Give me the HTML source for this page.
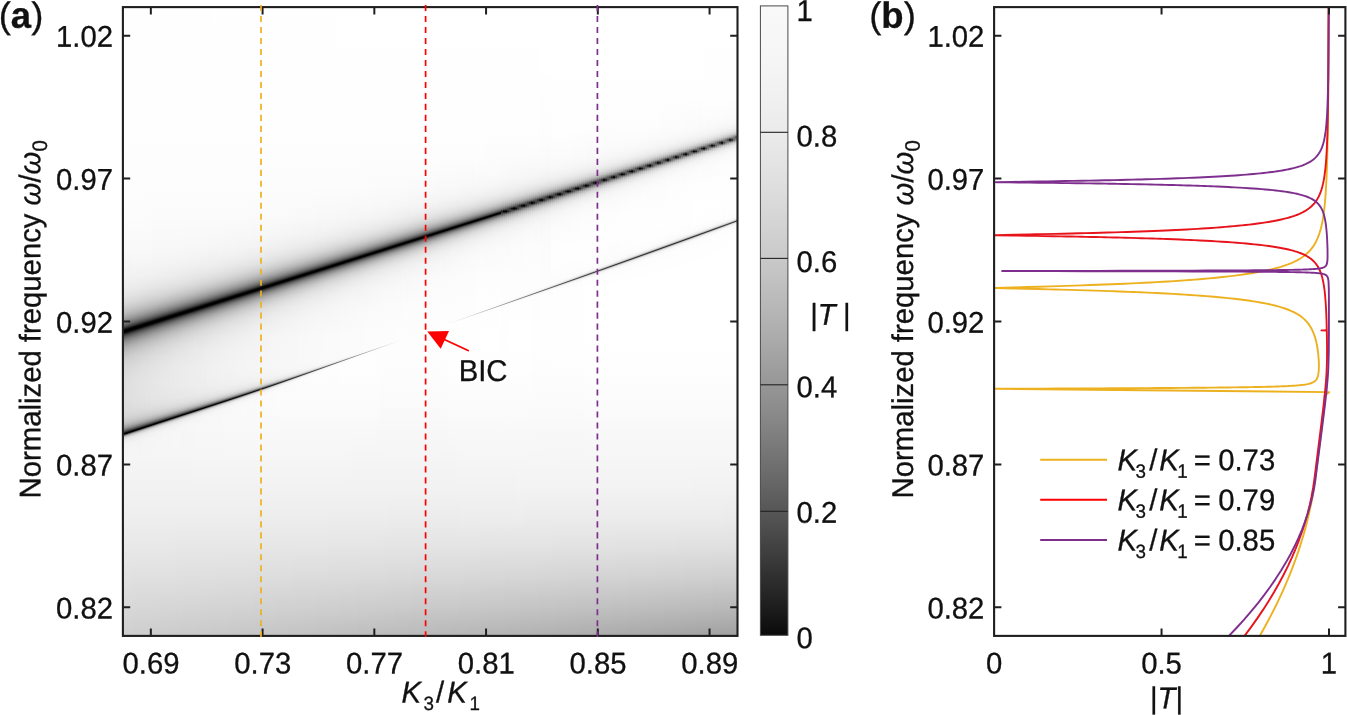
<!DOCTYPE html>
<html lang="en"><head><meta charset="utf-8"><title>Figure</title>
<style>
html,body{margin:0;padding:0;background:#fff}
body{width:1347px;height:715px;position:relative;overflow:hidden}
#hm{position:absolute;left:123px;top:7px;width:615px;height:629px;overflow:hidden}
#hm i{position:absolute;top:0;width:2px;height:629px;display:block;transform:skewY(-18.3deg)}
#hm i.n{transform:none}
svg{position:absolute;left:0;top:0}
</style></head><body>
<div id="hm"><i style="left:0px;background:linear-gradient(#fefefe 0px,#fefefe 30px,#fefefe 60px,#fefefe 90px,#fefefe 120px,#fdfdfd 150px,#fdfdfd 180px,#fcfcfc 210px,#f9f9f9 240px,#f2f2f2 270px,#ececec 279.75px,#e5e5e5 287.75px,#dcdcdc 294.5px,#d0d0d0 300px,#c2c2c2 304.5px,#b2b2b2 308.25px,#9e9e9e 311.75px,#878787 314.75px,#6e6e6e 317.25px,#505050 319.5px,#3f3f3f 320.5px,#303030 321.25px,#060606 323px,#010101 323.5px,#000000 325.25px,#040404 325.75px,#090909 326px,#292929 327.25px,#3a3a3a 328px,#4c4c4c 329px,#5b5b5b 330px,#767676 332.25px,#8c8c8c 334.75px,#9f9f9f 337.75px,#b0b0b0 341.25px,#bdbdbd 345px,#c8c8c8 349.25px,#d0d0d0 354.25px,#d6d6d6 360px,#dddddd 373.25px,#dfdfdf 390px,#dbdbdb 402.75px,#d7d7d7 407.25px,#d1d1d1 411px,#cacaca 414px,#c1c1c1 416.25px,#b4b4b4 418.25px,#a4a4a4 420px,#8c8c8c 421.75px,#6f6f6f 423.25px,#555555 424.25px,#3e3e3e 425px,#2c2c2c 425.5px,#0c0c0c 426.25px,#040404 426.5px,#010101 426.75px,#010101 427.25px,#080808 427.5px,#242424 427.75px,#444444 428px,#5e5e5e 428.25px,#747474 428.5px,#878787 428.75px,#979797 429px,#a5a5a5 429.25px,#bababa 429.75px,#c8c8c8 430.25px,#d2d2d2 430.75px,#dddddd 431.5px,#e3e3e3 432.25px,#e9e9e9 433.25px,#f0f0f0 436.25px,#f4f4f4 441px,#f5f5f5 450px,#f2f2f2 480px,#eeeeee 510px,#e8e8e8 540px,#e1e1e1 570px,#d8d8d8 600px,#cecece 629px)"></i><i style="left:2px;background:linear-gradient(#fefefe 0px,#fefefe 30px,#fefefe 60px,#fefefe 90px,#fefefe 120px,#fdfdfd 150px,#fdfdfd 180px,#fcfcfc 210px,#f9f9f9 240px,#f2f2f2 270px,#ececec 279.75px,#e5e5e5 287.75px,#dbdbdb 294.5px,#cecece 300px,#c1c1c1 304.25px,#b1b1b1 308px,#9e9e9e 311.25px,#878787 314.25px,#6d6d6d 316.75px,#525252 318.75px,#424242 319.75px,#333333 320.5px,#090909 322.25px,#050505 322.5px,#010101 323px,#000000 324.5px,#030303 325px,#0c0c0c 325.5px,#272727 326.5px,#3d3d3d 327.5px,#525252 328.75px,#646464 330px,#7c7c7c 332.25px,#919191 334.75px,#a3a3a3 337.75px,#b3b3b3 341.25px,#c0c0c0 345px,#c9c9c9 349.25px,#d1d1d1 354.25px,#d7d7d7 360px,#dedede 373.5px,#dfdfdf 390px,#dbdbdb 403px,#d7d7d7 407.5px,#d1d1d1 411px,#c8c8c8 414px,#bebebe 416.25px,#b0b0b0 418.25px,#9d9d9d 420px,#868686 421.5px,#6c6c6c 422.75px,#595959 423.5px,#424242 424.25px,#313131 424.75px,#070707 425.75px,#020202 426px,#000000 426.5px,#030303 426.75px,#181818 427px,#3a3a3a 427.25px,#565656 427.5px,#6d6d6d 427.75px,#818181 428px,#929292 428.25px,#a1a1a1 428.5px,#b7b7b7 429px,#c6c6c6 429.5px,#d5d5d5 430.25px,#dfdfdf 431px,#e6e6e6 432px,#ebebeb 433px,#f1f1f1 436px,#f4f4f4 441px,#f5f5f5 450px,#f2f2f2 480px,#eeeeee 510px,#e8e8e8 540px,#e1e1e1 570px,#d8d8d8 600px,#cecece 629px)"></i><i style="left:4px;background:linear-gradient(#fefefe 0px,#fefefe 30px,#fefefe 60px,#fefefe 90px,#fefefe 120px,#fdfdfd 150px,#fdfdfd 180px,#fcfcfc 210px,#f9f9f9 240px,#f1f1f1 270px,#ececec 279.75px,#e4e4e4 287.75px,#dadada 294.5px,#cdcdcd 300px,#c0c0c0 304px,#afafaf 307.75px,#9c9c9c 311px,#868686 313.75px,#6f6f6f 316px,#555555 318px,#363636 319.75px,#070707 321.75px,#030303 322px,#000000 322.5px,#000000 324px,#050505 324.5px,#101010 325px,#2a2a2a 326px,#404040 327px,#595959 328.5px,#6c6c6c 330px,#838383 332.25px,#989898 335px,#a9a9a9 338px,#b6b6b6 341.25px,#c2c2c2 345px,#cbcbcb 349.25px,#d3d3d3 354.25px,#d8d8d8 360px,#dfdfdf 373.5px,#e0e0e0 390px,#dbdbdb 403.25px,#d6d6d6 407.75px,#d0d0d0 411.25px,#c6c6c6 414.25px,#bababa 416.5px,#ababab 418.25px,#969696 420px,#808080 421.25px,#636363 422.5px,#4e4e4e 423.25px,#3e3e3e 423.75px,#2b2b2b 424.25px,#0a0a0a 425px,#030303 425.25px,#000000 425.75px,#010101 426px,#0e0e0e 426.25px,#2e2e2e 426.5px,#4c4c4c 426.75px,#656565 427px,#7b7b7b 427.25px,#8d8d8d 427.5px,#9c9c9c 427.75px,#a9a9a9 428px,#bdbdbd 428.5px,#cacaca 429px,#d4d4d4 429.5px,#dedede 430.25px,#e6e6e6 431.25px,#ebebeb 432.25px,#f1f1f1 435.25px,#f4f4f4 440.5px,#f5f5f5 450px,#f2f2f2 480px,#eeeeee 510px,#e8e8e8 540px,#e1e1e1 570px,#d8d8d8 600px,#cecece 629px)"></i><i style="left:6px;background:linear-gradient(#fefefe 0px,#fefefe 30px,#fefefe 60px,#fefefe 90px,#fefefe 120px,#fdfdfd 150px,#fdfdfd 180px,#fcfcfc 210px,#f9f9f9 240px,#f1f1f1 270px,#ebebeb 279.75px,#e4e4e4 287.75px,#d9d9d9 294.5px,#cbcbcb 300px,#bebebe 304px,#adadad 307.5px,#999999 310.75px,#838383 313.5px,#6b6b6b 315.75px,#4f4f4f 317.75px,#343434 319.25px,#090909 321px,#050505 321.25px,#010101 321.75px,#000000 323.25px,#030303 323.75px,#0d0d0d 324.25px,#333333 325.75px,#474747 326.75px,#5e5e5e 328.25px,#747474 330px,#898989 332.25px,#9c9c9c 335px,#acacac 338px,#b9b9b9 341.25px,#c4c4c4 345px,#cdcdcd 349.25px,#d4d4d4 354.25px,#d9d9d9 360px,#e0e0e0 373.5px,#e0e0e0 390px,#dbdbdb 403.5px,#d6d6d6 408px,#cecece 411.5px,#c4c4c4 414.25px,#b6b6b6 416.5px,#a5a5a5 418.25px,#989898 419.25px,#8c8c8c 420px,#737373 421.25px,#525252 422.5px,#424242 423px,#303030 423.5px,#0e0e0e 424.25px,#050505 424.5px,#010101 424.75px,#010101 425.25px,#060606 425.5px,#222222 425.75px,#434343 426px,#5d5d5d 426.25px,#747474 426.5px,#878787 426.75px,#979797 427px,#a5a5a5 427.25px,#bababa 427.75px,#c8c8c8 428.25px,#d7d7d7 429px,#e0e0e0 429.75px,#e7e7e7 430.75px,#ebebeb 431.75px,#f2f2f2 435px,#f4f4f4 440.25px,#f5f5f5 450px,#f2f2f2 480px,#eeeeee 510px,#e8e8e8 540px,#e1e1e1 570px,#d8d8d8 600px,#cecece 629px)"></i><i style="left:8px;background:linear-gradient(#fefefe 0px,#fefefe 30px,#fefefe 60px,#fefefe 90px,#fefefe 120px,#fdfdfd 150px,#fdfdfd 180px,#fcfcfc 210px,#f9f9f9 240px,#f1f1f1 270px,#ebebeb 279.75px,#e3e3e3 287.75px,#d8d8d8 294.5px,#cacaca 300px,#bcbcbc 303.75px,#acacac 307.25px,#999999 310.25px,#828282 313px,#6a6a6a 315.25px,#515151 317px,#404040 318px,#313131 318.75px,#070707 320.5px,#030303 320.75px,#000000 321.25px,#000000 322.75px,#050505 323.25px,#0a0a0a 323.5px,#313131 325px,#4a4a4a 326.25px,#646464 328px,#7b7b7b 330px,#8e8e8e 332.25px,#a0a0a0 335px,#b0b0b0 338px,#bdbdbd 341.5px,#c7c7c7 345.25px,#cfcfcf 349.5px,#dadada 360px,#e0e0e0 373.75px,#e1e1e1 390px,#dfdfdf 397.75px,#dbdbdb 403.5px,#d5d5d5 408px,#cdcdcd 411.5px,#c2c2c2 414.25px,#b2b2b2 416.5px,#9e9e9e 418.25px,#8f8f8f 419.25px,#818181 420px,#6b6b6b 421px,#4f4f4f 422px,#353535 422.75px,#090909 423.75px,#020202 424px,#000000 424.5px,#030303 424.75px,#161616 425px,#383838 425.25px,#545454 425.5px,#6c6c6c 425.75px,#818181 426px,#929292 426.25px,#a1a1a1 426.5px,#b7b7b7 427px,#c7c7c7 427.5px,#d6d6d6 428.25px,#dfdfdf 429px,#e7e7e7 430px,#ebebeb 431px,#f2f2f2 434.25px,#f4f4f4 439.75px,#f5f5f5 450px,#f2f2f2 480px,#eeeeee 510px,#e8e8e8 540px,#e1e1e1 570px,#d8d8d8 600px,#cecece 629px)"></i><i style="left:10px;background:linear-gradient(#fefefe 0px,#fefefe 30px,#fefefe 60px,#fefefe 90px,#fefefe 120px,#fdfdfd 150px,#fdfdfd 180px,#fcfcfc 210px,#f9f9f9 240px,#f6f6f6 257px,#f1f1f1 270px,#ebebeb 279.75px,#e2e2e2 287.75px,#d7d7d7 294.5px,#c8c8c8 300px,#bababa 303.75px,#aaaaaa 307px,#969696 310px,#818181 312.5px,#686868 314.75px,#505050 316.5px,#343434 318px,#090909 319.75px,#050505 320px,#010101 320.5px,#000000 322px,#030303 322.5px,#0d0d0d 323px,#222222 323.75px,#343434 324.5px,#4c4c4c 325.75px,#696969 327.75px,#818181 330px,#939393 332.25px,#a5a5a5 335px,#b3b3b3 338px,#bfbfbf 341.5px,#c9c9c9 345.25px,#d0d0d0 349.5px,#dbdbdb 360px,#e1e1e1 373.75px,#e1e1e1 390px,#dfdfdf 398px,#dbdbdb 404px,#d4d4d4 408.5px,#cbcbcb 411.75px,#bfbfbf 414.25px,#adadad 416.5px,#969696 418.25px,#858585 419.25px,#747474 420px,#5a5a5a 421px,#424242 421.75px,#2f2f2f 422.25px,#0d0d0d 423px,#040404 423.25px,#010101 423.5px,#010101 424px,#0c0c0c 424.25px,#4b4b4b 424.75px,#646464 425px,#7a7a7a 425.25px,#8c8c8c 425.5px,#9c9c9c 425.75px,#a9a9a9 426px,#bdbdbd 426.5px,#cbcbcb 427px,#d8d8d8 427.75px,#e1e1e1 428.5px,#e8e8e8 429.5px,#ececec 430.5px,#f2f2f2 434px,#f5f5f5 439.5px,#f5f5f5 450px,#f2f2f2 480px,#eeeeee 510px,#e8e8e8 540px,#e0e0e0 570px,#d8d8d8 600px,#cdcdcd 629px)"></i><i style="left:12px;background:linear-gradient(#fefefe 0px,#fefefe 30px,#fefefe 60px,#fefefe 90px,#fefefe 120px,#fdfdfd 150px,#fdfdfd 180px,#fcfcfc 210px,#f9f9f9 240px,#f5f5f5 257px,#f1f1f1 270px,#eaeaea 280px,#e1e1e1 288px,#d6d6d6 294.5px,#c6c6c6 300px,#b9b9b9 303.5px,#a8a8a8 306.75px,#949494 309.75px,#7e7e7e 312.25px,#676767 314.25px,#4e4e4e 316px,#323232 317.5px,#070707 319.25px,#030303 319.5px,#000000 320px,#010101 321.5px,#050505 322px,#0a0a0a 322.25px,#323232 323.75px,#4f4f4f 325.25px,#5e5e5e 326.25px,#6e6e6e 327.5px,#878787 330px,#989898 332.25px,#a8a8a8 335px,#b6b6b6 338px,#c1c1c1 341.5px,#cbcbcb 345.25px,#d2d2d2 349.5px,#dcdcdc 360px,#e2e2e2 374px,#e2e2e2 390px,#dfdfdf 398px,#dbdbdb 404px,#d3d3d3 408.5px,#c9c9c9 411.75px,#bcbcbc 414.25px,#b1b1b1 415.5px,#a7a7a7 416.5px,#999999 417.5px,#8d8d8d 418.25px,#787878 419.25px,#656565 420px,#4f4f4f 420.75px,#3e3e3e 421.25px,#2a2a2a 421.75px,#070707 422.5px,#020202 422.75px,#000000 423.25px,#050505 423.5px,#1f1f1f 423.75px,#404040 424px,#5c5c5c 424.25px,#737373 424.5px,#868686 424.75px,#979797 425px,#a5a5a5 425.25px,#bababa 425.75px,#c9c9c9 426.25px,#d7d7d7 427px,#e0e0e0 427.75px,#e7e7e7 428.75px,#ececec 429.75px,#f2f2f2 433.25px,#f5f5f5 439px,#f5f5f5 450px,#f2f2f2 480px,#eeeeee 510px,#e8e8e8 540px,#e0e0e0 570px,#d7d7d7 600px,#cdcdcd 629px)"></i><i style="left:14px;background:linear-gradient(#fefefe 0px,#fefefe 30px,#fefefe 60px,#fefefe 90px,#fefefe 120px,#fdfdfd 150px,#fdfdfd 180px,#fcfcfc 210px,#f9f9f9 240px,#f5f5f5 257px,#f0f0f0 270px,#eaeaea 280px,#e1e1e1 288px,#d4d4d4 294.5px,#c4c4c4 300px,#b6b6b6 303.5px,#a6a6a6 306.5px,#939393 309.25px,#7d7d7d 311.75px,#696969 313.5px,#505050 315.25px,#353535 316.75px,#0a0a0a 318.5px,#020202 319px,#000000 319.5px,#000000 320.75px,#040404 321.25px,#0e0e0e 321.75px,#232323 322.5px,#353535 323.25px,#454545 324px,#565656 325px,#646464 326px,#737373 327.25px,#8d8d8d 330px,#9f9f9f 332.5px,#adadad 335.25px,#bababa 338.25px,#c4c4c4 341.5px,#cccccc 345.25px,#d3d3d3 349.5px,#dddddd 360px,#e2e2e2 374px,#e2e2e2 390px,#dfdfdf 398px,#dadada 404px,#d3d3d3 408.5px,#c7c7c7 411.75px,#b8b8b8 414.25px,#acacac 415.5px,#a0a0a0 416.5px,#909090 417.5px,#818181 418.25px,#696969 419.25px,#535353 420px,#393939 420.75px,#232323 421.25px,#0b0b0b 421.75px,#030303 422px,#000000 422.25px,#020202 422.75px,#131313 423px,#353535 423.25px,#535353 423.5px,#6b6b6b 423.75px,#808080 424px,#929292 424.25px,#a1a1a1 424.5px,#adadad 424.75px,#c0c0c0 425.25px,#d2d2d2 426px,#e0e0e0 427px,#e7e7e7 428px,#efefef 430.25px,#f3f3f3 433.75px,#f5f5f5 450px,#f2f2f2 480px,#eeeeee 510px,#e8e8e8 540px,#e0e0e0 570px,#d7d7d7 600px,#cdcdcd 629px)"></i><i style="left:16px;background:linear-gradient(#fefefe 0px,#fefefe 30px,#fefefe 60px,#fefefe 90px,#fefefe 120px,#fdfdfd 150px,#fdfdfd 180px,#fcfcfc 210px,#f9f9f9 240px,#f5f5f5 257px,#f0f0f0 270px,#e9e9e9 280px,#e0e0e0 288px,#d3d3d3 294.5px,#c2c2c2 300px,#b5b5b5 303.25px,#a4a4a4 306.25px,#909090 309px,#7c7c7c 311.25px,#686868 313px,#4e4e4e 314.75px,#323232 316.25px,#070707 318px,#030303 318.25px,#000000 318.75px,#000000 320px,#020202 320.5px,#0b0b0b 321px,#272727 322px,#393939 322.75px,#474747 323.5px,#585858 324.5px,#696969 325.75px,#787878 327px,#929292 330px,#a3a3a3 332.5px,#b1b1b1 335.25px,#bcbcbc 338.25px,#c6c6c6 341.5px,#cecece 345.25px,#d5d5d5 349.5px,#dedede 360px,#e3e3e3 374px,#e2e2e2 390px,#dfdfdf 398.5px,#dadada 404.5px,#d1d1d1 408.75px,#c4c4c4 412px,#bcbcbc 413.25px,#b1b1b1 414.5px,#a6a6a6 415.5px,#979797 416.5px,#848484 417.5px,#737373 418.25px,#575757 419.25px,#3e3e3e 420px,#292929 420.5px,#101010 421px,#060606 421.25px,#010101 421.5px,#010101 422px,#0a0a0a 422.25px,#494949 422.75px,#636363 423px,#797979 423.25px,#8c8c8c 423.5px,#9c9c9c 423.75px,#b4b4b4 424.25px,#c5c5c5 424.75px,#d5d5d5 425.5px,#dfdfdf 426.25px,#e7e7e7 427.25px,#efefef 429.5px,#f3f3f3 433px,#f5f5f5 450px,#f2f2f2 480px,#eeeeee 510px,#e8e8e8 540px,#e0e0e0 570px,#d7d7d7 600px,#cdcdcd 629px)"></i><i style="left:18px;background:linear-gradient(#fefefe 0px,#fefefe 30px,#fefefe 60px,#fefefe 90px,#fefefe 120px,#fdfdfd 150px,#fdfdfd 180px,#fcfcfc 210px,#f9f9f9 240px,#f5f5f5 257px,#f0f0f0 270px,#e9e9e9 280px,#dfdfdf 288px,#d2d2d2 294.5px,#c0c0c0 300px,#b2b2b2 303.25px,#a2a2a2 306px,#909090 308.5px,#7b7b7b 310.75px,#666666 312.5px,#515151 314px,#353535 315.5px,#0a0a0a 317.25px,#020202 317.75px,#000000 318.25px,#000000 319.5px,#040404 320px,#0e0e0e 320.5px,#242424 321.25px,#363636 322px,#4a4a4a 323px,#5a5a5a 324px,#6b6b6b 325.25px,#7c7c7c 326.75px,#8a8a8a 328.25px,#989898 330px,#a7a7a7 332.5px,#b4b4b4 335.25px,#bfbfbf 338.25px,#c8c8c8 341.5px,#d6d6d6 349.5px,#dfdfdf 360px,#e3e3e3 374.25px,#e3e3e3 390px,#dfdfdf 398.5px,#d9d9d9 404.5px,#d0d0d0 408.75px,#c9c9c9 410.5px,#c1c1c1 412px,#b8b8b8 413.25px,#ababab 414.5px,#9a9a9a 415.75px,#888888 416.75px,#717171 417.75px,#5c5c5c 418.5px,#424242 419.25px,#222222 420px,#0a0a0a 420.5px,#020202 420.75px,#000000 421.25px,#040404 421.5px,#1c1c1c 421.75px,#3e3e3e 422px,#5a5a5a 422.25px,#727272 422.5px,#868686 422.75px,#979797 423px,#a5a5a5 423.25px,#bbbbbb 423.75px,#c3c3c3 424px,#cfcfcf 424.5px,#dbdbdb 425.25px,#e5e5e5 426.25px,#eaeaea 427.25px,#eeeeee 428.5px,#f3f3f3 432px,#f5f5f5 438.25px,#f5f5f5 450px,#f2f2f2 480px,#eeeeee 510px,#e8e8e8 540px,#e0e0e0 570px,#d7d7d7 600px,#cdcdcd 629px)"></i><i style="left:20px;background:linear-gradient(#fefefe 0px,#fefefe 30px,#fefefe 60px,#fefefe 90px,#fefefe 120px,#fdfdfd 150px,#fdfdfd 180px,#fcfcfc 210px,#f9f9f9 240px,#f5f5f5 257px,#f0f0f0 270px,#e8e8e8 280px,#dedede 288px,#d0d0d0 294.5px,#bebebe 300px,#b0b0b0 303px,#a0a0a0 305.75px,#8d8d8d 308.25px,#777777 310.5px,#626262 312.25px,#4b4b4b 313.75px,#333333 315px,#070707 316.75px,#030303 317px,#000000 317.5px,#000000 318.75px,#020202 319.25px,#0b0b0b 319.75px,#282828 320.75px,#393939 321.5px,#4d4d4d 322.5px,#606060 323.75px,#707070 325px,#808080 326.5px,#909090 328.25px,#9c9c9c 330px,#ababab 332.5px,#b7b7b7 335.25px,#c2c2c2 338.25px,#cacaca 341.5px,#d7d7d7 349.5px,#e0e0e0 360px,#e4e4e4 374.25px,#e3e3e3 390px,#dfdfdf 398.75px,#d9d9d9 404.75px,#cecece 409px,#c7c7c7 410.5px,#bebebe 412px,#b3b3b3 413.25px,#a4a4a4 414.5px,#959595 415.5px,#818181 416.5px,#676767 417.5px,#474747 418.5px,#333333 419px,#0f0f0f 419.75px,#050505 420px,#010101 420.25px,#020202 420.75px,#101010 421px,#323232 421.25px,#515151 421.5px,#6a6a6a 421.75px,#7f7f7f 422px,#929292 422.25px,#a1a1a1 422.5px,#adadad 422.75px,#c0c0c0 423.25px,#cecece 423.75px,#dadada 424.5px,#e2e2e2 425.25px,#e9e9e9 426.25px,#eeeeee 427.5px,#f3f3f3 431px,#f5f5f5 437.5px,#f5f5f5 450px,#f2f2f2 480px,#eeeeee 510px,#e8e8e8 540px,#e0e0e0 570px,#d7d7d7 600px,#cdcdcd 629px)"></i><i style="left:22px;background:linear-gradient(#fefefe 0px,#fefefe 30px,#fefefe 60px,#fefefe 90px,#fefefe 120px,#fdfdfd 150px,#fdfdfd 180px,#fbfbfb 210px,#f9f9f9 240px,#f5f5f5 257.25px,#f0f0f0 270px,#e8e8e8 280px,#dddddd 288px,#cfcfcf 294.5px,#bcbcbc 300px,#adadad 303px,#9e9e9e 305.5px,#8a8a8a 308px,#767676 310px,#646464 311.5px,#4d4d4d 313px,#303030 314.5px,#0a0a0a 316px,#020202 316.5px,#000000 317px,#000000 318.25px,#040404 318.75px,#0f0f0f 319.25px,#2b2b2b 320.25px,#424242 321.25px,#585858 322.5px,#6c6c6c 324px,#7b7b7b 325.25px,#898989 326.75px,#a1a1a1 330px,#afafaf 332.5px,#bababa 335.25px,#c4c4c4 338.25px,#cccccc 341.5px,#d8d8d8 349.5px,#e0e0e0 360px,#e4e4e4 374.5px,#e4e4e4 390px,#e0e0e0 398.5px,#d9d9d9 404.25px,#cecece 408.5px,#c7c7c7 410px,#bebebe 411.5px,#b2b2b2 412.75px,#a7a7a7 413.75px,#989898 414.75px,#848484 415.75px,#6b6b6b 416.75px,#4c4c4c 417.75px,#2d2d2d 418.5px,#080808 419.25px,#020202 419.5px,#010101 420px,#080808 420.25px,#252525 420.5px,#464646 420.75px,#616161 421px,#787878 421.25px,#8c8c8c 421.5px,#9c9c9c 421.75px,#a9a9a9 422px,#bebebe 422.5px,#c6c6c6 422.75px,#d1d1d1 423.25px,#dddddd 424px,#e4e4e4 424.75px,#eaeaea 425.75px,#eeeeee 427px,#f3f3f3 430.75px,#f5f5f5 437.25px,#f5f5f5 450px,#f2f2f2 480px,#eeeeee 510px,#e8e8e8 540px,#e0e0e0 570px,#d7d7d7 600px,#cdcdcd 629px)"></i><i style="left:24px;background:linear-gradient(#fefefe 0px,#fefefe 30px,#fefefe 60px,#fefefe 90px,#fefefe 120px,#fdfdfd 150px,#fdfdfd 180px,#fbfbfb 210px,#f9f9f9 240px,#f5f5f5 257.25px,#efefef 270px,#e7e7e7 280px,#dcdcdc 288px,#cdcdcd 294.5px,#b9b9b9 300px,#ababab 302.75px,#9b9b9b 305.25px,#898989 307.5px,#757575 309.5px,#5f5f5f 311.25px,#474747 312.75px,#2e2e2e 314px,#070707 315.5px,#010101 316px,#000000 316.5px,#010101 317.75px,#060606 318.25px,#2f2f2f 319.75px,#404040 320.5px,#5a5a5a 322px,#6f6f6f 323.5px,#7f7f7f 325px,#8d8d8d 326.5px,#a5a5a5 330px,#b2b2b2 332.5px,#bdbdbd 335.25px,#cecece 341.5px,#d9d9d9 349.5px,#e1e1e1 360px,#e5e5e5 374.5px,#e4e4e4 390px,#e1e1e1 397.5px,#dbdbdb 402.75px,#d3d3d3 406.75px,#c6c6c6 409.75px,#bcbcbc 411.25px,#adadad 412.75px,#9b9b9b 414px,#888888 415px,#6f6f6f 416px,#505050 417px,#333333 417.75px,#0d0d0d 418.5px,#040404 418.75px,#000000 419px,#000000 419.25px,#030303 419.5px,#181818 419.75px,#3b3b3b 420px,#585858 420.25px,#717171 420.5px,#858585 420.75px,#979797 421px,#a5a5a5 421.25px,#bbbbbb 421.75px,#cacaca 422.25px,#d9d9d9 423px,#e1e1e1 423.75px,#e7e7e7 424.5px,#efefef 426.75px,#f4f4f4 430.75px,#f5f5f5 450px,#f2f2f2 480px,#eeeeee 510px,#e8e8e8 540px,#e0e0e0 570px,#d7d7d7 600px,#cdcdcd 629px)"></i><i style="left:26px;background:linear-gradient(#fefefe 0px,#fefefe 30px,#fefefe 60px,#fefefe 90px,#fefefe 120px,#fdfdfd 150px,#fdfdfd 180px,#fbfbfb 210px,#f9f9f9 240px,#f5f5f5 257.25px,#efefef 270px,#e7e7e7 280px,#dbdbdb 288px,#cccccc 294.5px,#b7b7b7 300px,#a9a9a9 302.5px,#999999 305px,#888888 307px,#747474 309px,#616161 310.5px,#4e4e4e 311.75px,#313131 313.25px,#101010 314.5px,#050505 315px,#020202 315.25px,#000000 315.75px,#000000 317px,#040404 317.5px,#101010 318px,#2c2c2c 319px,#434343 320px,#5c5c5c 321.5px,#717171 323px,#818181 324.5px,#909090 326.25px,#9d9d9d 328px,#a9a9a9 330px,#b5b5b5 332.5px,#c0c0c0 335.25px,#cfcfcf 341.5px,#dbdbdb 349.5px,#e2e2e2 360px,#e5e5e5 374.75px,#e4e4e4 390px,#e0e0e0 398px,#dadada 403.5px,#cfcfcf 407.5px,#c7c7c7 409px,#bdbdbd 410.5px,#b2b2b2 411.75px,#a5a5a5 412.75px,#959595 413.75px,#808080 414.75px,#656565 415.75px,#4c4c4c 416.5px,#2d2d2d 417.25px,#070707 418px,#010101 418.25px,#010101 418.75px,#0e0e0e 419px,#4e4e4e 419.5px,#686868 419.75px,#7f7f7f 420px,#919191 420.25px,#a1a1a1 420.5px,#aeaeae 420.75px,#c1c1c1 421.25px,#cecece 421.75px,#d8d8d8 422.25px,#e1e1e1 423px,#e7e7e7 423.75px,#ececec 424.75px,#f2f2f2 427.25px,#f5f5f5 431.25px,#f5f5f5 450px,#f2f2f2 480px,#eeeeee 510px,#e8e8e8 540px,#e0e0e0 570px,#d7d7d7 600px,#cccccc 629px)"></i><i style="left:28px;background:linear-gradient(#fefefe 0px,#fefefe 30px,#fefefe 60px,#fefefe 90px,#fefefe 120px,#fdfdfd 150px,#fdfdfd 180px,#fbfbfb 210px,#f8f8f8 240px,#f5f5f5 257.25px,#efefef 270px,#e6e6e6 280px,#dbdbdb 288px,#cacaca 294.5px,#c0c0c0 297.25px,#b4b4b4 300px,#a6a6a6 302.5px,#969696 304.75px,#858585 306.75px,#737373 308.5px,#5c5c5c 310.25px,#434343 311.75px,#2e2e2e 312.75px,#080808 314.25px,#010101 314.75px,#000000 315.25px,#000000 316.25px,#030303 316.75px,#0d0d0d 317.25px,#303030 318.5px,#464646 319.5px,#5f5f5f 321px,#737373 322.5px,#858585 324.25px,#949494 326px,#a2a2a2 328px,#adadad 330px,#b8b8b8 332.5px,#c2c2c2 335.25px,#d1d1d1 341.5px,#dcdcdc 349.5px,#e3e3e3 360px,#e6e6e6 375px,#e5e5e5 390px,#e1e1e1 397.75px,#dadada 403.25px,#cfcfcf 407px,#c8c8c8 408.5px,#bdbdbd 410px,#b1b1b1 411.25px,#a5a5a5 412.25px,#949494 413.25px,#7e7e7e 414.25px,#696969 415px,#515151 415.75px,#323232 416.5px,#0b0b0b 417.25px,#030303 417.5px,#000000 417.75px,#010101 418px,#060606 418.25px,#212121 418.5px,#444444 418.75px,#606060 419px,#777777 419.25px,#8b8b8b 419.5px,#9c9c9c 419.75px,#aaaaaa 420px,#b5b5b5 420.25px,#c6c6c6 420.75px,#d2d2d2 421.25px,#dadada 421.75px,#e6e6e6 423px,#efefef 425px,#f3f3f3 427.75px,#f5f5f5 431.75px,#f5f5f5 450px,#f2f2f2 480px,#eeeeee 510px,#e8e8e8 540px,#e0e0e0 570px,#d7d7d7 600px,#cccccc 629px)"></i><i style="left:30px;background:linear-gradient(#fefefe 0px,#fefefe 30px,#fefefe 60px,#fefefe 90px,#fefefe 120px,#fdfdfd 150px,#fdfdfd 180px,#fbfbfb 210px,#f8f8f8 240px,#f4f4f4 257.25px,#efefef 270px,#e6e6e6 280px,#d9d9d9 288px,#c8c8c8 294.5px,#bebebe 297.25px,#b1b1b1 300px,#a4a4a4 302.25px,#949494 304.5px,#848484 306.25px,#727272 308px,#5a5a5a 309.75px,#414141 311.25px,#2b2b2b 312.25px,#111111 313.25px,#050505 313.75px,#010101 314.25px,#000000 315px,#000000 315.75px,#050505 316.25px,#0a0a0a 316.5px,#2d2d2d 317.75px,#444444 318.75px,#5d5d5d 320.25px,#757575 322px,#878787 323.75px,#969696 325.5px,#a5a5a5 327.75px,#b1b1b1 330px,#bbbbbb 332.5px,#c5c5c5 335.25px,#d3d3d3 341.75px,#dddddd 349.75px,#e3e3e3 360px,#e6e6e6 375px,#e5e5e5 390px,#e1e1e1 397.75px,#d9d9d9 403px,#cecece 406.75px,#c6c6c6 408.25px,#bdbdbd 409.5px,#b1b1b1 410.75px,#a4a4a4 411.75px,#929292 412.75px,#828282 413.5px,#666666 414.5px,#4c4c4c 415.25px,#383838 415.75px,#111111 416.5px,#060606 416.75px,#010101 417px,#000000 417.25px,#030303 417.5px,#151515 417.75px,#383838 418px,#565656 418.25px,#6f6f6f 418.5px,#858585 418.75px,#969696 419px,#a5a5a5 419.25px,#b2b2b2 419.5px,#c4c4c4 420px,#d5d5d5 420.75px,#dddddd 421.25px,#e4e4e4 422px,#ececec 423.5px,#f1f1f1 425.5px,#f5f5f5 432.5px,#f5f5f5 450px,#f2f2f2 480px,#eeeeee 510px,#e8e8e8 540px,#e0e0e0 570px,#d7d7d7 600px,#cccccc 629px)"></i><i style="left:32px;background:linear-gradient(#fefefe 0px,#fefefe 30px,#fefefe 60px,#fefefe 90px,#fefefe 120px,#fdfdfd 150px,#fdfdfd 180px,#fbfbfb 210px,#f8f8f8 240px,#f4f4f4 257.25px,#eeeeee 270px,#e5e5e5 280.25px,#d8d8d8 288.25px,#c6c6c6 294.75px,#bbbbbb 297.5px,#aeaeae 300px,#a2a2a2 302px,#939393 304px,#838383 305.75px,#737373 307.25px,#5c5c5c 309px,#434343 310.5px,#2e2e2e 311.5px,#0d0d0d 312.75px,#040404 313.25px,#000000 313.75px,#000000 314.75px,#010101 315.25px,#070707 315.75px,#313131 317.25px,#474747 318.25px,#606060 319.75px,#747474 321.25px,#898989 323.25px,#999999 325.25px,#a7a7a7 327.5px,#b4b4b4 330px,#c7c7c7 335.25px,#d5d5d5 341.75px,#dedede 349.75px,#e4e4e4 360px,#e7e7e7 375.25px,#e5e5e5 390px,#e1e1e1 397.5px,#dadada 402.5px,#cecece 406.25px,#c6c6c6 407.75px,#bdbdbd 409px,#b0b0b0 410.25px,#a3a3a3 411.25px,#919191 412.25px,#7f7f7f 413px,#626262 414px,#474747 414.75px,#323232 415.25px,#0a0a0a 416px,#020202 416.25px,#000000 416.5px,#010101 416.75px,#0b0b0b 417px,#4c4c4c 417.5px,#676767 417.75px,#7e7e7e 418px,#919191 418.25px,#a1a1a1 418.5px,#aeaeae 418.75px,#c1c1c1 419.25px,#d4d4d4 420px,#e1e1e1 421px,#e9e9e9 422px,#efefef 423.5px,#f3f3f3 425.75px,#f6f6f6 433px,#f5f5f5 450px,#f2f2f2 480px,#eeeeee 510px,#e8e8e8 540px,#e0e0e0 570px,#d7d7d7 600px,#cccccc 629px)"></i><i style="left:34px;background:linear-gradient(#fefefe 0px,#fefefe 30px,#fefefe 60px,#fefefe 90px,#fefefe 120px,#fdfdfd 150px,#fdfdfd 180px,#fbfbfb 210px,#f8f8f8 240px,#f4f4f4 257.25px,#eeeeee 270px,#e4e4e4 280.25px,#d7d7d7 288.25px,#cecece 291.75px,#c4c4c4 294.75px,#b8b8b8 297.5px,#ababab 300px,#909090 303.75px,#838383 305.25px,#727272 306.75px,#5b5b5b 308.5px,#414141 310px,#2c2c2c 311px,#111111 312px,#050505 312.5px,#010101 313px,#000000 314.25px,#020202 314.75px,#050505 315px,#0a0a0a 315.25px,#343434 316.75px,#4e4e4e 318px,#626262 319.25px,#767676 320.75px,#8a8a8a 322.75px,#9a9a9a 324.75px,#aaaaaa 327.25px,#b8b8b8 330px,#c9c9c9 335.25px,#d6d6d6 341.75px,#dfdfdf 349.75px,#e4e4e4 360px,#e7e7e7 375.5px,#e5e5e5 390px,#e1e1e1 397.25px,#dadada 402.25px,#cfcfcf 405.75px,#c7c7c7 407.25px,#bdbdbd 408.5px,#b0b0b0 409.75px,#a2a2a2 410.75px,#8f8f8f 411.75px,#7d7d7d 412.5px,#676767 413.25px,#4c4c4c 414px,#373737 414.5px,#0f0f0f 415.25px,#040404 415.5px,#010101 415.75px,#010101 416px,#050505 416.25px,#1d1d1d 416.5px,#414141 416.75px,#5e5e5e 417px,#767676 417.25px,#8a8a8a 417.5px,#9c9c9c 417.75px,#aaaaaa 418px,#b5b5b5 418.25px,#c7c7c7 418.75px,#d3d3d3 419.25px,#dedede 420px,#e7e7e7 421px,#ededed 422.25px,#f1f1f1 424px,#f4f4f4 426.25px,#f6f6f6 433.75px,#f5f5f5 450px,#f2f2f2 480px,#eeeeee 510px,#e8e8e8 540px,#e0e0e0 570px,#d7d7d7 600px,#cccccc 629px)"></i><i style="left:36px;background:linear-gradient(#fefefe 0px,#fefefe 30px,#fefefe 60px,#fefefe 90px,#fefefe 120px,#fdfdfd 150px,#fdfdfd 180px,#fbfbfb 210px,#f8f8f8 240px,#f4f4f4 257.25px,#eeeeee 270px,#e4e4e4 280.25px,#d6d6d6 288.25px,#cccccc 291.75px,#c2c2c2 294.75px,#b5b5b5 297.5px,#a7a7a7 300px,#8d8d8d 303.5px,#717171 306.25px,#5d5d5d 307.75px,#444444 309.25px,#2f2f2f 310.25px,#0e0e0e 311.5px,#040404 312px,#000000 312.5px,#000000 313.75px,#030303 314.25px,#070707 314.5px,#323232 316px,#4c4c4c 317.25px,#656565 318.75px,#787878 320.25px,#8c8c8c 322.25px,#9e9e9e 324.5px,#adadad 327px,#bbbbbb 330px,#cbcbcb 335.25px,#d7d7d7 341.75px,#e0e0e0 349.75px,#e5e5e5 360px,#e8e8e8 375.5px,#e6e6e6 390px,#e1e1e1 397px,#dadada 402px,#cecece 405.5px,#c7c7c7 406.75px,#bdbdbd 408px,#b2b2b2 409px,#a5a5a5 410px,#929292 411px,#818181 411.75px,#636363 412.75px,#484848 413.5px,#313131 414px,#080808 414.75px,#010101 415px,#000000 415.25px,#020202 415.5px,#111111 415.75px,#343434 416px,#545454 416.25px,#6e6e6e 416.5px,#848484 416.75px,#969696 417px,#a5a5a5 417.25px,#b2b2b2 417.5px,#c4c4c4 418px,#d1d1d1 418.5px,#dddddd 419.25px,#e5e5e5 420px,#ebebeb 421px,#f0f0f0 422.5px,#f4f4f4 426.5px,#f6f6f6 434px,#f5f5f5 450px,#f2f2f2 480px,#eeeeee 510px,#e8e8e8 540px,#e0e0e0 570px,#d6d6d6 600px,#cccccc 629px)"></i><i style="left:38px;background:linear-gradient(#fefefe 0px,#fefefe 30px,#fefefe 60px,#fefefe 90px,#fefefe 120px,#fdfdfd 150px,#fdfdfd 180px,#fbfbfb 210px,#f8f8f8 240px,#f4f4f4 257.25px,#ededed 270px,#e3e3e3 280.25px,#d4d4d4 288.25px,#cacaca 291.75px,#bfbfbf 294.75px,#b2b2b2 297.5px,#a4a4a4 300px,#8a8a8a 303.25px,#7b7b7b 304.75px,#6d6d6d 306px,#585858 307.5px,#424242 308.75px,#2c2c2c 309.75px,#0b0b0b 311px,#060606 311.25px,#010101 311.75px,#000000 313px,#020202 313.5px,#050505 313.75px,#0b0b0b 314px,#282828 315px,#353535 315.5px,#4f4f4f 316.75px,#676767 318.25px,#7a7a7a 319.75px,#8e8e8e 321.75px,#a1a1a1 324.25px,#b1b1b1 327px,#bebebe 330px,#cdcdcd 335.25px,#d9d9d9 341.75px,#e1e1e1 349.75px,#e6e6e6 360px,#e8e8e8 375.75px,#e6e6e6 390px,#e1e1e1 396.75px,#dadada 401.5px,#cecece 405px,#c7c7c7 406.25px,#bdbdbd 407.5px,#b2b2b2 408.5px,#a4a4a4 409.5px,#919191 410.5px,#7e7e7e 411.25px,#686868 412px,#4d4d4d 412.75px,#373737 413.25px,#0e0e0e 414px,#030303 414.25px,#010101 414.5px,#010101 414.75px,#090909 415px,#262626 415.25px,#494949 415.5px,#656565 415.75px,#7c7c7c 416px,#909090 416.25px,#a0a0a0 416.5px,#aeaeae 416.75px,#b9b9b9 417px,#c9c9c9 417.5px,#d9d9d9 418.25px,#e2e2e2 419px,#e9e9e9 420px,#f1f1f1 422.5px,#f5f5f5 426.75px,#f5f5f5 450px,#f2f2f2 480px,#eeeeee 510px,#e8e8e8 540px,#e0e0e0 570px,#d6d6d6 600px,#cccccc 629px)"></i><i style="left:40px;background:linear-gradient(#fefefe 0px,#fefefe 30px,#fefefe 60px,#fefefe 90px,#fefefe 120px,#fdfdfd 150px,#fdfdfd 180px,#fbfbfb 210px,#f8f8f8 240px,#f4f4f4 257.25px,#ededed 270px,#e2e2e2 280.25px,#d3d3d3 288.25px,#c9c9c9 291.75px,#bdbdbd 294.75px,#afafaf 297.5px,#a0a0a0 300px,#929292 301.75px,#828282 303.5px,#727272 305px,#616161 306.25px,#4e4e4e 307.5px,#3a3a3a 308.5px,#292929 309.25px,#0e0e0e 310.25px,#040404 310.75px,#000000 311.25px,#000000 312.5px,#030303 313px,#080808 313.25px,#333333 314.75px,#4d4d4d 316px,#666666 317.5px,#7c7c7c 319.25px,#919191 321.5px,#a4a4a4 324px,#b3b3b3 326.75px,#c0c0c0 330px,#cfcfcf 335.25px,#dadada 341.75px,#e1e1e1 349.75px,#e6e6e6 360px,#e9e9e9 376px,#e6e6e6 390px,#e1e1e1 396.75px,#dadada 401.25px,#cecece 404.5px,#c7c7c7 405.75px,#bdbdbd 407px,#b1b1b1 408px,#a3a3a3 409px,#949494 409.75px,#838383 410.5px,#646464 411.5px,#484848 412.25px,#313131 412.75px,#070707 413.5px,#010101 413.75px,#010101 414px,#040404 414.25px,#191919 414.5px,#3d3d3d 414.75px,#5b5b5b 415px,#747474 415.25px,#8a8a8a 415.5px,#9b9b9b 415.75px,#aaaaaa 416px,#b6b6b6 416.25px,#bfbfbf 416.5px,#cecece 417px,#dcdcdc 417.75px,#e6e6e6 418.75px,#ededed 420px,#f3f3f3 422.75px,#f6f6f6 427.25px,#f5f5f5 450px,#f2f2f2 480px,#eeeeee 510px,#e8e8e8 540px,#e0e0e0 570px,#d6d6d6 600px,#cccccc 629px)"></i><i style="left:42px;background:linear-gradient(#fefefe 0px,#fefefe 30px,#fefefe 60px,#fefefe 90px,#fefefe 120px,#fdfdfd 150px,#fdfdfd 180px,#fbfbfb 210px,#f8f8f8 240px,#f4f4f4 257.25px,#ededed 270px,#e2e2e2 280.25px,#dadada 284.5px,#d2d2d2 288.25px,#c7c7c7 291.75px,#bababa 294.75px,#acacac 297.5px,#9b9b9b 300px,#8d8d8d 301.75px,#7f7f7f 303.25px,#6d6d6d 304.75px,#5c5c5c 306px,#4c4c4c 307px,#383838 308px,#262626 308.75px,#0b0b0b 309.75px,#020202 310.25px,#000000 310.75px,#000000 311.75px,#020202 312.25px,#050505 312.5px,#363636 314.25px,#464646 315px,#545454 315.75px,#6b6b6b 317.25px,#808080 319px,#959595 321.25px,#a7a7a7 323.75px,#b6b6b6 326.75px,#c3c3c3 330px,#d1d1d1 335.25px,#dbdbdb 341.75px,#e2e2e2 349.75px,#e7e7e7 360px,#e9e9e9 376px,#e6e6e6 390px,#e2e2e2 396.25px,#dadada 400.75px,#cecece 404px,#c7c7c7 405.25px,#bcbcbc 406.5px,#b1b1b1 407.5px,#a1a1a1 408.5px,#939393 409.25px,#808080 410px,#696969 410.75px,#575757 411.25px,#373737 412px,#0c0c0c 412.75px,#020202 413px,#010101 413.25px,#020202 413.5px,#0e0e0e 413.75px,#515151 414.25px,#6c6c6c 414.5px,#838383 414.75px,#969696 415px,#a5a5a5 415.25px,#bcbcbc 415.75px,#c5c5c5 416px,#d2d2d2 416.5px,#dedede 417.25px,#e9e9e9 418.5px,#efefef 420px,#f4f4f4 422.75px,#f6f6f6 427.5px,#f5f5f5 450px,#f2f2f2 480px,#eeeeee 510px,#e8e8e8 540px,#e0e0e0 570px,#d6d6d6 600px,#cbcbcb 629px)"></i><i style="left:44px;background:linear-gradient(#fefefe 0px,#fefefe 30px,#fefefe 60px,#fefefe 90px,#fefefe 120px,#fdfdfd 150px,#fdfdfd 180px,#fbfbfb 210px,#f8f8f8 240px,#f3f3f3 257.25px,#ececec 270px,#e1e1e1 280.25px,#d9d9d9 284.5px,#d0d0d0 288.25px,#c5c5c5 291.75px,#b8b8b8 294.75px,#a9a9a9 297.5px,#979797 300px,#7b7b7b 303px,#6c6c6c 304.25px,#5a5a5a 305.5px,#3b3b3b 307.25px,#2a2a2a 308px,#0e0e0e 309px,#040404 309.5px,#000000 310px,#000000 311.25px,#040404 311.75px,#080808 312px,#333333 313.5px,#444444 314.25px,#535353 315px,#6d6d6d 316.75px,#828282 318.5px,#969696 320.75px,#a9a9a9 323.5px,#b9b9b9 326.5px,#c6c6c6 330px,#d3d3d3 335.25px,#dcdcdc 341.75px,#e3e3e3 349.75px,#e7e7e7 360px,#e9e9e9 376.25px,#e6e6e6 390px,#e2e2e2 396.25px,#dadada 400.5px,#cdcdcd 403.75px,#c5c5c5 405px,#bcbcbc 406px,#b0b0b0 407px,#a0a0a0 408px,#919191 408.75px,#7d7d7d 409.5px,#656565 410.25px,#484848 411px,#303030 411.5px,#121212 412px,#060606 412.25px,#010101 412.5px,#010101 412.75px,#070707 413px,#222222 413.25px,#454545 413.5px,#626262 413.75px,#7b7b7b 414px,#8f8f8f 414.25px,#a0a0a0 414.5px,#aeaeae 414.75px,#c3c3c3 415.25px,#cacaca 415.5px,#d5d5d5 416px,#e3e3e3 417px,#ebebeb 418.25px,#f1f1f1 420px,#f4f4f4 423px,#f6f6f6 427.75px,#f5f5f5 450px,#f2f2f2 480px,#eeeeee 510px,#e8e8e8 540px,#e0e0e0 570px,#d6d6d6 600px,#cbcbcb 629px)"></i><i style="left:46px;background:linear-gradient(#fefefe 0px,#fefefe 30px,#fefefe 60px,#fefefe 90px,#fefefe 120px,#fdfdfd 150px,#fdfdfd 180px,#fbfbfb 210px,#f8f8f8 240px,#f3f3f3 257.25px,#ececec 270px,#e0e0e0 280.25px,#d8d8d8 284.5px,#cecece 288.25px,#c2c2c2 291.75px,#b5b5b5 294.75px,#a5a5a5 297.5px,#929292 300px,#777777 302.75px,#595959 305px,#484848 306px,#393939 306.75px,#272727 307.5px,#0b0b0b 308.5px,#020202 309px,#000000 309.5px,#000000 310.75px,#060606 311.25px,#313131 312.75px,#424242 313.5px,#515151 314.25px,#6c6c6c 316px,#848484 318px,#9a9a9a 320.5px,#acacac 323.25px,#bcbcbc 326.5px,#c8c8c8 330px,#d4d4d4 335.25px,#dddddd 341.75px,#e4e4e4 349.75px,#e8e8e8 360px,#eaeaea 376.5px,#e7e7e7 390px,#e2e2e2 396px,#dadada 400.25px,#cdcdcd 403.25px,#c5c5c5 404.5px,#bcbcbc 405.5px,#b0b0b0 406.5px,#a4a4a4 407.25px,#949494 408px,#828282 408.75px,#6a6a6a 409.5px,#4e4e4e 410.25px,#363636 410.75px,#0a0a0a 411.5px,#020202 411.75px,#010101 412px,#030303 412.25px,#151515 412.5px,#383838 412.75px,#585858 413px,#737373 413.25px,#898989 413.5px,#9b9b9b 413.75px,#aaaaaa 414px,#b6b6b6 414.25px,#c8c8c8 414.75px,#d9d9d9 415.5px,#e5e5e5 416.5px,#ededed 418px,#f2f2f2 420px,#f5f5f5 423px,#f6f6f6 428px,#f5f5f5 450px,#f2f2f2 480px,#eeeeee 510px,#e8e8e8 540px,#e0e0e0 570px,#d6d6d6 600px,#cbcbcb 629px)"></i><i style="left:48px;background:linear-gradient(#fefefe 0px,#fefefe 30px,#fefefe 60px,#fefefe 90px,#fefefe 120px,#fdfdfd 150px,#fdfdfd 180px,#fbfbfb 210px,#f8f8f8 240px,#f3f3f3 257.5px,#ececec 270px,#dfdfdf 280.5px,#d6d6d6 284.75px,#cccccc 288.5px,#c0c0c0 291.75px,#b2b2b2 294.75px,#a1a1a1 297.5px,#8d8d8d 300px,#737373 302.5px,#626262 303.75px,#535353 304.75px,#363636 306.25px,#242424 307px,#0e0e0e 307.75px,#040404 308.25px,#000000 308.75px,#000000 310px,#040404 310.5px,#090909 310.75px,#343434 312.25px,#454545 313px,#545454 313.75px,#6e6e6e 315.5px,#868686 317.5px,#9b9b9b 320px,#afafaf 323px,#bebebe 326.25px,#cacaca 330px,#d6d6d6 335.25px,#dedede 341.75px,#e5e5e5 350px,#e9e9e9 360px,#eaeaea 376.75px,#e7e7e7 390px,#e2e2e2 395.75px,#dadada 399.75px,#cecece 402.75px,#c5c5c5 404px,#bbbbbb 405px,#afafaf 406px,#a2a2a2 406.75px,#939393 407.5px,#7f7f7f 408.25px,#676767 409px,#535353 409.5px,#303030 410.25px,#111111 410.75px,#040404 411px,#010101 411.25px,#010101 411.5px,#0b0b0b 411.75px,#2a2a2a 412px,#4d4d4d 412.25px,#696969 412.5px,#818181 412.75px,#959595 413px,#a5a5a5 413.25px,#b2b2b2 413.5px,#bdbdbd 413.75px,#cdcdcd 414.25px,#dbdbdb 415px,#e2e2e2 415.5px,#e8e8e8 416.25px,#efefef 417.75px,#f3f3f3 420px,#f7f7f7 428.25px,#f5f5f5 450px,#f2f2f2 480px,#eeeeee 510px,#e8e8e8 540px,#e0e0e0 570px,#d6d6d6 600px,#cbcbcb 629px)"></i><i style="left:50px;background:linear-gradient(#fefefe 0px,#fefefe 30px,#fefefe 60px,#fefefe 90px,#fefefe 120px,#fdfdfd 150px,#fdfdfd 180px,#fbfbfb 210px,#f8f8f8 240px,#f3f3f3 257.5px,#ebebeb 270px,#dedede 280.5px,#d5d5d5 284.75px,#cacaca 288.5px,#bdbdbd 292px,#adadad 295px,#9b9b9b 297.75px,#888888 300px,#6f6f6f 302.25px,#515151 304.25px,#333333 305.75px,#060606 307.5px,#010101 308px,#010101 309.5px,#060606 310px,#323232 311.5px,#434343 312.25px,#525252 313px,#6d6d6d 314.75px,#878787 317px,#9f9f9f 319.75px,#b1b1b1 322.75px,#c1c1c1 326.25px,#cccccc 330px,#d7d7d7 335.25px,#dfdfdf 341.75px,#e5e5e5 350px,#e9e9e9 360px,#eaeaea 377px,#e7e7e7 390px,#e2e2e2 395.5px,#dadada 399.5px,#cecece 402.25px,#c5c5c5 403.5px,#bbbbbb 404.5px,#aeaeae 405.5px,#a1a1a1 406.25px,#919191 407px,#7c7c7c 407.75px,#626262 408.5px,#434343 409.25px,#282828 409.75px,#090909 410.25px,#010101 410.5px,#010101 410.75px,#050505 411px,#1d1d1d 411.25px,#414141 411.5px,#606060 411.75px,#797979 412px,#8e8e8e 412.25px,#a0a0a0 412.5px,#aeaeae 412.75px,#bababa 413px,#cbcbcb 413.5px,#d6d6d6 414px,#dedede 414.5px,#e9e9e9 415.75px,#f0f0f0 417.5px,#f4f4f4 420px,#f7f7f7 428.25px,#f5f5f5 450px,#f2f2f2 480px,#eeeeee 510px,#e8e8e8 540px,#e0e0e0 570px,#d6d6d6 600px,#cbcbcb 629px)"></i><i style="left:52px;background:linear-gradient(#fefefe 0px,#fefefe 30px,#fefefe 60px,#fefefe 90px,#fefefe 120px,#fdfdfd 150px,#fdfdfd 180px,#fbfbfb 210px,#f8f8f8 240px,#f3f3f3 257.5px,#ebebeb 270px,#e4e4e4 275.75px,#dddddd 280.5px,#d4d4d4 284.75px,#c8c8c8 288.5px,#bababa 292px,#aaaaaa 295px,#969696 297.75px,#828282 300px,#666666 302.25px,#4b4b4b 304px,#313131 305.25px,#0f0f0f 306.5px,#040404 307px,#000000 307.5px,#000000 308.75px,#040404 309.25px,#090909 309.5px,#282828 310.5px,#353535 311px,#464646 311.75px,#555555 312.5px,#707070 314.25px,#898989 316.5px,#a0a0a0 319.25px,#b2b2b2 322.25px,#c2c2c2 325.75px,#cecece 330px,#d9d9d9 335.5px,#e1e1e1 342px,#e6e6e6 350px,#eaeaea 360px,#ebebeb 377px,#e7e7e7 390px,#e2e2e2 395.25px,#dadada 399px,#cecece 401.75px,#c5c5c5 403px,#bbbbbb 404px,#adadad 405px,#a0a0a0 405.75px,#8e8e8e 406.5px,#797979 407.25px,#5e5e5e 408px,#494949 408.5px,#2f2f2f 409px,#0f0f0f 409.5px,#030303 409.75px,#010101 410px,#020202 410.25px,#111111 410.5px,#555555 411px,#707070 411.25px,#878787 411.5px,#9a9a9a 411.75px,#aaaaaa 412px,#b6b6b6 412.25px,#c0c0c0 412.5px,#cfcfcf 413px,#d9d9d9 413.5px,#e0e0e0 414px,#eaeaea 415.25px,#f1f1f1 417.25px,#f5f5f5 420px,#f7f7f7 428.5px,#f5f5f5 450px,#f2f2f2 480px,#eeeeee 510px,#e7e7e7 540px,#e0e0e0 570px,#d6d6d6 600px,#cbcbcb 629px)"></i><i style="left:54px;background:linear-gradient(#fefefe 0px,#fefefe 30px,#fefefe 60px,#fefefe 90px,#fefefe 120px,#fdfdfd 150px,#fdfdfd 180px,#fbfbfb 210px,#f8f8f8 240px,#f2f2f2 257.5px,#eaeaea 270px,#e4e4e4 275.75px,#dcdcdc 280.5px,#d2d2d2 284.75px,#c6c6c6 288.5px,#b7b7b7 292px,#a6a6a6 295px,#919191 297.75px,#7b7b7b 300px,#656565 301.75px,#494949 303.5px,#2e2e2e 304.75px,#060606 306.25px,#010101 306.75px,#010101 308.25px,#070707 308.75px,#333333 310.25px,#444444 311px,#535353 311.75px,#646464 312.75px,#727272 313.75px,#8b8b8b 316px,#a2a2a2 318.75px,#b5b5b5 322px,#c4c4c4 325.75px,#d0d0d0 330px,#dadada 335.5px,#e2e2e2 342px,#e7e7e7 350px,#eaeaea 360px,#ebebeb 377.25px,#e7e7e7 390px,#e2e2e2 395px,#d9d9d9 398.75px,#cccccc 401.5px,#c5c5c5 402.5px,#bababa 403.5px,#b0b0b0 404.25px,#a3a3a3 405px,#939393 405.75px,#7e7e7e 406.5px,#646464 407.25px,#434343 408px,#272727 408.5px,#070707 409px,#010101 409.25px,#010101 409.5px,#080808 409.75px,#252525 410px,#494949 410.25px,#676767 410.5px,#808080 410.75px,#949494 411px,#a5a5a5 411.25px,#b2b2b2 411.5px,#bdbdbd 411.75px,#c6c6c6 412px,#d3d3d3 412.5px,#dcdcdc 413px,#e2e2e2 413.5px,#ededed 415px,#f2f2f2 417px,#f5f5f5 420px,#f7f7f7 428.75px,#f5f5f5 450px,#f2f2f2 480px,#eeeeee 510px,#e7e7e7 540px,#dfdfdf 570px,#d6d6d6 600px,#cbcbcb 629px)"></i><i style="left:56px;background:linear-gradient(#fefefe 0px,#fefefe 30px,#fefefe 60px,#fefefe 90px,#fefefe 120px,#fdfdfd 150px,#fdfdfd 180px,#fbfbfb 210px,#f8f8f8 240px,#f2f2f2 257.5px,#eaeaea 270px,#e3e3e3 275.75px,#dbdbdb 280.75px,#d0d0d0 285px,#c3c3c3 288.75px,#b4b4b4 292px,#a2a2a2 295px,#8c8c8c 297.75px,#747474 300px,#606060 301.5px,#464646 303px,#313131 304px,#0f0f0f 305.25px,#040404 305.75px,#000000 306.25px,#000000 307.5px,#040404 308px,#0a0a0a 308.25px,#292929 309.25px,#363636 309.75px,#474747 310.5px,#5a5a5a 311.5px,#777777 313.5px,#8f8f8f 315.75px,#a6a6a6 318.75px,#b8b8b8 322px,#c7c7c7 325.75px,#d2d2d2 330px,#dcdcdc 335.5px,#e2e2e2 342px,#e7e7e7 350px,#eaeaea 360px,#ebebeb 377.5px,#e7e7e7 390px,#e2e2e2 395px,#d9d9d9 398.5px,#cccccc 401px,#c5c5c5 402px,#bababa 403px,#afafaf 403.75px,#a2a2a2 404.5px,#909090 405.25px,#7b7b7b 406px,#5f5f5f 406.75px,#494949 407.25px,#2e2e2e 407.75px,#0e0e0e 408.25px,#020202 408.5px,#010101 408.75px,#040404 409px,#181818 409.25px,#3c3c3c 409.5px,#5c5c5c 409.75px,#777777 410px,#8d8d8d 410.25px,#9f9f9f 410.5px,#aeaeae 410.75px,#bababa 411px,#c4c4c4 411.25px,#d2d2d2 411.75px,#dbdbdb 412.25px,#e2e2e2 412.75px,#ececec 414.25px,#f3f3f3 416.5px,#f6f6f6 420px,#f7f7f7 429px,#f5f5f5 450px,#f2f2f2 480px,#eeeeee 510px,#e7e7e7 540px,#dfdfdf 570px,#d6d6d6 600px,#cbcbcb 629px)"></i><i style="left:58px;background:linear-gradient(#fefefe 0px,#fefefe 30px,#fefefe 60px,#fefefe 90px,#fefefe 120px,#fdfdfd 150px,#fdfdfd 180px,#fbfbfb 210px,#f8f8f8 240px,#f2f2f2 257.5px,#e9e9e9 270px,#e2e2e2 275.75px,#d9d9d9 280.75px,#cfcfcf 285px,#c1c1c1 288.75px,#b1b1b1 292px,#9e9e9e 295px,#868686 297.75px,#6c6c6c 300px,#565656 301.5px,#3f3f3f 302.75px,#2e2e2e 303.5px,#060606 305px,#010101 305.5px,#010101 307px,#070707 307.5px,#333333 309px,#454545 309.75px,#585858 310.75px,#767676 312.75px,#919191 315.25px,#a8a8a8 318.25px,#b9b9b9 321.5px,#c9c9c9 325.5px,#d4d4d4 330px,#dddddd 335.5px,#e3e3e3 342px,#e8e8e8 350px,#ebebeb 360px,#ececec 377.75px,#e7e7e7 390px,#e2e2e2 394.75px,#d9d9d9 398px,#cdcdcd 400.5px,#c4c4c4 401.5px,#b9b9b9 402.5px,#aeaeae 403.25px,#a0a0a0 404px,#8e8e8e 404.75px,#777777 405.5px,#656565 406px,#4f4f4f 406.5px,#353535 407px,#060606 407.75px,#010101 408px,#020202 408.25px,#0d0d0d 408.5px,#2e2e2e 408.75px,#515151 409px,#6e6e6e 409.25px,#868686 409.5px,#9a9a9a 409.75px,#aaaaaa 410px,#b6b6b6 410.25px,#c1c1c1 410.5px,#c9c9c9 410.75px,#d6d6d6 411.25px,#dedede 411.75px,#e6e6e6 412.5px,#eeeeee 414px,#f3f3f3 416.25px,#f6f6f6 420px,#f5f5f5 450px,#f2f2f2 480px,#eeeeee 510px,#e7e7e7 540px,#dfdfdf 570px,#d6d6d6 600px,#cacaca 629px)"></i><i style="left:60px;background:linear-gradient(#fefefe 0px,#fefefe 30px,#fefefe 60px,#fefefe 90px,#fefefe 120px,#fdfdfd 150px,#fdfdfd 180px,#fbfbfb 210px,#f7f7f7 240px,#f2f2f2 257.5px,#e9e9e9 270px,#e2e2e2 275.75px,#d8d8d8 280.75px,#cdcdcd 285px,#bfbfbf 288.75px,#adadad 292.25px,#989898 295.25px,#808080 297.75px,#646464 300px,#505050 301.25px,#3d3d3d 302.25px,#2b2b2b 303px,#090909 304.25px,#040404 304.5px,#000000 305px,#000000 306.25px,#050505 306.75px,#0a0a0a 307px,#2a2a2a 308px,#373737 308.5px,#484848 309.25px,#5b5b5b 310.25px,#787878 312.25px,#929292 314.75px,#a9a9a9 317.75px,#bcbcbc 321.25px,#cacaca 325.25px,#d6d6d6 330px,#dedede 335.5px,#e4e4e4 342px,#ebebeb 360px,#ececec 378px,#e7e7e7 390px,#e1e1e1 394.5px,#d9d9d9 397.75px,#cbcbcb 400.25px,#c2c2c2 401.25px,#b9b9b9 402px,#adadad 402.75px,#9f9f9f 403.5px,#8c8c8c 404.25px,#7c7c7c 404.75px,#606060 405.5px,#494949 406px,#2e2e2e 406.5px,#0c0c0c 407px,#020202 407.25px,#010101 407.5px,#060606 407.75px,#202020 408px,#444444 408.25px,#646464 408.5px,#7e7e7e 408.75px,#939393 409px,#a4a4a4 409.25px,#b2b2b2 409.5px,#bebebe 409.75px,#c7c7c7 410px,#d4d4d4 410.5px,#dddddd 411px,#e6e6e6 411.75px,#eeeeee 413.25px,#f4f4f4 415.75px,#f6f6f6 420px,#f5f5f5 450px,#f2f2f2 480px,#eeeeee 510px,#e7e7e7 540px,#dfdfdf 570px,#d5d5d5 600px,#cacaca 629px)"></i><i style="left:62px;background:linear-gradient(#fefefe 0px,#fefefe 30px,#fefefe 60px,#fefefe 90px,#fefefe 120px,#fdfdfd 150px,#fdfdfd 180px,#fbfbfb 210px,#f7f7f7 240px,#f2f2f2 257.5px,#e8e8e8 270px,#e0e0e0 276px,#d6d6d6 281px,#cacaca 285.25px,#bbbbbb 289px,#a9a9a9 292.25px,#939393 295.25px,#797979 297.75px,#5b5b5b 300px,#4a4a4a 301px,#3a3a3a 301.75px,#282828 302.5px,#060606 303.75px,#010101 304.25px,#010101 305.75px,#030303 306px,#070707 306.25px,#343434 307.75px,#464646 308.5px,#595959 309.5px,#696969 310.5px,#7a7a7a 311.75px,#949494 314.25px,#acacac 317.5px,#bebebe 321px,#cccccc 325.25px,#d7d7d7 330px,#dfdfdf 335.5px,#e5e5e5 342px,#ececec 360px,#ececec 378.25px,#e7e7e7 390px,#e1e1e1 394.25px,#d9d9d9 397.25px,#d3d3d3 398.5px,#cbcbcb 399.75px,#c1c1c1 400.75px,#b8b8b8 401.5px,#acacac 402.25px,#9d9d9d 403px,#898989 403.75px,#797979 404.25px,#5b5b5b 405px,#434343 405.5px,#353535 405.75px,#131313 406.25px,#050505 406.5px,#010101 406.75px,#030303 407px,#131313 407.25px,#595959 407.75px,#757575 408px,#8c8c8c 408.25px,#9f9f9f 408.5px,#aeaeae 408.75px,#bababa 409px,#c4c4c4 409.25px,#cccccc 409.5px,#d8d8d8 410px,#e0e0e0 410.5px,#e7e7e7 411.25px,#f0f0f0 413px,#f5f5f5 415.75px,#f7f7f7 420px,#f5f5f5 450px,#f2f2f2 480px,#eeeeee 510px,#e7e7e7 540px,#dfdfdf 570px,#d5d5d5 600px,#cacaca 629px)"></i><i style="left:64px;background:linear-gradient(#fefefe 0px,#fefefe 30px,#fefefe 60px,#fefefe 90px,#fefefe 120px,#fdfdfd 150px,#fdfdfd 180px,#fbfbfb 210px,#f7f7f7 240px,#f1f1f1 257.5px,#e8e8e8 270px,#e0e0e0 276px,#d5d5d5 281px,#c8c8c8 285.25px,#b8b8b8 289px,#a5a5a5 292.25px,#8d8d8d 295.25px,#727272 297.75px,#616161 299px,#515151 300px,#323232 301.5px,#0f0f0f 302.75px,#040404 303.25px,#000000 303.75px,#000000 305px,#050505 305.5px,#0b0b0b 305.75px,#2a2a2a 306.75px,#383838 307.25px,#494949 308px,#5c5c5c 309px,#6c6c6c 310px,#7c7c7c 311.25px,#969696 313.75px,#adadad 317px,#bfbfbf 320.5px,#cdcdcd 324.75px,#d9d9d9 330px,#e0e0e0 335.5px,#e6e6e6 342px,#ececec 360px,#ececec 378.5px,#e7e7e7 390px,#e1e1e1 394px,#d8d8d8 397px,#cbcbcb 399.25px,#c1c1c1 400.25px,#b7b7b7 401px,#a1a1a1 402.25px,#8e8e8e 403px,#7e7e7e 403.5px,#616161 404.25px,#4a4a4a 404.75px,#2d2d2d 405.25px,#0a0a0a 405.75px,#020202 406px,#010101 406.25px,#0a0a0a 406.5px,#282828 406.75px,#4d4d4d 407px,#6b6b6b 407.25px,#848484 407.5px,#999999 407.75px,#a9a9a9 408px,#b7b7b7 408.25px,#c1c1c1 408.5px,#d1d1d1 409px,#dbdbdb 409.5px,#e2e2e2 410px,#e9e9e9 410.75px,#f1f1f1 412.5px,#f5f5f5 415.25px,#f7f7f7 420px,#f5f5f5 450px,#f2f2f2 480px,#eeeeee 510px,#e7e7e7 540px,#dfdfdf 570px,#d5d5d5 600px,#cacaca 629px)"></i><i style="left:66px;background:linear-gradient(#fefefe 0px,#fefefe 30px,#fefefe 60px,#fefefe 90px,#fefefe 120px,#fdfdfd 150px,#fdfdfd 180px,#fbfbfb 210px,#f7f7f7 240px,#f1f1f1 257.5px,#e7e7e7 270px,#dfdfdf 276px,#d4d4d4 281px,#c5c5c5 285.5px,#b4b4b4 289.25px,#9f9f9f 292.5px,#858585 295.5px,#777777 296.75px,#676767 298px,#575757 299px,#454545 300px,#2f2f2f 301px,#060606 302.5px,#010101 303px,#010101 304.5px,#030303 304.75px,#080808 305px,#272727 306px,#3b3b3b 306.75px,#4c4c4c 307.5px,#5a5a5a 308.25px,#6a6a6a 309.25px,#7b7b7b 310.5px,#898989 311.75px,#979797 313.25px,#aeaeae 316.5px,#c1c1c1 320.25px,#cfcfcf 324.75px,#dadada 330px,#e1e1e1 335.5px,#e7e7e7 342.25px,#ededed 360px,#ededed 378.5px,#e7e7e7 390px,#e0e0e0 394px,#d7d7d7 396.75px,#cbcbcb 398.75px,#c1c1c1 399.75px,#b7b7b7 400.5px,#aaaaaa 401.25px,#9f9f9f 401.75px,#8b8b8b 402.5px,#7a7a7a 403px,#5c5c5c 403.75px,#434343 404.25px,#353535 404.5px,#121212 405px,#040404 405.25px,#010101 405.5px,#040404 405.75px,#1a1a1a 406px,#3f3f3f 406.25px,#606060 406.5px,#7c7c7c 406.75px,#929292 407px,#a4a4a4 407.25px,#b3b3b3 407.5px,#c7c7c7 408px,#cfcfcf 408.25px,#dadada 408.75px,#e1e1e1 409.25px,#e8e8e8 410px,#f1f1f1 412px,#f5f5f5 415px,#f7f7f7 420px,#f5f5f5 450px,#f2f2f2 480px,#eeeeee 510px,#e7e7e7 540px,#dfdfdf 570px,#d5d5d5 600px,#cacaca 629px)"></i><i style="left:68px;background:linear-gradient(#fefefe 0px,#fefefe 30px,#fefefe 60px,#fefefe 90px,#fefefe 120px,#fdfdfd 150px,#fdfdfd 180px,#fbfbfb 210px,#f7f7f7 240px,#f1f1f1 257.75px,#e7e7e7 270px,#dedede 276px,#d2d2d2 281px,#c3c3c3 285.5px,#b1b1b1 289.25px,#9b9b9b 292.5px,#7f7f7f 295.5px,#707070 296.75px,#5e5e5e 298px,#4d4d4d 299px,#383838 300px,#252525 300.75px,#090909 301.75px,#040404 302px,#000000 302.5px,#000000 303.75px,#050505 304.25px,#0b0b0b 304.5px,#2b2b2b 305.5px,#393939 306px,#4a4a4a 306.75px,#5d5d5d 307.75px,#6d6d6d 308.75px,#7d7d7d 310px,#8b8b8b 311.25px,#999999 312.75px,#b0b0b0 316px,#c3c3c3 320px,#d1d1d1 324.5px,#dbdbdb 330px,#e2e2e2 335.5px,#e7e7e7 342.25px,#ededed 360px,#ededed 378.75px,#eaeaea 385.25px,#e7e7e7 390px,#e1e1e1 393.5px,#d7d7d7 396.25px,#cacaca 398.25px,#c0c0c0 399.25px,#b6b6b6 400px,#a8a8a8 400.75px,#9d9d9d 401.25px,#888888 402px,#777777 402.5px,#626262 403px,#4a4a4a 403.5px,#2c2c2c 404px,#090909 404.5px,#020202 404.75px,#020202 405px,#0f0f0f 405.25px,#555555 405.75px,#727272 406px,#8a8a8a 406.25px,#9e9e9e 406.5px,#aeaeae 406.75px,#bbbbbb 407px,#cdcdcd 407.5px,#dddddd 408.25px,#e3e3e3 408.75px,#eaeaea 409.5px,#f2f2f2 411.5px,#f6f6f6 414.75px,#f7f7f7 420px,#f5f5f5 450px,#f2f2f2 480px,#eeeeee 510px,#e7e7e7 540px,#dfdfdf 570px,#d5d5d5 600px,#cacaca 629px)"></i><i style="left:70px;background:linear-gradient(#fefefe 0px,#fefefe 30px,#fefefe 60px,#fefefe 90px,#fefefe 120px,#fdfdfd 150px,#fdfdfd 180px,#fbfbfb 210px,#f7f7f7 240px,#f1f1f1 257.75px,#e6e6e6 270px,#dddddd 276px,#d0d0d0 281.25px,#c0c0c0 285.75px,#acacac 289.5px,#929292 293px,#838383 294.5px,#757575 295.75px,#646464 297px,#4f4f4f 298.25px,#3b3b3b 299.25px,#292929 300px,#0c0c0c 301px,#020202 301.5px,#000000 302px,#010101 303.25px,#030303 303.5px,#080808 303.75px,#282828 304.75px,#3c3c3c 305.5px,#4d4d4d 306.25px,#5f5f5f 307.25px,#6f6f6f 308.25px,#7f7f7f 309.5px,#9a9a9a 312.25px,#b2b2b2 315.75px,#c5c5c5 319.75px,#d3d3d3 324.5px,#dddddd 330px,#e3e3e3 335.5px,#e8e8e8 342.25px,#ededed 360px,#ededed 379px,#eaeaea 385.5px,#e6e6e6 390px,#e0e0e0 393.5px,#d6d6d6 396px,#c8c8c8 398px,#c0c0c0 398.75px,#b5b5b5 399.5px,#a7a7a7 400.25px,#9b9b9b 400.75px,#8d8d8d 401.25px,#7c7c7c 401.75px,#5d5d5d 402.5px,#434343 403px,#343434 403.25px,#101010 403.75px,#030303 404px,#010101 404.25px,#070707 404.5px,#222222 404.75px,#484848 405px,#686868 405.25px,#828282 405.5px,#989898 405.75px,#a9a9a9 406px,#b7b7b7 406.25px,#cbcbcb 406.75px,#d2d2d2 407px,#dcdcdc 407.5px,#e5e5e5 408.25px,#ebebeb 409px,#f2f2f2 411px,#f6f6f6 414.25px,#f7f7f7 420px,#f6f6f6 450px,#f2f2f2 480px,#eeeeee 510px,#e7e7e7 540px,#dfdfdf 570px,#d5d5d5 600px,#cacaca 629px)"></i><i style="left:72px;background:linear-gradient(#fefefe 0px,#fefefe 30px,#fefefe 60px,#fefefe 90px,#fefefe 120px,#fdfdfd 150px,#fdfdfd 180px,#fbfbfb 210px,#f7f7f7 240px,#f0f0f0 257.75px,#e5e5e5 270px,#dbdbdb 276.25px,#cecece 281.5px,#bcbcbc 286px,#a6a6a6 289.75px,#999999 291.5px,#8a8a8a 293.25px,#7a7a7a 294.75px,#696969 296px,#565656 297.25px,#444444 298.25px,#2d2d2d 299.25px,#171717 300px,#090909 300.5px,#010101 301px,#000000 302.25px,#020202 302.75px,#060606 303px,#0c0c0c 303.25px,#2c2c2c 304.25px,#404040 305px,#555555 306px,#666666 307px,#7b7b7b 308.5px,#8c8c8c 310px,#9c9c9c 311.75px,#a9a9a9 313.5px,#bbbbbb 316.75px,#cacaca 320.5px,#d5d5d5 324.75px,#dedede 330px,#e4e4e4 335.5px,#e9e9e9 342.25px,#eeeeee 360px,#ededed 379.25px,#eaeaea 385.5px,#e6e6e6 390px,#dfdfdf 393.25px,#d5d5d5 395.75px,#c8c8c8 397.5px,#bfbfbf 398.25px,#b4b4b4 399px,#a5a5a5 399.75px,#999999 400.25px,#8a8a8a 400.75px,#787878 401.25px,#636363 401.75px,#4a4a4a 402.25px,#2c2c2c 402.75px,#070707 403.25px,#020202 403.5px,#030303 403.75px,#151515 404px,#5c5c5c 404.5px,#797979 404.75px,#919191 405px,#a4a4a4 405.25px,#b3b3b3 405.5px,#bfbfbf 405.75px,#c8c8c8 406px,#d6d6d6 406.5px,#dfdfdf 407px,#e7e7e7 407.75px,#ececec 408.5px,#f3f3f3 410.5px,#f6f6f6 414px,#f8f8f8 420px,#f6f6f6 450px,#f2f2f2 480px,#eeeeee 510px,#e7e7e7 540px,#dfdfdf 570px,#d5d5d5 600px,#cacaca 629px)"></i><i style="left:74px;background:linear-gradient(#fefefe 0px,#fefefe 30px,#fefefe 60px,#fefefe 90px,#fefefe 120px,#fdfdfd 150px,#fdfdfd 180px,#fbfbfb 210px,#f7f7f7 240px,#f0f0f0 257.75px,#e5e5e5 270px,#dadada 276.5px,#cbcbcb 281.75px,#b8b8b8 286.25px,#a1a1a1 290px,#929292 291.75px,#848484 293.25px,#727272 294.75px,#616161 296px,#505050 297px,#3c3c3c 298px,#292929 298.75px,#060606 300px,#030303 300.25px,#000000 300.75px,#000000 301.75px,#030303 302.25px,#090909 302.5px,#292929 303.5px,#3d3d3d 304.25px,#535353 305.25px,#656565 306.25px,#777777 307.5px,#898989 309px,#979797 310.5px,#a5a5a5 312.25px,#bababa 315.75px,#cacaca 319.75px,#d6d6d6 324.5px,#dfdfdf 330px,#e9e9e9 342.25px,#eeeeee 360px,#ededed 379.5px,#eaeaea 385.75px,#e6e6e6 390px,#dfdfdf 393px,#d5d5d5 395.25px,#c8c8c8 397px,#bfbfbf 397.75px,#b3b3b3 398.5px,#a4a4a4 399.25px,#979797 399.75px,#878787 400.25px,#747474 400.75px,#5e5e5e 401.25px,#434343 401.75px,#343434 402px,#0e0e0e 402.5px,#030303 402.75px,#020202 403px,#0b0b0b 403.25px,#2a2a2a 403.5px,#505050 403.75px,#6f6f6f 404px,#898989 404.25px,#9e9e9e 404.5px,#aeaeae 404.75px,#bbbbbb 405px,#c5c5c5 405.25px,#d4d4d4 405.75px,#dedede 406.25px,#e7e7e7 407px,#ececec 407.75px,#f3f3f3 409.75px,#f6f6f6 413.25px,#f8f8f8 420px,#f6f6f6 450px,#f2f2f2 480px,#eeeeee 510px,#e7e7e7 540px,#dfdfdf 570px,#d5d5d5 600px,#c9c9c9 629px)"></i><i style="left:76px;background:linear-gradient(#fefefe 0px,#fefefe 30px,#fefefe 60px,#fefefe 90px,#fefefe 120px,#fdfdfd 150px,#fdfdfd 180px,#fbfbfb 210px,#f7f7f7 240px,#f0f0f0 257.75px,#e4e4e4 270px,#d9d9d9 276.25px,#cbcbcb 281.25px,#b7b7b7 285.75px,#a0a0a0 289.5px,#929292 291.25px,#838383 292.75px,#747474 294px,#636363 295.25px,#4e4e4e 296.5px,#393939 297.5px,#262626 298.25px,#090909 299.25px,#040404 299.5px,#000000 300px,#000000 301.25px,#020202 301.5px,#060606 301.75px,#0d0d0d 302px,#2d2d2d 303px,#414141 303.75px,#5a5a5a 305px,#6f6f6f 306.25px,#8a8a8a 308.5px,#a3a3a3 311.25px,#b8b8b8 314.75px,#cacaca 319px,#d7d7d7 324px,#e0e0e0 330px,#eaeaea 342.25px,#eeeeee 360px,#ededed 379.75px,#eaeaea 385.75px,#e5e5e5 390px,#dfdfdf 392.75px,#d4d4d4 395px,#c4c4c4 396.75px,#b2b2b2 398px,#a2a2a2 398.75px,#949494 399.25px,#838383 399.75px,#707070 400.25px,#585858 400.75px,#3c3c3c 401.25px,#060606 402px,#020202 402.25px,#050505 402.5px,#1d1d1d 402.75px,#424242 403px,#646464 403.25px,#808080 403.5px,#979797 403.75px,#a9a9a9 404px,#b7b7b7 404.25px,#cbcbcb 404.75px,#d8d8d8 405.25px,#e1e1e1 405.75px,#e8e8e8 406.5px,#ededed 407.25px,#f4f4f4 409.5px,#f7f7f7 413.25px,#f8f8f8 420px,#f6f6f6 450px,#f2f2f2 480px,#eeeeee 510px,#e7e7e7 540px,#dfdfdf 570px,#d5d5d5 600px,#c9c9c9 629px)"></i><i style="left:78px;background:linear-gradient(#fefefe 0px,#fefefe 30px,#fefefe 60px,#fefefe 90px,#fefefe 120px,#fdfdfd 150px,#fdfdfd 180px,#fbfbfb 210px,#f7f7f7 240px,#efefef 257.75px,#eaeaea 264.5px,#e3e3e3 270px,#d8d8d8 276px,#cacaca 281px,#b7b7b7 285.25px,#9f9f9f 289px,#878787 291.75px,#797979 293px,#696969 294.25px,#555555 295.5px,#3c3c3c 296.75px,#2a2a2a 297.5px,#060606 298.75px,#010101 299.25px,#000000 300px,#010101 300.75px,#040404 301px,#090909 301.25px,#2a2a2a 302.25px,#3e3e3e 303px,#545454 304px,#696969 305.25px,#7b7b7b 306.5px,#8a8a8a 307.75px,#a2a2a2 310.5px,#b9b9b9 314.25px,#cbcbcb 318.5px,#d8d8d8 323.75px,#e1e1e1 330px,#eaeaea 342.5px,#efefef 360px,#ededed 380px,#eaeaea 386px,#e5e5e5 390px,#dedede 392.5px,#d4d4d4 394.5px,#c4c4c4 396.25px,#b1b1b1 397.5px,#999999 398.5px,#898989 399px,#767676 399.5px,#5f5f5f 400px,#434343 400.5px,#333333 400.75px,#0c0c0c 401.25px,#020202 401.5px,#030303 401.75px,#111111 402px,#333333 402.25px,#585858 402.5px,#777777 402.75px,#909090 403px,#a3a3a3 403.25px,#b3b3b3 403.5px,#bfbfbf 403.75px,#c9c9c9 404px,#d7d7d7 404.5px,#e0e0e0 405px,#e8e8e8 405.75px,#ededed 406.5px,#f4f4f4 408.75px,#f7f7f7 412.75px,#f8f8f8 420px,#f6f6f6 450px,#f2f2f2 480px,#eeeeee 510px,#e7e7e7 540px,#dfdfdf 570px,#d5d5d5 600px,#c9c9c9 629px)"></i><i style="left:80px;background:linear-gradient(#fefefe 0px,#fefefe 30px,#fefefe 60px,#fefefe 90px,#fefefe 120px,#fdfdfd 150px,#fdfdfd 180px,#fbfbfb 210px,#f7f7f7 240px,#efefef 257.75px,#eaeaea 264.5px,#e3e3e3 270px,#d8d8d8 275.75px,#c9c9c9 280.5px,#b7b7b7 284.75px,#a1a1a1 288.25px,#929292 290px,#838383 291.5px,#717171 293px,#5f5f5f 294.25px,#4e4e4e 295.25px,#3a3a3a 296.25px,#272727 297px,#090909 298px,#040404 298.25px,#000000 298.75px,#000000 300px,#020202 300.25px,#060606 300.5px,#2e2e2e 301.75px,#424242 302.5px,#525252 303.25px,#646464 304.25px,#777777 305.5px,#868686 306.75px,#959595 308.25px,#a4a4a4 310px,#bbbbbb 313.75px,#cccccc 318.25px,#d9d9d9 323.5px,#e2e2e2 330px,#ebebeb 342.5px,#efefef 360px,#ededed 380.25px,#eaeaea 386px,#e4e4e4 390px,#dcdcdc 392.5px,#d2d2d2 394.25px,#c4c4c4 395.75px,#afafaf 397px,#a4a4a4 397.5px,#969696 398px,#858585 398.5px,#717171 399px,#595959 399.5px,#3b3b3b 400px,#2a2a2a 400.25px,#151515 400.5px,#050505 400.75px,#020202 401px,#090909 401.25px,#252525 401.5px,#4b4b4b 401.75px,#6c6c6c 402px,#878787 402.25px,#9d9d9d 402.5px,#aeaeae 402.75px,#bcbcbc 403px,#cfcfcf 403.5px,#dbdbdb 404px,#e2e2e2 404.5px,#eaeaea 405.25px,#eeeeee 406px,#f5f5f5 408.5px,#f7f7f7 412.5px,#f8f8f8 420px,#f6f6f6 450px,#f2f2f2 480px,#eeeeee 510px,#e7e7e7 540px,#dfdfdf 570px,#d5d5d5 600px,#c9c9c9 629px)"></i><i style="left:82px;background:linear-gradient(#fefefe 0px,#fefefe 30px,#fefefe 60px,#fefefe 90px,#fefefe 120px,#fdfdfd 150px,#fdfdfd 180px,#fbfbfb 210px,#f7f7f7 240px,#efefef 257.75px,#e9e9e9 264.5px,#e2e2e2 270px,#d7d7d7 275.25px,#cacaca 279.75px,#b9b9b9 283.75px,#a4a4a4 287.25px,#969696 289px,#858585 290.75px,#737373 292.25px,#626262 293.5px,#515151 294.5px,#3d3d3d 295.5px,#2a2a2a 296.25px,#0d0d0d 297.25px,#030303 297.75px,#000000 298.25px,#000000 299.25px,#040404 299.75px,#0a0a0a 300px,#2b2b2b 301px,#3f3f3f 301.75px,#555555 302.75px,#666666 303.75px,#797979 305px,#888888 306.25px,#979797 307.75px,#a5a5a5 309.5px,#bcbcbc 313.25px,#cdcdcd 317.75px,#dadada 323.25px,#e3e3e3 330px,#ececec 342.5px,#efefef 360px,#ededed 380.5px,#e9e9e9 386.25px,#e3e3e3 390px,#dbdbdb 392.25px,#d0d0d0 394px,#c3c3c3 395.25px,#b8b8b8 396px,#aeaeae 396.5px,#a2a2a2 397px,#939393 397.5px,#818181 398px,#6c6c6c 398.5px,#525252 399px,#434343 399.25px,#333333 399.5px,#0a0a0a 400px,#020202 400.25px,#040404 400.5px,#181818 400.75px,#616161 401.25px,#7e7e7e 401.5px,#969696 401.75px,#a9a9a9 402px,#b8b8b8 402.25px,#c3c3c3 402.5px,#cccccc 402.75px,#d9d9d9 403.25px,#e2e2e2 403.75px,#e9e9e9 404.5px,#eeeeee 405.25px,#f5f5f5 407.75px,#f8f8f8 412px,#f8f8f8 420px,#f6f6f6 450px,#f2f2f2 480px,#eeeeee 510px,#e7e7e7 540px,#dfdfdf 570px,#d5d5d5 600px,#c9c9c9 629px)"></i><i style="left:84px;background:linear-gradient(#fefefe 0px,#fefefe 30px,#fefefe 60px,#fefefe 90px,#fefefe 120px,#fdfdfd 150px,#fdfdfd 180px,#fbfbfb 210px,#f6f6f6 240px,#efefef 257.75px,#e9e9e9 264.5px,#e1e1e1 270px,#d6d6d6 275.5px,#c6c6c6 280.25px,#b3b3b3 284.25px,#9b9b9b 287.75px,#8e8e8e 289.25px,#7e7e7e 290.75px,#6f6f6f 292px,#5c5c5c 293.25px,#4a4a4a 294.25px,#3a3a3a 295px,#272727 295.75px,#090909 296.75px,#010101 297.25px,#000000 298.5px,#020202 299px,#070707 299.25px,#0e0e0e 299.5px,#1f1f1f 300px,#363636 300.75px,#484848 301.5px,#5c5c5c 302.5px,#717171 303.75px,#818181 305px,#919191 306.5px,#9f9f9f 308px,#acacac 309.75px,#c0c0c0 313.5px,#d0d0d0 318px,#dcdcdc 323.25px,#e4e4e4 330px,#ececec 342.5px,#f0f0f0 360px,#f0f0f0 372px,#ededed 380.75px,#e9e9e9 386.25px,#e2e2e2 390px,#dadada 392px,#d0d0d0 393.5px,#c2c2c2 394.75px,#b6b6b6 395.5px,#acacac 396px,#a0a0a0 396.5px,#909090 397px,#727272 397.75px,#595959 398.25px,#4b4b4b 398.5px,#3b3b3b 398.75px,#292929 399px,#131313 399.25px,#040404 399.5px,#030303 399.75px,#0d0d0d 400px,#2e2e2e 400.25px,#545454 400.5px,#747474 400.75px,#8e8e8e 401px,#a3a3a3 401.25px,#b3b3b3 401.5px,#c0c0c0 401.75px,#d2d2d2 402.25px,#dddddd 402.75px,#e4e4e4 403.25px,#ebebeb 404px,#efefef 404.75px,#f5f5f5 407.25px,#f8f8f8 411.5px,#f8f8f8 420px,#f6f6f6 450px,#f2f2f2 480px,#eeeeee 510px,#e7e7e7 540px,#dfdfdf 570px,#d4d4d4 600px,#c9c9c9 629px)"></i><i style="left:86px;background:linear-gradient(#fefefe 0px,#fefefe 30px,#fefefe 60px,#fefefe 90px,#fefefe 120px,#fdfdfd 150px,#fdfdfd 180px,#fbfbfb 210px,#f6f6f6 240px,#eeeeee 258px,#e8e8e8 264.5px,#e0e0e0 270px,#d4d4d4 275.5px,#c5c5c5 280px,#b1b1b1 284px,#999999 287.5px,#7d7d7d 290.25px,#6d6d6d 291.5px,#5e5e5e 292.5px,#4d4d4d 293.5px,#3d3d3d 294.25px,#2b2b2b 295px,#070707 296.25px,#010101 296.75px,#000000 298px,#040404 298.5px,#0a0a0a 298.75px,#333333 300px,#464646 300.75px,#5a5a5a 301.75px,#6b6b6b 302.75px,#7d7d7d 304px,#8c8c8c 305.25px,#9a9a9a 306.75px,#b2b2b2 310px,#c4c4c4 313.75px,#d3d3d3 318.25px,#dddddd 323.5px,#e5e5e5 330px,#ededed 342.5px,#f0f0f0 360px,#f0f0f0 372.25px,#ededed 381px,#e9e9e9 386.5px,#e1e1e1 390px,#d9d9d9 391.75px,#cecece 393.25px,#bebebe 394.5px,#aaaaaa 395.5px,#9d9d9d 396px,#8d8d8d 396.5px,#6d6d6d 397.25px,#535353 397.75px,#434343 398px,#323232 398.25px,#080808 398.75px,#030303 399px,#070707 399.25px,#202020 399.5px,#464646 399.75px,#696969 400px,#868686 400.25px,#9d9d9d 400.5px,#afafaf 400.75px,#bcbcbc 401px,#d0d0d0 401.5px,#dcdcdc 402px,#e3e3e3 402.5px,#ebebeb 403.25px,#efefef 404px,#f5f5f5 406.75px,#f8f8f8 411.25px,#f8f8f8 420px,#f6f6f6 450px,#f2f2f2 480px,#eeeeee 510px,#e7e7e7 540px,#dfdfdf 570px,#d4d4d4 600px,#c9c9c9 629px)"></i><i style="left:88px;background:linear-gradient(#ffffff 0px,#fefefe 30px,#fefefe 60px,#fefefe 90px,#fefefe 120px,#fdfdfd 150px,#fdfdfd 180px,#fbfbfb 210px,#f6f6f6 240px,#eeeeee 258px,#e7e7e7 264.5px,#dfdfdf 270px,#d3d3d3 275.25px,#c4c4c4 279.75px,#afafaf 283.75px,#989898 287px,#7c7c7c 289.75px,#6c6c6c 291px,#5c5c5c 292px,#4a4a4a 293px,#3b3b3b 293.75px,#272727 294.5px,#0a0a0a 295.5px,#010101 296px,#000000 297.25px,#020202 297.75px,#070707 298px,#303030 299.25px,#434343 300px,#595959 301px,#6a6a6a 302px,#797979 303px,#888888 304.25px,#a2a2a2 307px,#b7b7b7 310.25px,#c8c8c8 314px,#d5d5d5 318.25px,#dfdfdf 323.5px,#e6e6e6 330px,#ededed 342.75px,#f0f0f0 360px,#f0f0f0 372.5px,#ededed 381.25px,#e8e8e8 386.5px,#dfdfdf 390px,#d6d6d6 391.75px,#cbcbcb 393px,#bdbdbd 394px,#a9a9a9 395px,#9a9a9a 395.5px,#898989 396px,#676767 396.75px,#4b4b4b 397.25px,#3a3a3a 397.5px,#272727 397.75px,#111111 398px,#030303 398.25px,#040404 398.5px,#141414 398.75px,#373737 399px,#5d5d5d 399.25px,#7d7d7d 399.5px,#969696 399.75px,#a9a9a9 400px,#b8b8b8 400.25px,#c4c4c4 400.5px,#d5d5d5 401px,#dfdfdf 401.5px,#e6e6e6 402px,#ececec 402.75px,#f0f0f0 403.5px,#f6f6f6 406.25px,#f8f8f8 411px,#f8f8f8 420px,#f6f6f6 450px,#f2f2f2 480px,#eeeeee 510px,#e7e7e7 540px,#dfdfdf 570px,#d4d4d4 600px,#c9c9c9 629px)"></i><i style="left:90px;background:linear-gradient(#ffffff 0px,#fefefe 30px,#fefefe 60px,#fefefe 90px,#fefefe 120px,#fdfdfd 150px,#fdfdfd 180px,#fbfbfb 210px,#f6f6f6 240px,#ededed 258px,#e7e7e7 264.5px,#dedede 270px,#d2d2d2 275.25px,#c2c2c2 279.5px,#afafaf 283.25px,#979797 286.5px,#7b7b7b 289.25px,#6a6a6a 290.5px,#5b5b5b 291.5px,#484848 292.5px,#383838 293.25px,#2b2b2b 293.75px,#070707 295px,#010101 295.5px,#000000 296.75px,#050505 297.25px,#0b0b0b 297.5px,#343434 298.75px,#525252 300px,#646464 301px,#747474 302px,#8f8f8f 304.25px,#a9a9a9 307.25px,#bcbcbc 310.5px,#cccccc 314.25px,#d7d7d7 318.5px,#e0e0e0 323.75px,#e7e7e7 330px,#eeeeee 342.75px,#f1f1f1 360px,#f0f0f0 373px,#ededed 381.5px,#e7e7e7 386.75px,#dddddd 390px,#d4d4d4 391.5px,#c7c7c7 392.75px,#b8b8b8 393.75px,#a6a6a6 394.5px,#8f8f8f 395.25px,#6e6e6e 396px,#535353 396.5px,#434343 396.75px,#303030 397px,#070707 397.5px,#030303 397.75px,#0b0b0b 398px,#292929 398.25px,#505050 398.5px,#727272 398.75px,#8e8e8e 399px,#a3a3a3 399.25px,#b4b4b4 399.5px,#c1c1c1 399.75px,#d3d3d3 400.25px,#dedede 400.75px,#e5e5e5 401.25px,#ececec 402px,#f0f0f0 402.75px,#f6f6f6 405.5px,#f8f8f8 410.25px,#f8f8f8 420px,#f6f6f6 450px,#f2f2f2 480px,#eeeeee 510px,#e7e7e7 540px,#dfdfdf 570px,#d4d4d4 600px,#c8c8c8 629px)"></i><i style="left:92px;background:linear-gradient(#ffffff 0px,#fefefe 30px,#fefefe 60px,#fefefe 90px,#fefefe 120px,#fdfdfd 150px,#fdfdfd 180px,#fbfbfb 210px,#f6f6f6 240px,#ededed 258px,#e6e6e6 264.5px,#dddddd 270px,#d1d1d1 275px,#c1c1c1 279.25px,#aeaeae 282.75px,#969696 286px,#7d7d7d 288.5px,#6c6c6c 289.75px,#5d5d5d 290.75px,#4b4b4b 291.75px,#3b3b3b 292.5px,#282828 293.25px,#0a0a0a 294.25px,#040404 294.5px,#000000 295px,#000000 296px,#030303 296.5px,#080808 296.75px,#0f0f0f 297px,#292929 297.75px,#383838 298.25px,#4a4a4a 299px,#5e5e5e 300px,#6f6f6f 301px,#7d7d7d 302px,#989898 304.5px,#aeaeae 307.25px,#c0c0c0 310.5px,#cecece 314.25px,#d9d9d9 318.5px,#e1e1e1 323.75px,#e8e8e8 330px,#eeeeee 342.75px,#f1f1f1 360px,#f0f0f0 373.25px,#ededed 381.75px,#e6e6e6 386.75px,#e2e2e2 388.5px,#dbdbdb 390px,#d2d2d2 391.25px,#c3c3c3 392.5px,#b1b1b1 393.5px,#9d9d9d 394.25px,#808080 395px,#686868 395.5px,#4b4b4b 396px,#393939 396.25px,#252525 396.5px,#0e0e0e 396.75px,#030303 397px,#060606 397.25px,#1c1c1c 397.5px,#676767 398px,#858585 398.25px,#9d9d9d 398.5px,#afafaf 398.75px,#bdbdbd 399px,#c8c8c8 399.25px,#d1d1d1 399.5px,#dddddd 400px,#e7e7e7 400.75px,#ededed 401.5px,#f2f2f2 402.5px,#f6f6f6 405.25px,#f8f8f8 410.25px,#f8f8f8 420px,#f6f6f6 450px,#f2f2f2 480px,#eeeeee 510px,#e7e7e7 540px,#dfdfdf 570px,#d4d4d4 600px,#c8c8c8 629px)"></i><i style="left:94px;background:linear-gradient(#ffffff 0px,#fefefe 30px,#fefefe 60px,#fefefe 90px,#fefefe 120px,#fdfdfd 150px,#fdfdfd 180px,#fbfbfb 210px,#f6f6f6 240px,#f2f2f2 250px,#ededed 258px,#e5e5e5 264.5px,#dcdcdc 270px,#d0d0d0 274.75px,#c1c1c1 278.75px,#aeaeae 282.25px,#959595 285.5px,#7b7b7b 288px,#6b6b6b 289.25px,#5b5b5b 290.25px,#494949 291.25px,#383838 292px,#2b2b2b 292.5px,#070707 293.75px,#010101 294.25px,#000000 295.5px,#050505 296px,#0b0b0b 296.25px,#2d2d2d 297.25px,#424242 298px,#585858 299px,#696969 300px,#858585 302px,#9e9e9e 304.5px,#b4b4b4 307.5px,#c4c4c4 310.75px,#d1d1d1 314.5px,#dbdbdb 318.75px,#e2e2e2 323.75px,#e8e8e8 330px,#eeeeee 342.75px,#f1f1f1 360px,#f0f0f0 373.5px,#ededed 382px,#e5e5e5 387px,#dfdfdf 388.75px,#d8d8d8 390px,#cccccc 391.25px,#bebebe 392.25px,#afafaf 393px,#999999 393.75px,#7c7c7c 394.5px,#626262 395px,#424242 395.5px,#2f2f2f 395.75px,#181818 396px,#060606 396.25px,#040404 396.5px,#111111 396.75px,#333333 397px,#5a5a5a 397.25px,#7b7b7b 397.5px,#959595 397.75px,#aaaaaa 398px,#b9b9b9 398.25px,#c6c6c6 398.5px,#cfcfcf 398.75px,#dcdcdc 399.25px,#e7e7e7 400px,#ededed 400.75px,#f2f2f2 401.75px,#f7f7f7 404.5px,#f8f8f8 409.5px,#f8f8f8 420px,#f6f6f6 450px,#f2f2f2 480px,#eeeeee 510px,#e7e7e7 540px,#dedede 570px,#d4d4d4 600px,#c8c8c8 629px)"></i><i style="left:96px;background:linear-gradient(#ffffff 0px,#fefefe 30px,#fefefe 60px,#fefefe 90px,#fefefe 120px,#fdfdfd 150px,#fdfdfd 180px,#fbfbfb 210px,#f6f6f6 240px,#f2f2f2 250px,#ececec 258px,#e5e5e5 264.5px,#dbdbdb 270px,#cecece 274.75px,#bebebe 278.75px,#aaaaaa 282.25px,#929292 285.25px,#777777 287.75px,#595959 289.75px,#464646 290.75px,#353535 291.5px,#282828 292px,#0a0a0a 293px,#040404 293.25px,#000000 293.75px,#000000 294.75px,#030303 295.25px,#080808 295.5px,#323232 296.75px,#454545 297.5px,#5f5f5f 298.75px,#747474 300px,#8d8d8d 302px,#a4a4a4 304.5px,#b8b8b8 307.5px,#c7c7c7 310.75px,#d3d3d3 314.5px,#dcdcdc 318.75px,#e3e3e3 323.75px,#e9e9e9 330px,#efefef 343px,#f2f2f2 360px,#f1f1f1 374px,#ececec 382.25px,#e9e9e9 385px,#e4e4e4 387px,#dcdcdc 388.75px,#d4d4d4 390px,#c9c9c9 391px,#bdbdbd 391.75px,#adadad 392.5px,#969696 393.25px,#767676 394px,#5b5b5b 394.5px,#383838 395px,#0b0b0b 395.5px,#040404 395.75px,#0a0a0a 396px,#252525 396.25px,#4c4c4c 396.5px,#707070 396.75px,#8d8d8d 397px,#a4a4a4 397.25px,#b5b5b5 397.5px,#c2c2c2 397.75px,#d4d4d4 398.25px,#dfdfdf 398.75px,#e9e9e9 399.5px,#eeeeee 400.25px,#f2f2f2 401.25px,#f7f7f7 404.25px,#f8f8f8 420px,#f6f6f6 450px,#f2f2f2 480px,#eeeeee 510px,#e7e7e7 540px,#dedede 570px,#d4d4d4 600px,#c8c8c8 629px)"></i><i style="left:98px;background:linear-gradient(#ffffff 0px,#fefefe 30px,#fefefe 60px,#fefefe 90px,#fefefe 120px,#fdfdfd 150px,#fdfdfd 180px,#fbfbfb 210px,#f6f6f6 240px,#f1f1f1 250px,#ececec 258px,#e4e4e4 264.5px,#dadada 270px,#cdcdcd 274.5px,#bdbdbd 278.5px,#aaaaaa 281.75px,#919191 284.75px,#767676 287.25px,#575757 289.25px,#393939 290.75px,#2c2c2c 291.25px,#070707 292.5px,#010101 293px,#000000 294.25px,#020202 294.5px,#050505 294.75px,#0c0c0c 295px,#2e2e2e 296px,#494949 297px,#666666 298.5px,#7d7d7d 300px,#969696 302.25px,#ababab 304.75px,#bcbcbc 307.5px,#cacaca 310.75px,#d5d5d5 314.5px,#dedede 318.75px,#e4e4e4 323.75px,#eaeaea 330px,#efefef 343px,#f2f2f2 360px,#f1f1f1 374.25px,#ececec 382.5px,#e7e7e7 385.25px,#e1e1e1 387.25px,#d9d9d9 388.75px,#cecece 390px,#c5c5c5 390.75px,#b7b7b7 391.5px,#a4a4a4 392.25px,#929292 392.75px,#7d7d7d 393.25px,#707070 393.5px,#535353 394px,#414141 394.25px,#2d2d2d 394.5px,#151515 394.75px,#050505 395px,#060606 395.25px,#191919 395.5px,#656565 396px,#848484 396.25px,#9d9d9d 396.5px,#b0b0b0 396.75px,#bfbfbf 397px,#cacaca 397.25px,#d2d2d2 397.5px,#dedede 398px,#e8e8e8 398.75px,#eeeeee 399.5px,#f2f2f2 400.5px,#f7f7f7 403.5px,#f9f9f9 409px,#f8f8f8 420px,#f6f6f6 450px,#f2f2f2 480px,#eeeeee 510px,#e7e7e7 540px,#dedede 570px,#d4d4d4 600px,#c8c8c8 629px)"></i><i style="left:100px;background:linear-gradient(#ffffff 0px,#fefefe 30px,#fefefe 60px,#fefefe 90px,#fefefe 120px,#fdfdfd 150px,#fdfdfd 180px,#fbfbfb 210px,#f5f5f5 240px,#f1f1f1 250px,#ebebeb 258px,#e3e3e3 264.5px,#d9d9d9 270px,#cccccc 274.25px,#bcbcbc 278px,#a9a9a9 281.25px,#919191 284.25px,#787878 286.5px,#5a5a5a 288.5px,#474747 289.5px,#363636 290.25px,#282828 290.75px,#0a0a0a 291.75px,#040404 292px,#000000 292.5px,#000000 293.5px,#030303 294px,#090909 294.25px,#333333 295.5px,#404040 296px,#515151 296.75px,#6d6d6d 298.25px,#858585 300px,#9c9c9c 302.25px,#b0b0b0 304.75px,#bfbfbf 307.5px,#cccccc 310.75px,#d7d7d7 314.5px,#dfdfdf 318.75px,#e5e5e5 323.75px,#eaeaea 330px,#f0f0f0 343px,#f2f2f2 360px,#f1f1f1 375px,#ebebeb 383px,#e6e6e6 385.5px,#dfdfdf 387.25px,#d5d5d5 388.75px,#c7c7c7 390px,#bbbbbb 390.75px,#afafaf 391.25px,#a1a1a1 391.75px,#8e8e8e 392.25px,#777777 392.75px,#5b5b5b 393.25px,#373737 393.75px,#090909 394.25px,#050505 394.5px,#0f0f0f 394.75px,#2f2f2f 395px,#585858 395.25px,#7a7a7a 395.5px,#969696 395.75px,#ababab 396px,#bbbbbb 396.25px,#c7c7c7 396.5px,#d0d0d0 396.75px,#dddddd 397.25px,#e8e8e8 398px,#eeeeee 398.75px,#f2f2f2 399.75px,#f7f7f7 402.75px,#f9f9f9 408.25px,#f9f9f9 420px,#f6f6f6 450px,#f2f2f2 480px,#eeeeee 510px,#e7e7e7 540px,#dedede 570px,#d4d4d4 600px,#c8c8c8 629px)"></i><i style="left:102px;background:linear-gradient(#ffffff 0px,#fefefe 30px,#fefefe 60px,#fefefe 90px,#fefefe 120px,#fdfdfd 150px,#fdfdfd 180px,#fbfbfb 210px,#f5f5f5 240px,#f1f1f1 250.25px,#eaeaea 258.25px,#e2e2e2 264.75px,#d7d7d7 270px,#cacaca 274.25px,#bbbbbb 277.75px,#a7a7a7 281px,#909090 283.75px,#767676 286px,#585858 288px,#393939 289.5px,#2c2c2c 290px,#070707 291.25px,#010101 291.75px,#000000 293px,#020202 293.25px,#060606 293.5px,#373737 295px,#545454 296.25px,#636363 297px,#737373 298px,#8d8d8d 300px,#a2a2a2 302.25px,#b4b4b4 304.75px,#c2c2c2 307.5px,#cfcfcf 310.75px,#d9d9d9 314.5px,#e0e0e0 318.75px,#ebebeb 330px,#f0f0f0 343px,#f2f2f2 360px,#f1f1f1 375.25px,#eeeeee 380px,#eaeaea 383.25px,#e4e4e4 385.75px,#dbdbdb 387.5px,#cdcdcd 389px,#bebebe 390px,#b3b3b3 390.5px,#a6a6a6 391px,#949494 391.5px,#7e7e7e 392px,#626262 392.5px,#525252 392.75px,#404040 393px,#2a2a2a 393.25px,#111111 393.5px,#050505 393.75px,#090909 394px,#222222 394.25px,#6f6f6f 394.75px,#8d8d8d 395px,#a5a5a5 395.25px,#b7b7b7 395.5px,#c4c4c4 395.75px,#d6d6d6 396.25px,#e1e1e1 396.75px,#eaeaea 397.5px,#efefef 398.25px,#f3f3f3 399.25px,#f8f8f8 402.5px,#f9f9f9 420px,#f6f6f6 450px,#f2f2f2 480px,#eeeeee 510px,#e7e7e7 540px,#dedede 570px,#d4d4d4 600px,#c8c8c8 629px)"></i><i style="left:104px;background:linear-gradient(#ffffff 0px,#fefefe 30px,#fefefe 60px,#fefefe 90px,#fefefe 120px,#fdfdfd 150px,#fdfdfd 180px,#fbfbfb 210px,#f5f5f5 240px,#f0f0f0 250.25px,#eaeaea 258.25px,#e1e1e1 264.75px,#d6d6d6 270px,#c9c9c9 274px,#b9b9b9 277.5px,#a6a6a6 280.5px,#8f8f8f 283.25px,#757575 285.5px,#676767 286.5px,#565656 287.5px,#474747 288.25px,#363636 289px,#292929 289.5px,#0a0a0a 290.5px,#050505 290.75px,#000000 291.25px,#000000 292.25px,#030303 292.75px,#090909 293px,#2c2c2c 294px,#3a3a3a 294.5px,#575757 295.75px,#6a6a6a 296.75px,#797979 297.75px,#949494 300px,#a8a8a8 302.25px,#b8b8b8 304.75px,#c7c7c7 307.75px,#d2d2d2 311px,#dbdbdb 314.75px,#e2e2e2 319px,#ececec 330px,#f1f1f1 343.25px,#f3f3f3 360px,#f0f0f0 375.75px,#eeeeee 380.25px,#e9e9e9 383.5px,#e2e2e2 385.75px,#d7d7d7 387.5px,#d0d0d0 388.25px,#c6c6c6 389px,#bdbdbd 389.5px,#b1b1b1 390px,#9a9a9a 390.75px,#858585 391.25px,#787878 391.5px,#5a5a5a 392px,#494949 392.25px,#343434 392.5px,#1c1c1c 392.75px,#070707 393px,#060606 393.25px,#171717 393.5px,#3b3b3b 393.75px,#636363 394px,#848484 394.25px,#9e9e9e 394.5px,#b2b2b2 394.75px,#c1c1c1 395px,#cccccc 395.25px,#d4d4d4 395.5px,#e0e0e0 396px,#eaeaea 396.75px,#efefef 397.5px,#f3f3f3 398.5px,#f8f8f8 401.75px,#f9f9f9 420px,#f6f6f6 450px,#f2f2f2 480px,#eeeeee 510px,#e7e7e7 540px,#dedede 570px,#d4d4d4 600px,#c8c8c8 629px)"></i><i style="left:106px;background:linear-gradient(#ffffff 0px,#fefefe 30px,#fefefe 60px,#fefefe 90px,#fefefe 120px,#fdfdfd 150px,#fdfdfd 180px,#fbfbfb 210px,#f5f5f5 240px,#f0f0f0 250.25px,#e9e9e9 258.25px,#e0e0e0 264.75px,#d4d4d4 270px,#c8c8c8 273.75px,#b7b7b7 277.25px,#a4a4a4 280.25px,#8b8b8b 283px,#747474 285px,#585858 286.75px,#454545 287.75px,#333333 288.5px,#070707 290px,#030303 290.25px,#000000 290.75px,#020202 292px,#060606 292.25px,#0d0d0d 292.5px,#282828 293.25px,#3e3e3e 294px,#505050 294.75px,#5f5f5f 295.5px,#707070 296.5px,#7f7f7f 297.5px,#8e8e8e 298.75px,#9a9a9a 300px,#adadad 302.25px,#bcbcbc 304.75px,#cacaca 307.75px,#d4d4d4 311px,#dcdcdc 314.75px,#e3e3e3 319px,#ececec 330px,#f1f1f1 343.25px,#f3f3f3 360px,#f0f0f0 376.25px,#ededed 380.75px,#e7e7e7 383.75px,#dedede 386px,#d7d7d7 387px,#cfcfcf 387.75px,#c5c5c5 388.5px,#bbbbbb 389px,#afafaf 389.5px,#9f9f9f 390px,#8b8b8b 390.5px,#7f7f7f 390.75px,#626262 391.25px,#3e3e3e 391.75px,#272727 392px,#0d0d0d 392.25px,#050505 392.5px,#0e0e0e 392.75px,#2d2d2d 393px,#565656 393.25px,#7a7a7a 393.5px,#979797 393.75px,#acacac 394px,#bdbdbd 394.25px,#c9c9c9 394.5px,#d9d9d9 395px,#e3e3e3 395.5px,#ececec 396.25px,#f4f4f4 398px,#f8f8f8 401.25px,#f9f9f9 420px,#f6f6f6 450px,#f2f2f2 480px,#eeeeee 510px,#e7e7e7 540px,#dedede 570px,#d4d4d4 600px,#c7c7c7 629px)"></i><i style="left:108px;background:linear-gradient(#ffffff 0px,#fefefe 30px,#fefefe 60px,#fefefe 90px,#fefefe 120px,#fdfdfd 150px,#fdfdfd 180px,#fbfbfb 210px,#f5f5f5 240px,#f0f0f0 250.25px,#e9e9e9 258.25px,#dfdfdf 264.75px,#d3d3d3 270px,#c5c5c5 273.75px,#b5b5b5 277px,#a1a1a1 280px,#8a8a8a 282.5px,#727272 284.5px,#565656 286.25px,#484848 287px,#373737 287.75px,#292929 288.25px,#0a0a0a 289.25px,#050505 289.5px,#000000 290px,#000000 291px,#040404 291.5px,#0a0a0a 291.75px,#2d2d2d 292.75px,#3b3b3b 293.25px,#4e4e4e 294px,#626262 295px,#737373 296px,#848484 297.25px,#929292 298.5px,#a1a1a1 300px,#b1b1b1 302.25px,#c0c0c0 304.75px,#cccccc 307.75px,#d6d6d6 311px,#dedede 314.75px,#e4e4e4 319px,#ededed 330px,#f1f1f1 343.25px,#f3f3f3 360px,#f0f0f0 376.75px,#ececec 381px,#e5e5e5 384px,#e0e0e0 385.25px,#d9d9d9 386.25px,#d2d2d2 387px,#c8c8c8 387.75px,#b9b9b9 388.5px,#acacac 389px,#9b9b9b 389.5px,#868686 390px,#6a6a6a 390.5px,#595959 390.75px,#474747 391px,#323232 391.25px,#181818 391.5px,#070707 391.75px,#090909 392px,#212121 392.25px,#6f6f6f 392.75px,#8e8e8e 393px,#a7a7a7 393.25px,#b9b9b9 393.5px,#c6c6c6 393.75px,#d0d0d0 394px,#d8d8d8 394.25px,#e2e2e2 394.75px,#ebebeb 395.5px,#f0f0f0 396.25px,#f4f4f4 397.25px,#f8f8f8 400.5px,#f9f9f9 420px,#f6f6f6 450px,#f2f2f2 480px,#eeeeee 510px,#e7e7e7 540px,#dedede 570px,#d3d3d3 600px,#c7c7c7 629px)"></i><i style="left:110px;background:linear-gradient(#ffffff 0px,#fefefe 30px,#fefefe 60px,#fefefe 90px,#fefefe 120px,#fdfdfd 150px,#fdfdfd 180px,#fbfbfb 210px,#f5f5f5 240px,#f0f0f0 250.25px,#e8e8e8 258.25px,#dedede 264.75px,#d1d1d1 270px,#c4c4c4 273.5px,#b3b3b3 276.75px,#a0a0a0 279.5px,#898989 282px,#717171 284px,#545454 285.75px,#454545 286.5px,#343434 287.25px,#070707 288.75px,#030303 289px,#000000 289.5px,#000000 290.5px,#020202 290.75px,#060606 291px,#313131 292.25px,#454545 293px,#5b5b5b 294px,#717171 295.25px,#808080 296.25px,#8f8f8f 297.5px,#a6a6a6 300px,#b6b6b6 302.25px,#c3c3c3 304.75px,#cfcfcf 307.75px,#d8d8d8 311px,#dfdfdf 314.75px,#e5e5e5 319px,#ededed 330px,#f2f2f2 343.25px,#f3f3f3 360px,#f2f2f2 370.5px,#f0f0f0 377.25px,#ebebeb 381.5px,#e2e2e2 384.25px,#dddddd 385.25px,#d4d4d4 386.25px,#cbcbcb 387px,#bdbdbd 387.75px,#a9a9a9 388.5px,#979797 389px,#808080 389.5px,#626262 390px,#505050 390.25px,#3c3c3c 390.5px,#0b0b0b 391px,#070707 391.25px,#161616 391.5px,#3a3a3a 391.75px,#636363 392px,#858585 392.25px,#a0a0a0 392.5px,#b4b4b4 392.75px,#c3c3c3 393px,#cecece 393.25px,#d6d6d6 393.5px,#e2e2e2 394px,#ebebeb 394.75px,#f0f0f0 395.5px,#f6f6f6 397.5px,#f9f9f9 401px,#f9f9f9 420px,#f6f6f6 450px,#f2f2f2 480px,#eeeeee 510px,#e7e7e7 540px,#dedede 570px,#d3d3d3 600px,#c7c7c7 629px)"></i><i style="left:112px;background:linear-gradient(#ffffff 0px,#fefefe 30px,#fefefe 60px,#fefefe 90px,#fefefe 120px,#fdfdfd 150px,#fdfdfd 180px,#fbfbfb 210px,#f5f5f5 240px,#efefef 250.25px,#e8e8e8 258.25px,#dddddd 264.75px,#cfcfcf 270px,#c2c2c2 273.5px,#b1b1b1 276.5px,#9e9e9e 279.25px,#888888 281.5px,#6f6f6f 283.5px,#525252 285.25px,#434343 286px,#303030 286.75px,#0a0a0a 288px,#050505 288.25px,#000000 288.75px,#000000 289.75px,#040404 290.25px,#0a0a0a 290.5px,#2e2e2e 291.5px,#434343 292.25px,#5e5e5e 293.5px,#747474 294.75px,#858585 296px,#939393 297.25px,#ababab 300px,#bababa 302.25px,#c6c6c6 304.75px,#d1d1d1 307.75px,#dadada 311px,#e6e6e6 319px,#eeeeee 330px,#f2f2f2 343.5px,#f3f3f3 360px,#f2f2f2 371px,#efefef 377.75px,#e9e9e9 381.75px,#e4e4e4 383.25px,#dedede 384.5px,#d6d6d6 385.5px,#cdcdcd 386.25px,#c1c1c1 387px,#aeaeae 387.75px,#9d9d9d 388.25px,#929292 388.5px,#797979 389px,#585858 389.5px,#454545 389.75px,#2e2e2e 390px,#121212 390.25px,#070707 390.5px,#0f0f0f 390.75px,#2d2d2d 391px,#565656 391.25px,#7b7b7b 391.5px,#999999 391.75px,#afafaf 392px,#bfbfbf 392.25px,#cccccc 392.5px,#d5d5d5 392.75px,#e1e1e1 393.25px,#e8e8e8 393.75px,#efefef 394.5px,#f6f6f6 396.5px,#f9f9f9 400px,#f9f9f9 420px,#f6f6f6 450px,#f2f2f2 480px,#eeeeee 510px,#e7e7e7 540px,#dedede 570px,#d3d3d3 600px,#c7c7c7 629px)"></i><i style="left:114px;background:linear-gradient(#ffffff 0px,#fefefe 30px,#fefefe 60px,#fefefe 90px,#fefefe 120px,#fdfdfd 150px,#fdfdfd 180px,#fbfbfb 210px,#f4f4f4 240px,#efefef 250.25px,#e7e7e7 258.25px,#dcdcdc 264.75px,#cdcdcd 270px,#c0c0c0 273.25px,#afafaf 276.25px,#9d9d9d 278.75px,#878787 281px,#717171 282.75px,#555555 284.5px,#464646 285.25px,#343434 286px,#070707 287.5px,#030303 287.75px,#000000 288.25px,#000000 289.25px,#020202 289.5px,#070707 289.75px,#323232 291px,#464646 291.75px,#616161 293px,#767676 294.25px,#878787 295.5px,#959595 296.75px,#a3a3a3 298.25px,#b0b0b0 300px,#bebebe 302.25px,#c9c9c9 304.75px,#d3d3d3 307.75px,#dbdbdb 311px,#e7e7e7 319px,#eeeeee 330px,#f2f2f2 343.5px,#f4f4f4 360px,#f2f2f2 371.25px,#efefef 378px,#e7e7e7 382px,#e1e1e1 383.5px,#dadada 384.5px,#d0d0d0 385.5px,#c4c4c4 386.25px,#b3b3b3 387px,#a2a2a2 387.5px,#8d8d8d 388px,#808080 388.25px,#616161 388.75px,#4e4e4e 389px,#383838 389.25px,#1e1e1e 389.5px,#090909 389.75px,#0a0a0a 390px,#212121 390.25px,#474747 390.5px,#707070 390.75px,#919191 391px,#a9a9a9 391.25px,#bbbbbb 391.5px,#c9c9c9 391.75px,#d3d3d3 392px,#dadada 392.25px,#e4e4e4 392.75px,#ededed 393.5px,#f1f1f1 394.25px,#f5f5f5 395.5px,#f9f9f9 398.75px,#f9f9f9 420px,#f6f6f6 450px,#f2f2f2 480px,#eeeeee 510px,#e7e7e7 540px,#dedede 570px,#d3d3d3 600px,#c7c7c7 629px)"></i><i style="left:116px;background:linear-gradient(#ffffff 0px,#fefefe 30px,#fefefe 60px,#fefefe 90px,#fefefe 120px,#fdfdfd 150px,#fdfdfd 180px,#fbfbfb 210px,#f4f4f4 240px,#efefef 250.25px,#e6e6e6 258.25px,#dbdbdb 264.75px,#cbcbcb 270px,#bdbdbd 273.25px,#adadad 276px,#9a9a9a 278.5px,#838383 280.75px,#707070 282.25px,#575757 283.75px,#494949 284.5px,#373737 285.25px,#2a2a2a 285.75px,#0a0a0a 286.75px,#050505 287px,#010101 287.25px,#000000 287.75px,#000000 288.5px,#040404 289px,#0b0b0b 289.25px,#2f2f2f 290.25px,#4a4a4a 291.25px,#646464 292.5px,#787878 293.75px,#898989 295px,#999999 296.5px,#a9a9a9 298.25px,#b5b5b5 300px,#c1c1c1 302.25px,#cccccc 304.75px,#d5d5d5 307.75px,#dddddd 311px,#e8e8e8 319px,#efefef 330px,#f3f3f3 343.5px,#f4f4f4 360px,#f3f3f3 370.75px,#efefef 377.25px,#e8e8e8 381.25px,#e2e2e2 382.75px,#dcdcdc 383.75px,#d3d3d3 384.75px,#c3c3c3 385.75px,#b0b0b0 386.5px,#9e9e9e 387px,#878787 387.5px,#696969 388px,#575757 388.25px,#424242 388.5px,#292929 388.75px,#0e0e0e 389px,#080808 389.25px,#171717 389.5px,#3a3a3a 389.75px,#646464 390px,#888888 390.25px,#a3a3a3 390.5px,#b7b7b7 390.75px,#c6c6c6 391px,#d1d1d1 391.25px,#dfdfdf 391.75px,#e7e7e7 392.25px,#ececec 392.75px,#f1f1f1 393.5px,#f7f7f7 395.5px,#f9f9f9 399.25px,#f9f9f9 420px,#f6f6f6 450px,#f2f2f2 480px,#eeeeee 510px,#e7e7e7 540px,#dedede 570px,#d3d3d3 600px,#c7c7c7 629px)"></i><i style="left:118px;background:linear-gradient(#ffffff 0px,#fefefe 30px,#fefefe 60px,#fefefe 90px,#fefefe 120px,#fdfdfd 150px,#fdfdfd 180px,#fbfbfb 210px,#f4f4f4 240px,#eeeeee 250.5px,#e5e5e5 258.5px,#dadada 264.75px,#c9c9c9 270px,#bcbcbc 273px,#ababab 275.75px,#979797 278.25px,#828282 280.25px,#6b6b6b 282px,#515151 283.5px,#343434 284.75px,#070707 286.25px,#030303 286.5px,#000000 287px,#000000 288px,#020202 288.25px,#070707 288.5px,#2b2b2b 289.5px,#474747 290.5px,#626262 291.75px,#7b7b7b 293.25px,#8e8e8e 294.75px,#9d9d9d 296.25px,#acacac 298px,#b9b9b9 300px,#c5c5c5 302.25px,#cfcfcf 305px,#dedede 311px,#e9e9e9 319px,#efefef 330px,#f3f3f3 343.75px,#f4f4f4 360px,#f3f3f3 370.75px,#efefef 377px,#e8e8e8 380.75px,#e2e2e2 382.25px,#dcdcdc 383.25px,#d2d2d2 384.25px,#c6c6c6 385px,#b4b4b4 385.75px,#a4a4a4 386.25px,#8e8e8e 386.75px,#717171 387.25px,#4b4b4b 387.75px,#343434 388px,#181818 388.25px,#090909 388.5px,#101010 388.75px,#2e2e2e 389px,#7e7e7e 389.5px,#9c9c9c 389.75px,#b2b2b2 390px,#c3c3c3 390.25px,#cfcfcf 390.5px,#d7d7d7 390.75px,#e3e3e3 391.25px,#eaeaea 391.75px,#eeeeee 392.25px,#f5f5f5 394px,#f8f8f8 396.25px,#fafafa 400.25px,#f9f9f9 420px,#f6f6f6 450px,#f2f2f2 480px,#eeeeee 510px,#e7e7e7 540px,#dedede 570px,#d3d3d3 600px,#c7c7c7 629px)"></i><i style="left:120px;background:linear-gradient(#ffffff 0px,#fefefe 30px,#fefefe 60px,#fefefe 90px,#fefefe 120px,#fdfdfd 150px,#fdfdfd 180px,#fbfbfb 210px,#f4f4f4 240px,#eeeeee 250.5px,#e5e5e5 258.5px,#d8d8d8 264.75px,#c7c7c7 270px,#b9b9b9 273px,#a9a9a9 275.5px,#969696 277.75px,#818181 279.75px,#6d6d6d 281.25px,#535353 282.75px,#383838 284px,#2a2a2a 284.5px,#0a0a0a 285.5px,#050505 285.75px,#010101 286px,#000000 286.5px,#000000 287.25px,#010101 287.5px,#050505 287.75px,#0b0b0b 288px,#2f2f2f 289px,#4b4b4b 290px,#656565 291.25px,#7d7d7d 292.75px,#909090 294.25px,#a1a1a1 296px,#b1b1b1 298px,#bdbdbd 300px,#c8c8c8 302.25px,#d2d2d2 305px,#e0e0e0 311px,#e9e9e9 319px,#f0f0f0 330px,#f3f3f3 343.75px,#f4f4f4 360px,#f3f3f3 370.5px,#efefef 376.75px,#e8e8e8 380.5px,#e2e2e2 381.75px,#dcdcdc 382.75px,#d1d1d1 383.75px,#c5c5c5 384.5px,#b2b2b2 385.25px,#9f9f9f 385.75px,#878787 386.25px,#676767 386.75px,#545454 387px,#3e3e3e 387.25px,#232323 387.5px,#0c0c0c 387.75px,#0c0c0c 388px,#232323 388.25px,#494949 388.5px,#737373 388.75px,#949494 389px,#adadad 389.25px,#bfbfbf 389.5px,#cccccc 389.75px,#d6d6d6 390px,#dddddd 390.25px,#e6e6e6 390.75px,#eeeeee 391.5px,#f4f4f4 392.75px,#f7f7f7 394.5px,#fafafa 401.25px,#f9f9f9 420px,#f6f6f6 450px,#f2f2f2 480px,#eeeeee 510px,#e7e7e7 540px,#dedede 570px,#d3d3d3 600px,#c6c6c6 629px)"></i><i style="left:122px;background:linear-gradient(#ffffff 0px,#fefefe 30px,#fefefe 60px,#fefefe 90px,#fefefe 120px,#fdfdfd 150px,#fdfdfd 180px,#fbfbfb 210px,#f4f4f4 240px,#ededed 250.5px,#e4e4e4 258.5px,#d7d7d7 264.75px,#c5c5c5 270px,#b7b7b7 272.75px,#a6a6a6 275.25px,#959595 277.25px,#808080 279.25px,#676767 281px,#4c4c4c 282.5px,#2e2e2e 283.75px,#070707 285px,#030303 285.25px,#010101 285.5px,#000000 286px,#000000 286.75px,#030303 287px,#080808 287.25px,#343434 288.5px,#4e4e4e 289.5px,#686868 290.75px,#7f7f7f 292.25px,#949494 294px,#a5a5a5 295.75px,#b4b4b4 297.75px,#c1c1c1 300px,#cbcbcb 302.25px,#d4d4d4 305px,#e1e1e1 311px,#eaeaea 319px,#f0f0f0 330px,#f4f4f4 344px,#f4f4f4 360px,#f3f3f3 370.25px,#efefef 376.25px,#e8e8e8 380px,#e2e2e2 381.25px,#dbdbdb 382.25px,#d4d4d4 383px,#c8c8c8 383.75px,#b6b6b6 384.5px,#a5a5a5 385px,#8e8e8e 385.5px,#707070 386px,#5d5d5d 386.25px,#484848 386.5px,#2f2f2f 386.75px,#121212 387px,#0a0a0a 387.25px,#1a1a1a 387.5px,#3d3d3d 387.75px,#686868 388px,#8c8c8c 388.25px,#a7a7a7 388.5px,#bbbbbb 388.75px,#cacaca 389px,#d4d4d4 389.25px,#dcdcdc 389.5px,#e6e6e6 390px,#eeeeee 390.75px,#f3f3f3 391.75px,#f9f9f9 395px,#fafafa 402px,#f9f9f9 420px,#f6f6f6 450px,#f2f2f2 480px,#eeeeee 510px,#e7e7e7 540px,#dedede 570px,#d3d3d3 600px,#c6c6c6 629px)"></i><i style="left:124px;background:linear-gradient(#ffffff 0px,#fefefe 30px,#fefefe 60px,#fefefe 90px,#fefefe 120px,#fdfdfd 150px,#fdfdfd 180px,#fafafa 210px,#f8f8f8 227.25px,#f3f3f3 240px,#ededed 250.5px,#e3e3e3 258.5px,#d5d5d5 264.75px,#cccccc 267.5px,#c2c2c2 270px,#b5b5b5 272.5px,#a5a5a5 274.75px,#949494 276.75px,#7e7e7e 278.75px,#656565 280.5px,#4a4a4a 282px,#323232 283px,#0b0b0b 284.25px,#050505 284.5px,#000000 285px,#000000 285.75px,#010101 286.25px,#050505 286.5px,#0c0c0c 286.75px,#282828 287.5px,#383838 288px,#575757 289.25px,#6f6f6f 290.5px,#818181 291.75px,#969696 293.5px,#a8a8a8 295.5px,#b8b8b8 297.75px,#c4c4c4 300px,#cecece 302.25px,#d6d6d6 305px,#e2e2e2 311px,#ebebeb 319px,#f1f1f1 330px,#f4f4f4 344px,#f5f5f5 360px,#f3f3f3 370px,#efefef 376px,#e8e8e8 379.5px,#e2e2e2 380.75px,#dbdbdb 381.75px,#d3d3d3 382.5px,#c6c6c6 383.25px,#b3b3b3 384px,#a0a0a0 384.5px,#878787 385px,#666666 385.5px,#515151 385.75px,#393939 386px,#1c1c1c 386.25px,#0b0b0b 386.5px,#131313 386.75px,#313131 387px,#838383 387.5px,#a1a1a1 387.75px,#b7b7b7 388px,#c7c7c7 388.25px,#d2d2d2 388.5px,#dadada 388.75px,#e5e5e5 389.25px,#eeeeee 390px,#f2f2f2 390.75px,#f6f6f6 392px,#f9f9f9 395.5px,#f9f9f9 420px,#f6f6f6 450px,#f2f2f2 480px,#eeeeee 510px,#e7e7e7 540px,#dedede 570px,#d3d3d3 600px,#c6c6c6 629px)"></i><i style="left:126px;background:linear-gradient(#ffffff 0px,#fefefe 30px,#fefefe 60px,#fefefe 90px,#fefefe 120px,#fdfdfd 150px,#fdfdfd 180px,#fafafa 210px,#f8f8f8 227.25px,#f3f3f3 240px,#ececec 250.5px,#e2e2e2 258.5px,#d4d4d4 264.75px,#cacaca 267.5px,#bfbfbf 270px,#b3b3b3 272.25px,#a3a3a3 274.5px,#919191 276.5px,#7d7d7d 278.25px,#686868 279.75px,#4c4c4c 281.25px,#353535 282.25px,#272727 282.75px,#0e0e0e 283.5px,#030303 284px,#000000 284.5px,#000000 285.25px,#030303 285.75px,#080808 286px,#353535 287.25px,#434343 287.75px,#555555 288.5px,#6d6d6d 289.75px,#848484 291.25px,#989898 293px,#aaaaaa 295px,#b9b9b9 297.25px,#c7c7c7 300px,#d8d8d8 305px,#e4e4e4 311.25px,#ececec 319.25px,#f1f1f1 330px,#f4f4f4 344px,#f5f5f5 360px,#f3f3f3 369.5px,#f0f0f0 375.25px,#e9e9e9 378.75px,#e4e4e4 380px,#dddddd 381px,#d5d5d5 381.75px,#cacaca 382.5px,#b7b7b7 383.25px,#a6a6a6 383.75px,#8e8e8e 384.25px,#6e6e6e 384.75px,#5a5a5a 385px,#434343 385.25px,#0f0f0f 385.75px,#0f0f0f 386px,#262626 386.25px,#4d4d4d 386.5px,#787878 386.75px,#9a9a9a 387px,#b2b2b2 387.25px,#c4c4c4 387.5px,#d0d0d0 387.75px,#d9d9d9 388px,#e5e5e5 388.5px,#eeeeee 389.25px,#f2f2f2 390px,#f8f8f8 392.25px,#fafafa 396px,#f9f9f9 420px,#f6f6f6 450px,#f2f2f2 480px,#eeeeee 510px,#e7e7e7 540px,#dedede 570px,#d3d3d3 600px,#c6c6c6 629px)"></i><i style="left:128px;background:linear-gradient(#ffffff 0px,#fefefe 30px,#fefefe 60px,#fefefe 90px,#fefefe 120px,#fdfdfd 150px,#fdfdfd 180px,#fafafa 210px,#f7f7f7 227.25px,#f3f3f3 240px,#ececec 250.5px,#e1e1e1 258.5px,#d2d2d2 264.75px,#c8c8c8 267.5px,#bcbcbc 270px,#afafaf 272.25px,#a0a0a0 274.25px,#909090 276px,#7c7c7c 277.75px,#666666 279.25px,#4a4a4a 280.75px,#323232 281.75px,#0b0b0b 283px,#050505 283.25px,#000000 283.75px,#000000 284.5px,#010101 285px,#050505 285.25px,#0d0d0d 285.5px,#292929 286.25px,#393939 286.75px,#585858 288px,#707070 289.25px,#868686 290.75px,#9a9a9a 292.5px,#adadad 294.75px,#bdbdbd 297.25px,#cacaca 300px,#dadada 305px,#e5e5e5 311.25px,#ececec 319.25px,#f1f1f1 330px,#f4f4f4 344.25px,#f5f5f5 360px,#f4f4f4 369.5px,#f0f0f0 375px,#e9e9e9 378.25px,#e4e4e4 379.5px,#dddddd 380.5px,#d4d4d4 381.25px,#c8c8c8 382px,#b4b4b4 382.75px,#a1a1a1 383.25px,#868686 383.75px,#767676 384px,#636363 384.25px,#4d4d4d 384.5px,#333333 384.75px,#151515 385px,#0d0d0d 385.25px,#1e1e1e 385.5px,#414141 385.75px,#6d6d6d 386px,#929292 386.25px,#adadad 386.5px,#c0c0c0 386.75px,#cecece 387px,#d8d8d8 387.25px,#dfdfdf 387.5px,#e8e8e8 388px,#f0f0f0 388.75px,#f5f5f5 390px,#f9f9f9 392.25px,#fafafa 396.5px,#f9f9f9 420px,#f6f6f6 450px,#f2f2f2 480px,#eeeeee 510px,#e7e7e7 540px,#dedede 570px,#d3d3d3 600px,#c6c6c6 629px)"></i><i style="left:130px;background:linear-gradient(#ffffff 0px,#fefefe 30px,#fefefe 60px,#fefefe 90px,#fefefe 120px,#fdfdfd 150px,#fdfdfd 180px,#fafafa 210px,#f7f7f7 227.25px,#f3f3f3 240px,#ebebeb 250.5px,#e0e0e0 258.5px,#d0d0d0 264.75px,#c6c6c6 267.5px,#b9b9b9 270px,#adadad 272px,#9d9d9d 274px,#8c8c8c 275.75px,#7a7a7a 277.25px,#646464 278.75px,#484848 280.25px,#2f2f2f 281.25px,#0e0e0e 282.25px,#070707 282.5px,#030303 282.75px,#000000 283.25px,#000000 284px,#030303 284.5px,#090909 284.75px,#252525 285.5px,#363636 286px,#444444 286.5px,#565656 287.25px,#727272 288.75px,#888888 290.25px,#9e9e9e 292.25px,#b0b0b0 294.5px,#c0c0c0 297px,#cdcdcd 300px,#dcdcdc 305px,#e6e6e6 311.25px,#ededed 319.25px,#f2f2f2 330px,#f5f5f5 360px,#f4f4f4 369.25px,#f0f0f0 374.75px,#e8e8e8 378px,#e4e4e4 379px,#dcdcdc 380px,#d3d3d3 380.75px,#c6c6c6 381.5px,#b9b9b9 382px,#a7a7a7 382.5px,#8d8d8d 383px,#7e7e7e 383.25px,#6b6b6b 383.5px,#565656 383.75px,#3e3e3e 384px,#1f1f1f 384.25px,#0e0e0e 384.5px,#171717 384.75px,#363636 385px,#616161 385.25px,#898989 385.5px,#a7a7a7 385.75px,#bcbcbc 386px,#cbcbcb 386.25px,#d6d6d6 386.5px,#e3e3e3 387px,#ededed 387.75px,#f4f4f4 388.75px,#f7f7f7 390px,#fafafa 396.75px,#f9f9f9 420px,#f6f6f6 450px,#f2f2f2 480px,#eeeeee 510px,#e7e7e7 540px,#dedede 570px,#d2d2d2 600px,#c6c6c6 629px)"></i><i style="left:132px;background:linear-gradient(#ffffff 0px,#fefefe 30px,#fefefe 60px,#fefefe 90px,#fefefe 120px,#fdfdfd 150px,#fdfdfd 180px,#fafafa 210px,#f7f7f7 227.25px,#f3f3f3 240px,#ebebeb 250.75px,#dfdfdf 258.75px,#d7d7d7 262px,#cdcdcd 265px,#c3c3c3 267.5px,#b6b6b6 270px,#a9a9a9 272px,#9a9a9a 273.75px,#8b8b8b 275.25px,#797979 276.75px,#626262 278.25px,#454545 279.75px,#323232 280.5px,#0b0b0b 281.75px,#050505 282px,#000000 282.5px,#000000 283.5px,#010101 283.75px,#060606 284px,#0d0d0d 284.25px,#323232 285.25px,#414141 285.75px,#535353 286.5px,#717171 288px,#8a8a8a 289.75px,#9f9f9f 291.75px,#b4b4b4 294.25px,#c3c3c3 297px,#d0d0d0 300px,#dddddd 305px,#e7e7e7 311.25px,#eeeeee 319.25px,#f2f2f2 330px,#f5f5f5 360px,#f4f4f4 369px,#f0f0f0 374.25px,#e9e9e9 377.5px,#e4e4e4 378.5px,#dcdcdc 379.5px,#d2d2d2 380.25px,#c4c4c4 381px,#b5b5b5 381.5px,#a1a1a1 382px,#858585 382.5px,#737373 382.75px,#5f5f5f 383px,#474747 383.25px,#2b2b2b 383.5px,#111111 383.75px,#121212 384px,#2c2c2c 384.25px,#545454 384.5px,#808080 384.75px,#a1a1a1 385px,#b8b8b8 385.25px,#c9c9c9 385.5px,#d4d4d4 385.75px,#dddddd 386px,#e7e7e7 386.5px,#efefef 387.25px,#f5f5f5 388.25px,#f8f8f8 390px,#fafafa 397.25px,#f9f9f9 420px,#f6f6f6 450px,#f2f2f2 480px,#eeeeee 510px,#e7e7e7 540px,#dddddd 570px,#d2d2d2 600px,#c6c6c6 629px)"></i><i style="left:134px;background:linear-gradient(#ffffff 0px,#fefefe 30px,#fefefe 60px,#fefefe 90px,#fefefe 120px,#fdfdfd 150px,#fdfdfd 180px,#fafafa 210px,#f7f7f7 227.5px,#f2f2f2 240px,#eaeaea 250.75px,#dedede 258.75px,#d5d5d5 262px,#cbcbcb 265px,#c0c0c0 267.5px,#b2b2b2 270px,#a6a6a6 271.75px,#979797 273.5px,#878787 275px,#747474 276.5px,#606060 277.75px,#484848 279px,#2f2f2f 280px,#0f0f0f 281px,#070707 281.25px,#030303 281.5px,#000000 282px,#000000 282.75px,#030303 283.25px,#090909 283.5px,#262626 284.25px,#373737 284.75px,#454545 285.25px,#575757 286px,#737373 287.5px,#8c8c8c 289.25px,#a3a3a3 291.5px,#b6b6b6 294px,#c6c6c6 296.75px,#d2d2d2 300px,#dfdfdf 305px,#e8e8e8 311.25px,#eeeeee 319.25px,#f2f2f2 330px,#f6f6f6 360px,#f4f4f4 368.75px,#f0f0f0 373.75px,#eaeaea 376.75px,#e5e5e5 377.75px,#dedede 378.75px,#d5d5d5 379.5px,#c7c7c7 380.25px,#bababa 380.75px,#a7a7a7 381.25px,#8c8c8c 381.75px,#7b7b7b 382px,#686868 382.25px,#515151 382.5px,#363636 382.75px,#171717 383px,#101010 383.25px,#232323 383.5px,#484848 383.75px,#757575 384px,#9a9a9a 384.25px,#b4b4b4 384.5px,#c6c6c6 384.75px,#d2d2d2 385px,#dbdbdb 385.25px,#e2e2e2 385.5px,#eaeaea 386px,#f1f1f1 386.75px,#f6f6f6 388px,#f9f9f9 390px,#fbfbfb 397.5px,#f9f9f9 420px,#f6f6f6 450px,#f2f2f2 480px,#ededed 510px,#e7e7e7 540px,#dddddd 570px,#d2d2d2 600px,#c6c6c6 629px)"></i><i style="left:136px;background:linear-gradient(#ffffff 0px,#fefefe 30px,#fefefe 60px,#fefefe 90px,#fefefe 120px,#fdfdfd 150px,#fdfdfd 180px,#fafafa 210px,#f7f7f7 227.5px,#f2f2f2 240px,#e9e9e9 250.75px,#dcdcdc 258.75px,#d4d4d4 262px,#c9c9c9 265px,#bebebe 267.5px,#afafaf 270px,#a1a1a1 271.75px,#949494 273.25px,#868686 274.5px,#767676 275.75px,#5f5f5f 277.25px,#454545 278.5px,#333333 279.25px,#0b0b0b 280.5px,#050505 280.75px,#000000 281.25px,#000000 282.25px,#020202 282.5px,#060606 282.75px,#0e0e0e 283px,#2b2b2b 283.75px,#3b3b3b 284.25px,#5a5a5a 285.5px,#767676 287px,#8e8e8e 288.75px,#a5a5a5 291px,#b8b8b8 293.5px,#c8c8c8 296.5px,#d5d5d5 300px,#e0e0e0 305px,#e9e9e9 311.25px,#efefef 319.25px,#f3f3f3 330px,#f6f6f6 360px,#f4f4f4 368.25px,#f1f1f1 373.25px,#eaeaea 376.25px,#e5e5e5 377.25px,#dddddd 378.25px,#d4d4d4 379px,#c5c5c5 379.75px,#b6b6b6 380.25px,#a1a1a1 380.75px,#939393 381px,#838383 381.25px,#707070 381.5px,#5a5a5a 381.75px,#414141 382px,#212121 382.25px,#111111 382.5px,#1d1d1d 382.75px,#3e3e3e 383px,#6a6a6a 383.25px,#929292 383.5px,#afafaf 383.75px,#c3c3c3 384px,#d1d1d1 384.25px,#dadada 384.5px,#e1e1e1 384.75px,#eaeaea 385.25px,#f3f3f3 386.25px,#f7f7f7 387.75px,#fafafa 390px,#fbfbfb 397.75px,#f9f9f9 420px,#f6f6f6 450px,#f2f2f2 480px,#ededed 510px,#e6e6e6 540px,#dddddd 570px,#d2d2d2 600px,#c5c5c5 629px)"></i><i style="left:138px;background:linear-gradient(#ffffff 0px,#fefefe 30px,#fefefe 60px,#fefefe 90px,#fefefe 120px,#fdfdfd 150px,#fdfdfd 180px,#fafafa 210px,#f7f7f7 227.5px,#f2f2f2 240px,#e9e9e9 250.75px,#dbdbdb 258.75px,#d2d2d2 262px,#c7c7c7 265px,#b9b9b9 267.75px,#aaaaaa 270px,#909090 273px,#828282 274.25px,#717171 275.5px,#5d5d5d 276.75px,#434343 278px,#2f2f2f 278.75px,#070707 280px,#030303 280.25px,#000000 280.75px,#000000 281.5px,#030303 282px,#0a0a0a 282.25px,#272727 283px,#373737 283.5px,#4c4c4c 284.25px,#5d5d5d 285px,#787878 286.5px,#909090 288.25px,#a7a7a7 290.5px,#bababa 293.25px,#cacaca 296.25px,#d7d7d7 300px,#e2e2e2 305px,#eaeaea 311.25px,#efefef 319.25px,#f3f3f3 330px,#f6f6f6 360px,#f4f4f4 368.25px,#f0f0f0 373px,#e9e9e9 376px,#e3e3e3 377px,#dddddd 377.75px,#d2d2d2 378.5px,#c9c9c9 379px,#bbbbbb 379.5px,#a7a7a7 380px,#9a9a9a 380.25px,#8b8b8b 380.5px,#787878 380.75px,#636363 381px,#4a4a4a 381.25px,#2c2c2c 381.5px,#141414 381.75px,#171717 382px,#343434 382.25px,#898989 382.75px,#a9a9a9 383px,#bfbfbf 383.25px,#cecece 383.5px,#d9d9d9 383.75px,#e0e0e0 384px,#e6e6e6 384.25px,#ededed 384.75px,#f4f4f4 385.75px,#f8f8f8 387.25px,#fafafa 390px,#f9f9f9 420px,#f6f6f6 450px,#f2f2f2 480px,#ededed 510px,#e6e6e6 540px,#dddddd 570px,#d2d2d2 600px,#c5c5c5 629px)"></i><i style="left:140px;background:linear-gradient(#ffffff 0px,#fefefe 30px,#fefefe 60px,#fefefe 90px,#fefefe 120px,#fdfdfd 150px,#fcfcfc 180px,#fafafa 210px,#f7f7f7 227.5px,#f2f2f2 240px,#e8e8e8 250.75px,#e2e2e2 255px,#dadada 258.75px,#d0d0d0 262px,#c4c4c4 265px,#b6b6b6 267.75px,#a6a6a6 270px,#8c8c8c 272.75px,#6f6f6f 275px,#5a5a5a 276.25px,#404040 277.5px,#2c2c2c 278.25px,#0b0b0b 279.25px,#050505 279.5px,#000000 280px,#000000 281px,#020202 281.25px,#060606 281.5px,#343434 282.75px,#494949 283.5px,#5b5b5b 284.25px,#777777 285.75px,#929292 287.75px,#aaaaaa 290.25px,#bdbdbd 293px,#cdcdcd 296.25px,#d9d9d9 300px,#e3e3e3 305px,#eaeaea 311.25px,#f0f0f0 319.25px,#f3f3f3 330px,#f6f6f6 360px,#f4f4f4 368px,#f0f0f0 372.75px,#e9e9e9 375.5px,#e3e3e3 376.5px,#dcdcdc 377.25px,#d1d1d1 378px,#c6c6c6 378.5px,#b7b7b7 379px,#a1a1a1 379.5px,#929292 379.75px,#818181 380px,#6c6c6c 380.25px,#545454 380.5px,#191919 381px,#151515 381.25px,#2c2c2c 381.5px,#535353 381.75px,#808080 382px,#a4a4a4 382.25px,#bcbcbc 382.5px,#cdcdcd 382.75px,#d8d8d8 383px,#e0e0e0 383.25px,#e6e6e6 383.5px,#ededed 384px,#f5f5f5 385.25px,#f9f9f9 387px,#fafafa 390px,#f9f9f9 420px,#f6f6f6 450px,#f2f2f2 480px,#ededed 510px,#e6e6e6 540px,#dddddd 570px,#d2d2d2 600px,#c5c5c5 629px)"></i><i style="left:142px;background:linear-gradient(#ffffff 0px,#fefefe 30px,#fefefe 60px,#fefefe 90px,#fefefe 120px,#fdfdfd 150px,#fcfcfc 180px,#fafafa 210px,#f7f7f7 227.5px,#f1f1f1 240px,#e8e8e8 250.75px,#e1e1e1 255px,#d8d8d8 258.75px,#cecece 262px,#c2c2c2 265px,#b2b2b2 267.75px,#a1a1a1 270px,#898989 272.5px,#6e6e6e 274.5px,#585858 275.75px,#434343 276.75px,#303030 277.5px,#080808 278.75px,#030303 279px,#000000 279.5px,#000000 280.25px,#040404 280.75px,#0b0b0b 281px,#282828 281.75px,#383838 282.25px,#4d4d4d 283px,#5e5e5e 283.75px,#6c6c6c 284.5px,#7d7d7d 285.5px,#969696 287.5px,#aeaeae 290px,#c0c0c0 292.75px,#cfcfcf 296px,#dbdbdb 300px,#e4e4e4 305px,#ebebeb 311.5px,#f0f0f0 319.5px,#f4f4f4 330px,#f6f6f6 360px,#f5f5f5 367.5px,#f1f1f1 372px,#eaeaea 374.75px,#e5e5e5 375.75px,#dedede 376.5px,#d4d4d4 377.25px,#cacaca 377.75px,#bcbcbc 378.25px,#a7a7a7 378.75px,#999999 379px,#898989 379.25px,#757575 379.5px,#5e5e5e 379.75px,#434343 380px,#222222 380.25px,#151515 380.5px,#252525 380.75px,#494949 381px,#777777 381.25px,#9e9e9e 381.5px,#b8b8b8 381.75px,#cbcbcb 382px,#d7d7d7 382.25px,#dfdfdf 382.5px,#e5e5e5 382.75px,#ededed 383.25px,#f5f5f5 384.5px,#f9f9f9 386.5px,#fbfbfb 390px,#f9f9f9 420px,#f6f6f6 450px,#f2f2f2 480px,#ededed 510px,#e6e6e6 540px,#dddddd 570px,#d2d2d2 600px,#c5c5c5 629px)"></i><i style="left:144px;background:linear-gradient(#ffffff 0px,#fefefe 30px,#fefefe 60px,#fefefe 90px,#fefefe 120px,#fdfdfd 150px,#fcfcfc 180px,#fafafa 210px,#f7f7f7 227.5px,#f1f1f1 240px,#e7e7e7 250.75px,#e0e0e0 255px,#d7d7d7 258.75px,#cccccc 262px,#bfbfbf 265px,#aeaeae 267.75px,#9c9c9c 270px,#818181 272.5px,#707070 273.75px,#606060 274.75px,#4c4c4c 275.75px,#3a3a3a 276.5px,#2c2c2c 277px,#0b0b0b 278px,#050505 278.25px,#000000 278.75px,#000000 279.75px,#020202 280px,#070707 280.25px,#353535 281.5px,#4a4a4a 282.25px,#5c5c5c 283px,#6b6b6b 283.75px,#7b7b7b 284.75px,#8a8a8a 285.75px,#989898 287px,#afafaf 289.5px,#c2c2c2 292.5px,#d1d1d1 296px,#dcdcdc 300px,#e5e5e5 305px,#ececec 311.5px,#f1f1f1 319.5px,#f4f4f4 330px,#f6f6f6 360px,#f5f5f5 367.5px,#f1f1f1 371.75px,#eaeaea 374.25px,#e4e4e4 375.25px,#dedede 376px,#d3d3d3 376.75px,#c8c8c8 377.25px,#b8b8b8 377.75px,#a0a0a0 378.25px,#919191 378.5px,#7e7e7e 378.75px,#686868 379px,#4d4d4d 379.25px,#2d2d2d 379.5px,#171717 379.75px,#202020 380px,#404040 380.25px,#979797 380.75px,#b5b5b5 381px,#c8c8c8 381.25px,#d6d6d6 381.5px,#dfdfdf 381.75px,#e5e5e5 382px,#f0f0f0 382.75px,#f7f7f7 384.25px,#fafafa 386.25px,#fbfbfb 390px,#f9f9f9 420px,#f6f6f6 450px,#f2f2f2 480px,#ededed 510px,#e6e6e6 540px,#dddddd 570px,#d2d2d2 600px,#c5c5c5 629px)"></i><i style="left:146px;background:linear-gradient(#ffffff 0px,#fefefe 30px,#fefefe 60px,#fefefe 90px,#fefefe 120px,#fdfdfd 150px,#fcfcfc 180px,#fafafa 210px,#f6f6f6 227.5px,#f1f1f1 240px,#e6e6e6 251px,#dedede 255.25px,#d5d5d5 259px,#c9c9c9 262.25px,#bababa 265.25px,#aaaaaa 267.75px,#969696 270px,#898989 271.25px,#797979 272.5px,#6a6a6a 273.5px,#595959 274.5px,#494949 275.25px,#373737 276px,#282828 276.5px,#0f0f0f 277.25px,#080808 277.5px,#030303 277.75px,#000000 278.25px,#000000 279px,#010101 279.25px,#040404 279.5px,#0b0b0b 279.75px,#292929 280.5px,#393939 281px,#4e4e4e 281.75px,#5f5f5f 282.5px,#6d6d6d 283.25px,#7e7e7e 284.25px,#8c8c8c 285.25px,#9a9a9a 286.5px,#b2b2b2 289.25px,#c4c4c4 292.25px,#d3d3d3 295.75px,#dedede 300px,#e7e7e7 305.25px,#ededed 311.5px,#f4f4f4 330px,#f6f6f6 360px,#f5f5f5 367px,#f1f1f1 371.25px,#eaeaea 373.75px,#e4e4e4 374.75px,#dddddd 375.5px,#d1d1d1 376.25px,#c5c5c5 376.75px,#b3b3b3 377.25px,#a7a7a7 377.5px,#989898 377.75px,#868686 378px,#717171 378.25px,#575757 378.5px,#1c1c1c 379px,#1d1d1d 379.25px,#383838 379.5px,#616161 379.75px,#8f8f8f 380px,#b0b0b0 380.25px,#c6c6c6 380.5px,#d5d5d5 380.75px,#dedede 381px,#e5e5e5 381.25px,#f0f0f0 382px,#f7f7f7 383.5px,#fafafa 385.75px,#fbfbfb 390px,#f9f9f9 420px,#f6f6f6 450px,#f2f2f2 480px,#ededed 510px,#e6e6e6 540px,#dddddd 570px,#d2d2d2 600px,#c5c5c5 629px)"></i><i style="left:148px;background:linear-gradient(#ffffff 0px,#fefefe 30px,#fefefe 60px,#fefefe 90px,#fefefe 120px,#fdfdfd 150px,#fcfcfc 180px,#fafafa 210px,#f6f6f6 227.5px,#f0f0f0 240px,#e5e5e5 251px,#dddddd 255.25px,#d3d3d3 259px,#c6c6c6 262.25px,#b7b7b7 265.25px,#a5a5a5 267.75px,#909090 270px,#747474 272.25px,#575757 274px,#474747 274.75px,#343434 275.5px,#0b0b0b 276.75px,#050505 277px,#000000 277.5px,#000000 278.5px,#020202 278.75px,#070707 279px,#2e2e2e 280px,#3e3e3e 280.5px,#515151 281.25px,#626262 282px,#707070 282.75px,#808080 283.75px,#9c9c9c 286px,#b4b4b4 288.75px,#c7c7c7 292px,#d5d5d5 295.75px,#e0e0e0 300px,#e8e8e8 305.25px,#ededed 311.5px,#f5f5f5 330px,#f7f7f7 360px,#f5f5f5 366.75px,#f1f1f1 370.75px,#eaeaea 373.25px,#dfdfdf 374.75px,#d5d5d5 375.5px,#c9c9c9 376px,#b9b9b9 376.5px,#adadad 376.75px,#a0a0a0 377px,#8f8f8f 377.25px,#7a7a7a 377.5px,#616161 377.75px,#444444 378px,#232323 378.25px,#1b1b1b 378.5px,#313131 378.75px,#575757 379px,#878787 379.25px,#acacac 379.5px,#c4c4c4 379.75px,#d3d3d3 380px,#dedede 380.25px,#eaeaea 380.75px,#f0f0f0 381.25px,#f3f3f3 381.75px,#f8f8f8 383px,#fafafa 385.5px,#fbfbfb 390px,#f9f9f9 420px,#f6f6f6 450px,#f2f2f2 480px,#ededed 510px,#e6e6e6 540px,#dddddd 570px,#d2d2d2 600px,#c5c5c5 629px)"></i><i style="left:150px;background:linear-gradient(#ffffff 0px,#fefefe 30px,#fefefe 60px,#fefefe 90px,#fefefe 120px,#fdfdfd 150px,#fcfcfc 180px,#fafafa 210px,#f6f6f6 227.5px,#f0f0f0 240px,#ebebeb 246px,#e4e4e4 251px,#dcdcdc 255.25px,#d1d1d1 259px,#c4c4c4 262.25px,#b3b3b3 265.25px,#a0a0a0 267.75px,#8a8a8a 270px,#6f6f6f 272px,#5e5e5e 273px,#4f4f4f 273.75px,#373737 274.75px,#292929 275.25px,#0f0f0f 276px,#080808 276.25px,#030303 276.5px,#010101 276.75px,#000000 277.75px,#010101 278px,#040404 278.25px,#0c0c0c 278.5px,#2a2a2a 279.25px,#3a3a3a 279.75px,#4f4f4f 280.5px,#656565 281.5px,#828282 283.25px,#9e9e9e 285.5px,#b5b5b5 288.25px,#c8c8c8 291.5px,#d6d6d6 295.25px,#e1e1e1 300px,#e9e9e9 305.25px,#eeeeee 311.5px,#f5f5f5 330px,#f7f7f7 360px,#f5f5f5 366.5px,#f1f1f1 370.25px,#eaeaea 372.75px,#e6e6e6 373.5px,#dfdfdf 374.25px,#d3d3d3 375px,#c6c6c6 375.5px,#b3b3b3 376px,#a6a6a6 376.25px,#969696 376.5px,#838383 376.75px,#6b6b6b 377px,#4e4e4e 377.25px,#2c2c2c 377.5px,#1c1c1c 377.75px,#2b2b2b 378px,#4e4e4e 378.25px,#7e7e7e 378.5px,#a6a6a6 378.75px,#c1c1c1 379px,#d2d2d2 379.25px,#dddddd 379.5px,#eaeaea 380px,#f0f0f0 380.5px,#f4f4f4 381px,#f8f8f8 382.5px,#fbfbfb 385px,#fbfbfb 390px,#f9f9f9 420px,#f6f6f6 450px,#f2f2f2 480px,#ededed 510px,#e6e6e6 540px,#dddddd 570px,#d2d2d2 600px,#c4c4c4 629px)"></i><i style="left:152px;background:linear-gradient(#ffffff 0px,#fefefe 30px,#fefefe 60px,#fefefe 90px,#fefefe 120px,#fdfdfd 150px,#fcfcfc 180px,#fafafa 210px,#f6f6f6 227.5px,#f0f0f0 240px,#eaeaea 246px,#e3e3e3 251px,#dadada 255.25px,#cfcfcf 259px,#c1c1c1 262.25px,#afafaf 265.25px,#9b9b9b 267.75px,#828282 270px,#696969 271.75px,#4d4d4d 273.25px,#343434 274.25px,#0b0b0b 275.5px,#050505 275.75px,#000000 276.25px,#000000 277.25px,#020202 277.5px,#080808 277.75px,#2f2f2f 278.75px,#3e3e3e 279.25px,#525252 280px,#636363 280.75px,#757575 281.75px,#858585 282.75px,#9f9f9f 285px,#adadad 286.5px,#b8b8b8 288px,#cacaca 291.25px,#d8d8d8 295.25px,#e3e3e3 300px,#eaeaea 305.25px,#efefef 311.5px,#f5f5f5 330px,#f7f7f7 360px,#f5f5f5 366.25px,#f1f1f1 370px,#eaeaea 372.25px,#e5e5e5 373px,#dedede 373.75px,#d6d6d6 374.25px,#cacaca 374.75px,#b9b9b9 375.25px,#adadad 375.5px,#9e9e9e 375.75px,#8b8b8b 376px,#747474 376.25px,#595959 376.5px,#373737 376.75px,#1f1f1f 377px,#272727 377.25px,#464646 377.5px,#a0a0a0 378px,#bebebe 378.25px,#d0d0d0 378.5px,#dcdcdc 378.75px,#e4e4e4 379px,#eaeaea 379.25px,#f0f0f0 379.75px,#f4f4f4 380.25px,#f9f9f9 381.75px,#fbfbfb 384.5px,#fbfbfb 390px,#f9f9f9 420px,#f6f6f6 450px,#f2f2f2 480px,#ededed 510px,#e6e6e6 540px,#dddddd 570px,#d1d1d1 600px,#c4c4c4 629px)"></i><i style="left:154px;background:linear-gradient(#ffffff 0px,#fefefe 30px,#fefefe 60px,#fefefe 90px,#fefefe 120px,#fdfdfd 150px,#fcfcfc 180px,#fafafa 210px,#f6f6f6 227.75px,#efefef 240px,#eaeaea 246px,#e2e2e2 251px,#d9d9d9 255.25px,#cdcdcd 259px,#bebebe 262.25px,#ababab 265.25px,#959595 267.75px,#7b7b7b 270px,#636363 271.5px,#4a4a4a 272.75px,#313131 273.75px,#0f0f0f 274.75px,#080808 275px,#030303 275.25px,#010101 275.5px,#000000 276.5px,#010101 276.75px,#050505 277px,#0d0d0d 277.25px,#2b2b2b 278px,#3b3b3b 278.5px,#505050 279.25px,#666666 280.25px,#787878 281.25px,#878787 282.25px,#a1a1a1 284.5px,#b9b9b9 287.5px,#cccccc 291px,#d9d9d9 295px,#e4e4e4 300px,#eaeaea 305.25px,#efefef 311.75px,#f5f5f5 330px,#f7f7f7 360px,#f5f5f5 365.75px,#f2f2f2 369.25px,#ebebeb 371.5px,#e7e7e7 372.25px,#e0e0e0 373px,#d4d4d4 373.75px,#c7c7c7 374.25px,#b3b3b3 374.75px,#a5a5a5 375px,#939393 375.25px,#7d7d7d 375.5px,#636363 375.75px,#424242 376px,#242424 376.25px,#242424 376.5px,#3f3f3f 376.75px,#6a6a6a 377px,#9a9a9a 377.25px,#bababa 377.5px,#cfcfcf 377.75px,#dbdbdb 378px,#e4e4e4 378.25px,#ededed 378.75px,#f5f5f5 379.75px,#fafafa 381.5px,#fcfcfc 390px,#f9f9f9 420px,#f6f6f6 450px,#f2f2f2 480px,#ededed 510px,#e6e6e6 540px,#dddddd 570px,#d1d1d1 600px,#c4c4c4 629px)"></i><i style="left:156px;background:linear-gradient(#ffffff 0px,#fefefe 30px,#fefefe 60px,#fefefe 90px,#fefefe 120px,#fdfdfd 150px,#fcfcfc 180px,#fafafa 210px,#f6f6f6 227.75px,#efefef 240px,#e9e9e9 246.25px,#e1e1e1 251.25px,#d7d7d7 255.5px,#cacaca 259.25px,#b9b9b9 262.5px,#a4a4a4 265.5px,#8c8c8c 268px,#727272 270px,#5c5c5c 271.25px,#424242 272.5px,#2d2d2d 273.25px,#0b0b0b 274.25px,#050505 274.5px,#000000 275px,#000000 276px,#030303 276.25px,#090909 276.5px,#2f2f2f 277.5px,#3f3f3f 278px,#535353 278.75px,#646464 279.5px,#767676 280.5px,#868686 281.5px,#969696 282.75px,#a3a3a3 284px,#bababa 287px,#cdcdcd 290.5px,#dbdbdb 294.75px,#e5e5e5 300px,#ebebeb 305.25px,#f0f0f0 311.75px,#f6f6f6 330px,#f7f7f7 360px,#f5f5f5 365.75px,#f2f2f2 369px,#ebebeb 371px,#e7e7e7 371.75px,#dfdfdf 372.5px,#d7d7d7 373px,#cbcbcb 373.5px,#b9b9b9 374px,#acacac 374.25px,#9b9b9b 374.5px,#868686 374.75px,#6d6d6d 375px,#4d4d4d 375.25px,#2b2b2b 375.5px,#232323 375.75px,#393939 376px,#616161 376.25px,#929292 376.5px,#b6b6b6 376.75px,#cdcdcd 377px,#dbdbdb 377.25px,#e4e4e4 377.5px,#eeeeee 378px,#f6f6f6 379px,#fafafa 380.75px,#fcfcfc 390px,#f9f9f9 420px,#f6f6f6 450px,#f2f2f2 480px,#ededed 510px,#e6e6e6 540px,#dddddd 570px,#d1d1d1 600px,#c4c4c4 629px)"></i><i style="left:158px;background:linear-gradient(#ffffff 0px,#fefefe 30px,#fefefe 60px,#fefefe 90px,#fefefe 120px,#fdfdfd 150px,#fcfcfc 180px,#fafafa 210px,#f5f5f5 227.75px,#efefef 240px,#e8e8e8 246.25px,#e0e0e0 251.25px,#d5d5d5 255.5px,#c7c7c7 259.25px,#b6b6b6 262.5px,#9f9f9f 265.5px,#858585 268px,#686868 270px,#555555 271px,#3f3f3f 272px,#292929 272.75px,#080808 273.75px,#030303 274px,#010101 274.25px,#000000 275.25px,#010101 275.5px,#050505 275.75px,#0d0d0d 276px,#2b2b2b 276.75px,#3c3c3c 277.25px,#515151 278px,#676767 279px,#797979 280px,#888888 281px,#979797 282.25px,#a4a4a4 283.5px,#bcbcbc 286.5px,#cfcfcf 290.25px,#dcdcdc 294.5px,#e6e6e6 300px,#ececec 305.25px,#f0f0f0 311.75px,#f6f6f6 330px,#f7f7f7 360px,#f5f5f5 365.5px,#f1f1f1 368.75px,#eaeaea 370.75px,#e4e4e4 371.5px,#dedede 372px,#cfcfcf 372.75px,#bebebe 373.25px,#b2b2b2 373.5px,#a3a3a3 373.75px,#8f8f8f 374px,#767676 374.25px,#585858 374.5px,#343434 374.75px,#242424 375px,#343434 375.25px,#585858 375.5px,#8a8a8a 375.75px,#b2b2b2 376px,#cbcbcb 376.25px,#dadada 376.5px,#e3e3e3 376.75px,#eeeeee 377.25px,#f6f6f6 378.25px,#fafafa 380px,#fcfcfc 390px,#f9f9f9 420px,#f6f6f6 450px,#f2f2f2 480px,#ededed 510px,#e6e6e6 540px,#dddddd 570px,#d1d1d1 600px,#c4c4c4 629px)"></i><i style="left:160px;background:linear-gradient(#ffffff 0px,#fefefe 30px,#fefefe 60px,#fefefe 90px,#fefefe 120px,#fdfdfd 150px,#fcfcfc 180px,#fafafa 210px,#f5f5f5 227.75px,#eeeeee 240px,#e7e7e7 246.25px,#dedede 251.5px,#d3d3d3 255.75px,#c3c3c3 259.5px,#b0b0b0 262.75px,#9a9a9a 265.5px,#8d8d8d 266.75px,#7d7d7d 268px,#6e6e6e 269px,#5d5d5d 270px,#4e4e4e 270.75px,#3c3c3c 271.5px,#2d2d2d 272px,#0b0b0b 273px,#050505 273.25px,#000000 273.75px,#000000 274.75px,#030303 275px,#090909 275.25px,#272727 276px,#404040 276.75px,#545454 277.5px,#656565 278.25px,#777777 279.25px,#8a8a8a 280.5px,#999999 281.75px,#a6a6a6 283px,#b3b3b3 284.5px,#bebebe 286.25px,#d0d0d0 290px,#dedede 294.5px,#e7e7e7 300px,#f1f1f1 311.75px,#f6f6f6 330px,#f7f7f7 360px,#f5f5f5 365.25px,#f1f1f1 368.25px,#eaeaea 370.25px,#e4e4e4 371px,#dddddd 371.5px,#d3d3d3 372px,#cccccc 372.25px,#c3c3c3 372.5px,#b8b8b8 372.75px,#aaaaaa 373px,#979797 373.25px,#7f7f7f 373.5px,#626262 373.75px,#3e3e3e 374px,#272727 374.25px,#313131 374.5px,#515151 374.75px,#818181 375px,#adadad 375.25px,#c8c8c8 375.5px,#d9d9d9 375.75px,#e3e3e3 376px,#eeeeee 376.5px,#f6f6f6 377.5px,#fafafa 379.25px,#fcfcfc 390px,#f9f9f9 420px,#f6f6f6 450px,#f2f2f2 480px,#ededed 510px,#e6e6e6 540px,#dddddd 570px,#d1d1d1 600px,#c4c4c4 629px)"></i><i style="left:162px;background:linear-gradient(#ffffff 0px,#fefefe 30px,#fefefe 60px,#fefefe 90px,#fefefe 120px,#fdfdfd 150px,#fcfcfc 180px,#fafafa 210px,#f5f5f5 227.75px,#eeeeee 240px,#e7e7e7 246.25px,#dddddd 251.5px,#d1d1d1 255.75px,#c0c0c0 259.5px,#acacac 262.75px,#a0a0a0 264.25px,#919191 265.75px,#747474 268px,#646464 269px,#515151 270px,#383838 271px,#2a2a2a 271.5px,#080808 272.5px,#030303 272.75px,#000000 273.25px,#010101 274.25px,#060606 274.5px,#0e0e0e 274.75px,#2c2c2c 275.5px,#444444 276.25px,#585858 277px,#686868 277.75px,#7a7a7a 278.75px,#8c8c8c 280px,#9b9b9b 281.25px,#a8a8a8 282.5px,#b4b4b4 284px,#bfbfbf 285.75px,#d1d1d1 289.5px,#dfdfdf 294.25px,#e8e8e8 300px,#f1f1f1 311.75px,#f6f6f6 330px,#f7f7f7 360px,#f5f5f5 364.75px,#f2f2f2 367.75px,#ebebeb 369.5px,#e5e5e5 370.25px,#dfdfdf 370.75px,#d0d0d0 371.5px,#bebebe 372px,#b0b0b0 372.25px,#9f9f9f 372.5px,#898989 372.75px,#6c6c6c 373px,#494949 373.25px,#2c2c2c 373.5px,#2e2e2e 373.75px,#4b4b4b 374px,#787878 374.25px,#a8a8a8 374.5px,#c6c6c6 374.75px,#d8d8d8 375px,#e3e3e3 375.25px,#eeeeee 375.75px,#f3f3f3 376.25px,#f6f6f6 376.75px,#fafafa 378.75px,#fcfcfc 390px,#f9f9f9 420px,#f6f6f6 450px,#f2f2f2 480px,#ededed 510px,#e6e6e6 540px,#dddddd 570px,#d1d1d1 600px,#c4c4c4 629px)"></i><i style="left:164px;background:linear-gradient(#ffffff 0px,#fefefe 30px,#fefefe 60px,#fefefe 90px,#fefefe 120px,#fdfdfd 150px,#fcfcfc 180px,#fafafa 210px,#f5f5f5 227.75px,#ededed 240px,#e5e5e5 246.5px,#dbdbdb 251.75px,#cecece 256px,#bcbcbc 259.75px,#a6a6a6 263px,#8a8a8a 265.75px,#7a7a7a 267px,#6b6b6b 268px,#595959 269px,#424242 270px,#2e2e2e 270.75px,#0b0b0b 271.75px,#050505 272px,#000000 272.5px,#000000 273.5px,#030303 273.75px,#0a0a0a 274px,#282828 274.75px,#414141 275.5px,#555555 276.25px,#6b6b6b 277.25px,#7c7c7c 278.25px,#8e8e8e 279.5px,#9d9d9d 280.75px,#a9a9a9 282px,#b5b5b5 283.5px,#c1c1c1 285.25px,#d3d3d3 289.25px,#e0e0e0 294px,#e9e9e9 300px,#f2f2f2 311.75px,#f7f7f7 330px,#f7f7f7 360px,#f5f5f5 364.5px,#f2f2f2 367.25px,#ebebeb 369px,#e5e5e5 369.75px,#dedede 370.25px,#d4d4d4 370.75px,#cccccc 371px,#c3c3c3 371.25px,#b7b7b7 371.5px,#a6a6a6 371.75px,#919191 372px,#767676 372.25px,#323232 372.75px,#2d2d2d 373px,#454545 373.25px,#6f6f6f 373.5px,#a2a2a2 373.75px,#c3c3c3 374px,#d7d7d7 374.25px,#e2e2e2 374.5px,#e9e9e9 374.75px,#f1f1f1 375.25px,#f7f7f7 376.25px,#fbfbfb 378.25px,#fcfcfc 390px,#f9f9f9 420px,#f6f6f6 450px,#f2f2f2 480px,#ededed 510px,#e6e6e6 540px,#dddddd 570px,#d1d1d1 600px,#c4c4c4 629px)"></i><i style="left:166px;background:linear-gradient(#ffffff 0px,#fefefe 30px,#fefefe 60px,#fefefe 90px,#fefefe 120px,#fdfdfd 150px,#fcfcfc 180px,#f9f9f9 210px,#f5f5f5 227.75px,#ededed 240px,#e5e5e5 246.5px,#dadada 251.75px,#cacaca 256.25px,#b7b7b7 260px,#9e9e9e 263.25px,#8f8f8f 264.75px,#808080 266px,#6d6d6d 267.25px,#5b5b5b 268.25px,#464646 269.25px,#323232 270px,#0f0f0f 271px,#080808 271.25px,#030303 271.5px,#000000 272px,#010101 273px,#060606 273.25px,#0f0f0f 273.5px,#2d2d2d 274.25px,#3e3e3e 274.75px,#535353 275.5px,#696969 276.5px,#7b7b7b 277.5px,#8d8d8d 278.75px,#9c9c9c 280px,#ababab 281.5px,#b7b7b7 283px,#c2c2c2 284.75px,#d4d4d4 288.75px,#e1e1e1 293.75px,#eaeaea 300px,#f2f2f2 311.75px,#f7f7f7 330px,#f7f7f7 360px,#f5f5f5 364.25px,#f2f2f2 366.75px,#ebebeb 368.5px,#e1e1e1 369.5px,#d7d7d7 370px,#d0d0d0 370.25px,#c8c8c8 370.5px,#bcbcbc 370.75px,#adadad 371px,#9a9a9a 371.25px,#808080 371.5px,#5f5f5f 371.75px,#3a3a3a 372px,#2e2e2e 372.25px,#414141 372.5px,#676767 372.75px,#9b9b9b 373px,#c0c0c0 373.25px,#d5d5d5 373.5px,#e2e2e2 373.75px,#e9e9e9 374px,#f1f1f1 374.5px,#f8f8f8 375.5px,#fbfbfb 377.5px,#fcfcfc 390px,#f9f9f9 420px,#f6f6f6 450px,#f2f2f2 480px,#ededed 510px,#e6e6e6 540px,#dddddd 570px,#d1d1d1 600px,#c3c3c3 629px)"></i><i style="left:168px;background:linear-gradient(#ffffff 0px,#fefefe 30px,#fefefe 60px,#fefefe 90px,#fefefe 120px,#fdfdfd 150px,#fcfcfc 180px,#f9f9f9 210px,#f5f5f5 227.75px,#ececec 240px,#e3e3e3 246.75px,#d7d7d7 252px,#c7c7c7 256.5px,#b1b1b1 260.25px,#a4a4a4 262px,#969696 263.5px,#858585 265px,#737373 266.25px,#5e5e5e 267.5px,#494949 268.5px,#353535 269.25px,#1d1d1d 270px,#0b0b0b 270.5px,#050505 270.75px,#010101 271px,#000000 272px,#030303 272.5px,#0a0a0a 272.75px,#323232 273.75px,#424242 274.25px,#5c5c5c 275.25px,#757575 276.5px,#898989 277.75px,#9b9b9b 279.25px,#acacac 281px,#bababa 282.75px,#cccccc 286px,#d9d9d9 289.75px,#e3e3e3 294.25px,#ebebeb 300px,#f3f3f3 312px,#f7f7f7 330px,#f7f7f7 360px,#f5f5f5 364px,#f1f1f1 366.5px,#eaeaea 368px,#dfdfdf 369px,#d4d4d4 369.5px,#cccccc 369.75px,#c2c2c2 370px,#b4b4b4 370.25px,#a2a2a2 370.5px,#898989 370.75px,#6a6a6a 371px,#434343 371.25px,#303030 371.5px,#3d3d3d 371.75px,#606060 372px,#939393 372.25px,#bdbdbd 372.5px,#d4d4d4 372.75px,#e1e1e1 373px,#e9e9e9 373.25px,#f2f2f2 373.75px,#f6f6f6 374.25px,#f9f9f9 375px,#fbfbfb 377px,#fcfcfc 390px,#f9f9f9 420px,#f6f6f6 450px,#f2f2f2 480px,#ededed 510px,#e6e6e6 540px,#dddddd 570px,#d1d1d1 600px,#c3c3c3 629px)"></i><i style="left:170px;background:linear-gradient(#ffffff 0px,#fefefe 30px,#fefefe 60px,#fefefe 90px,#fefefe 120px,#fdfdfd 150px,#fcfcfc 180px,#f9f9f9 210px,#f4f4f4 228px,#ececec 240px,#e2e2e2 246.75px,#d5d5d5 252.25px,#c3c3c3 256.75px,#b8b8b8 258.75px,#ababab 260.5px,#9c9c9c 262.25px,#8d8d8d 263.75px,#7d7d7d 265px,#696969 266.25px,#575757 267.25px,#404040 268.25px,#2a2a2a 269px,#080808 270px,#030303 270.25px,#010101 270.5px,#000000 271.5px,#020202 271.75px,#070707 272px,#2e2e2e 273px,#464646 273.75px,#5a5a5a 274.5px,#6f6f6f 275.5px,#848484 276.75px,#949494 278px,#a5a5a5 279.5px,#b4b4b4 281.25px,#c0c0c0 283px,#c9c9c9 284.75px,#d8d8d8 288.75px,#e4e4e4 293.75px,#ececec 300px,#f3f3f3 312px,#f7f7f7 330px,#f7f7f7 360px,#f5f5f5 363.75px,#f1f1f1 366px,#eaeaea 367.5px,#e5e5e5 368px,#dddddd 368.5px,#d1d1d1 369px,#c7c7c7 369.25px,#bababa 369.5px,#a9a9a9 369.75px,#929292 370px,#747474 370.25px,#4e4e4e 370.5px,#343434 370.75px,#3b3b3b 371px,#5a5a5a 371.25px,#8b8b8b 371.5px,#b9b9b9 371.75px,#d2d2d2 372px,#e1e1e1 372.25px,#e9e9e9 372.5px,#f2f2f2 373px,#f6f6f6 373.5px,#f9f9f9 374.25px,#fbfbfb 376.25px,#fcfcfc 390px,#f9f9f9 420px,#f6f6f6 450px,#f2f2f2 480px,#ededed 510px,#e6e6e6 540px,#dcdcdc 570px,#d1d1d1 600px,#c3c3c3 629px)"></i><i style="left:172px;background:linear-gradient(#ffffff 0px,#fefefe 30px,#fefefe 60px,#fefefe 90px,#fefefe 120px,#fdfdfd 150px,#fcfcfc 180px,#f9f9f9 210px,#f4f4f4 228px,#ebebeb 240px,#e1e1e1 246.75px,#d4d4d4 252px,#c2c2c2 256.25px,#b7b7b7 258.25px,#ababab 260px,#9e9e9e 261.5px,#8e8e8e 263px,#7f7f7f 264.25px,#6c6c6c 265.5px,#595959 266.5px,#434343 267.5px,#2e2e2e 268.25px,#0b0b0b 269.25px,#050505 269.5px,#000000 270px,#010101 271px,#040404 271.25px,#0b0b0b 271.5px,#333333 272.5px,#434343 273px,#5d5d5d 274px,#767676 275.25px,#868686 276.25px,#969696 277.5px,#a4a4a4 278.75px,#b1b1b1 280.25px,#bebebe 282px,#c8c8c8 283.75px,#d8d8d8 288px,#e4e4e4 293.25px,#ededed 300px,#f3f3f3 312px,#f7f7f7 330px,#f7f7f7 360px,#f5f5f5 363.5px,#f1f1f1 365.5px,#ebebeb 366.75px,#e7e7e7 367.25px,#e0e0e0 367.75px,#d4d4d4 368.25px,#cccccc 368.5px,#c0c0c0 368.75px,#b0b0b0 369px,#9b9b9b 369.25px,#7e7e7e 369.5px,#595959 369.75px,#393939 370px,#3a3a3a 370.25px,#545454 370.5px,#828282 370.75px,#b4b4b4 371px,#d1d1d1 371.25px,#e0e0e0 371.5px,#e9e9e9 371.75px,#f2f2f2 372.25px,#f8f8f8 373.25px,#fcfcfc 375.5px,#fcfcfc 390px,#f9f9f9 420px,#f6f6f6 450px,#f2f2f2 480px,#ededed 510px,#e6e6e6 540px,#dcdcdc 570px,#d1d1d1 600px,#c3c3c3 629px)"></i><i style="left:174px;background:linear-gradient(#ffffff 0px,#fefefe 30px,#fefefe 60px,#fefefe 90px,#fefefe 120px,#fdfdfd 150px,#fcfcfc 180px,#f9f9f9 210px,#f4f4f4 228px,#ebebeb 240px,#e1e1e1 246.25px,#d4d4d4 251.5px,#c2c2c2 255.75px,#b7b7b7 257.75px,#aaaaaa 259.5px,#909090 262.25px,#818181 263.5px,#6e6e6e 264.75px,#575757 266px,#404040 267px,#2a2a2a 267.75px,#080808 268.75px,#030303 269px,#000000 269.25px,#000000 270px,#020202 270.5px,#070707 270.75px,#2f2f2f 271.75px,#474747 272.5px,#606060 273.5px,#747474 274.5px,#858585 275.5px,#959595 276.75px,#a6a6a6 278.25px,#b3b3b3 279.75px,#bfbfbf 281.5px,#c9c9c9 283.25px,#dadada 287.75px,#e5e5e5 293px,#ededed 300px,#f4f4f4 312px,#f8f8f8 330px,#f7f7f7 360px,#f5f5f5 363px,#f1f1f1 365px,#ebebeb 366.25px,#e6e6e6 366.75px,#dedede 367.25px,#d0d0d0 367.75px,#c6c6c6 368px,#b7b7b7 368.25px,#a3a3a3 368.5px,#888888 368.75px,#3f3f3f 369.25px,#3a3a3a 369.5px,#505050 369.75px,#7a7a7a 370px,#afafaf 370.25px,#cfcfcf 370.5px,#e0e0e0 370.75px,#e9e9e9 371px,#efefef 371.25px,#f5f5f5 371.75px,#fafafa 373px,#fcfcfc 375.25px,#fcfcfc 390px,#f9f9f9 420px,#f6f6f6 450px,#f2f2f2 480px,#ededed 510px,#e6e6e6 540px,#dcdcdc 570px,#d0d0d0 600px,#c3c3c3 629px)"></i><i style="left:176px;background:linear-gradient(#ffffff 0px,#fefefe 30px,#fefefe 60px,#fefefe 90px,#fefefe 120px,#fdfdfd 150px,#fcfcfc 180px,#f9f9f9 210px,#f4f4f4 228px,#eaeaea 240px,#e1e1e1 246px,#d4d4d4 251px,#c3c3c3 255px,#adadad 258.5px,#9e9e9e 260.25px,#8f8f8f 261.75px,#7c7c7c 263.25px,#686868 264.5px,#555555 265.5px,#3d3d3d 266.5px,#2f2f2f 267px,#0b0b0b 268px,#050505 268.25px,#010101 268.5px,#000000 269px,#010101 269.75px,#040404 270px,#0c0c0c 270.25px,#2b2b2b 271px,#444444 271.75px,#585858 272.5px,#6e6e6e 273.5px,#838383 274.75px,#949494 276px,#a5a5a5 277.5px,#b4b4b4 279.25px,#c0c0c0 281px,#cacaca 282.75px,#dadada 287.25px,#e6e6e6 292.75px,#eeeeee 300px,#f4f4f4 312px,#f8f8f8 330px,#f9f9f9 349.75px,#f7f7f7 360px,#f5f5f5 363px,#f0f0f0 364.75px,#e8e8e8 366px,#dbdbdb 366.75px,#d4d4d4 367px,#cbcbcb 367.25px,#bdbdbd 367.5px,#ababab 367.75px,#929292 368px,#6f6f6f 368.25px,#474747 368.5px,#3b3b3b 368.75px,#4c4c4c 369px,#737373 369.25px,#a9a9a9 369.5px,#cccccc 369.75px,#dfdfdf 370px,#e9e9e9 370.25px,#efefef 370.5px,#f5f5f5 371px,#fafafa 372.25px,#fcfcfc 374.5px,#fcfcfc 390px,#f9f9f9 420px,#f6f6f6 450px,#f2f2f2 480px,#ededed 510px,#e6e6e6 540px,#dcdcdc 570px,#d0d0d0 600px,#c3c3c3 629px)"></i><i style="left:178px;background:linear-gradient(#ffffff 0px,#fefefe 30px,#fefefe 60px,#fefefe 90px,#fefefe 120px,#fdfdfd 150px,#fcfcfc 180px,#f9f9f9 210px,#f3f3f3 228px,#eaeaea 240px,#e1e1e1 245.5px,#d5d5d5 250px,#c6c6c6 253.75px,#b4b4b4 257px,#a7a7a7 258.75px,#969696 260.5px,#858585 262px,#6f6f6f 263.5px,#585858 264.75px,#404040 265.75px,#2b2b2b 266.5px,#080808 267.5px,#030303 267.75px,#000000 268.25px,#000000 269px,#020202 269.25px,#080808 269.5px,#1c1c1c 270px,#393939 270.75px,#4f4f4f 271.5px,#676767 272.5px,#7a7a7a 273.5px,#8d8d8d 274.75px,#9c9c9c 276px,#ababab 277.5px,#b9b9b9 279.25px,#cdcdcd 282.75px,#dcdcdc 287.25px,#e7e7e7 292.75px,#efefef 300px,#f5f5f5 312px,#f8f8f8 330px,#f9f9f9 350.25px,#f7f7f7 360px,#f5f5f5 362.5px,#f0f0f0 364.25px,#eaeaea 365.25px,#dedede 366px,#cfcfcf 366.5px,#c3c3c3 366.75px,#b2b2b2 367px,#9b9b9b 367.25px,#7a7a7a 367.5px,#505050 367.75px,#3d3d3d 368px,#4a4a4a 368.25px,#6d6d6d 368.5px,#a2a2a2 368.75px,#cacaca 369px,#dedede 369.25px,#e9e9e9 369.5px,#efefef 369.75px,#f5f5f5 370.25px,#fafafa 371.5px,#fcfcfc 373.75px,#fcfcfc 390px,#f9f9f9 420px,#f6f6f6 450px,#f2f2f2 480px,#ededed 510px,#e6e6e6 540px,#dcdcdc 570px,#d0d0d0 600px,#c3c3c3 629px)"></i><i style="left:180px;background:linear-gradient(#ffffff 0px,#fefefe 30px,#fefefe 60px,#fefefe 90px,#fefefe 120px,#fdfdfd 150px,#fcfcfc 180px,#f9f9f9 210px,#f3f3f3 228px,#e9e9e9 240px,#dedede 246px,#d1d1d1 250.75px,#bebebe 254.75px,#b3b3b3 256.5px,#a6a6a6 258.25px,#989898 259.75px,#878787 261.25px,#757575 262.5px,#646464 263.5px,#505050 264.5px,#3d3d3d 265.25px,#272727 266px,#0b0b0b 266.75px,#050505 267px,#010101 267.25px,#000000 268.25px,#010101 268.5px,#040404 268.75px,#0c0c0c 269px,#222222 269.5px,#353535 270px,#4c4c4c 270.75px,#646464 271.75px,#787878 272.75px,#888888 273.75px,#989898 275px,#a6a6a6 276.25px,#b3b3b3 277.75px,#bfbfbf 279.5px,#d1d1d1 283px,#dfdfdf 287.5px,#e8e8e8 293px,#efefef 300px,#f5f5f5 312px,#f8f8f8 330px,#f9f9f9 350.75px,#f7f7f7 360px,#f5f5f5 362.25px,#f0f0f0 363.75px,#e9e9e9 364.75px,#e1e1e1 365.25px,#dbdbdb 365.5px,#d4d4d4 365.75px,#c9c9c9 366px,#b9b9b9 366.25px,#a3a3a3 366.5px,#848484 366.75px,#5b5b5b 367px,#414141 367.25px,#484848 367.5px,#676767 367.75px,#9b9b9b 368px,#c7c7c7 368.25px,#dddddd 368.5px,#e9e9e9 368.75px,#efefef 369px,#f5f5f5 369.5px,#fafafa 370.75px,#fcfcfc 373px,#fcfcfc 390px,#f9f9f9 420px,#f6f6f6 450px,#f2f2f2 480px,#ededed 510px,#e6e6e6 540px,#dcdcdc 570px,#d0d0d0 600px,#c2c2c2 629px)"></i><i style="left:182px;background:linear-gradient(#ffffff 0px,#fefefe 30px,#fefefe 60px,#fefefe 90px,#fefefe 120px,#fdfdfd 150px,#fcfcfc 180px,#f9f9f9 210px,#f3f3f3 228px,#eeeeee 234.5px,#e8e8e8 240px,#dedede 245.75px,#cfcfcf 250.5px,#bcbcbc 254.5px,#a5a5a5 257.75px,#979797 259.25px,#888888 260.5px,#777777 261.75px,#676767 262.75px,#535353 263.75px,#414141 264.5px,#2b2b2b 265.25px,#080808 266.25px,#030303 266.5px,#000000 266.75px,#000000 267.75px,#020202 268px,#080808 268.25px,#313131 269.25px,#494949 270px,#5d5d5d 270.75px,#727272 271.75px,#838383 272.75px,#949494 274px,#a2a2a2 275.25px,#b0b0b0 276.75px,#c5c5c5 279.75px,#d5d5d5 283.25px,#e1e1e1 287.75px,#eaeaea 293.25px,#f0f0f0 300px,#f5f5f5 312.25px,#f8f8f8 330px,#f9f9f9 351.25px,#f7f7f7 360px,#f4f4f4 362px,#f0f0f0 363.25px,#eaeaea 364px,#dfdfdf 364.75px,#d8d8d8 365px,#cecece 365.25px,#c0c0c0 365.5px,#acacac 365.75px,#8f8f8f 366px,#666666 366.25px,#464646 366.5px,#484848 366.75px,#636363 367px,#c4c4c4 367.5px,#dcdcdc 367.75px,#e9e9e9 368px,#efefef 368.25px,#f6f6f6 368.75px,#fbfbfb 370px,#fcfcfc 372.25px,#fcfcfc 390px,#f9f9f9 420px,#f6f6f6 450px,#f2f2f2 480px,#ededed 510px,#e6e6e6 540px,#dcdcdc 570px,#d0d0d0 600px,#c2c2c2 629px)"></i><i style="left:184px;background:linear-gradient(#ffffff 0px,#fefefe 30px,#fefefe 60px,#fefefe 90px,#fefefe 120px,#fdfdfd 150px,#fcfcfc 180px,#f9f9f9 210px,#f2f2f2 228.25px,#eeeeee 234.75px,#e7e7e7 240px,#dddddd 245.5px,#cfcfcf 250px,#bcbcbc 254px,#a4a4a4 257.25px,#969696 258.75px,#878787 260px,#757575 261.25px,#656565 262.25px,#505050 263.25px,#3e3e3e 264px,#272727 264.75px,#0b0b0b 265.5px,#050505 265.75px,#010101 266px,#000000 267px,#010101 267.25px,#050505 267.5px,#0d0d0d 267.75px,#232323 268.25px,#363636 268.75px,#464646 269.25px,#5a5a5a 270px,#6b6b6b 270.75px,#7d7d7d 271.75px,#8c8c8c 272.75px,#9c9c9c 274px,#a9a9a9 275.25px,#b6b6b6 276.75px,#cacaca 280px,#d8d8d8 283.5px,#e3e3e3 288px,#ebebeb 293.25px,#f0f0f0 300px,#f5f5f5 312.25px,#f8f8f8 330px,#f9f9f9 351.75px,#f7f7f7 360px,#f4f4f4 361.75px,#f0f0f0 362.75px,#e9e9e9 363.5px,#e1e1e1 364px,#dbdbdb 364.25px,#d2d2d2 364.5px,#c6c6c6 364.75px,#b3b3b3 365px,#989898 365.25px,#4c4c4c 365.75px,#484848 366px,#5f5f5f 366.25px,#8b8b8b 366.5px,#c0c0c0 366.75px,#dbdbdb 367px,#e8e8e8 367.25px,#efefef 367.5px,#f6f6f6 368px,#fbfbfb 369.25px,#fcfcfc 371.5px,#fcfcfc 390px,#f9f9f9 420px,#f6f6f6 450px,#f2f2f2 480px,#ededed 510px,#e6e6e6 540px,#dcdcdc 570px,#d0d0d0 600px,#c2c2c2 629px)"></i><i style="left:186px;background:linear-gradient(#ffffff 0px,#fefefe 30px,#fefefe 60px,#fefefe 90px,#fefefe 120px,#fdfdfd 150px,#fcfcfc 180px,#f9f9f9 210px,#f2f2f2 228.25px,#ededed 234.75px,#e7e7e7 240px,#dcdcdc 245.25px,#cecece 249.75px,#bbbbbb 253.5px,#a3a3a3 256.75px,#959595 258.25px,#868686 259.5px,#747474 260.75px,#626262 261.75px,#535353 262.5px,#414141 263.25px,#2b2b2b 264px,#080808 265px,#030303 265.25px,#000000 265.5px,#000000 266.5px,#020202 266.75px,#090909 267px,#292929 267.75px,#434343 268.5px,#575757 269.25px,#696969 270px,#7b7b7b 271px,#8b8b8b 272px,#a6a6a6 274.25px,#bcbcbc 277px,#cdcdcd 280px,#dbdbdb 283.75px,#e4e4e4 288px,#ececec 293.25px,#f1f1f1 300px,#f6f6f6 312.25px,#f9f9f9 330px,#f9f9f9 352.25px,#f6f6f6 360px,#f3f3f3 361.5px,#eeeeee 362.5px,#e4e4e4 363.25px,#d7d7d7 363.75px,#cbcbcb 364px,#bbbbbb 364.25px,#a2a2a2 364.5px,#7d7d7d 364.75px,#535353 365px,#494949 365.25px,#5c5c5c 365.5px,#848484 365.75px,#bbbbbb 366px,#dadada 366.25px,#e8e8e8 366.5px,#efefef 366.75px,#f6f6f6 367.25px,#fbfbfb 368.5px,#fdfdfd 370.75px,#fcfcfc 390px,#f9f9f9 420px,#f6f6f6 450px,#f2f2f2 480px,#ededed 510px,#e6e6e6 540px,#dcdcdc 570px,#d0d0d0 600px,#c2c2c2 629px)"></i><i style="left:188px;background:linear-gradient(#ffffff 0px,#fefefe 30px,#fefefe 60px,#fefefe 90px,#fefefe 120px,#fdfdfd 150px,#fcfcfc 180px,#f9f9f9 210px,#f2f2f2 228.25px,#ededed 234.75px,#e6e6e6 240px,#dbdbdb 245.25px,#cdcdcd 249.5px,#b9b9b9 253.25px,#a3a3a3 256.25px,#888888 258.75px,#767676 260px,#656565 261px,#515151 262px,#3e3e3e 262.75px,#2f2f2f 263.25px,#0b0b0b 264.25px,#050505 264.5px,#010101 264.75px,#000000 265px,#010101 266px,#050505 266.25px,#0e0e0e 266.5px,#2e2e2e 267.25px,#474747 268px,#616161 269px,#757575 270px,#868686 271px,#949494 272px,#acacac 274.25px,#c1c1c1 277px,#d0d0d0 280px,#dddddd 283.75px,#e6e6e6 288px,#ececec 293.25px,#f1f1f1 300px,#f6f6f6 312.25px,#f9f9f9 330px,#f9f9f9 353px,#f8f8f8 357.5px,#f6f6f6 360px,#f2f2f2 361.25px,#ededed 362px,#e6e6e6 362.5px,#dbdbdb 363px,#d1d1d1 363.25px,#c1c1c1 363.5px,#ababab 363.75px,#888888 364px,#5c5c5c 364.25px,#4c4c4c 364.5px,#5a5a5a 364.75px,#7e7e7e 365px,#b6b6b6 365.25px,#d8d8d8 365.5px,#e8e8e8 365.75px,#efefef 366px,#f6f6f6 366.5px,#fbfbfb 367.75px,#fdfdfd 370.25px,#fcfcfc 390px,#f9f9f9 420px,#f6f6f6 450px,#f2f2f2 480px,#ededed 510px,#e6e6e6 540px,#dcdcdc 570px,#d0d0d0 600px,#c2c2c2 629px)"></i><i style="left:190px;background:linear-gradient(#ffffff 0px,#fefefe 30px,#fefefe 60px,#fefefe 90px,#fefefe 120px,#fdfdfd 150px,#fcfcfc 180px,#f9f9f9 210px,#f2f2f2 228.25px,#ececec 234.75px,#e5e5e5 240px,#dadada 245px,#cbcbcb 249.25px,#b7b7b7 253px,#9f9f9f 256px,#929292 257.25px,#838383 258.5px,#747474 259.5px,#636363 260.5px,#545454 261.25px,#424242 262px,#2b2b2b 262.75px,#080808 263.75px,#020202 264px,#000000 264.25px,#000000 265.25px,#030303 265.5px,#090909 265.75px,#333333 266.75px,#4b4b4b 267.5px,#6a6a6a 268.75px,#818181 270px,#9c9c9c 272px,#b2b2b2 274.25px,#c5c5c5 277px,#d4d4d4 280.25px,#dfdfdf 284px,#e7e7e7 288.25px,#ededed 293.5px,#f2f2f2 300px,#f6f6f6 312.25px,#f9f9f9 330px,#f9f9f9 353.5px,#f8f8f8 357.75px,#f4f4f4 360px,#f2f2f2 360.75px,#ececec 361.5px,#e4e4e4 362px,#dedede 362.25px,#d5d5d5 362.5px,#c8c8c8 362.75px,#b3b3b3 363px,#939393 363.25px,#666666 363.5px,#4f4f4f 363.75px,#595959 364px,#797979 364.25px,#afafaf 364.5px,#d6d6d6 364.75px,#e7e7e7 365px,#f0f0f0 365.25px,#f4f4f4 365.5px,#f8f8f8 366px,#fcfcfc 367.25px,#fdfdfd 370px,#fcfcfc 390px,#f9f9f9 420px,#f6f6f6 450px,#f2f2f2 480px,#ededed 510px,#e6e6e6 540px,#dcdcdc 570px,#d0d0d0 600px,#c2c2c2 629px)"></i><i style="left:192px;background:linear-gradient(#ffffff 0px,#fefefe 30px,#fefefe 60px,#fefefe 90px,#fefefe 120px,#fdfdfd 150px,#fcfcfc 180px,#f8f8f8 210px,#f1f1f1 228.25px,#ebebeb 234.75px,#e4e4e4 240px,#d8d8d8 245px,#cacaca 249px,#b7b7b7 252.5px,#9e9e9e 255.5px,#919191 256.75px,#828282 258px,#737373 259px,#616161 260px,#4b4b4b 261px,#373737 261.75px,#272727 262.25px,#0b0b0b 263px,#050505 263.25px,#010101 263.5px,#000000 263.75px,#010101 264.75px,#060606 265px,#0f0f0f 265.25px,#2f2f2f 266px,#404040 266.5px,#4f4f4f 267px,#626262 267.75px,#727272 268.5px,#8b8b8b 270px,#a3a3a3 272px,#b9b9b9 274.5px,#cacaca 277.25px,#d7d7d7 280.25px,#e1e1e1 284px,#e8e8e8 288.25px,#eeeeee 293.5px,#f2f2f2 300px,#f7f7f7 312.25px,#f9f9f9 330px,#f9f9f9 354.25px,#f7f7f7 358px,#f3f3f3 360px,#ededed 360.75px,#e7e7e7 361.25px,#e1e1e1 361.5px,#d9d9d9 361.75px,#cdcdcd 362px,#bbbbbb 362.25px,#9e9e9e 362.5px,#727272 362.75px,#545454 363px,#595959 363.25px,#757575 363.5px,#a8a8a8 363.75px,#d4d4d4 364px,#e7e7e7 364.25px,#f0f0f0 364.5px,#f4f4f4 364.75px,#f8f8f8 365.25px,#fcfcfc 366.5px,#fdfdfd 369.25px,#fcfcfc 390px,#f9f9f9 420px,#f6f6f6 450px,#f2f2f2 480px,#ededed 510px,#e6e6e6 540px,#dcdcdc 570px,#d0d0d0 600px,#c2c2c2 629px)"></i><i style="left:194px;background:linear-gradient(#ffffff 0px,#fefefe 30px,#fefefe 60px,#fefefe 90px,#fefefe 120px,#fdfdfd 150px,#fcfcfc 180px,#f8f8f8 210px,#f1f1f1 228.25px,#ebebeb 234.75px,#e3e3e3 240px,#d8d8d8 244.75px,#c8c8c8 248.75px,#b6b6b6 252px,#9e9e9e 255px,#909090 256.25px,#808080 257.5px,#717171 258.5px,#5f5f5f 259.5px,#4e4e4e 260.25px,#3b3b3b 261px,#2c2c2c 261.5px,#080808 262.5px,#020202 262.75px,#000000 263px,#000000 264px,#030303 264.25px,#0a0a0a 264.5px,#343434 265.5px,#454545 266px,#595959 266.75px,#6b6b6b 267.5px,#797979 268.25px,#949494 270px,#aaaaaa 272px,#bebebe 274.5px,#cdcdcd 277.25px,#d9d9d9 280.25px,#e2e2e2 284px,#e9e9e9 288.25px,#f3f3f3 300px,#f7f7f7 312.25px,#f9f9f9 330px,#f9f9f9 355px,#f6f6f6 358.25px,#f3f3f3 359.25px,#efefef 360px,#e9e9e9 360.5px,#e4e4e4 360.75px,#dddddd 361px,#d3d3d3 361.25px,#c2c2c2 361.5px,#a7a7a7 361.75px,#7e7e7e 362px,#595959 362.25px,#595959 362.5px,#717171 362.75px,#a0a0a0 363px,#d2d2d2 363.25px,#e7e7e7 363.5px,#f0f0f0 363.75px,#f4f4f4 364px,#f9f9f9 364.5px,#fcfcfc 365.75px,#fdfdfd 368.5px,#fcfcfc 390px,#f9f9f9 420px,#f6f6f6 450px,#f2f2f2 480px,#ededed 510px,#e6e6e6 540px,#dcdcdc 570px,#cfcfcf 600px,#c1c1c1 629px)"></i><i style="left:196px;background:linear-gradient(#ffffff 0px,#fefefe 30px,#fefefe 60px,#fefefe 90px,#fefefe 120px,#fdfdfd 150px,#fcfcfc 180px,#f8f8f8 210px,#f1f1f1 228.25px,#eaeaea 234.75px,#e2e2e2 240px,#d7d7d7 244.5px,#c8c8c8 248.25px,#b5b5b5 251.5px,#9d9d9d 254.5px,#828282 256.75px,#737373 257.75px,#616161 258.75px,#4c4c4c 259.75px,#383838 260.5px,#272727 261px,#0b0b0b 261.75px,#050505 262px,#010101 262.25px,#000000 262.5px,#010101 263.5px,#060606 263.75px,#101010 264px,#262626 264.5px,#393939 265px,#494949 265.5px,#5d5d5d 266.25px,#6e6e6e 267px,#808080 268px,#8f8f8f 269px,#9c9c9c 270px,#b0b0b0 272px,#c2c2c2 274.5px,#d1d1d1 277.25px,#dbdbdb 280.25px,#e4e4e4 284px,#eaeaea 288.25px,#f3f3f3 300px,#f7f7f7 312.25px,#f9f9f9 330px,#f9f9f9 355.75px,#f7f7f7 357.5px,#f3f3f3 358.75px,#eeeeee 359.5px,#e7e7e7 360px,#e1e1e1 360.25px,#d7d7d7 360.5px,#c9c9c9 360.75px,#b1b1b1 361px,#8a8a8a 361.25px,#606060 361.5px,#5b5b5b 361.75px,#6f6f6f 362px,#999999 362.25px,#cecece 362.5px,#e6e6e6 362.75px,#f0f0f0 363px,#f5f5f5 363.25px,#f9f9f9 363.75px,#fcfcfc 365px,#fdfdfd 367.75px,#fcfcfc 390px,#f9f9f9 420px,#f6f6f6 450px,#f2f2f2 480px,#ededed 510px,#e6e6e6 540px,#dcdcdc 570px,#cfcfcf 600px,#c1c1c1 629px)"></i><i style="left:198px;background:linear-gradient(#ffffff 0px,#fefefe 30px,#fefefe 60px,#fefefe 90px,#fefefe 120px,#fdfdfd 150px,#fcfcfc 180px,#f8f8f8 210px,#f5f5f5 220.5px,#f0f0f0 228.5px,#eaeaea 234.75px,#e1e1e1 240px,#d6d6d6 244.25px,#c7c7c7 248px,#b3b3b3 251.25px,#9c9c9c 254px,#818181 256.25px,#717171 257.25px,#5f5f5f 258.25px,#4f4f4f 259px,#3b3b3b 259.75px,#2c2c2c 260.25px,#080808 261.25px,#020202 261.5px,#000000 261.75px,#000000 262.75px,#030303 263px,#0b0b0b 263.25px,#2c2c2c 264px,#3e3e3e 264.5px,#4d4d4d 265px,#606060 265.75px,#757575 266.75px,#868686 267.75px,#959595 268.75px,#a3a3a3 270px,#b6b6b6 272px,#c7c7c7 274.5px,#d3d3d3 277.25px,#dddddd 280.25px,#e5e5e5 284px,#ebebeb 288.25px,#f4f4f4 300px,#f7f7f7 312.5px,#f9f9f9 330px,#fafafa 350.25px,#f7f7f7 356.75px,#f3f3f3 358.25px,#ededed 359px,#e4e4e4 359.5px,#dcdcdc 359.75px,#cfcfcf 360px,#b9b9b9 360.25px,#969696 360.5px,#686868 360.75px,#5d5d5d 361px,#6d6d6d 361.25px,#939393 361.5px,#cacaca 361.75px,#e5e5e5 362px,#f0f0f0 362.25px,#f5f5f5 362.5px,#f9f9f9 363px,#fcfcfc 364.25px,#fdfdfd 367px,#fcfcfc 390px,#f9f9f9 420px,#f6f6f6 450px,#f2f2f2 480px,#ededed 510px,#e6e6e6 540px,#dcdcdc 570px,#cfcfcf 600px,#c1c1c1 629px)"></i><i style="left:200px;background:linear-gradient(#ffffff 0px,#fefefe 30px,#fefefe 60px,#fefefe 90px,#fefefe 120px,#fdfdfd 150px,#fcfcfc 180px,#f8f8f8 210px,#f5f5f5 220.5px,#f0f0f0 228.5px,#e9e9e9 234.75px,#e0e0e0 240px,#d4d4d4 244.25px,#c5c5c5 247.75px,#b3b3b3 250.75px,#9b9b9b 253.5px,#7f7f7f 255.75px,#626262 257.5px,#4c4c4c 258.5px,#383838 259.25px,#282828 259.75px,#0b0b0b 260.5px,#050505 260.75px,#010101 261px,#000000 261.25px,#000000 262px,#010101 262.25px,#070707 262.5px,#313131 263.5px,#424242 264px,#5e5e5e 265px,#747474 266px,#909090 267.75px,#aaaaaa 270px,#bbbbbb 272px,#cacaca 274.5px,#d6d6d6 277.25px,#dfdfdf 280.25px,#e7e7e7 284px,#ececec 288.25px,#f4f4f4 300px,#fafafa 330px,#fafafa 352.25px,#f8f8f8 355.75px,#f4f4f4 357.5px,#f1f1f1 358px,#ebebeb 358.5px,#e7e7e7 358.75px,#e0e0e0 359px,#d4d4d4 359.25px,#c1c1c1 359.5px,#a1a1a1 359.75px,#717171 360px,#606060 360.25px,#6c6c6c 360.5px,#8d8d8d 360.75px,#c5c5c5 361px,#e4e4e4 361.25px,#f0f0f0 361.5px,#f5f5f5 361.75px,#f9f9f9 362.25px,#fcfcfc 363.5px,#fdfdfd 366.25px,#fcfcfc 390px,#f9f9f9 420px,#f6f6f6 450px,#f2f2f2 480px,#ededed 510px,#e6e6e6 540px,#dcdcdc 570px,#cfcfcf 600px,#c1c1c1 629px)"></i><i style="left:202px;background:linear-gradient(#ffffff 0px,#fefefe 30px,#fefefe 60px,#fefefe 90px,#fefefe 120px,#fdfdfd 150px,#fcfcfc 180px,#f8f8f8 210px,#f4f4f4 220.5px,#efefef 228.5px,#e8e8e8 234.75px,#dedede 240px,#d3d3d3 244px,#c3c3c3 247.5px,#b0b0b0 250.5px,#979797 253.25px,#888888 254.5px,#7a7a7a 255.5px,#696969 256.5px,#5a5a5a 257.25px,#494949 258px,#343434 258.75px,#080808 260px,#020202 260.25px,#000000 260.5px,#000000 261.5px,#040404 261.75px,#0b0b0b 262px,#2d2d2d 262.75px,#474747 263.5px,#616161 264.5px,#767676 265.5px,#878787 266.5px,#969696 267.5px,#a4a4a4 268.75px,#b0b0b0 270px,#c0c0c0 272px,#cecece 274.5px,#d9d9d9 277.25px,#e1e1e1 280.25px,#e8e8e8 284px,#ededed 288.25px,#f4f4f4 300px,#fafafa 330px,#fafafa 351.75px,#f8f8f8 355px,#f5f5f5 356.75px,#ededed 357.75px,#e3e3e3 358.25px,#d9d9d9 358.5px,#c9c9c9 358.75px,#acacac 359px,#7c7c7c 359.25px,#656565 359.5px,#6c6c6c 359.75px,#898989 360px,#bfbfbf 360.25px,#e3e3e3 360.5px,#f0f0f0 360.75px,#f5f5f5 361px,#fbfbfb 361.75px,#fdfdfd 363.25px,#fdfdfd 366.25px,#fcfcfc 390px,#f9f9f9 420px,#f6f6f6 450px,#f2f2f2 480px,#ededed 510px,#e6e6e6 540px,#dcdcdc 570px,#cfcfcf 600px,#c1c1c1 629px)"></i><i style="left:204px;background:linear-gradient(#ffffff 0px,#fefefe 30px,#fefefe 60px,#fefefe 90px,#fefefe 120px,#fdfdfd 150px,#fcfcfc 180px,#f8f8f8 210px,#f4f4f4 220.5px,#efefef 228.5px,#e7e7e7 234.75px,#dddddd 240px,#d1d1d1 244px,#c1c1c1 247.25px,#adadad 250.25px,#969696 252.75px,#7c7c7c 254.75px,#6c6c6c 255.75px,#5d5d5d 256.5px,#4c4c4c 257.25px,#383838 258px,#282828 258.5px,#0b0b0b 259.25px,#040404 259.5px,#010101 259.75px,#000000 260px,#000000 260.75px,#020202 261px,#070707 261.25px,#323232 262.25px,#4b4b4b 263px,#656565 264px,#797979 265px,#8a8a8a 266px,#9b9b9b 267.25px,#a9a9a9 268.5px,#b6b6b6 270px,#c4c4c4 272px,#d1d1d1 274.5px,#dbdbdb 277.25px,#e3e3e3 280.5px,#eeeeee 288.5px,#f5f5f5 300px,#fafafa 330px,#fafafa 351.5px,#f8f8f8 354.75px,#f5f5f5 356.25px,#f1f1f1 356.75px,#ececec 357.25px,#e6e6e6 357.5px,#dedede 357.75px,#cfcfcf 358px,#b6b6b6 358.25px,#898989 358.5px,#6a6a6a 358.75px,#6d6d6d 359px,#868686 359.25px,#b8b8b8 359.5px,#e1e1e1 359.75px,#f0f0f0 360px,#f5f5f5 360.25px,#fafafa 360.75px,#fdfdfd 362.75px,#fcfcfc 390px,#f9f9f9 420px,#f6f6f6 450px,#f2f2f2 480px,#ededed 510px,#e6e6e6 540px,#dbdbdb 570px,#cfcfcf 600px,#c1c1c1 629px)"></i><i style="left:206px;background:linear-gradient(#ffffff 0px,#fefefe 30px,#fefefe 60px,#fefefe 90px,#fefefe 120px,#fdfdfd 150px,#fcfcfc 180px,#f8f8f8 210px,#f4f4f4 220.5px,#eeeeee 228.5px,#e7e7e7 234.75px,#dcdcdc 240px,#cfcfcf 243.75px,#c0c0c0 247px,#adadad 249.75px,#959595 252.25px,#7a7a7a 254.25px,#606060 255.75px,#505050 256.5px,#3c3c3c 257.25px,#2c2c2c 257.75px,#080808 258.75px,#020202 259px,#000000 259.5px,#010101 260.25px,#040404 260.5px,#0c0c0c 260.75px,#2e2e2e 261.5px,#484848 262.25px,#626262 263.25px,#7c7c7c 264.5px,#909090 265.75px,#a0a0a0 267px,#afafaf 268.5px,#bbbbbb 270px,#c8c8c8 272px,#d4d4d4 274.5px,#dddddd 277.25px,#e4e4e4 280.5px,#efefef 288.5px,#f5f5f5 300px,#fafafa 330px,#fafafa 351.25px,#f8f8f8 354.25px,#f4f4f4 355.75px,#f1f1f1 356.25px,#e9e9e9 356.75px,#e2e2e2 357px,#d5d5d5 357.25px,#bfbfbf 357.5px,#969696 357.75px,#6f6f6f 358px,#6f6f6f 358.25px,#838383 358.5px,#b0b0b0 358.75px,#e0e0e0 359px,#efefef 359.25px,#f5f5f5 359.5px,#fafafa 360px,#fdfdfd 361.25px,#fdfdfd 364.25px,#fcfcfc 390px,#f9f9f9 420px,#f6f6f6 450px,#f2f2f2 480px,#ededed 510px,#e5e5e5 540px,#dbdbdb 570px,#cfcfcf 600px,#c1c1c1 629px)"></i><i style="left:208px;background:linear-gradient(#ffffff 0px,#fefefe 30px,#fefefe 60px,#fefefe 90px,#fefefe 120px,#fdfdfd 150px,#fcfcfc 180px,#f8f8f8 210px,#f4f4f4 220.5px,#eeeeee 228.5px,#e5e5e5 235px,#dadada 240px,#cecece 243.5px,#bebebe 246.75px,#aaaaaa 249.5px,#949494 251.75px,#797979 253.75px,#5e5e5e 255.25px,#4d4d4d 256px,#383838 256.75px,#282828 257.25px,#0b0b0b 258px,#040404 258.25px,#010101 258.5px,#000000 258.75px,#000000 259.5px,#020202 259.75px,#080808 260px,#333333 261px,#4c4c4c 261.75px,#666666 262.75px,#7f7f7f 264px,#929292 265.25px,#a4a4a4 266.75px,#b3b3b3 268.25px,#c0c0c0 270px,#cccccc 272px,#d6d6d6 274.5px,#dfdfdf 277.25px,#e6e6e6 280.5px,#efefef 288.5px,#f5f5f5 300px,#fafafa 330px,#fafafa 350.5px,#f9f9f9 353.5px,#f5f5f5 355px,#f2f2f2 355.5px,#ececec 356px,#e5e5e5 356.25px,#dbdbdb 356.5px,#c7c7c7 356.75px,#a2a2a2 357px,#767676 357.25px,#717171 357.5px,#828282 357.75px,#a9a9a9 358px,#dddddd 358.25px,#efefef 358.5px,#f5f5f5 358.75px,#f8f8f8 359px,#fcfcfc 360px,#fdfdfd 365.75px,#fcfcfc 390px,#f9f9f9 420px,#f6f6f6 450px,#f2f2f2 480px,#ededed 510px,#e5e5e5 540px,#dbdbdb 570px,#cfcfcf 600px,#c0c0c0 629px)"></i><i style="left:210px;background:linear-gradient(#ffffff 0px,#fefefe 30px,#fefefe 60px,#fefefe 90px,#fefefe 120px,#fdfdfd 150px,#fcfcfc 180px,#f8f8f8 210px,#f3f3f3 220.75px,#ededed 228.75px,#e4e4e4 235px,#d8d8d8 240px,#cdcdcd 243.25px,#bdbdbd 246.25px,#a9a9a9 249px,#929292 251.25px,#777777 253.25px,#5b5b5b 254.75px,#4a4a4a 255.5px,#353535 256.25px,#080808 257.5px,#020202 257.75px,#000000 258.25px,#010101 259px,#040404 259.25px,#0d0d0d 259.5px,#2f2f2f 260.25px,#494949 261px,#575757 261.5px,#696969 262.25px,#818181 263.5px,#979797 265px,#a9a9a9 266.5px,#b8b8b8 268.25px,#c4c4c4 270px,#cfcfcf 272px,#d9d9d9 274.5px,#e1e1e1 277.25px,#e7e7e7 280.5px,#f0f0f0 288.5px,#f6f6f6 300px,#fafafa 330px,#fafafa 350.25px,#f9f9f9 353px,#f5f5f5 354.5px,#eeeeee 355.25px,#e9e9e9 355.5px,#e0e0e0 355.75px,#cfcfcf 356px,#aeaeae 356.25px,#7e7e7e 356.5px,#747474 356.75px,#818181 357px,#a3a3a3 357.25px,#dadada 357.5px,#efefef 357.75px,#f6f6f6 358px,#fafafa 358.5px,#fdfdfd 360px,#fcfcfc 390px,#f9f9f9 420px,#f6f6f6 450px,#f2f2f2 480px,#ededed 510px,#e5e5e5 540px,#dbdbdb 570px,#cfcfcf 600px,#c0c0c0 629px)"></i><i style="left:212px;background:linear-gradient(#ffffff 0px,#fefefe 30px,#fefefe 60px,#fefefe 90px,#fefefe 120px,#fdfdfd 150px,#fcfcfc 180px,#f7f7f7 210px,#f3f3f3 220.75px,#ececec 228.75px,#e3e3e3 235px,#d7d7d7 240px,#cacaca 243.25px,#b9b9b9 246.25px,#a6a6a6 248.75px,#8e8e8e 251px,#757575 252.75px,#595959 254.25px,#474747 255px,#393939 255.5px,#282828 256px,#0b0b0b 256.75px,#040404 257px,#010101 257.25px,#000000 257.5px,#000000 258.25px,#020202 258.5px,#080808 258.75px,#343434 259.75px,#454545 260.25px,#545454 260.75px,#727272 262px,#888888 263.25px,#9d9d9d 264.75px,#adadad 266.25px,#bcbcbc 268px,#c8c8c8 270px,#d2d2d2 272px,#dbdbdb 274.5px,#e8e8e8 280.5px,#f1f1f1 288.5px,#f6f6f6 300px,#fafafa 330px,#fafafa 349.5px,#f9f9f9 352.25px,#f6f6f6 353.75px,#f0f0f0 354.5px,#ebebeb 354.75px,#e4e4e4 355px,#d6d6d6 355.25px,#b9b9b9 355.5px,#888888 355.75px,#787878 356px,#818181 356.25px,#9e9e9e 356.5px,#d5d5d5 356.75px,#eeeeee 357px,#f6f6f6 357.25px,#fafafa 357.75px,#fdfdfd 360px,#fcfcfc 390px,#f9f9f9 420px,#f6f6f6 450px,#f2f2f2 480px,#ededed 510px,#e5e5e5 540px,#dbdbdb 570px,#cfcfcf 600px,#c0c0c0 629px)"></i><i style="left:214px;background:linear-gradient(#ffffff 0px,#ffffff 30px,#fefefe 60px,#fefefe 90px,#fefefe 120px,#fdfdfd 150px,#fcfcfc 180px,#f7f7f7 210px,#f3f3f3 220.75px,#ececec 228.75px,#e2e2e2 235px,#d5d5d5 240px,#c7c7c7 243.25px,#b7b7b7 246px,#a3a3a3 248.5px,#8d8d8d 250.5px,#777777 252px,#5c5c5c 253.5px,#4a4a4a 254.25px,#353535 255px,#070707 256.25px,#020202 256.5px,#000000 257px,#010101 257.75px,#050505 258px,#0e0e0e 258.25px,#303030 259px,#424242 259.5px,#515151 260px,#6f6f6f 261.25px,#8a8a8a 262.75px,#9f9f9f 264.25px,#b1b1b1 266px,#c0c0c0 268px,#cccccc 270px,#d5d5d5 272px,#dddddd 274.5px,#e9e9e9 280.5px,#f1f1f1 288.5px,#f6f6f6 300px,#fafafa 330px,#fafafa 349.25px,#f9f9f9 352px,#f5f5f5 353.25px,#eeeeee 354px,#e7e7e7 354.25px,#dcdcdc 354.5px,#c3c3c3 354.75px,#939393 355px,#7d7d7d 355.25px,#838383 355.5px,#9b9b9b 355.75px,#cfcfcf 356px,#ededed 356.25px,#f6f6f6 356.5px,#fbfbfb 357px,#fcfcfc 357.5px,#fdfdfd 360px,#fcfcfc 390px,#f9f9f9 420px,#f6f6f6 450px,#f2f2f2 480px,#ededed 510px,#e5e5e5 540px,#dbdbdb 570px,#cfcfcf 600px,#c0c0c0 629px)"></i><i style="left:216px;background:linear-gradient(#ffffff 0px,#ffffff 30px,#fefefe 60px,#fefefe 90px,#fefefe 120px,#fdfdfd 150px,#fcfcfc 180px,#f7f7f7 210px,#f2f2f2 220.75px,#ebebeb 228.75px,#e1e1e1 235px,#d3d3d3 240px,#c6c6c6 243px,#b7b7b7 245.5px,#a2a2a2 248px,#8c8c8c 250px,#767676 251.5px,#5e5e5e 252.75px,#4d4d4d 253.5px,#393939 254.25px,#282828 254.75px,#0b0b0b 255.5px,#040404 255.75px,#010101 256px,#000000 256.5px,#000000 257px,#020202 257.25px,#090909 257.5px,#353535 258.5px,#464646 259px,#555555 259.5px,#737373 260.75px,#8d8d8d 262.25px,#a3a3a3 264px,#b4b4b4 265.75px,#c3c3c3 267.75px,#cfcfcf 270px,#d8d8d8 272.25px,#e0e0e0 274.75px,#ebebeb 280.75px,#f2f2f2 288.75px,#f7f7f7 300px,#fafafa 330px,#fafafa 348.5px,#f9f9f9 351.25px,#f6f6f6 352.5px,#f0f0f0 353.25px,#ebebeb 353.5px,#e1e1e1 353.75px,#cdcdcd 354px,#a1a1a1 354.25px,#838383 354.5px,#858585 354.75px,#999999 355px,#c8c8c8 355.25px,#ededed 355.5px,#f6f6f6 355.75px,#fbfbfb 356.25px,#fcfcfc 356.75px,#fefefe 360px,#fcfcfc 390px,#f9f9f9 420px,#f6f6f6 450px,#f2f2f2 480px,#ededed 510px,#e5e5e5 540px,#dbdbdb 570px,#cecece 600px,#c0c0c0 629px)"></i><i style="left:218px;background:linear-gradient(#ffffff 0px,#ffffff 30px,#fefefe 60px,#fefefe 90px,#fefefe 120px,#fdfdfd 150px,#fcfcfc 180px,#f7f7f7 210px,#f2f2f2 220.75px,#ebebeb 228.75px,#e0e0e0 235px,#d1d1d1 240px,#c4c4c4 242.75px,#b4b4b4 245.25px,#a1a1a1 247.5px,#8a8a8a 249.5px,#707070 251.25px,#515151 252.75px,#353535 253.75px,#070707 255px,#020202 255.25px,#000000 255.5px,#000000 256px,#010101 256.5px,#050505 256.75px,#0f0f0f 257px,#313131 257.75px,#434343 258.25px,#525252 258.75px,#707070 260px,#8b8b8b 261.5px,#a2a2a2 263.25px,#b6b6b6 265.25px,#c6c6c6 267.5px,#d3d3d3 270px,#e2e2e2 274.75px,#ececec 280.75px,#f2f2f2 288.75px,#f7f7f7 300px,#fbfbfb 330px,#fbfbfb 348.25px,#f9f9f9 350.75px,#f6f6f6 352px,#f2f2f2 352.5px,#ededed 352.75px,#e5e5e5 353px,#d5d5d5 353.25px,#898989 353.75px,#888888 354px,#979797 354.25px,#c0c0c0 354.5px,#ebebeb 354.75px,#f6f6f6 355px,#f9f9f9 355.25px,#fcfcfc 356px,#fefefe 360px,#fcfcfc 390px,#f9f9f9 420px,#f6f6f6 450px,#f2f2f2 480px,#ededed 510px,#e5e5e5 540px,#dbdbdb 570px,#cecece 600px,#c0c0c0 629px)"></i><i style="left:220px;background:linear-gradient(#ffffff 0px,#ffffff 30px,#fefefe 60px,#fefefe 90px,#fefefe 120px,#fdfdfd 150px,#fcfcfc 180px,#f7f7f7 210px,#f1f1f1 221px,#eaeaea 229px,#dfdfdf 235px,#cecece 240px,#c1c1c1 242.75px,#b2b2b2 245px,#9d9d9d 247.25px,#898989 249px,#6e6e6e 250.75px,#5f5f5f 251.5px,#4e4e4e 252.25px,#313131 253.25px,#0b0b0b 254.25px,#040404 254.5px,#010101 254.75px,#000000 255.5px,#030303 256px,#0a0a0a 256.25px,#363636 257.25px,#474747 257.75px,#5d5d5d 258.5px,#787878 259.75px,#8e8e8e 261px,#a4a4a4 262.75px,#b9b9b9 265px,#c8c8c8 267.25px,#d5d5d5 270px,#e3e3e3 274.75px,#ededed 280.75px,#f3f3f3 288.75px,#f7f7f7 300px,#fbfbfb 330px,#fbfbfb 347.5px,#f9f9f9 350px,#f7f7f7 351.25px,#f3f3f3 351.75px,#f0f0f0 352px,#e9e9e9 352.25px,#dcdcdc 352.5px,#bbbbbb 352.75px,#8f8f8f 353px,#8b8b8b 353.25px,#979797 353.5px,#b9b9b9 353.75px,#e9e9e9 354px,#f6f6f6 354.25px,#f9f9f9 354.5px,#fcfcfc 355.25px,#fefefe 360px,#fcfcfc 390px,#f9f9f9 420px,#f6f6f6 450px,#f2f2f2 480px,#ededed 510px,#e5e5e5 540px,#dbdbdb 570px,#cecece 600px,#c0c0c0 629px)"></i><i style="left:222px;background:linear-gradient(#ffffff 0px,#ffffff 30px,#fefefe 60px,#fefefe 90px,#fefefe 120px,#fdfdfd 150px,#fcfcfc 180px,#f7f7f7 210px,#f1f1f1 221px,#e9e9e9 229px,#dddddd 235.25px,#cccccc 240px,#bfbfbf 242.5px,#afafaf 244.75px,#9c9c9c 246.75px,#878787 248.5px,#707070 250px,#515151 251.5px,#363636 252.5px,#070707 253.75px,#020202 254px,#000000 254.25px,#000000 255px,#010101 255.25px,#060606 255.5px,#101010 255.75px,#272727 256.25px,#3b3b3b 256.75px,#5a5a5a 257.75px,#777777 259px,#909090 260.5px,#a6a6a6 262.25px,#bbbbbb 264.5px,#cbcbcb 267px,#d8d8d8 270px,#e5e5e5 274.75px,#ededed 280.75px,#f3f3f3 288.75px,#f7f7f7 300px,#fbfbfb 330px,#fbfbfb 347.25px,#fafafa 349.5px,#f6f6f6 350.75px,#f2f2f2 351.25px,#ececec 351.5px,#e1e1e1 351.75px,#c7c7c7 352px,#979797 352.25px,#8f8f8f 352.5px,#989898 352.75px,#b3b3b3 353px,#e7e7e7 353.25px,#f6f6f6 353.5px,#fafafa 353.75px,#fdfdfd 355px,#fefefe 360px,#fcfcfc 390px,#f9f9f9 420px,#f6f6f6 450px,#f2f2f2 480px,#ededed 510px,#e5e5e5 540px,#dbdbdb 570px,#cecece 600px,#bfbfbf 629px)"></i><i style="left:224px;background:linear-gradient(#ffffff 0px,#ffffff 30px,#fefefe 60px,#fefefe 90px,#fefefe 120px,#fdfdfd 150px,#fcfcfc 180px,#f7f7f7 210px,#f1f1f1 221px,#e8e8e8 229px,#dbdbdb 235.25px,#c9c9c9 240px,#bdbdbd 242.25px,#acacac 244.5px,#9b9b9b 246.25px,#868686 248px,#6e6e6e 249.5px,#5f5f5f 250.25px,#4e4e4e 251px,#323232 252px,#0b0b0b 253px,#040404 253.25px,#010101 253.5px,#000000 254.25px,#030303 254.75px,#0b0b0b 255px,#222222 255.5px,#373737 256px,#494949 256.5px,#5e5e5e 257.25px,#6f6f6f 258px,#7e7e7e 258.75px,#969696 260.25px,#adadad 262.25px,#c0c0c0 264.5px,#cecece 267px,#dadada 270px,#e6e6e6 274.75px,#eeeeee 280.75px,#f4f4f4 288.75px,#f8f8f8 300px,#fbfbfb 330px,#fbfbfb 346.5px,#fafafa 348.75px,#f7f7f7 350px,#f3f3f3 350.5px,#efefef 350.75px,#e6e6e6 351px,#d1d1d1 351.25px,#a0a0a0 351.5px,#939393 351.75px,#999999 352px,#afafaf 352.25px,#e3e3e3 352.5px,#f5f5f5 352.75px,#fafafa 353px,#fdfdfd 354.25px,#fefefe 360px,#fcfcfc 390px,#f9f9f9 420px,#f6f6f6 450px,#f2f2f2 480px,#ededed 510px,#e5e5e5 540px,#dbdbdb 570px,#cecece 600px,#bfbfbf 629px)"></i><i style="left:226px;background:linear-gradient(#ffffff 0px,#ffffff 30px,#fefefe 60px,#fefefe 90px,#fefefe 120px,#fdfdfd 150px,#fcfcfc 180px,#f6f6f6 210px,#f0f0f0 221px,#e7e7e7 229px,#d9d9d9 235.25px,#d1d1d1 237.75px,#c6c6c6 240px,#b9b9b9 242.25px,#a9a9a9 244.25px,#989898 246px,#848484 247.5px,#6c6c6c 249px,#5d5d5d 249.75px,#4b4b4b 250.5px,#2d2d2d 251.5px,#070707 252.5px,#020202 252.75px,#000000 253px,#000000 253.75px,#010101 254px,#060606 254.25px,#292929 255px,#3c3c3c 255.5px,#4d4d4d 256px,#616161 256.75px,#727272 257.5px,#818181 258.25px,#989898 259.75px,#afafaf 261.75px,#c3c3c3 264.25px,#d2d2d2 267px,#dddddd 270px,#e8e8e8 274.75px,#efefef 280.75px,#f4f4f4 288.75px,#f8f8f8 300px,#fbfbfb 330px,#fbfbfb 345.75px,#f8f8f8 349.25px,#f5f5f5 349.75px,#f1f1f1 350px,#ebebeb 350.25px,#dadada 350.5px,#acacac 350.75px,#999999 351px,#9c9c9c 351.25px,#adadad 351.5px,#dddddd 351.75px,#f5f5f5 352px,#fafafa 352.25px,#fcfcfc 352.75px,#fdfdfd 353.75px,#fefefe 360px,#fcfcfc 390px,#f9f9f9 420px,#f6f6f6 450px,#f2f2f2 480px,#ededed 510px,#e5e5e5 540px,#dbdbdb 570px,#cecece 600px,#bfbfbf 629px)"></i><i style="left:228px;background:linear-gradient(#ffffff 0px,#ffffff 30px,#fefefe 60px,#fefefe 90px,#fefefe 120px,#fdfdfd 150px,#fcfcfc 180px,#f6f6f6 210px,#f0f0f0 221px,#e6e6e6 229px,#d8d8d8 235.25px,#cecece 237.75px,#c3c3c3 240px,#b6b6b6 242px,#a6a6a6 244px,#939393 245.75px,#7f7f7f 247.25px,#656565 248.75px,#484848 250px,#323232 250.75px,#0b0b0b 251.75px,#040404 252px,#010101 252.25px,#000000 253px,#000000 253.25px,#030303 253.5px,#0b0b0b 253.75px,#2e2e2e 254.5px,#414141 255px,#515151 255.5px,#656565 256.25px,#767676 257px,#848484 257.75px,#9a9a9a 259.25px,#b0b0b0 261.25px,#c4c4c4 263.75px,#d3d3d3 266.5px,#dfdfdf 270px,#e9e9e9 274.75px,#f0f0f0 281px,#f5f5f5 289px,#f8f8f8 300px,#fbfbfb 330px,#fbfbfb 345.5px,#fafafa 347.75px,#f8f8f8 348.75px,#f3f3f3 349.25px,#eeeeee 349.5px,#e1e1e1 349.75px,#bababa 350px,#9e9e9e 350.25px,#9f9f9f 350.5px,#acacac 350.75px,#d4d4d4 351px,#f4f4f4 351.25px,#fafafa 351.5px,#fcfcfc 352px,#fdfdfd 353px,#fefefe 360px,#fcfcfc 390px,#f9f9f9 420px,#f5f5f5 450px,#f2f2f2 480px,#ededed 510px,#e5e5e5 540px,#dbdbdb 570px,#cecece 600px,#bfbfbf 629px)"></i><i style="left:230px;background:linear-gradient(#ffffff 0px,#ffffff 30px,#fefefe 60px,#fefefe 90px,#fefefe 120px,#fdfdfd 150px,#fcfcfc 180px,#f6f6f6 210px,#f0f0f0 221px,#e5e5e5 229px,#dfdfdf 232.25px,#d6d6d6 235.25px,#cccccc 237.75px,#c0c0c0 240px,#b2b2b2 242px,#a3a3a3 243.75px,#929292 245.25px,#7e7e7e 246.75px,#686868 248px,#4c4c4c 249.25px,#2e2e2e 250.25px,#070707 251.25px,#020202 251.5px,#000000 251.75px,#000000 252.5px,#010101 252.75px,#070707 253px,#2a2a2a 253.75px,#3d3d3d 254.25px,#4e4e4e 254.75px,#626262 255.5px,#737373 256.25px,#828282 257px,#9c9c9c 258.75px,#b4b4b4 261px,#c7c7c7 263.5px,#d5d5d5 266.5px,#e1e1e1 270px,#eaeaea 274.75px,#f1f1f1 281px,#f5f5f5 289px,#f8f8f8 300px,#fbfbfb 330px,#fbfbfb 344.75px,#f8f8f8 348px,#f5f5f5 348.5px,#f1f1f1 348.75px,#e7e7e7 349px,#c8c8c8 349.25px,#a4a4a4 349.5px,#a3a3a3 349.75px,#adadad 350px,#cccccc 350.25px,#f4f4f4 350.5px,#fafafa 350.75px,#fcfcfc 351.25px,#fdfdfd 352.25px,#fefefe 360px,#fcfcfc 390px,#f9f9f9 420px,#f5f5f5 450px,#f2f2f2 480px,#ededed 510px,#e5e5e5 540px,#dbdbdb 570px,#cecece 600px,#bfbfbf 629px)"></i><i style="left:232px;background:linear-gradient(#ffffff 0px,#ffffff 30px,#fefefe 60px,#fefefe 90px,#fefefe 120px,#fdfdfd 150px,#fcfcfc 180px,#f6f6f6 210px,#efefef 221.25px,#e4e4e4 229.25px,#dcdcdc 232.5px,#d4d4d4 235.25px,#c9c9c9 237.75px,#bcbcbc 240px,#afafaf 241.75px,#9f9f9f 243.5px,#8e8e8e 245px,#7c7c7c 246.25px,#656565 247.5px,#484848 248.75px,#323232 249.5px,#0b0b0b 250.5px,#040404 250.75px,#010101 251px,#000000 251.75px,#000000 252px,#040404 252.25px,#0c0c0c 252.5px,#252525 253px,#393939 253.5px,#525252 254.25px,#666666 255px,#777777 255.75px,#858585 256.5px,#9e9e9e 258.25px,#b6b6b6 260.5px,#c9c9c9 263.25px,#d7d7d7 266.25px,#e2e2e2 270px,#ebebeb 274.75px,#f1f1f1 281px,#f5f5f5 289px,#f8f8f8 300px,#fbfbfb 330px,#fbfbfb 344.5px,#fafafa 346.5px,#f8f8f8 347.5px,#f3f3f3 348px,#ececec 348.25px,#d4d4d4 348.5px,#ababab 348.75px,#a8a8a8 349px,#aeaeae 349.25px,#c6c6c6 349.5px,#f2f2f2 349.75px,#fafafa 350px,#fdfdfd 350.5px,#fdfdfd 351.5px,#fefefe 360px,#fcfcfc 390px,#f9f9f9 420px,#f5f5f5 450px,#f2f2f2 480px,#ededed 510px,#e5e5e5 540px,#dbdbdb 570px,#cecece 600px,#bfbfbf 629px)"></i><i style="left:234px;background:linear-gradient(#ffffff 0px,#ffffff 30px,#fefefe 60px,#fefefe 90px,#fefefe 120px,#fdfdfd 150px,#fcfcfc 180px,#f6f6f6 210px,#eeeeee 221.25px,#e3e3e3 229.25px,#dbdbdb 232.5px,#d2d2d2 235.25px,#c6c6c6 237.75px,#b8b8b8 240px,#aaaaaa 241.75px,#9b9b9b 243.25px,#8c8c8c 244.5px,#7a7a7a 245.75px,#636363 247px,#454545 248.25px,#2e2e2e 249px,#070707 250px,#020202 250.25px,#000000 250.5px,#000000 251.25px,#010101 251.5px,#070707 251.75px,#2b2b2b 252.5px,#3f3f3f 253px,#4f4f4f 253.5px,#636363 254.25px,#747474 255px,#838383 255.75px,#939393 256.75px,#a0a0a0 257.75px,#b7b7b7 260px,#cacaca 262.75px,#d9d9d9 266px,#e4e4e4 270px,#ececec 274.75px,#f2f2f2 281px,#f9f9f9 300px,#fbfbfb 330px,#fbfbfb 344px,#f9f9f9 346.75px,#f5f5f5 347.25px,#efefef 347.5px,#dedede 347.75px,#b2b2b2 348px,#acacac 348.25px,#b1b1b1 348.5px,#c2c2c2 348.75px,#f0f0f0 349px,#fafafa 349.25px,#fcfcfc 349.5px,#fefefe 351.25px,#fefefe 360px,#fcfcfc 390px,#f9f9f9 420px,#f5f5f5 450px,#f2f2f2 480px,#ededed 510px,#e5e5e5 540px,#dbdbdb 570px,#cdcdcd 600px,#bebebe 629px)"></i><i style="left:236px;background:linear-gradient(#ffffff 0px,#ffffff 30px,#fefefe 60px,#fefefe 90px,#fefefe 120px,#fdfdfd 150px,#fcfcfc 180px,#f5f5f5 210px,#eeeeee 221.25px,#e2e2e2 229.25px,#d9d9d9 232.5px,#cfcfcf 235.25px,#c3c3c3 237.75px,#b4b4b4 240px,#a7a7a7 241.5px,#979797 243px,#888888 244.25px,#747474 245.5px,#5b5b5b 246.75px,#424242 247.75px,#323232 248.25px,#0b0b0b 249.25px,#040404 249.5px,#010101 249.75px,#000000 250.5px,#000000 250.75px,#040404 251px,#0d0d0d 251.25px,#262626 251.75px,#3b3b3b 252.25px,#535353 253px,#676767 253.75px,#787878 254.5px,#858585 255.25px,#959595 256.25px,#a2a2a2 257.25px,#b0b0b0 258.5px,#bbbbbb 259.75px,#cdcdcd 262.5px,#dbdbdb 266px,#e6e6e6 270px,#ededed 274.75px,#f2f2f2 281px,#f9f9f9 300px,#fbfbfb 330px,#fbfbfb 343.75px,#f8f8f8 346.25px,#f2f2f2 346.75px,#e6e6e6 347px,#bbbbbb 347.25px,#b1b1b1 347.5px,#b4b4b4 347.75px,#c0c0c0 348px,#ededed 348.25px,#fafafa 348.5px,#fcfcfc 348.75px,#fefefe 350.5px,#fefefe 360px,#fcfcfc 390px,#f9f9f9 420px,#f5f5f5 450px,#f2f2f2 480px,#ededed 510px,#e5e5e5 540px,#dadada 570px,#cdcdcd 600px,#bebebe 629px)"></i><i style="left:238px;background:linear-gradient(#ffffff 0px,#ffffff 30px,#fefefe 60px,#fefefe 90px,#fefefe 120px,#fdfdfd 150px,#fcfcfc 180px,#f9f9f9 197.5px,#f5f5f5 210px,#ededed 221.25px,#e8e8e8 225.5px,#e1e1e1 229.25px,#d7d7d7 232.5px,#cdcdcd 235.25px,#bfbfbf 237.75px,#afafaf 240px,#969696 242.5px,#868686 243.75px,#767676 244.75px,#5e5e5e 246px,#454545 247px,#2e2e2e 247.75px,#070707 248.75px,#020202 249px,#000000 249.25px,#000000 250px,#020202 250.25px,#080808 250.5px,#2c2c2c 251.25px,#404040 251.75px,#505050 252.25px,#646464 253px,#757575 253.75px,#888888 254.75px,#979797 255.75px,#a4a4a4 256.75px,#bcbcbc 259.25px,#cfcfcf 262.25px,#dddddd 265.75px,#e7e7e7 270px,#eeeeee 275px,#f3f3f3 281.25px,#f9f9f9 300px,#fbfbfb 330px,#fbfbfb 343px,#f9f9f9 345.5px,#f5f5f5 346px,#ececec 346.25px,#c6c6c6 346.5px,#b5b5b5 346.75px,#b7b7b7 347px,#c0c0c0 347.25px,#e7e7e7 347.5px,#fafafa 347.75px,#fcfcfc 348px,#fefefe 349.75px,#fefefe 360px,#fcfcfc 390px,#f9f9f9 420px,#f5f5f5 450px,#f2f2f2 480px,#ededed 510px,#e5e5e5 540px,#dadada 570px,#cdcdcd 600px,#bebebe 629px)"></i><i style="left:240px;background:linear-gradient(#ffffff 0px,#ffffff 30px,#fefefe 60px,#fefefe 90px,#fefefe 120px,#fdfdfd 150px,#fcfcfc 180px,#f9f9f9 197.5px,#f5f5f5 210px,#ededed 221.25px,#e7e7e7 225.5px,#dfdfdf 229.25px,#d6d6d6 232.5px,#cacaca 235.25px,#bcbcbc 237.75px,#aaaaaa 240px,#9e9e9e 241.25px,#8f8f8f 242.5px,#818181 243.5px,#707070 244.5px,#5c5c5c 245.5px,#424242 246.5px,#323232 247px,#0b0b0b 248px,#040404 248.25px,#010101 248.5px,#000000 249.25px,#010101 249.5px,#040404 249.75px,#0e0e0e 250px,#272727 250.5px,#3c3c3c 251px,#545454 251.75px,#686868 252.5px,#797979 253.25px,#8b8b8b 254.25px,#9a9a9a 255.25px,#a6a6a6 256.25px,#bdbdbd 258.75px,#d0d0d0 261.75px,#dedede 265.5px,#e8e8e8 270px,#efefef 275px,#f3f3f3 281.25px,#f9f9f9 300px,#fbfbfb 330px,#fcfcfc 342.25px,#fafafa 344.75px,#f6f6f6 345.25px,#f0f0f0 345.5px,#bababa 346px,#bababa 346.25px,#c0c0c0 346.5px,#f9f9f9 347px,#fcfcfc 347.25px,#fefefe 349px,#fefefe 360px,#fcfcfc 390px,#f9f9f9 420px,#f5f5f5 450px,#f2f2f2 480px,#ededed 510px,#e5e5e5 540px,#dadada 570px,#cdcdcd 600px,#bebebe 629px)"></i><i style="left:242px;background:linear-gradient(#ffffff 0px,#ffffff 30px,#fefefe 60px,#fefefe 90px,#fefefe 120px,#fdfdfd 150px,#fcfcfc 180px,#f9f9f9 197.75px,#f5f5f5 210px,#ececec 221.5px,#e5e5e5 225.75px,#dddddd 229.5px,#d2d2d2 232.75px,#c6c6c6 235.5px,#b6b6b6 238px,#a4a4a4 240px,#8a8a8a 242.25px,#6e6e6e 244px,#595959 245px,#3f3f3f 246px,#2e2e2e 246.5px,#070707 247.5px,#020202 247.75px,#000000 248px,#000000 248.75px,#020202 249px,#090909 249.25px,#2d2d2d 250px,#414141 250.5px,#585858 251.25px,#6c6c6c 252px,#7c7c7c 252.75px,#8d8d8d 253.75px,#a8a8a8 255.75px,#b4b4b4 257px,#c1c1c1 258.5px,#d2d2d2 261.5px,#e0e0e0 265.25px,#eaeaea 270px,#f0f0f0 275px,#f4f4f4 281.25px,#f9f9f9 300px,#fcfcfc 330px,#fcfcfc 342px,#f9f9f9 344.25px,#f8f8f8 344.5px,#f4f4f4 344.75px,#e1e1e1 345px,#bfbfbf 345.25px,#bebebe 345.5px,#c3c3c3 345.75px,#d5d5d5 346px,#f9f9f9 346.25px,#fcfcfc 346.5px,#fefefe 348.25px,#fefefe 360px,#fcfcfc 390px,#f9f9f9 420px,#f5f5f5 450px,#f2f2f2 480px,#ededed 510px,#e5e5e5 540px,#dadada 570px,#cdcdcd 600px,#bebebe 629px)"></i><i style="left:244px;background:linear-gradient(#ffffff 0px,#ffffff 30px,#fefefe 60px,#fefefe 90px,#fefefe 120px,#fdfdfd 150px,#fbfbfb 180px,#f9f9f9 197.75px,#f5f5f5 210px,#ebebeb 221.5px,#e4e4e4 225.75px,#dcdcdc 229.5px,#d0d0d0 232.75px,#c2c2c2 235.5px,#b1b1b1 238px,#9e9e9e 240px,#8f8f8f 241.25px,#818181 242.25px,#707070 243.25px,#616161 244px,#505050 244.75px,#3b3b3b 245.5px,#2a2a2a 246px,#0b0b0b 246.75px,#040404 247px,#010101 247.25px,#000000 247.5px,#010101 248.25px,#050505 248.5px,#0f0f0f 248.75px,#333333 249.5px,#464646 250px,#555555 250.5px,#696969 251.25px,#7a7a7a 252px,#8c8c8c 253px,#9a9a9a 254px,#aaaaaa 255.25px,#b6b6b6 256.5px,#c2c2c2 258px,#d4d4d4 261.25px,#e1e1e1 265.25px,#ebebeb 270px,#f0f0f0 275px,#f4f4f4 281.25px,#f9f9f9 300px,#fcfcfc 330px,#fcfcfc 341.25px,#fafafa 343.5px,#f6f6f6 344px,#eaeaea 344.25px,#c5c5c5 344.5px,#c3c3c3 344.75px,#c5c5c5 345px,#d1d1d1 345.25px,#f8f8f8 345.5px,#fcfcfc 345.75px,#fefefe 347.5px,#fefefe 360px,#fcfcfc 390px,#f9f9f9 420px,#f5f5f5 450px,#f2f2f2 480px,#ededed 510px,#e5e5e5 540px,#dadada 570px,#cdcdcd 600px,#bebebe 629px)"></i><i style="left:246px;background:linear-gradient(#ffffff 0px,#ffffff 30px,#fefefe 60px,#fefefe 90px,#fefefe 120px,#fdfdfd 150px,#fbfbfb 180px,#f9f9f9 197.75px,#f4f4f4 210px,#ebebeb 221.5px,#e3e3e3 225.75px,#dadada 229.5px,#cecece 232.75px,#bfbfbf 235.5px,#acacac 238px,#979797 240px,#7c7c7c 242px,#696969 243px,#595959 243.75px,#464646 244.5px,#373737 245px,#070707 246.25px,#020202 246.5px,#000000 247.5px,#020202 247.75px,#0a0a0a 248px,#2e2e2e 248.75px,#4a4a4a 249.5px,#595959 250px,#6d6d6d 250.75px,#7d7d7d 251.5px,#8e8e8e 252.5px,#9d9d9d 253.5px,#ababab 254.75px,#b8b8b8 256px,#c3c3c3 257.5px,#d5d5d5 260.75px,#e2e2e2 264.75px,#ececec 270px,#f5f5f5 281.25px,#fafafa 300px,#fcfcfc 330px,#fcfcfc 341px,#fafafa 343px,#f8f8f8 343.25px,#f0f0f0 343.5px,#cbcbcb 343.75px,#c7c7c7 344px,#c9c9c9 344.25px,#d1d1d1 344.5px,#f7f7f7 344.75px,#fcfcfc 345px,#fdfdfd 345.25px,#fefefe 360px,#fcfcfc 390px,#f9f9f9 420px,#f5f5f5 450px,#f2f2f2 480px,#ededed 510px,#e5e5e5 540px,#dadada 570px,#cdcdcd 600px,#bebebe 629px)"></i><i style="left:248px;background:linear-gradient(#ffffff 0px,#ffffff 30px,#fefefe 60px,#fefefe 90px,#fefefe 120px,#fdfdfd 150px,#fbfbfb 180px,#f9f9f9 197.75px,#f4f4f4 210px,#f0f0f0 216.25px,#eaeaea 221.5px,#e2e2e2 225.75px,#d8d8d8 229.5px,#cbcbcb 232.75px,#bbbbbb 235.5px,#a6a6a6 238px,#909090 240px,#757575 241.75px,#575757 243.25px,#434343 244px,#333333 244.5px,#0b0b0b 245.5px,#040404 245.75px,#010101 246px,#000000 246.25px,#010101 247px,#050505 247.25px,#101010 247.5px,#343434 248.25px,#474747 248.75px,#565656 249.25px,#6a6a6a 250px,#7f7f7f 251px,#919191 252px,#9f9f9f 253px,#adadad 254.25px,#b9b9b9 255.5px,#c4c4c4 257px,#d7d7d7 260.5px,#e4e4e4 264.75px,#ededed 270px,#f5f5f5 281.5px,#fafafa 300px,#fcfcfc 330px,#fcfcfc 340.25px,#fafafa 342.25px,#f9f9f9 342.5px,#f4f4f4 342.75px,#d4d4d4 343px,#cccccc 343.25px,#cdcdcd 343.5px,#d2d2d2 343.75px,#f3f3f3 344px,#fcfcfc 344.25px,#fdfdfd 344.5px,#fefefe 360px,#fcfcfc 390px,#f9f9f9 420px,#f5f5f5 450px,#f2f2f2 480px,#ededed 510px,#e5e5e5 540px,#dadada 570px,#cdcdcd 600px,#bdbdbd 629px)"></i><i style="left:250px;background:linear-gradient(#ffffff 0px,#ffffff 30px,#fefefe 60px,#fefefe 90px,#fefefe 120px,#fdfdfd 150px,#fbfbfb 180px,#f8f8f8 197.75px,#f4f4f4 210px,#efefef 216.25px,#e9e9e9 221.5px,#e1e1e1 225.75px,#d6d6d6 229.5px,#c8c8c8 232.75px,#b7b7b7 235.5px,#a0a0a0 238px,#888888 240px,#6f6f6f 241.5px,#5f5f5f 242.25px,#4d4d4d 243px,#3f3f3f 243.5px,#2e2e2e 244px,#070707 245px,#020202 245.25px,#000000 245.5px,#000000 246.25px,#020202 246.5px,#0a0a0a 246.75px,#2f2f2f 247.5px,#4b4b4b 248.25px,#5a5a5a 248.75px,#6e6e6e 249.5px,#828282 250.5px,#939393 251.5px,#a1a1a1 252.5px,#afafaf 253.75px,#bcbcbc 255.25px,#c7c7c7 256.75px,#d9d9d9 260.25px,#e5e5e5 264.5px,#eeeeee 270px,#f6f6f6 281.5px,#fafafa 300px,#fcfcfc 330px,#fbfbfb 341.5px,#f7f7f7 342px,#e2e2e2 342.25px,#d1d1d1 342.5px,#d1d1d1 342.75px,#d4d4d4 343px,#eaeaea 343.25px,#fcfcfc 343.5px,#fdfdfd 343.75px,#fefefe 360px,#fcfcfc 390px,#f9f9f9 420px,#f5f5f5 450px,#f2f2f2 480px,#ededed 510px,#e5e5e5 540px,#dadada 570px,#cdcdcd 600px,#bdbdbd 629px)"></i><i style="left:252px;background:linear-gradient(#ffffff 0px,#ffffff 30px,#fefefe 60px,#fefefe 90px,#fefefe 120px,#fdfdfd 150px,#fbfbfb 180px,#f8f8f8 197.75px,#f4f4f4 210px,#eeeeee 216.5px,#e8e8e8 221.75px,#dfdfdf 226px,#d3d3d3 229.75px,#c5c5c5 232.75px,#b2b2b2 235.5px,#9a9a9a 238px,#7e7e7e 240px,#686868 241.25px,#4a4a4a 242.5px,#333333 243.25px,#0b0b0b 244.25px,#040404 244.5px,#010101 244.75px,#000000 245px,#010101 245.75px,#060606 246px,#111111 246.25px,#2a2a2a 246.75px,#484848 247.5px,#575757 248px,#6b6b6b 248.75px,#808080 249.75px,#929292 250.75px,#a3a3a3 252px,#b1b1b1 253.25px,#bebebe 254.75px,#c8c8c8 256.25px,#d9d9d9 259.75px,#e6e6e6 264.25px,#eeeeee 270px,#f6f6f6 281.5px,#fafafa 300px,#fcfcfc 330px,#fcfcfc 339.25px,#fafafa 341px,#f9f9f9 341.25px,#ededed 341.5px,#d5d5d5 341.75px,#d5d5d5 342px,#d7d7d7 342.25px,#e3e3e3 342.5px,#fcfcfc 342.75px,#fdfdfd 343px,#fefefe 360px,#fcfcfc 390px,#f9f9f9 420px,#f5f5f5 450px,#f2f2f2 480px,#ededed 510px,#e5e5e5 540px,#dadada 570px,#cdcdcd 600px,#bdbdbd 629px)"></i><i style="left:254px;background:linear-gradient(#ffffff 0px,#ffffff 30px,#fefefe 60px,#fefefe 90px,#fefefe 120px,#fdfdfd 150px,#fbfbfb 180px,#f8f8f8 197.75px,#f3f3f3 210px,#eeeeee 216.5px,#e7e7e7 221.75px,#dedede 226px,#d1d1d1 229.75px,#c0c0c0 233px,#ababab 235.75px,#929292 238px,#848484 239px,#747474 240px,#606060 241px,#474747 242px,#2f2f2f 242.75px,#070707 243.75px,#020202 244px,#000000 244.25px,#000000 245px,#030303 245.25px,#0b0b0b 245.5px,#303030 246.25px,#444444 246.75px,#5b5b5b 247.5px,#6f6f6f 248.25px,#838383 249.25px,#949494 250.25px,#a5a5a5 251.5px,#b2b2b2 252.75px,#bfbfbf 254.25px,#c9c9c9 255.75px,#dbdbdb 259.5px,#e7e7e7 264px,#efefef 270px,#f6f6f6 281.5px,#fafafa 300px,#fcfcfc 330px,#fbfbfb 340.25px,#fafafa 340.5px,#f4f4f4 340.75px,#dadada 341px,#d9d9d9 341.25px,#dadada 341.5px,#e1e1e1 341.75px,#fcfcfc 342px,#fdfdfd 342.25px,#fdfdfd 360px,#fcfcfc 390px,#f8f8f8 420px,#f5f5f5 450px,#f2f2f2 480px,#ededed 510px,#e5e5e5 540px,#dadada 570px,#cccccc 600px,#bdbdbd 629px)"></i><i style="left:256px;background:linear-gradient(#ffffff 0px,#ffffff 30px,#fefefe 60px,#fefefe 90px,#fefefe 120px,#fdfdfd 150px,#fbfbfb 180px,#f8f8f8 197.75px,#f3f3f3 210px,#ededed 216.75px,#e5e5e5 222px,#dbdbdb 226.25px,#cdcdcd 230px,#bcbcbc 233px,#a5a5a5 235.75px,#8a8a8a 238px,#7b7b7b 239px,#686868 240px,#515151 241px,#3c3c3c 241.75px,#2a2a2a 242.25px,#0b0b0b 243px,#040404 243.25px,#010101 243.5px,#000000 243.75px,#010101 244.5px,#060606 244.75px,#2b2b2b 245.5px,#494949 246.25px,#5f5f5f 247px,#727272 247.75px,#868686 248.75px,#969696 249.75px,#a7a7a7 251px,#b4b4b4 252.25px,#c1c1c1 253.75px,#cbcbcb 255.25px,#dcdcdc 259px,#e8e8e8 263.75px,#f0f0f0 270px,#f7f7f7 281.5px,#fafafa 300px,#fcfcfc 330px,#fbfbfb 339.75px,#f8f8f8 340px,#dedede 340.25px,#dddddd 340.5px,#dedede 340.75px,#e1e1e1 341px,#fbfbfb 341.25px,#fdfdfd 341.5px,#fdfdfd 360px,#fbfbfb 390px,#f8f8f8 420px,#f5f5f5 450px,#f2f2f2 480px,#ededed 510px,#e5e5e5 540px,#dadada 570px,#cccccc 600px,#bdbdbd 629px)"></i><i style="left:258px;background:linear-gradient(#ffffff 0px,#ffffff 30px,#fefefe 60px,#fefefe 90px,#fefefe 120px,#fdfdfd 150px,#fbfbfb 180px,#f8f8f8 198px,#f3f3f3 210px,#ededed 216.75px,#e4e4e4 222px,#dadada 226.25px,#cacaca 230px,#b8b8b8 233px,#9f9f9f 235.75px,#909090 237px,#818181 238px,#707070 239px,#5a5a5a 240px,#474747 240.75px,#383838 241.25px,#070707 242.5px,#020202 242.75px,#000000 243px,#000000 243.75px,#030303 244px,#0c0c0c 244.25px,#313131 245px,#454545 245.5px,#5d5d5d 246.25px,#707070 247px,#848484 248px,#959595 249px,#a6a6a6 250.25px,#b6b6b6 251.75px,#c2c2c2 253.25px,#cdcdcd 255px,#dddddd 258.75px,#e9e9e9 263.5px,#f1f1f1 270px,#f7f7f7 281.5px,#fafafa 300px,#fcfcfc 330px,#fbfbfb 339px,#fafafa 339.25px,#e3e3e3 339.5px,#e1e1e1 339.75px,#e3e3e3 340.25px,#fafafa 340.5px,#fdfdfd 340.75px,#fdfdfd 360px,#fbfbfb 390px,#f8f8f8 420px,#f5f5f5 450px,#f2f2f2 480px,#ededed 510px,#e5e5e5 540px,#dadada 570px,#cccccc 600px,#bdbdbd 629px)"></i><i style="left:260px;background:linear-gradient(#ffffff 0px,#ffffff 30px,#fefefe 60px,#fefefe 90px,#fefefe 120px,#fdfdfd 150px,#fbfbfb 180px,#f8f8f8 198px,#f2f2f2 210px,#ececec 216.75px,#e3e3e3 222.25px,#d7d7d7 226.5px,#c6c6c6 230.25px,#b1b1b1 233.25px,#a3a3a3 234.75px,#959595 236px,#838383 237.25px,#727272 238.25px,#5e5e5e 239.25px,#4b4b4b 240px,#333333 240.75px,#0b0b0b 241.75px,#030303 242px,#000000 242.5px,#010101 243.25px,#070707 243.5px,#2c2c2c 244.25px,#4a4a4a 245px,#606060 245.75px,#737373 246.5px,#878787 247.5px,#979797 248.5px,#a8a8a8 249.75px,#b7b7b7 251.25px,#c3c3c3 252.75px,#cecece 254.5px,#dfdfdf 258.5px,#eaeaea 263.5px,#f1f1f1 270px,#f7f7f7 281.75px,#fbfbfb 300px,#fcfcfc 330px,#fcfcfc 338.25px,#fbfbfb 338.5px,#eeeeee 338.75px,#e5e5e5 339px,#e6e6e6 339.5px,#f4f4f4 339.75px,#fdfdfd 340px,#fdfdfd 340.25px,#fdfdfd 360px,#fbfbfb 390px,#f8f8f8 420px,#f5f5f5 450px,#f2f2f2 480px,#ededed 510px,#e4e4e4 540px,#dadada 570px,#cccccc 600px,#bcbcbc 629px)"></i><i style="left:262px;background:linear-gradient(#ffffff 0px,#ffffff 30px,#fefefe 60px,#fefefe 90px,#fefefe 120px,#fdfdfd 150px,#fbfbfb 180px,#f8f8f8 198px,#f2f2f2 210px,#ebebeb 216.75px,#e1e1e1 222.25px,#d5d5d5 226.5px,#c2c2c2 230.25px,#b6b6b6 232px,#aaaaaa 233.5px,#9a9a9a 235px,#898989 236.25px,#797979 237.25px,#666666 238.25px,#4e4e4e 239.25px,#383838 240px,#060606 241.25px,#010101 241.5px,#000000 241.75px,#000000 242.5px,#040404 242.75px,#0d0d0d 243px,#333333 243.75px,#4e4e4e 244.5px,#646464 245.25px,#767676 246px,#8a8a8a 247px,#9d9d9d 248.25px,#acacac 249.5px,#b9b9b9 250.75px,#c4c4c4 252.25px,#cfcfcf 254px,#dfdfdf 258px,#ebebeb 263.25px,#f2f2f2 270px,#f8f8f8 281.75px,#fbfbfb 300px,#fcfcfc 330px,#fbfbfb 337.75px,#f7f7f7 338px,#e8e8e8 338.25px,#e9e9e9 338.75px,#eeeeee 339px,#fdfdfd 339.25px,#fdfdfd 339.5px,#fdfdfd 360px,#fbfbfb 390px,#f8f8f8 420px,#f5f5f5 450px,#f2f2f2 480px,#ededed 510px,#e4e4e4 540px,#dadada 570px,#cccccc 600px,#bcbcbc 629px)"></i><i style="left:264px;background:linear-gradient(#ffffff 0px,#ffffff 30px,#fefefe 60px,#fefefe 90px,#fefefe 120px,#fdfdfd 150px,#fbfbfb 180px,#f8f8f8 198px,#f2f2f2 210px,#eaeaea 217.25px,#dfdfdf 222.75px,#cfcfcf 227.25px,#bbbbbb 230.75px,#adadad 232.5px,#9e9e9e 234px,#8f8f8f 235.25px,#7c7c7c 236.5px,#696969 237.5px,#525252 238.5px,#3c3c3c 239.25px,#202020 240px,#0a0a0a 240.5px,#030303 240.75px,#000000 241.25px,#010101 242px,#080808 242.25px,#2e2e2e 243px,#4b4b4b 243.75px,#686868 244.75px,#7f7f7f 245.75px,#949494 247px,#a6a6a6 248.25px,#b6b6b6 249.75px,#c4c4c4 251.5px,#d6d6d6 254.75px,#e3e3e3 258.5px,#ececec 263.5px,#f3f3f3 270px,#f8f8f8 281.75px,#fbfbfb 300px,#fcfcfc 330px,#fcfcfc 337px,#fafafa 337.25px,#ececec 337.5px,#eeeeee 338.25px,#fdfdfd 338.5px,#fdfdfd 338.75px,#fdfdfd 360px,#fbfbfb 390px,#f8f8f8 420px,#f5f5f5 450px,#f2f2f2 480px,#ededed 510px,#e4e4e4 540px,#d9d9d9 570px,#cccccc 600px,#bcbcbc 629px)"></i><i style="left:266px;background:linear-gradient(#ffffff 0px,#ffffff 30px,#fefefe 60px,#fefefe 90px,#fefefe 120px,#fdfdfd 150px,#fbfbfb 180px,#f7f7f7 198px,#f1f1f1 210px,#e9e9e9 217.25px,#dddddd 222.75px,#cccccc 227.25px,#c3c3c3 229px,#b7b7b7 230.75px,#a8a8a8 232.5px,#979797 234px,#868686 235.25px,#717171 236.5px,#5b5b5b 237.5px,#404040 238.5px,#2f2f2f 239px,#060606 240px,#010101 240.25px,#000000 240.5px,#000000 241.25px,#040404 241.5px,#0e0e0e 241.75px,#343434 242.5px,#474747 243px,#5f5f5f 243.75px,#777777 244.75px,#8f8f8f 246px,#a1a1a1 247.25px,#b2b2b2 248.75px,#c0c0c0 250.25px,#cacaca 251.75px,#d4d4d4 253.5px,#e2e2e2 257.75px,#ececec 263px,#f3f3f3 270px,#f8f8f8 281.75px,#fbfbfb 300px,#fcfcfc 330px,#fcfcfc 336.25px,#fbfbfb 336.5px,#efefef 336.75px,#efefef 337px,#f0f0f0 337.5px,#fdfdfd 337.75px,#fdfdfd 338px,#fdfdfd 360px,#fbfbfb 390px,#f8f8f8 420px,#f5f5f5 450px,#f2f2f2 480px,#ececec 510px,#e4e4e4 540px,#d9d9d9 570px,#cccccc 600px,#bcbcbc 629px)"></i><i style="left:268px;background:linear-gradient(#ffffff 0px,#ffffff 30px,#fefefe 60px,#fefefe 90px,#fefefe 120px,#fdfdfd 150px,#fbfbfb 180px,#f7f7f7 198px,#f1f1f1 210px,#e8e8e8 217px,#dcdcdc 222.5px,#d5d5d5 224.75px,#cbcbcb 227px,#c1c1c1 228.75px,#b4b4b4 230.5px,#a7a7a7 232px,#969696 233.5px,#848484 234.75px,#737373 235.75px,#5e5e5e 236.75px,#444444 237.75px,#343434 238.25px,#0a0a0a 239.25px,#030303 239.5px,#000000 240px,#020202 240.75px,#090909 241px,#2f2f2f 241.75px,#4c4c4c 242.5px,#696969 243.5px,#808080 244.5px,#919191 245.5px,#a3a3a3 246.75px,#b2b2b2 248px,#bdbdbd 249.25px,#cacaca 251px,#d3d3d3 252.75px,#e2e2e2 257px,#ededed 262.5px,#f4f4f4 270px,#f8f8f8 281.75px,#fbfbfb 300px,#fcfcfc 330px,#fcfcfc 335.75px,#f2f2f2 336px,#f2f2f2 336.25px,#f2f2f2 336.75px,#fdfdfd 337px,#fdfdfd 337.25px,#fdfdfd 360px,#fbfbfb 390px,#f8f8f8 420px,#f5f5f5 450px,#f2f2f2 480px,#ececec 510px,#e4e4e4 540px,#d9d9d9 570px,#cccccc 600px,#bcbcbc 629px)"></i><i style="left:270px;background:linear-gradient(#ffffff 0px,#ffffff 30px,#fefefe 60px,#fefefe 90px,#fefefe 120px,#fdfdfd 150px,#fbfbfb 180px,#f7f7f7 198px,#f0f0f0 210px,#e8e8e8 216.75px,#dcdcdc 222px,#cccccc 226.25px,#c2c2c2 228px,#b5b5b5 229.75px,#a8a8a8 231.25px,#9b9b9b 232.5px,#8a8a8a 233.75px,#7a7a7a 234.75px,#616161 236px,#484848 237px,#2f2f2f 237.75px,#060606 238.75px,#010101 239px,#000000 239.25px,#000000 240px,#040404 240.25px,#0f0f0f 240.5px,#353535 241.25px,#484848 241.75px,#606060 242.5px,#787878 243.5px,#8c8c8c 244.5px,#9f9f9f 245.75px,#b1b1b1 247.25px,#bebebe 248.75px,#cbcbcb 250.5px,#d4d4d4 252.25px,#e3e3e3 256.5px,#ededed 262.25px,#f4f4f4 270px,#f8f8f8 281.75px,#fbfbfb 300px,#fcfcfc 330px,#fcfcfc 335px,#f4f4f4 335.5px,#f5f5f5 336px,#fdfdfd 336.5px,#fdfdfd 360px,#fbfbfb 390px,#f8f8f8 420px,#f5f5f5 450px,#f2f2f2 480px,#ececec 510px,#e4e4e4 540px,#d9d9d9 570px,#cbcbcb 600px,#bcbcbc 629px)"></i><i style="left:272px;background:linear-gradient(#ffffff 0px,#ffffff 30px,#fefefe 60px,#fefefe 90px,#fefefe 120px,#fdfdfd 150px,#fbfbfb 180px,#f7f7f7 198.25px,#f0f0f0 210px,#e8e8e8 216.25px,#dddddd 221.25px,#cecece 225.25px,#bbbbbb 228.5px,#acacac 230.25px,#9c9c9c 231.75px,#898989 233.25px,#747474 234.5px,#5f5f5f 235.5px,#444444 236.5px,#343434 237px,#0a0a0a 238px,#030303 238.25px,#000000 238.75px,#020202 239.5px,#090909 239.75px,#161616 240px,#303030 240.5px,#4d4d4d 241.25px,#6a6a6a 242.25px,#818181 243.25px,#969696 244.5px,#a7a7a7 245.75px,#b7b7b7 247.25px,#c4c4c4 248.75px,#cfcfcf 250.5px,#d7d7d7 252.25px,#e5e5e5 256.5px,#eeeeee 262.25px,#f5f5f5 270px,#f9f9f9 282px,#fbfbfb 300px,#fcfcfc 330px,#fcfcfc 334.25px,#fcfcfc 334.5px,#f6f6f6 334.75px,#f8f8f8 335.5px,#fdfdfd 335.75px,#fdfdfd 360px,#fbfbfb 390px,#f8f8f8 420px,#f5f5f5 450px,#f2f2f2 480px,#ececec 510px,#e4e4e4 540px,#d9d9d9 570px,#cbcbcb 600px,#bbbbbb 629px)"></i><i style="left:274px;background:linear-gradient(#ffffff 0px,#ffffff 30px,#fefefe 60px,#fefefe 90px,#fefefe 120px,#fdfdfd 150px,#fbfbfb 180px,#f7f7f7 198.25px,#efefef 210px,#e7e7e7 216.5px,#dadada 221.5px,#cacaca 225.5px,#bfbfbf 227.25px,#b2b2b2 229px,#a4a4a4 230.5px,#929292 232px,#7f7f7f 233.25px,#6d6d6d 234.25px,#565656 235.25px,#404040 236px,#2f2f2f 236.5px,#060606 237.5px,#010101 237.75px,#010101 238.75px,#050505 239px,#101010 239.25px,#2b2b2b 239.75px,#363636 240px,#525252 240.75px,#686868 241.5px,#7f7f7f 242.5px,#919191 243.5px,#a3a3a3 244.75px,#b2b2b2 246px,#bfbfbf 247.5px,#cacaca 249px,#dbdbdb 252.5px,#e7e7e7 256.75px,#efefef 262.5px,#f5f5f5 270px,#f9f9f9 282px,#fbfbfb 300px,#fdfdfd 330px,#fcfcfc 333.75px,#f8f8f8 334px,#f9f9f9 334.75px,#fdfdfd 335px,#fdfdfd 335.25px,#fdfdfd 360px,#fbfbfb 390px,#f8f8f8 420px,#f5f5f5 450px,#f2f2f2 480px,#ececec 510px,#e4e4e4 540px,#d9d9d9 570px,#cbcbcb 600px,#bbbbbb 629px)"></i><i style="left:276px;background:linear-gradient(#ffffff 0px,#ffffff 30px,#fefefe 60px,#fefefe 90px,#fefefe 120px,#fdfdfd 150px,#fbfbfb 180px,#f6f6f6 198.25px,#efefef 210px,#e6e6e6 216.25px,#d9d9d9 221.25px,#c8c8c8 225.25px,#bdbdbd 227px,#b1b1b1 228.5px,#a3a3a3 230px,#949494 231.25px,#818181 232.5px,#6f6f6f 233.5px,#595959 234.5px,#444444 235.25px,#2a2a2a 236px,#0a0a0a 236.75px,#030303 237px,#000000 237.25px,#000000 238px,#020202 238.25px,#0a0a0a 238.5px,#313131 239.25px,#4e4e4e 240px,#656565 240.75px,#777777 241.5px,#8b8b8b 242.5px,#9b9b9b 243.5px,#ababab 244.75px,#b8b8b8 246px,#c4c4c4 247.5px,#cecece 249px,#dddddd 252.5px,#e8e8e8 256.75px,#f0f0f0 262.5px,#f5f5f5 270px,#f9f9f9 282px,#fbfbfb 300px,#fdfdfd 330px,#fcfcfc 333px,#fafafa 333.25px,#fafafa 334px,#fdfdfd 334.25px,#fdfdfd 334.5px,#fdfdfd 360px,#fbfbfb 390px,#f8f8f8 420px,#f5f5f5 450px,#f2f2f2 480px,#ececec 510px,#e4e4e4 540px,#d9d9d9 570px,#cbcbcb 600px,#bbbbbb 629px)"></i><i style="left:278px;background:linear-gradient(#ffffff 0px,#ffffff 30px,#fefefe 60px,#fefefe 90px,#fefefe 120px,#fdfdfd 150px,#fbfbfb 180px,#f6f6f6 198.25px,#eeeeee 210px,#e5e5e5 216px,#d9d9d9 220.75px,#c7c7c7 224.75px,#bcbcbc 226.5px,#b0b0b0 228px,#a1a1a1 229.5px,#929292 230.75px,#7f7f7f 232px,#6d6d6d 233px,#565656 234px,#414141 234.75px,#2f2f2f 235.25px,#060606 236.25px,#010101 236.5px,#010101 237.5px,#060606 237.75px,#373737 238.75px,#4a4a4a 239.25px,#626262 240px,#757575 240.75px,#898989 241.75px,#9a9a9a 242.75px,#a7a7a7 243.75px,#b5b5b5 245px,#c0c0c0 246.25px,#d3d3d3 249.25px,#e0e0e0 252.75px,#eaeaea 257px,#f1f1f1 262.5px,#f6f6f6 270px,#f9f9f9 282px,#fbfbfb 300px,#fdfdfd 330px,#fdfdfd 332.25px,#fbfbfb 332.5px,#fdfdfd 333.75px,#fdfdfd 360px,#fbfbfb 390px,#f8f8f8 420px,#f5f5f5 450px,#f2f2f2 480px,#ececec 510px,#e4e4e4 540px,#d9d9d9 570px,#cbcbcb 600px,#bbbbbb 629px)"></i><i style="left:280px;background:linear-gradient(#ffffff 0px,#ffffff 30px,#fefefe 60px,#fefefe 90px,#fefefe 120px,#fdfdfd 150px,#fbfbfb 180px,#f6f6f6 198.25px,#eeeeee 210px,#e5e5e5 215.75px,#d8d8d8 220.5px,#c7c7c7 224.25px,#bcbcbc 226px,#afafaf 227.5px,#a0a0a0 229px,#919191 230.25px,#7e7e7e 231.5px,#6b6b6b 232.5px,#595959 233.25px,#454545 234px,#2b2b2b 234.75px,#0a0a0a 235.5px,#030303 235.75px,#000000 236px,#000000 236.75px,#020202 237px,#0b0b0b 237.25px,#323232 238px,#464646 238.5px,#5f5f5f 239.25px,#727272 240px,#838383 240.75px,#949494 241.75px,#a3a3a3 242.75px,#afafaf 243.75px,#c5c5c5 246.25px,#d6d6d6 249.25px,#e2e2e2 252.75px,#ebebeb 257px,#f2f2f2 262.5px,#f6f6f6 270px,#fafafa 282px,#fcfcfc 300px,#fdfdfd 330px,#fdfdfd 360px,#fbfbfb 390px,#f8f8f8 420px,#f5f5f5 450px,#f2f2f2 480px,#ececec 510px,#e4e4e4 540px,#d9d9d9 570px,#cbcbcb 600px,#bbbbbb 629px)"></i><i style="left:282px;background:linear-gradient(#ffffff 0px,#ffffff 30px,#fefefe 60px,#fefefe 90px,#fefefe 120px,#fdfdfd 150px,#fbfbfb 180px,#f6f6f6 198.25px,#ededed 210px,#e4e4e4 215.75px,#d7d7d7 220.25px,#c5c5c5 224px,#afafaf 227px,#a2a2a2 228.25px,#939393 229.5px,#808080 230.75px,#6d6d6d 231.75px,#565656 232.75px,#414141 233.5px,#303030 234px,#0f0f0f 234.75px,#060606 235px,#010101 235.25px,#000000 235.5px,#010101 236.25px,#060606 236.5px,#2d2d2d 237.25px,#4c4c4c 238px,#6a6a6a 239px,#818181 240px,#8f8f8f 240.75px,#9e9e9e 241.75px,#ababab 242.75px,#b8b8b8 244px,#cbcbcb 246.5px,#dadada 249.5px,#e5e5e5 253px,#ededed 257.25px,#f2f2f2 262.75px,#f6f6f6 270px,#fcfcfc 300px,#fdfdfd 330px,#fdfdfd 360px,#fbfbfb 390px,#f8f8f8 420px,#f5f5f5 450px,#f2f2f2 480px,#ececec 510px,#e4e4e4 540px,#d9d9d9 570px,#cbcbcb 600px,#bbbbbb 629px)"></i><i style="left:284px;background:linear-gradient(#ffffff 0px,#ffffff 30px,#fefefe 60px,#fefefe 90px,#fefefe 120px,#fdfdfd 150px,#fbfbfb 180px,#f5f5f5 198.5px,#ececec 210px,#e3e3e3 215.5px,#d6d6d6 220px,#c3c3c3 223.75px,#b8b8b8 225.25px,#ababab 226.75px,#9e9e9e 228px,#8e8e8e 229.25px,#7e7e7e 230.25px,#6b6b6b 231.25px,#5a5a5a 232px,#454545 232.75px,#2b2b2b 233.5px,#0a0a0a 234.25px,#030303 234.5px,#000000 234.75px,#000000 235.5px,#030303 235.75px,#0c0c0c 236px,#333333 236.75px,#505050 237.5px,#606060 238px,#737373 238.75px,#8d8d8d 240px,#a7a7a7 241.75px,#bebebe 244px,#cfcfcf 246.5px,#dddddd 249.5px,#e7e7e7 253px,#eeeeee 257.25px,#f3f3f3 262.75px,#f7f7f7 270px,#fcfcfc 300px,#fdfdfd 330px,#fdfdfd 360px,#fbfbfb 390px,#f8f8f8 420px,#f5f5f5 450px,#f2f2f2 480px,#ececec 510px,#e4e4e4 540px,#d9d9d9 570px,#cbcbcb 600px,#bababa 629px)"></i><i style="left:286px;background:linear-gradient(#ffffff 0px,#ffffff 30px,#fefefe 60px,#fefefe 90px,#fefefe 120px,#fdfdfd 150px,#fafafa 180px,#f5f5f5 198.5px,#ececec 210px,#e2e2e2 215.5px,#d4d4d4 219.75px,#c2c2c2 223.25px,#b8b8b8 224.75px,#aaaaaa 226.25px,#9d9d9d 227.5px,#8c8c8c 228.75px,#7c7c7c 229.75px,#696969 230.75px,#575757 231.5px,#414141 232.25px,#303030 232.75px,#0f0f0f 233.5px,#060606 233.75px,#010101 234px,#000000 234.25px,#010101 235px,#070707 235.25px,#2e2e2e 236px,#393939 236.25px,#4d4d4d 236.75px,#5d5d5d 237.25px,#6b6b6b 237.75px,#7c7c7c 238.5px,#989898 240px,#afafaf 241.75px,#c4c4c4 244px,#d3d3d3 246.5px,#dfdfdf 249.5px,#e8e8e8 253px,#efefef 257.5px,#f7f7f7 270px,#fcfcfc 300px,#fcfcfc 330px,#fdfdfd 360px,#fbfbfb 390px,#f8f8f8 420px,#f5f5f5 450px,#f2f2f2 480px,#ececec 510px,#e4e4e4 540px,#d9d9d9 570px,#cbcbcb 600px,#bababa 629px)"></i><i style="left:288px;background:linear-gradient(#ffffff 0px,#ffffff 30px,#fefefe 60px,#fefefe 90px,#fefefe 120px,#fdfdfd 150px,#fafafa 180px,#f5f5f5 198.5px,#f1f1f1 204.75px,#ebebeb 210px,#e2e2e2 215px,#d4d4d4 219.25px,#c2c2c2 222.75px,#b7b7b7 224.25px,#a9a9a9 225.75px,#9c9c9c 227px,#8e8e8e 228px,#7f7f7f 229px,#6b6b6b 230px,#5a5a5a 230.75px,#454545 231.5px,#2b2b2b 232.25px,#0a0a0a 233px,#030303 233.25px,#000000 233.5px,#000000 234.25px,#030303 234.5px,#0d0d0d 234.75px,#292929 235.25px,#3f3f3f 235.75px,#515151 236.25px,#616161 236.75px,#757575 237.5px,#858585 238.25px,#929292 239px,#a1a1a1 240px,#b6b6b6 241.75px,#c8c8c8 244px,#d6d6d6 246.5px,#e1e1e1 249.5px,#e9e9e9 253px,#f0f0f0 257.5px,#f7f7f7 270px,#fcfcfc 300px,#fdfdfd 330px,#fdfdfd 360px,#fbfbfb 390px,#f8f8f8 420px,#f5f5f5 450px,#f2f2f2 480px,#ececec 510px,#e4e4e4 540px,#d9d9d9 570px,#cacaca 600px,#bababa 629px)"></i><i style="left:290px;background:linear-gradient(#ffffff 0px,#ffffff 30px,#fefefe 60px,#fefefe 90px,#fefefe 120px,#fdfdfd 150px,#fafafa 180px,#f5f5f5 198.5px,#f0f0f0 205px,#eaeaea 210px,#e0e0e0 215px,#d3d3d3 219px,#c0c0c0 222.5px,#a8a8a8 225.25px,#9a9a9a 226.5px,#8d8d8d 227.5px,#7d7d7d 228.5px,#696969 229.5px,#575757 230.25px,#414141 231px,#303030 231.5px,#0f0f0f 232.25px,#050505 232.5px,#010101 232.75px,#000000 233px,#010101 233.75px,#080808 234px,#2f2f2f 234.75px,#454545 235.25px,#5e5e5e 236px,#727272 236.75px,#838383 237.5px,#919191 238.25px,#aaaaaa 240px,#bebebe 242px,#cecece 244.25px,#dadada 246.75px,#e4e4e4 249.75px,#ebebeb 253.25px,#f1f1f1 257.75px,#f8f8f8 270px,#fcfcfc 300px,#fdfdfd 328.25px,#f8f8f8 328.5px,#f8f8f8 329.25px,#fdfdfd 329.5px,#fdfdfd 330px,#fdfdfd 360px,#fbfbfb 390px,#f8f8f8 420px,#f5f5f5 450px,#f2f2f2 480px,#ececec 510px,#e4e4e4 540px,#d8d8d8 570px,#cacaca 600px,#bababa 629px)"></i><i style="left:292px;background:linear-gradient(#ffffff 0px,#ffffff 30px,#fefefe 60px,#fefefe 90px,#fefefe 120px,#fdfdfd 150px,#fafafa 180px,#f4f4f4 198.5px,#f0f0f0 205px,#e9e9e9 210px,#dfdfdf 214.75px,#d1d1d1 218.75px,#bfbfbf 222px,#a7a7a7 224.75px,#999999 226px,#8b8b8b 227px,#7b7b7b 228px,#666666 229px,#545454 229.75px,#3d3d3d 230.5px,#2b2b2b 231px,#090909 231.75px,#030303 232px,#000000 232.25px,#000000 233px,#040404 233.25px,#0e0e0e 233.5px,#2a2a2a 234px,#363636 234.25px,#4a4a4a 234.75px,#626262 235.5px,#767676 236.25px,#868686 237px,#979797 238px,#a6a6a6 239px,#b2b2b2 240px,#c4c4c4 242px,#d2d2d2 244.25px,#dddddd 246.75px,#e6e6e6 249.75px,#ececec 253.25px,#f1f1f1 257.75px,#f8f8f8 270px,#fcfcfc 300px,#fdfdfd 330px,#fdfdfd 360px,#fbfbfb 390px,#f8f8f8 420px,#f5f5f5 450px,#f2f2f2 480px,#ececec 510px,#e4e4e4 540px,#d8d8d8 570px,#cacaca 600px,#bababa 629px)"></i><i style="left:294px;background:linear-gradient(#ffffff 0px,#ffffff 30px,#fefefe 60px,#fefefe 90px,#fefefe 120px,#fdfdfd 150px,#fafafa 180px,#f4f4f4 198.75px,#efefef 205px,#e8e8e8 210px,#dedede 214.75px,#d0d0d0 218.5px,#bebebe 221.5px,#a6a6a6 224.25px,#989898 225.5px,#8a8a8a 226.5px,#797979 227.5px,#696969 228.25px,#575757 229px,#424242 229.75px,#303030 230.25px,#0e0e0e 231px,#050505 231.25px,#010101 231.5px,#000000 231.75px,#010101 232.5px,#080808 232.75px,#313131 233.5px,#464646 234px,#5f5f5f 234.75px,#797979 235.75px,#8d8d8d 236.75px,#9e9e9e 237.75px,#ababab 238.75px,#b8b8b8 240px,#c9c9c9 242px,#d6d6d6 244.25px,#dfdfdf 246.75px,#e7e7e7 249.75px,#ededed 253.25px,#f2f2f2 257.75px,#f8f8f8 270px,#fcfcfc 300px,#fdfdfd 330px,#fdfdfd 360px,#fbfbfb 390px,#f8f8f8 420px,#f5f5f5 450px,#f2f2f2 480px,#ececec 510px,#e4e4e4 540px,#d8d8d8 570px,#cacaca 600px,#bababa 629px)"></i><i style="left:296px;background:linear-gradient(#ffffff 0px,#ffffff 30px,#fefefe 60px,#fefefe 90px,#fefefe 120px,#fdfdfd 150px,#fafafa 180px,#f4f4f4 198.75px,#efefef 205px,#e7e7e7 210px,#dddddd 214.5px,#cfcfcf 218px,#bebebe 221px,#b2b2b2 222.5px,#a5a5a5 223.75px,#969696 225px,#888888 226px,#767676 227px,#676767 227.75px,#545454 228.5px,#3e3e3e 229.25px,#2b2b2b 229.75px,#090909 230.5px,#020202 230.75px,#000000 231px,#000000 231.75px,#040404 232px,#0f0f0f 232.25px,#2b2b2b 232.75px,#373737 233px,#4b4b4b 233.5px,#6a6a6a 234.5px,#828282 235.5px,#949494 236.5px,#a3a3a3 237.5px,#b2b2b2 238.75px,#bebebe 240px,#cdcdcd 242px,#d9d9d9 244.25px,#e2e2e2 246.75px,#e9e9e9 249.75px,#f3f3f3 257.75px,#f8f8f8 270px,#fcfcfc 300px,#fdfdfd 330px,#fdfdfd 360px,#fbfbfb 390px,#f8f8f8 420px,#f5f5f5 450px,#f2f2f2 480px,#ececec 510px,#e4e4e4 540px,#d8d8d8 570px,#cacaca 600px,#bababa 629px)"></i><i style="left:298px;background:linear-gradient(#ffffff 0px,#ffffff 30px,#fefefe 60px,#fefefe 90px,#fefefe 120px,#fdfdfd 150px,#fafafa 180px,#f3f3f3 198.75px,#eeeeee 205px,#e6e6e6 210px,#dcdcdc 214.25px,#cecece 217.75px,#bbbbbb 220.75px,#a4a4a4 223.25px,#8a8a8a 225.25px,#797979 226.25px,#6a6a6a 227px,#585858 227.75px,#424242 228.5px,#303030 229px,#0e0e0e 229.75px,#050505 230px,#010101 230.25px,#000000 230.5px,#020202 231.25px,#090909 231.5px,#323232 232.25px,#505050 233px,#6e6e6e 234px,#858585 235px,#979797 236px,#a9a9a9 237.25px,#b7b7b7 238.5px,#c4c4c4 240px,#d1d1d1 242px,#dbdbdb 244.25px,#e4e4e4 246.75px,#eaeaea 249.75px,#f3f3f3 257.75px,#f9f9f9 270px,#fcfcfc 300px,#fdfdfd 330px,#fdfdfd 360px,#fbfbfb 390px,#f8f8f8 420px,#f5f5f5 450px,#f2f2f2 480px,#ececec 510px,#e4e4e4 540px,#d8d8d8 570px,#cacaca 600px,#b9b9b9 629px)"></i><i style="left:300px;background:linear-gradient(#ffffff 0px,#ffffff 30px,#fefefe 60px,#fefefe 90px,#fefefe 120px,#fdfdfd 150px,#fafafa 180px,#f3f3f3 198.75px,#ededed 205px,#e5e5e5 210px,#dbdbdb 214px,#cccccc 217.5px,#b8b8b8 220.5px,#a0a0a0 223px,#939393 224px,#848484 225px,#727272 226px,#616161 226.75px,#4d4d4d 227.5px,#3e3e3e 228px,#2b2b2b 228.5px,#090909 229.25px,#020202 229.5px,#000000 229.75px,#000000 230.5px,#050505 230.75px,#101010 231px,#2c2c2c 231.5px,#383838 231.75px,#4c4c4c 232.25px,#6b6b6b 233.25px,#888888 234.5px,#9d9d9d 235.75px,#aeaeae 237px,#bdbdbd 238.5px,#c9c9c9 240px,#d5d5d5 242px,#dedede 244.25px,#e6e6e6 247px,#ececec 250px,#f4f4f4 258px,#f9f9f9 270px,#fcfcfc 300px,#fdfdfd 330px,#fdfdfd 360px,#fbfbfb 390px,#f8f8f8 420px,#f5f5f5 450px,#f2f2f2 480px,#ececec 510px,#e4e4e4 540px,#d8d8d8 570px,#cacaca 600px,#b9b9b9 629px)"></i><i style="left:302px;background:linear-gradient(#ffffff 0px,#ffffff 30px,#fefefe 60px,#fefefe 90px,#fefefe 120px,#fdfdfd 150px,#fafafa 180px,#f3f3f3 198.75px,#ededed 205px,#e4e4e4 210px,#d9d9d9 214px,#cacaca 217.25px,#b8b8b8 220px,#9f9f9f 222.5px,#929292 223.5px,#828282 224.5px,#646464 226px,#515151 226.75px,#393939 227.5px,#252525 228px,#0e0e0e 228.5px,#050505 228.75px,#010101 229px,#000000 229.25px,#020202 230px,#0a0a0a 230.25px,#333333 231px,#515151 231.75px,#6f6f6f 232.75px,#8b8b8b 234px,#9f9f9f 235.25px,#b2b2b2 236.75px,#c1c1c1 238.25px,#cdcdcd 240px,#d8d8d8 242px,#e0e0e0 244.25px,#e8e8e8 247px,#ededed 250px,#f5f5f5 258px,#f9f9f9 270px,#fcfcfc 300px,#fdfdfd 330px,#fdfdfd 360px,#fbfbfb 390px,#f8f8f8 420px,#f5f5f5 450px,#f2f2f2 480px,#ececec 510px,#e4e4e4 540px,#d8d8d8 570px,#cacaca 600px,#b9b9b9 629px)"></i><i style="left:304px;background:linear-gradient(#ffffff 0px,#ffffff 30px,#fefefe 60px,#fefefe 90px,#fefefe 120px,#fdfdfd 150px,#fafafa 180px,#f7f7f7 191px,#f2f2f2 199px,#ececec 205.25px,#e3e3e3 210px,#d8d8d8 213.75px,#c8c8c8 217px,#b5b5b5 219.75px,#9e9e9e 222px,#858585 223.75px,#676767 225.25px,#555555 226px,#3e3e3e 226.75px,#2b2b2b 227.25px,#090909 228px,#020202 228.25px,#000000 228.75px,#000000 229.25px,#050505 229.5px,#111111 229.75px,#2e2e2e 230.25px,#393939 230.5px,#565656 231.25px,#737373 232.25px,#8e8e8e 233.5px,#a2a2a2 234.75px,#b4b4b4 236.25px,#c4c4c4 238px,#d1d1d1 240px,#dbdbdb 242px,#e2e2e2 244.25px,#eeeeee 250px,#f5f5f5 258px,#f9f9f9 270px,#fcfcfc 300px,#fdfdfd 330px,#fdfdfd 360px,#fbfbfb 390px,#f8f8f8 420px,#f5f5f5 450px,#f2f2f2 480px,#ececec 510px,#e4e4e4 540px,#d8d8d8 570px,#cacaca 600px,#b9b9b9 629px)"></i><i style="left:306px;background:linear-gradient(#ffffff 0px,#ffffff 30px,#fefefe 60px,#fefefe 90px,#fefefe 120px,#fdfdfd 150px,#fafafa 180px,#f6f6f6 191px,#f2f2f2 199px,#ebebeb 205.25px,#e2e2e2 210px,#d6d6d6 213.5px,#c8c8c8 216.5px,#b4b4b4 219.25px,#9c9c9c 221.5px,#838383 223.25px,#757575 224px,#656565 224.75px,#515151 225.5px,#393939 226.25px,#252525 226.75px,#0e0e0e 227.25px,#050505 227.5px,#010101 227.75px,#000000 228px,#000000 228.5px,#020202 228.75px,#0b0b0b 229px,#343434 229.75px,#525252 230.5px,#626262 231px,#767676 231.75px,#909090 233px,#a7a7a7 234.5px,#b8b8b8 236px,#c7c7c7 237.75px,#d5d5d5 240px,#dddddd 242px,#e4e4e4 244.25px,#efefef 250px,#f5f5f5 258px,#fafafa 270px,#fcfcfc 300px,#fdfdfd 330px,#fdfdfd 360px,#fbfbfb 390px,#f8f8f8 420px,#f5f5f5 450px,#f2f2f2 480px,#ececec 510px,#e4e4e4 540px,#d8d8d8 570px,#cacaca 600px,#b9b9b9 629px)"></i><i style="left:308px;background:linear-gradient(#ffffff 0px,#ffffff 30px,#fefefe 60px,#fefefe 90px,#fefefe 120px,#fdfdfd 150px,#fafafa 180px,#f6f6f6 191px,#f1f1f1 199px,#eaeaea 205.25px,#e0e0e0 210px,#d4d4d4 213.5px,#c6c6c6 216.25px,#b3b3b3 218.75px,#9b9b9b 221px,#818181 222.75px,#737373 223.5px,#626262 224.25px,#4e4e4e 225px,#3e3e3e 225.5px,#2b2b2b 226px,#090909 226.75px,#020202 227px,#000000 227.5px,#010101 228px,#060606 228.25px,#2f2f2f 229px,#3b3b3b 229.25px,#575757 230px,#676767 230.5px,#7a7a7a 231.25px,#939393 232.5px,#aaaaaa 234px,#bdbdbd 235.75px,#cccccc 237.75px,#d8d8d8 240px,#e0e0e0 242px,#e7e7e7 244.5px,#f0f0f0 250.25px,#f6f6f6 258.25px,#fafafa 270px,#fdfdfd 300px,#fdfdfd 330px,#fdfdfd 360px,#fbfbfb 390px,#f8f8f8 420px,#f5f5f5 450px,#f2f2f2 480px,#ececec 510px,#e4e4e4 540px,#d8d8d8 570px,#c9c9c9 600px,#b9b9b9 629px)"></i><i style="left:310px;background:linear-gradient(#ffffff 0px,#ffffff 30px,#fefefe 60px,#fefefe 90px,#fefefe 120px,#fdfdfd 150px,#fafafa 180px,#f6f6f6 191px,#f1f1f1 199px,#e9e9e9 205.25px,#dfdfdf 210px,#d3d3d3 213.25px,#c4c4c4 216px,#b0b0b0 218.5px,#9a9a9a 220.5px,#7f7f7f 222.25px,#717171 223px,#5f5f5f 223.75px,#4b4b4b 224.5px,#3a3a3a 225px,#262626 225.5px,#0e0e0e 226px,#050505 226.25px,#010101 226.5px,#000000 226.75px,#000000 227.25px,#030303 227.5px,#0c0c0c 227.75px,#292929 228.25px,#363636 228.5px,#4b4b4b 229px,#5c5c5c 229.5px,#6b6b6b 230px,#7e7e7e 230.75px,#969696 232px,#afafaf 233.75px,#c0c0c0 235.5px,#cfcfcf 237.5px,#dbdbdb 240px,#e8e8e8 244.5px,#f1f1f1 250.25px,#f6f6f6 258.25px,#fafafa 270px,#fdfdfd 300px,#fdfdfd 330px,#fdfdfd 360px,#fbfbfb 390px,#f8f8f8 420px,#f5f5f5 450px,#f2f2f2 480px,#ececec 510px,#e4e4e4 540px,#d8d8d8 570px,#c9c9c9 600px,#b9b9b9 629px)"></i><i style="left:312px;background:linear-gradient(#ffffff 0px,#ffffff 30px,#fefefe 60px,#fefefe 90px,#fefefe 120px,#fdfdfd 150px,#f9f9f9 180px,#f6f6f6 191px,#f1f1f1 199px,#e8e8e8 205.25px,#dddddd 210px,#d2d2d2 213px,#c2c2c2 215.75px,#b0b0b0 218px,#999999 220px,#828282 221.5px,#696969 222.75px,#565656 223.5px,#3f3f3f 224.25px,#2b2b2b 224.75px,#090909 225.5px,#020202 225.75px,#000000 226.5px,#010101 226.75px,#070707 227px,#313131 227.75px,#3c3c3c 228px,#505050 228.5px,#616161 229px,#6f6f6f 229.5px,#818181 230.25px,#999999 231.5px,#b1b1b1 233.25px,#c4c4c4 235.25px,#d3d3d3 237.5px,#dedede 240px,#eaeaea 244.5px,#f2f2f2 250.25px,#f7f7f7 258.25px,#fafafa 270px,#fdfdfd 300px,#fdfdfd 330px,#fdfdfd 360px,#fbfbfb 390px,#f8f8f8 420px,#f5f5f5 450px,#f2f2f2 480px,#ececec 510px,#e4e4e4 540px,#d8d8d8 570px,#c9c9c9 600px,#b8b8b8 629px)"></i><i style="left:314px;background:linear-gradient(#ffffff 0px,#ffffff 30px,#fefefe 60px,#fefefe 90px,#fefefe 120px,#fdfdfd 150px,#f9f9f9 180px,#f6f6f6 191.25px,#f0f0f0 199.25px,#e7e7e7 205.25px,#dbdbdb 210px,#cfcfcf 213px,#c0c0c0 215.5px,#acacac 217.75px,#949494 219.75px,#7b7b7b 221.25px,#606060 222.5px,#4b4b4b 223.25px,#3a3a3a 223.75px,#262626 224.25px,#0e0e0e 224.75px,#050505 225px,#010101 225.25px,#000000 225.75px,#000000 226px,#030303 226.25px,#0e0e0e 226.5px,#2b2b2b 227px,#424242 227.5px,#555555 228px,#656565 228.5px,#737373 229px,#858585 229.75px,#9b9b9b 231px,#b3b3b3 232.75px,#c6c6c6 234.75px,#d5d5d5 237.25px,#e1e1e1 240px,#ebebeb 244.5px,#f2f2f2 250.25px,#f7f7f7 258.25px,#fafafa 270px,#fdfdfd 300px,#fdfdfd 330px,#fdfdfd 360px,#fbfbfb 390px,#f8f8f8 420px,#f5f5f5 450px,#f2f2f2 480px,#ececec 510px,#e4e4e4 540px,#d8d8d8 570px,#c9c9c9 600px,#b8b8b8 629px)"></i><i style="left:316px;background:linear-gradient(#ffffff 0px,#ffffff 30px,#fefefe 60px,#fefefe 90px,#fefefe 120px,#fdfdfd 150px,#f9f9f9 180px,#f5f5f5 191.25px,#efefef 199.25px,#e6e6e6 205.25px,#d9d9d9 210px,#cdcdcd 212.75px,#bdbdbd 215.25px,#a9a9a9 217.5px,#939393 219.25px,#838383 220.25px,#747474 221px,#565656 222.25px,#474747 222.75px,#363636 223.25px,#090909 224.25px,#020202 224.5px,#000000 225.25px,#010101 225.5px,#080808 225.75px,#252525 226.25px,#3e3e3e 226.75px,#525252 227.25px,#626262 227.75px,#717171 228.25px,#838383 229px,#9e9e9e 230.5px,#b5b5b5 232.25px,#c9c9c9 234.5px,#d8d8d8 237px,#e3e3e3 240px,#ededed 244.5px,#f3f3f3 250.5px,#f8f8f8 258.5px,#fafafa 270px,#fdfdfd 300px,#fefefe 330px,#fdfdfd 360px,#fbfbfb 390px,#f8f8f8 420px,#f5f5f5 450px,#f2f2f2 480px,#ececec 510px,#e4e4e4 540px,#d8d8d8 570px,#c9c9c9 600px,#b8b8b8 629px)"></i><i style="left:318px;background:linear-gradient(#ffffff 0px,#ffffff 30px,#fefefe 60px,#fefefe 90px,#fefefe 120px,#fdfdfd 150px,#f9f9f9 180px,#f5f5f5 191.25px,#efefef 199.25px,#e5e5e5 205.25px,#d7d7d7 210px,#cacaca 212.75px,#bbbbbb 215px,#a8a8a8 217px,#919191 218.75px,#7c7c7c 220px,#616161 221.25px,#4c4c4c 222px,#3b3b3b 222.5px,#262626 223px,#0e0e0e 223.5px,#040404 223.75px,#010101 224px,#000000 224.5px,#000000 224.75px,#040404 225px,#0f0f0f 225.25px,#2c2c2c 225.75px,#393939 226px,#4e4e4e 226.5px,#676767 227.25px,#757575 227.75px,#868686 228.5px,#a1a1a1 230px,#aeaeae 231px,#b9b9b9 232px,#cccccc 234.25px,#dadada 236.75px,#e5e5e5 240px,#eeeeee 244.5px,#f4f4f4 250.5px,#f8f8f8 258.5px,#fbfbfb 270px,#fdfdfd 300px,#fefefe 330px,#fdfdfd 360px,#fbfbfb 390px,#f8f8f8 420px,#f5f5f5 450px,#f2f2f2 480px,#ececec 510px,#e4e4e4 540px,#d8d8d8 570px,#c9c9c9 600px,#b8b8b8 629px)"></i><i style="left:320px;background:linear-gradient(#ffffff 0px,#ffffff 30px,#fefefe 60px,#fefefe 90px,#fefefe 120px,#fdfdfd 150px,#f9f9f9 180px,#f5f5f5 191.5px,#eeeeee 199.5px,#e4e4e4 205.5px,#d5d5d5 210px,#c8c8c8 212.5px,#b8b8b8 214.75px,#a7a7a7 216.5px,#909090 218.25px,#757575 219.75px,#575757 221px,#484848 221.5px,#363636 222px,#080808 223px,#020202 223.25px,#000000 224px,#010101 224.25px,#090909 224.5px,#262626 225px,#3f3f3f 225.5px,#535353 226px,#646464 226.5px,#727272 227px,#848484 227.75px,#939393 228.5px,#a3a3a3 229.5px,#bbbbbb 231.5px,#cdcdcd 233.75px,#dcdcdc 236.5px,#e7e7e7 240px,#efefef 244.5px,#f4f4f4 250.5px,#fbfbfb 270px,#fdfdfd 300px,#fefefe 330px,#fdfdfd 360px,#fbfbfb 390px,#f8f8f8 420px,#f5f5f5 450px,#f2f2f2 480px,#ececec 510px,#e4e4e4 540px,#d8d8d8 570px,#c9c9c9 600px,#b8b8b8 629px)"></i><i style="left:322px;background:linear-gradient(#ffffff 0px,#ffffff 30px,#fefefe 60px,#fefefe 90px,#fefefe 120px,#fdfdfd 150px,#f9f9f9 180px,#f5f5f5 191.5px,#ededed 199.5px,#e2e2e2 205.5px,#d3d3d3 210px,#c6c6c6 212.25px,#b7b7b7 214.25px,#a6a6a6 216px,#8e8e8e 217.75px,#737373 219.25px,#545454 220.5px,#444444 221px,#313131 221.5px,#0e0e0e 222.25px,#040404 222.5px,#010101 222.75px,#000000 223.25px,#000000 223.5px,#040404 223.75px,#101010 224px,#2e2e2e 224.5px,#3a3a3a 224.75px,#4f4f4f 225.25px,#686868 226px,#767676 226.5px,#878787 227.25px,#969696 228px,#a6a6a6 229px,#bdbdbd 231px,#d0d0d0 233.5px,#dfdfdf 236.5px,#e9e9e9 240px,#f0f0f0 244.75px,#f5f5f5 250.75px,#fbfbfb 270px,#fdfdfd 300px,#fefefe 330px,#fdfdfd 360px,#fbfbfb 390px,#f8f8f8 420px,#f5f5f5 450px,#f2f2f2 480px,#ececec 510px,#e4e4e4 540px,#d8d8d8 570px,#c9c9c9 600px,#b8b8b8 629px)"></i><i style="left:324px;background:linear-gradient(#ffffff 0px,#ffffff 30px,#fefefe 60px,#fefefe 90px,#fefefe 120px,#fdfdfd 150px,#f9f9f9 180px,#f4f4f4 191.5px,#ededed 199.5px,#e1e1e1 205.5px,#d9d9d9 208px,#d0d0d0 210px,#c4c4c4 212px,#b4b4b4 214px,#a2a2a2 215.75px,#8d8d8d 217.25px,#717171 218.75px,#5f5f5f 219.5px,#505050 220px,#373737 220.75px,#080808 221.75px,#020202 222px,#000000 222.75px,#010101 223px,#0a0a0a 223.25px,#282828 223.75px,#414141 224.25px,#555555 224.75px,#6d6d6d 225.5px,#7a7a7a 226px,#8b8b8b 226.75px,#999999 227.5px,#a8a8a8 228.5px,#b5b5b5 229.5px,#c1c1c1 230.75px,#d3d3d3 233.25px,#e0e0e0 236.25px,#eaeaea 240px,#f1f1f1 244.75px,#f6f6f6 250.75px,#fbfbfb 270px,#fdfdfd 300px,#fcfcfc 316.5px,#fefefe 317.5px,#fefefe 330px,#fefefe 360px,#fcfcfc 390px,#f9f9f9 420px,#f5f5f5 450px,#f2f2f2 480px,#ececec 510px,#e4e4e4 540px,#d8d8d8 570px,#c9c9c9 600px,#b8b8b8 629px)"></i><i style="left:326px;background:linear-gradient(#ffffff 0px,#ffffff 30px,#fefefe 60px,#fefefe 90px,#fefefe 120px,#fdfdfd 150px,#f9f9f9 180px,#f4f4f4 191.5px,#ececec 199.5px,#e0e0e0 205.5px,#d7d7d7 208px,#cdcdcd 210px,#c0c0c0 212px,#afafaf 214px,#9e9e9e 215.5px,#878787 217px,#6e6e6e 218.25px,#5b5b5b 219px,#4d4d4d 219.5px,#323232 220.25px,#0e0e0e 221px,#040404 221.25px,#010101 221.5px,#000000 222px,#000000 222.25px,#050505 222.5px,#121212 222.75px,#303030 223.25px,#474747 223.75px,#5a5a5a 224.25px,#717171 225px,#838383 225.75px,#939393 226.5px,#9f9f9f 227.25px,#aeaeae 228.25px,#b9b9b9 229.25px,#c5c5c5 230.5px,#d5d5d5 233px,#e2e2e2 236px,#ebebeb 240px,#f2f2f2 244.75px,#f6f6f6 250.75px,#fbfbfb 270px,#fdfdfd 300px,#fdfdfd 315.25px,#fbfbfb 315.75px,#fefefe 317px,#fefefe 330px,#fefefe 360px,#fcfcfc 390px,#f9f9f9 420px,#f5f5f5 450px,#f2f2f2 480px,#ececec 510px,#e4e4e4 540px,#d8d8d8 570px,#c9c9c9 600px,#b8b8b8 629px)"></i><i style="left:328px;background:linear-gradient(#ffffff 0px,#ffffff 30px,#fefefe 60px,#fefefe 90px,#fefefe 120px,#fdfdfd 150px,#f9f9f9 180px,#f3f3f3 191.75px,#ebebeb 199.75px,#dedede 205.5px,#d4d4d4 208px,#cacaca 210px,#bebebe 211.75px,#aeaeae 213.5px,#9c9c9c 215px,#858585 216.5px,#6c6c6c 217.75px,#515151 218.75px,#373737 219.5px,#080808 220.5px,#020202 220.75px,#000000 221.5px,#020202 221.75px,#0b0b0b 222px,#2a2a2a 222.5px,#424242 223px,#565656 223.5px,#6e6e6e 224.25px,#818181 225px,#919191 225.75px,#9e9e9e 226.5px,#adadad 227.5px,#b8b8b8 228.5px,#c4c4c4 229.75px,#d7d7d7 232.5px,#e3e3e3 235.75px,#ededed 240px,#f3f3f3 244.75px,#f7f7f7 250.75px,#fbfbfb 270px,#fdfdfd 300px,#fdfdfd 314.75px,#fafafa 315.25px,#fafafa 315.75px,#fefefe 316.25px,#fefefe 330px,#fefefe 360px,#fcfcfc 390px,#f9f9f9 420px,#f5f5f5 450px,#f2f2f2 480px,#ececec 510px,#e4e4e4 540px,#d8d8d8 570px,#c9c9c9 600px,#b7b7b7 629px)"></i><i style="left:330px;background:linear-gradient(#ffffff 0px,#ffffff 30px,#fefefe 60px,#fefefe 90px,#fefefe 120px,#fdfdfd 150px,#f9f9f9 180px,#f3f3f3 191.75px,#eaeaea 199.75px,#e4e4e4 202.75px,#dcdcdc 205.5px,#d2d2d2 208px,#c6c6c6 210px,#b9b9b9 211.75px,#aaaaaa 213.25px,#989898 214.75px,#838383 216px,#696969 217.25px,#4d4d4d 218.25px,#323232 219px,#0e0e0e 219.75px,#040404 220px,#000000 220.25px,#000000 220.75px,#000000 221px,#060606 221.25px,#313131 222px,#494949 222.5px,#5b5b5b 223px,#727272 223.75px,#858585 224.5px,#949494 225.25px,#a1a1a1 226px,#afafaf 227px,#bdbdbd 228.25px,#c8c8c8 229.5px,#d9d9d9 232.25px,#e5e5e5 235.75px,#eeeeee 240px,#f3f3f3 244.75px,#f7f7f7 251px,#fbfbfb 270px,#fdfdfd 300px,#fdfdfd 314px,#fdfdfd 314.25px,#f8f8f8 314.5px,#f9f9f9 315.25px,#fefefe 315.5px,#fefefe 330px,#fefefe 360px,#fcfcfc 390px,#f9f9f9 420px,#f5f5f5 450px,#f2f2f2 480px,#ececec 510px,#e4e4e4 540px,#d8d8d8 570px,#c9c9c9 600px,#b7b7b7 629px)"></i><i style="left:332px;background:linear-gradient(#ffffff 0px,#ffffff 30px,#fefefe 60px,#fefefe 90px,#fefefe 120px,#fdfdfd 150px,#f9f9f9 180px,#f3f3f3 191.75px,#e9e9e9 199.75px,#e3e3e3 202.75px,#dadada 205.5px,#cfcfcf 208px,#c2c2c2 210px,#b6b6b6 211.5px,#a7a7a7 213px,#969696 214.25px,#818181 215.5px,#666666 216.75px,#4a4a4a 217.75px,#2d2d2d 218.5px,#080808 219.25px,#020202 219.5px,#000000 220.25px,#020202 220.5px,#0c0c0c 220.75px,#2b2b2b 221.25px,#444444 221.75px,#585858 222.25px,#707070 223px,#838383 223.75px,#929292 224.5px,#a3a3a3 225.5px,#b1b1b1 226.5px,#bfbfbf 227.75px,#c9c9c9 229px,#dadada 231.75px,#e6e6e6 235.25px,#efefef 240px,#f4f4f4 244.75px,#f7f7f7 251px,#fcfcfc 270px,#fdfdfd 300px,#fdfdfd 313.25px,#fdfdfd 313.5px,#f6f6f6 313.75px,#f6f6f6 314.5px,#fefefe 314.75px,#fefefe 330px,#fefefe 360px,#fcfcfc 390px,#f9f9f9 420px,#f5f5f5 450px,#f2f2f2 480px,#ececec 510px,#e4e4e4 540px,#d8d8d8 570px,#c9c9c9 600px,#b7b7b7 629px)"></i><i style="left:334px;background:linear-gradient(#ffffff 0px,#ffffff 30px,#fefefe 60px,#fefefe 90px,#fefefe 120px,#fdfdfd 150px,#f8f8f8 180px,#f2f2f2 191.75px,#e8e8e8 199.75px,#e1e1e1 202.75px,#d8d8d8 205.5px,#cccccc 208px,#bebebe 210px,#b1b1b1 211.5px,#9f9f9f 213px,#8d8d8d 214.25px,#7b7b7b 215.25px,#636363 216.25px,#464646 217.25px,#323232 217.75px,#0e0e0e 218.5px,#040404 218.75px,#000000 219px,#000000 219.5px,#010101 219.75px,#070707 220px,#252525 220.5px,#3f3f3f 221px,#5d5d5d 221.75px,#747474 222.5px,#868686 223.25px,#959595 224px,#a6a6a6 225px,#b3b3b3 226px,#c0c0c0 227.25px,#cbcbcb 228.5px,#dcdcdc 231.5px,#e8e8e8 235.25px,#f0f0f0 240px,#f8f8f8 251px,#fcfcfc 270px,#fdfdfd 300px,#fdfdfd 312.5px,#fdfdfd 312.75px,#f3f3f3 313px,#f3f3f3 313.25px,#f4f4f4 313.75px,#fefefe 314px,#fefefe 314.25px,#fefefe 330px,#fefefe 360px,#fcfcfc 390px,#f9f9f9 420px,#f6f6f6 450px,#f2f2f2 480px,#ececec 510px,#e4e4e4 540px,#d8d8d8 570px,#c9c9c9 600px,#b7b7b7 629px)"></i><i style="left:336px;background:linear-gradient(#ffffff 0px,#ffffff 30px,#fefefe 60px,#fefefe 90px,#fefefe 120px,#fdfdfd 150px,#f8f8f8 180px,#f2f2f2 192px,#ededed 196.25px,#e7e7e7 200px,#dfdfdf 203px,#d5d5d5 205.75px,#c8c8c8 208px,#b9b9b9 210px,#adadad 211.25px,#9e9e9e 212.5px,#8b8b8b 213.75px,#787878 214.75px,#616161 215.75px,#4a4a4a 216.5px,#2d2d2d 217.25px,#080808 218px,#010101 218.25px,#000000 219px,#030303 219.25px,#0e0e0e 219.5px,#2d2d2d 220px,#3a3a3a 220.25px,#505050 220.75px,#626262 221.25px,#717171 221.75px,#848484 222.5px,#989898 223.5px,#a8a8a8 224.5px,#b5b5b5 225.5px,#c2c2c2 226.75px,#cccccc 228px,#dddddd 231px,#e9e9e9 235px,#f1f1f1 240px,#f8f8f8 251px,#fcfcfc 270px,#fdfdfd 300px,#fdfdfd 311.75px,#fdfdfd 312px,#f2f2f2 312.25px,#f1f1f1 312.5px,#f1f1f1 313px,#fdfdfd 313.25px,#fefefe 313.5px,#fefefe 330px,#fefefe 360px,#fcfcfc 390px,#f9f9f9 420px,#f6f6f6 450px,#f2f2f2 480px,#ededed 510px,#e4e4e4 540px,#d8d8d8 570px,#c8c8c8 600px,#b7b7b7 629px)"></i><i style="left:338px;background:linear-gradient(#ffffff 0px,#ffffff 30px,#fefefe 60px,#fefefe 90px,#fefefe 120px,#fdfdfd 150px,#f8f8f8 180px,#f1f1f1 192px,#ececec 196.5px,#e6e6e6 200px,#dddddd 203px,#d2d2d2 205.75px,#c5c5c5 208px,#b4b4b4 210px,#a6a6a6 211.25px,#999999 212.25px,#8a8a8a 213.25px,#767676 214.25px,#5d5d5d 215.25px,#464646 216px,#333333 216.5px,#0d0d0d 217.25px,#040404 217.5px,#000000 217.75px,#000000 218.25px,#010101 218.5px,#070707 218.75px,#272727 219.25px,#414141 219.75px,#5f5f5f 220.5px,#757575 221.25px,#888888 222px,#9b9b9b 223px,#ababab 224px,#b7b7b7 225px,#c4c4c4 226.25px,#cecece 227.5px,#d7d7d7 229px,#dfdfdf 230.75px,#eaeaea 234.75px,#f2f2f2 240px,#f8f8f8 251px,#fcfcfc 270px,#fdfdfd 300px,#fdfdfd 311.25px,#f8f8f8 311.5px,#eeeeee 311.75px,#efefef 312.25px,#f4f4f4 312.5px,#fefefe 312.75px,#fefefe 330px,#fefefe 360px,#fcfcfc 390px,#f9f9f9 420px,#f6f6f6 450px,#f2f2f2 480px,#ededed 510px,#e4e4e4 540px,#d8d8d8 570px,#c8c8c8 600px,#b7b7b7 629px)"></i><i style="left:340px;background:linear-gradient(#ffffff 0px,#ffffff 30px,#fefefe 60px,#fefefe 90px,#fefefe 120px,#fdfdfd 150px,#f8f8f8 180px,#f1f1f1 192px,#ebebeb 196.5px,#e4e4e4 200px,#dbdbdb 203px,#cfcfcf 205.75px,#c0c0c0 208px,#aeaeae 210px,#949494 212px,#838383 213px,#747474 213.75px,#5a5a5a 214.75px,#424242 215.5px,#2d2d2d 216px,#080808 216.75px,#010101 217px,#000000 217.75px,#030303 218px,#0f0f0f 218.25px,#2f2f2f 218.75px,#474747 219.25px,#5b5b5b 219.75px,#737373 220.5px,#868686 221.25px,#9a9a9a 222.25px,#aaaaaa 223.25px,#b9b9b9 224.5px,#c5c5c5 225.75px,#cfcfcf 227px,#e0e0e0 230.25px,#ebebeb 234.5px,#f3f3f3 240px,#f9f9f9 251.25px,#fcfcfc 270px,#fdfdfd 300px,#fdfdfd 310.5px,#fbfbfb 310.75px,#ececec 311px,#ececec 311.5px,#efefef 311.75px,#fefefe 312px,#fefefe 312.25px,#fefefe 330px,#fefefe 360px,#fcfcfc 390px,#f9f9f9 420px,#f6f6f6 450px,#f2f2f2 480px,#ededed 510px,#e4e4e4 540px,#d8d8d8 570px,#c8c8c8 600px,#b7b7b7 629px)"></i><i style="left:342px;background:linear-gradient(#ffffff 0px,#ffffff 30px,#fefefe 60px,#fefefe 90px,#fefefe 120px,#fdfdfd 150px,#f8f8f8 180px,#f0f0f0 192.25px,#eaeaea 196.75px,#e2e2e2 200.25px,#d8d8d8 203.25px,#cccccc 205.75px,#bcbcbc 208px,#a7a7a7 210px,#8f8f8f 211.75px,#818181 212.5px,#717171 213.25px,#5e5e5e 214px,#464646 214.75px,#333333 215.25px,#0d0d0d 216px,#040404 216.25px,#000000 216.5px,#000000 217px,#010101 217.25px,#090909 217.5px,#282828 218px,#434343 218.5px,#606060 219.25px,#777777 220px,#898989 220.75px,#9d9d9d 221.75px,#acacac 222.75px,#bbbbbb 224px,#c7c7c7 225.25px,#d2d2d2 226.75px,#e1e1e1 230px,#ececec 234.25px,#f3f3f3 240px,#f9f9f9 251.25px,#fcfcfc 270px,#fdfdfd 300px,#fdfdfd 309.75px,#fbfbfb 310px,#e9e9e9 310.25px,#e9e9e9 310.5px,#ebebeb 311px,#fdfdfd 311.25px,#fefefe 311.5px,#fefefe 330px,#fefefe 360px,#fcfcfc 390px,#f9f9f9 420px,#f6f6f6 450px,#f2f2f2 480px,#ededed 510px,#e4e4e4 540px,#d7d7d7 570px,#c8c8c8 600px,#b7b7b7 629px)"></i><i style="left:344px;background:linear-gradient(#ffffff 0px,#ffffff 30px,#fefefe 60px,#fefefe 90px,#fefefe 120px,#fdfdfd 150px,#f8f8f8 180px,#f0f0f0 192.25px,#e9e9e9 196.75px,#e1e1e1 200.25px,#d6d6d6 203.25px,#c8c8c8 205.75px,#b6b6b6 208px,#a0a0a0 210px,#898989 211.5px,#6f6f6f 212.75px,#5b5b5b 213.5px,#424242 214.25px,#2e2e2e 214.75px,#080808 215.5px,#010101 215.75px,#000000 216.5px,#040404 216.75px,#111111 217px,#303030 217.5px,#3d3d3d 217.75px,#535353 218.25px,#656565 218.75px,#7b7b7b 219.5px,#8d8d8d 220.25px,#a0a0a0 221.25px,#aeaeae 222.25px,#bdbdbd 223.5px,#c9c9c9 224.75px,#d3d3d3 226.25px,#dcdcdc 228px,#e3e3e3 229.75px,#ededed 234px,#f4f4f4 240px,#f9f9f9 251.25px,#fcfcfc 270px,#fdfdfd 300px,#fdfdfd 309px,#fcfcfc 309.25px,#e7e7e7 309.5px,#e6e6e6 309.75px,#e8e8e8 310.25px,#fdfdfd 310.5px,#fefefe 310.75px,#fefefe 330px,#fefefe 360px,#fcfcfc 390px,#f9f9f9 420px,#f6f6f6 450px,#f2f2f2 480px,#ededed 510px,#e4e4e4 540px,#d7d7d7 570px,#c8c8c8 600px,#b6b6b6 629px)"></i><i style="left:346px;background:linear-gradient(#ffffff 0px,#ffffff 30px,#fefefe 60px,#fefefe 90px,#fefefe 120px,#fdfdfd 150px,#f8f8f8 180px,#efefef 192.25px,#e8e8e8 196.75px,#dfdfdf 200.25px,#d3d3d3 203.25px,#c4c4c4 205.75px,#b1b1b1 208px,#979797 210px,#878787 211px,#787878 211.75px,#666666 212.5px,#575757 213px,#474747 213.5px,#333333 214px,#0d0d0d 214.75px,#040404 215px,#000000 215.25px,#000000 215.75px,#010101 216px,#0a0a0a 216.25px,#2a2a2a 216.75px,#444444 217.25px,#626262 218px,#787878 218.75px,#909090 219.75px,#a2a2a2 220.75px,#b1b1b1 221.75px,#bfbfbf 223px,#cacaca 224.25px,#d4d4d4 225.75px,#e4e4e4 229.25px,#eeeeee 233.75px,#f5f5f5 240px,#fafafa 251.25px,#fcfcfc 270px,#fdfdfd 300px,#fdfdfd 308.25px,#fcfcfc 308.5px,#e7e7e7 308.75px,#e4e4e4 309px,#e5e5e5 309.5px,#fafafa 309.75px,#fefefe 310px,#fefefe 330px,#fefefe 360px,#fcfcfc 390px,#f9f9f9 420px,#f6f6f6 450px,#f2f2f2 480px,#ededed 510px,#e4e4e4 540px,#d7d7d7 570px,#c8c8c8 600px,#b6b6b6 629px)"></i><i style="left:348px;background:linear-gradient(#ffffff 0px,#ffffff 30px,#fefefe 60px,#fefefe 90px,#fefefe 120px,#fdfdfd 150px,#f7f7f7 180px,#f4f4f4 187px,#eeeeee 192.5px,#e7e7e7 197px,#dddddd 200.5px,#cfcfcf 203.5px,#bebebe 206px,#a7a7a7 208.25px,#8e8e8e 210px,#757575 211.25px,#626262 212px,#545454 212.5px,#393939 213.25px,#2e2e2e 213.5px,#070707 214.25px,#010101 214.5px,#000000 215.25px,#040404 215.5px,#121212 215.75px,#323232 216.25px,#4b4b4b 216.75px,#676767 217.5px,#7d7d7d 218.25px,#939393 219.25px,#a5a5a5 220.25px,#b3b3b3 221.25px,#c1c1c1 222.5px,#cccccc 223.75px,#d6d6d6 225.25px,#dedede 227px,#e5e5e5 229px,#efefef 233.75px,#f5f5f5 240px,#fafafa 251.25px,#fcfcfc 270px,#fdfdfd 300px,#fdfdfd 307.5px,#fcfcfc 307.75px,#f0f0f0 308px,#e1e1e1 308.25px,#e2e2e2 308.75px,#eeeeee 309px,#fefefe 309.25px,#fefefe 309.5px,#fefefe 330px,#fefefe 360px,#fcfcfc 390px,#f9f9f9 420px,#f6f6f6 450px,#f2f2f2 480px,#ededed 510px,#e4e4e4 540px,#d7d7d7 570px,#c8c8c8 600px,#b6b6b6 629px)"></i><i style="left:350px;background:linear-gradient(#ffffff 0px,#ffffff 30px,#fefefe 60px,#fefefe 90px,#fefefe 120px,#fdfdfd 150px,#f7f7f7 180px,#f3f3f3 187.25px,#ededed 192.75px,#e5e5e5 197px,#dbdbdb 200.5px,#cccccc 203.5px,#b9b9b9 206px,#acacac 207.25px,#9f9f9f 208.25px,#909090 209.25px,#838383 210px,#6d6d6d 211px,#505050 212px,#343434 212.75px,#0d0d0d 213.5px,#030303 213.75px,#000000 214px,#000000 214.5px,#010101 214.75px,#0b0b0b 215px,#2c2c2c 215.5px,#3a3a3a 215.75px,#515151 216.25px,#6b6b6b 217px,#808080 217.75px,#969696 218.75px,#a8a8a8 219.75px,#b5b5b5 220.75px,#c3c3c3 222px,#cdcdcd 223.25px,#d7d7d7 224.75px,#dfdfdf 226.5px,#e6e6e6 228.5px,#efefef 233.25px,#f6f6f6 240px,#fafafa 251.5px,#fcfcfc 270px,#fdfdfd 300px,#fdfdfd 306px,#fcfcfc 307px,#f5f5f5 307.25px,#dedede 307.5px,#dedede 307.75px,#dfdfdf 308px,#e6e6e6 308.25px,#fdfdfd 308.5px,#fefefe 308.75px,#fefefe 330px,#fefefe 360px,#fcfcfc 390px,#f9f9f9 420px,#f6f6f6 450px,#f2f2f2 480px,#ededed 510px,#e4e4e4 540px,#d7d7d7 570px,#c8c8c8 600px,#b6b6b6 629px)"></i><i style="left:352px;background:linear-gradient(#ffffff 0px,#ffffff 30px,#fefefe 60px,#fefefe 90px,#fefefe 120px,#fdfdfd 150px,#fbfbfb 168px,#f7f7f7 180px,#f3f3f3 187.25px,#ededed 192.75px,#e4e4e4 197px,#d8d8d8 200.5px,#c8c8c8 203.5px,#b3b3b3 206px,#a5a5a5 207.25px,#979797 208.25px,#868686 209.25px,#767676 210px,#5c5c5c 211px,#434343 211.75px,#2e2e2e 212.25px,#070707 213px,#010101 213.25px,#000000 214px,#050505 214.25px,#343434 215px,#4c4c4c 215.5px,#686868 216.25px,#7e7e7e 217px,#959595 218px,#a6a6a6 219px,#b4b4b4 220px,#c2c2c2 221.25px,#cecece 222.75px,#d8d8d8 224.25px,#e6e6e6 228px,#f0f0f0 233px,#f6f6f6 240px,#fafafa 251.5px,#fcfcfc 270px,#fefefe 300px,#fdfdfd 305.25px,#fcfcfc 306.25px,#f7f7f7 306.5px,#dcdcdc 306.75px,#dbdbdb 307px,#dcdcdc 307.25px,#e1e1e1 307.5px,#fcfcfc 307.75px,#fefefe 308px,#fefefe 330px,#fefefe 360px,#fcfcfc 390px,#f9f9f9 420px,#f6f6f6 450px,#f2f2f2 480px,#ededed 510px,#e4e4e4 540px,#d7d7d7 570px,#c8c8c8 600px,#b6b6b6 629px)"></i><i style="left:354px;background:linear-gradient(#ffffff 0px,#ffffff 30px,#fefefe 60px,#fefefe 90px,#fefefe 120px,#fdfdfd 150px,#fafafa 168px,#f7f7f7 180px,#f2f2f2 187.5px,#ebebeb 193px,#e2e2e2 197.25px,#d5d5d5 200.75px,#c2c2c2 203.75px,#b7b7b7 205px,#aaaaaa 206.25px,#9d9d9d 207.25px,#8d8d8d 208.25px,#797979 209.25px,#676767 210px,#515151 210.75px,#3e3e3e 211.25px,#282828 211.75px,#0d0d0d 212.25px,#030303 212.5px,#000000 212.75px,#000000 213.25px,#020202 213.5px,#0c0c0c 213.75px,#2e2e2e 214.25px,#3b3b3b 214.5px,#525252 215px,#656565 215.5px,#7c7c7c 216.25px,#939393 217.25px,#a5a5a5 218.25px,#b6b6b6 219.5px,#c4c4c4 220.75px,#d0d0d0 222.25px,#d9d9d9 223.75px,#e7e7e7 227.5px,#f1f1f1 232.75px,#f7f7f7 240px,#fafafa 251.5px,#fdfdfd 270px,#fefefe 300px,#fdfdfd 304.5px,#fcfcfc 305.5px,#f8f8f8 305.75px,#dbdbdb 306px,#d8d8d8 306.25px,#d9d9d9 306.5px,#dcdcdc 306.75px,#fafafa 307px,#fdfdfd 307.25px,#fefefe 307.5px,#fefefe 330px,#fefefe 360px,#fcfcfc 390px,#f9f9f9 420px,#f6f6f6 450px,#f2f2f2 480px,#ededed 510px,#e4e4e4 540px,#d7d7d7 570px,#c8c8c8 600px,#b6b6b6 629px)"></i><i style="left:356px;background:linear-gradient(#ffffff 0px,#ffffff 30px,#fefefe 60px,#fefefe 90px,#fefefe 120px,#fdfdfd 150px,#fafafa 168px,#f7f7f7 180px,#f2f2f2 187.5px,#eaeaea 193px,#e0e0e0 197.25px,#d2d2d2 200.75px,#c9c9c9 202.25px,#bdbdbd 203.75px,#b1b1b1 205px,#a2a2a2 206.25px,#949494 207.25px,#818181 208.25px,#6b6b6b 209.25px,#555555 210px,#393939 210.75px,#2e2e2e 211px,#070707 211.75px,#010101 212px,#000000 212.75px,#060606 213px,#363636 213.75px,#4e4e4e 214.25px,#6a6a6a 215px,#808080 215.75px,#969696 216.75px,#a8a8a8 217.75px,#b9b9b9 219px,#c5c5c5 220.25px,#d1d1d1 221.75px,#dadada 223.25px,#e1e1e1 225px,#e8e8e8 227.25px,#f1f1f1 232.5px,#f7f7f7 240px,#fbfbfb 251.5px,#fdfdfd 270px,#fefefe 300px,#fcfcfc 304.75px,#f9f9f9 305px,#dcdcdc 305.25px,#d5d5d5 305.5px,#d5d5d5 305.75px,#d8d8d8 306px,#f5f5f5 306.25px,#fdfdfd 306.5px,#fefefe 306.75px,#ffffff 330px,#fefefe 360px,#fcfcfc 390px,#f9f9f9 420px,#f6f6f6 450px,#f2f2f2 480px,#ededed 510px,#e3e3e3 540px,#d7d7d7 570px,#c8c8c8 600px,#b6b6b6 629px)"></i><i style="left:358px;background:linear-gradient(#ffffff 0px,#ffffff 30px,#fefefe 60px,#fefefe 90px,#fefefe 120px,#fdfdfd 150px,#fafafa 168px,#f7f7f7 180px,#f1f1f1 187.5px,#e9e9e9 193.25px,#dedede 197.5px,#cdcdcd 201px,#c3c3c3 202.5px,#b6b6b6 204px,#a8a8a8 205.25px,#969696 206.5px,#848484 207.5px,#6e6e6e 208.5px,#595959 209.25px,#3f3f3f 210px,#282828 210.5px,#0d0d0d 211px,#030303 211.25px,#000000 211.5px,#000000 212px,#020202 212.25px,#0e0e0e 212.5px,#2f2f2f 213px,#3d3d3d 213.25px,#545454 213.75px,#6f6f6f 214.5px,#8a8a8a 215.5px,#a2a2a2 216.75px,#b5b5b5 218px,#c7c7c7 219.75px,#d4d4d4 221.5px,#e2e2e2 224.5px,#ececec 228.25px,#f3f3f3 233.25px,#f8f8f8 240px,#fbfbfb 251.5px,#fdfdfd 270px,#fefefe 300px,#fcfcfc 304px,#f9f9f9 304.25px,#d2d2d2 304.75px,#d2d2d2 305px,#d4d4d4 305.25px,#fcfcfc 305.75px,#fefefe 306px,#ffffff 330px,#fefefe 360px,#fcfcfc 390px,#f9f9f9 420px,#f6f6f6 450px,#f2f2f2 480px,#ededed 510px,#e3e3e3 540px,#d7d7d7 570px,#c7c7c7 600px,#b5b5b5 629px)"></i><i style="left:360px;background:linear-gradient(#ffffff 0px,#ffffff 30px,#fefefe 60px,#fefefe 90px,#fefefe 120px,#fdfdfd 150px,#fafafa 168px,#f6f6f6 180px,#f0f0f0 187.75px,#e7e7e7 193.5px,#dbdbdb 197.75px,#d3d3d3 199.5px,#c8c8c8 201.25px,#bcbcbc 202.75px,#adadad 204.25px,#9c9c9c 205.5px,#878787 206.75px,#727272 207.75px,#555555 208.75px,#3a3a3a 209.5px,#222222 210px,#070707 210.5px,#010101 210.75px,#000000 211.5px,#070707 211.75px,#292929 212.25px,#373737 212.5px,#4f4f4f 213px,#6b6b6b 213.75px,#878787 214.75px,#9c9c9c 215.75px,#b0b0b0 217px,#c2c2c2 218.5px,#cfcfcf 220px,#dfdfdf 223px,#ebebeb 227px,#f3f3f3 232.5px,#f8f8f8 240px,#fbfbfb 251.75px,#fdfdfd 270px,#fefefe 300px,#fdfdfd 302.75px,#f9f9f9 303.5px,#ececec 303.75px,#d0d0d0 304px,#cfcfcf 304.25px,#d1d1d1 304.5px,#dedede 304.75px,#fbfbfb 305px,#fefefe 305.5px,#ffffff 330px,#fefefe 360px,#fcfcfc 390px,#f9f9f9 420px,#f6f6f6 450px,#f2f2f2 480px,#ededed 510px,#e3e3e3 540px,#d7d7d7 570px,#c7c7c7 600px,#b5b5b5 629px)"></i><i style="left:362px;background:linear-gradient(#ffffff 0px,#ffffff 30px,#fefefe 60px,#fefefe 90px,#fefefe 120px,#fcfcfc 150px,#fafafa 168.25px,#f6f6f6 180px,#f0f0f0 188px,#e6e6e6 193.75px,#d7d7d7 198px,#cecece 199.75px,#c2c2c2 201.5px,#b4b4b4 203px,#a2a2a2 204.5px,#8f8f8f 205.75px,#7b7b7b 206.75px,#616161 207.75px,#494949 208.5px,#343434 209px,#0d0d0d 209.75px,#030303 210px,#000000 210.25px,#000000 210.5px,#000000 210.75px,#030303 211px,#0f0f0f 211.25px,#313131 211.75px,#3f3f3f 212px,#565656 212.5px,#707070 213.25px,#8b8b8b 214.25px,#9f9f9f 215.25px,#afafaf 216.25px,#bfbfbf 217.5px,#cacaca 218.75px,#d5d5d5 220.25px,#dedede 222px,#ebebeb 226px,#f3f3f3 231.75px,#f8f8f8 240px,#fdfdfd 270px,#fefefe 300px,#fdfdfd 302px,#fafafa 302.75px,#f0f0f0 303px,#cecece 303.25px,#cbcbcb 303.5px,#cdcdcd 303.75px,#d6d6d6 304px,#f9f9f9 304.25px,#fdfdfd 304.5px,#fefefe 304.75px,#ffffff 330px,#fefefe 360px,#fcfcfc 390px,#f9f9f9 420px,#f6f6f6 450px,#f2f2f2 480px,#ededed 510px,#e3e3e3 540px,#d7d7d7 570px,#c7c7c7 600px,#b5b5b5 629px)"></i><i style="left:364px;background:linear-gradient(#ffffff 0px,#ffffff 30px,#fefefe 60px,#fefefe 90px,#fefefe 120px,#fcfcfc 150px,#fafafa 168.25px,#f6f6f6 180px,#efefef 187.75px,#e6e6e6 193.25px,#d7d7d7 197.5px,#cecece 199.25px,#c1c1c1 201px,#b3b3b3 202.5px,#a4a4a4 203.75px,#919191 205px,#7e7e7e 206px,#656565 207px,#4d4d4d 207.75px,#2f2f2f 208.5px,#070707 209.25px,#010101 209.5px,#000000 210px,#010101 210.25px,#080808 210.5px,#2a2a2a 211px,#393939 211.25px,#515151 211.75px,#6d6d6d 212.5px,#838383 213.25px,#999999 214.25px,#aaaaaa 215.25px,#bbbbbb 216.5px,#cacaca 218px,#d5d5d5 219.5px,#dedede 221.25px,#ebebeb 225.5px,#f4f4f4 231.5px,#f9f9f9 240px,#fdfdfd 270px,#fdfdfd 300px,#fcfcfc 301.5px,#fafafa 302px,#f2f2f2 302.25px,#cdcdcd 302.5px,#c8c8c8 302.75px,#c9c9c9 303px,#d0d0d0 303.25px,#f6f6f6 303.5px,#fcfcfc 303.75px,#fdfdfd 304px,#ffffff 330px,#fefefe 360px,#fcfcfc 390px,#f9f9f9 420px,#f6f6f6 450px,#f2f2f2 480px,#ededed 510px,#e3e3e3 540px,#d7d7d7 570px,#c7c7c7 600px,#b5b5b5 629px)"></i><i style="left:366px;background:linear-gradient(#ffffff 0px,#ffffff 30px,#fefefe 60px,#fefefe 90px,#fefefe 120px,#fcfcfc 150px,#fafafa 168.25px,#f6f6f6 180px,#efefef 187.25px,#e6e6e6 192.5px,#d8d8d8 196.75px,#cfcfcf 198.5px,#c5c5c5 200px,#b7b7b7 201.5px,#a6a6a6 203px,#949494 204.25px,#7b7b7b 205.5px,#626262 206.5px,#494949 207.25px,#353535 207.75px,#0c0c0c 208.5px,#030303 208.75px,#000000 209px,#000000 209.5px,#030303 209.75px,#111111 210px,#333333 210.5px,#414141 210.75px,#575757 211.25px,#727272 212px,#878787 212.75px,#9c9c9c 213.75px,#b1b1b1 215px,#c0c0c0 216.25px,#cdcdcd 217.75px,#d7d7d7 219.25px,#e0e0e0 221px,#ececec 225.25px,#f4f4f4 231.25px,#f9f9f9 240px,#fdfdfd 270px,#fdfdfd 300px,#fbfbfb 301px,#fafafa 301.25px,#f4f4f4 301.5px,#d0d0d0 301.75px,#c5c5c5 302px,#c5c5c5 302.25px,#cbcbcb 302.5px,#efefef 302.75px,#fbfbfb 303px,#fefefe 303.5px,#ffffff 330px,#fefefe 360px,#fcfcfc 390px,#f9f9f9 420px,#f6f6f6 450px,#f2f2f2 480px,#ededed 510px,#e3e3e3 540px,#d7d7d7 570px,#c7c7c7 600px,#b5b5b5 629px)"></i><i style="left:368px;background:linear-gradient(#ffffff 0px,#ffffff 30px,#fefefe 60px,#fefefe 90px,#fefefe 120px,#fcfcfc 150px,#fafafa 168.25px,#f5f5f5 180px,#f0f0f0 186.5px,#e8e8e8 191.25px,#dddddd 195px,#cdcdcd 198.25px,#c0c0c0 200px,#aeaeae 201.75px,#9a9a9a 203.25px,#848484 204.5px,#6d6d6d 205.5px,#4e4e4e 206.5px,#2f2f2f 207.25px,#060606 208px,#010101 208.25px,#010101 209px,#0a0a0a 209.25px,#2c2c2c 209.75px,#3b3b3b 210px,#535353 210.5px,#6f6f6f 211.25px,#848484 212px,#9a9a9a 213px,#acacac 214px,#bcbcbc 215.25px,#c9c9c9 216.5px,#d4d4d4 218px,#e3e3e3 221.25px,#eeeeee 225.5px,#f5f5f5 231.5px,#f9f9f9 240px,#fdfdfd 270px,#fefefe 296.25px,#fcfcfc 300px,#fafafa 300.5px,#f5f5f5 300.75px,#d8d8d8 301px,#c2c2c2 301.25px,#c1c1c1 301.5px,#c6c6c6 301.75px,#e3e3e3 302px,#fafafa 302.25px,#fdfdfd 302.75px,#ffffff 330px,#fefefe 360px,#fcfcfc 390px,#f9f9f9 420px,#f6f6f6 450px,#f2f2f2 480px,#ededed 510px,#e3e3e3 540px,#d7d7d7 570px,#c7c7c7 600px,#b5b5b5 629px)"></i><i style="left:370px;background:linear-gradient(#ffffff 0px,#ffffff 30px,#fefefe 60px,#fefefe 90px,#fefefe 120px,#fcfcfc 150px,#fafafa 168.25px,#f5f5f5 180px,#eeeeee 187px,#e4e4e4 192.25px,#d5d5d5 196.25px,#cbcbcb 198px,#bfbfbf 199.5px,#b0b0b0 201px,#a0a0a0 202.25px,#909090 203.25px,#7c7c7c 204.25px,#6a6a6a 205px,#535353 205.75px,#353535 206.5px,#282828 206.75px,#0c0c0c 207.25px,#030303 207.5px,#000000 207.75px,#000000 208.25px,#040404 208.5px,#131313 208.75px,#353535 209.25px,#424242 209.5px,#595959 210px,#737373 210.75px,#888888 211.5px,#999999 212.25px,#aaaaaa 213.25px,#b8b8b8 214.25px,#c6c6c6 215.5px,#d0d0d0 216.75px,#dadada 218.25px,#e7e7e7 221.5px,#f0f0f0 226px,#f6f6f6 231.75px,#f9f9f9 240px,#fdfdfd 270px,#fdfdfd 297.75px,#fbfbfb 299.5px,#fafafa 299.75px,#f5f5f5 300px,#e1e1e1 300.25px,#c0c0c0 300.5px,#bebebe 300.75px,#c1c1c1 301px,#d6d6d6 301.25px,#f8f8f8 301.5px,#fcfcfc 301.75px,#fdfdfd 302px,#ffffff 330px,#fefefe 360px,#fcfcfc 390px,#f9f9f9 420px,#f6f6f6 450px,#f2f2f2 480px,#ededed 510px,#e3e3e3 540px,#d7d7d7 570px,#c7c7c7 600px,#b4b4b4 629px)"></i><i style="left:372px;background:linear-gradient(#ffffff 0px,#ffffff 30px,#fefefe 60px,#fefefe 90px,#fefefe 120px,#fcfcfc 150px,#fafafa 168.5px,#f5f5f5 180px,#eeeeee 187px,#e3e3e3 192px,#dddddd 194px,#d3d3d3 196px,#cacaca 197.5px,#bfbfbf 199px,#afafaf 200.5px,#9f9f9f 201.75px,#8e8e8e 202.75px,#7a7a7a 203.75px,#666666 204.5px,#4e4e4e 205.25px,#2f2f2f 206px,#060606 206.75px,#010101 207px,#010101 207.75px,#0b0b0b 208px,#2e2e2e 208.5px,#494949 209px,#5f5f5f 209.5px,#707070 210px,#868686 210.75px,#979797 211.5px,#a5a5a5 212.25px,#b4b4b4 213.25px,#c0c0c0 214.25px,#cccccc 215.5px,#dddddd 218.25px,#e9e9e9 221.5px,#f1f1f1 226px,#f6f6f6 231.75px,#fafafa 240px,#fdfdfd 270px,#fefefe 294.75px,#fcfcfc 298.5px,#fafafa 299px,#f6f6f6 299.25px,#e6e6e6 299.5px,#bebebe 299.75px,#bababa 300px,#bdbdbd 300.25px,#cccccc 300.5px,#f5f5f5 300.75px,#fbfbfb 301px,#fefefe 301.5px,#ffffff 330px,#fefefe 360px,#fcfcfc 390px,#f9f9f9 420px,#f6f6f6 450px,#f2f2f2 480px,#ededed 510px,#e3e3e3 540px,#d7d7d7 570px,#c7c7c7 600px,#b4b4b4 629px)"></i><i style="left:374px;background:linear-gradient(#ffffff 0px,#ffffff 30px,#fefefe 60px,#fefefe 90px,#fefefe 120px,#fcfcfc 150px,#fafafa 168.5px,#f4f4f4 180px,#eeeeee 186.5px,#e3e3e3 191.5px,#dcdcdc 193.5px,#d3d3d3 195.5px,#cacaca 197px,#bebebe 198.5px,#aeaeae 200px,#9d9d9d 201.25px,#8c8c8c 202.25px,#777777 203.25px,#636363 204px,#4a4a4a 204.75px,#353535 205.25px,#292929 205.5px,#0c0c0c 206px,#020202 206.25px,#000000 206.5px,#000000 207px,#050505 207.25px,#373737 208px,#505050 208.5px,#6d6d6d 209.25px,#838383 210px,#959595 210.75px,#a4a4a4 211.5px,#b3b3b3 212.5px,#bfbfbf 213.5px,#d3d3d3 215.75px,#e1e1e1 218.5px,#ebebeb 222px,#f2f2f2 226.25px,#f7f7f7 232px,#fafafa 240px,#fdfdfd 270px,#fefefe 294px,#fcfcfc 297.75px,#fafafa 298.25px,#f6f6f6 298.5px,#eaeaea 298.75px,#bfbfbf 299px,#b7b7b7 299.25px,#b9b9b9 299.5px,#c5c5c5 299.75px,#f1f1f1 300px,#fafafa 300.25px,#fdfdfd 300.75px,#fefefe 301.5px,#ffffff 330px,#fefefe 360px,#fcfcfc 390px,#f9f9f9 420px,#f6f6f6 450px,#f2f2f2 480px,#ededed 510px,#e3e3e3 540px,#d7d7d7 570px,#c7c7c7 600px,#b4b4b4 629px)"></i><i style="left:376px;background:linear-gradient(#ffffff 0px,#ffffff 30px,#fefefe 60px,#fefefe 90px,#fefefe 120px,#fcfcfc 150px,#f9f9f9 168.5px,#f4f4f4 180px,#ededed 186.5px,#e2e2e2 191.25px,#d3d3d3 195px,#c9c9c9 196.5px,#bdbdbd 198px,#adadad 199.5px,#9c9c9c 200.75px,#8a8a8a 201.75px,#747474 202.75px,#606060 203.5px,#454545 204.25px,#2f2f2f 204.75px,#060606 205.5px,#010101 205.75px,#010101 206.5px,#0d0d0d 206.75px,#303030 207.25px,#3f3f3f 207.5px,#565656 208px,#6a6a6a 208.5px,#7a7a7a 209px,#939393 210px,#a2a2a2 210.75px,#aeaeae 211.5px,#bcbcbc 212.5px,#c6c6c6 213.5px,#d7d7d7 215.75px,#e4e4e4 218.5px,#ededed 222px,#f3f3f3 226.25px,#f7f7f7 232px,#fafafa 240px,#fdfdfd 270px,#fefefe 293.25px,#fcfcfc 297px,#fafafa 297.5px,#f6f6f6 297.75px,#ececec 298px,#c2c2c2 298.25px,#b3b3b3 298.5px,#b4b4b4 298.75px,#bebebe 299px,#e9e9e9 299.25px,#f9f9f9 299.5px,#fdfdfd 300px,#ffffff 303.25px,#ffffff 330px,#fefefe 360px,#fcfcfc 390px,#f9f9f9 420px,#f6f6f6 450px,#f2f2f2 480px,#ededed 510px,#e3e3e3 540px,#d7d7d7 570px,#c7c7c7 600px,#b4b4b4 629px)"></i><i class="n" style="left:378px;background:linear-gradient(#ffffff 0px,#ffffff 30px,#fefefe 60px,#fefefe 90px,#fefefe 120px,#fcfcfc 150px,#fafafa 167.5px,#f4f4f4 180px,#efefef 184.5px,#e4e4e4 190px,#dadada 193px,#c9c9c9 196px,#afafaf 198.75px,#838383 201.5px,#7c7c7c 201.75px,#535353 203px,#1e1e1e 204.5px,#383838 205.75px,#545454 207.25px,#9f9f9f 210px,#a5a5a5 210.25px,#c8c8c8 213px,#dddddd 216px,#e7e7e7 218.75px,#eeeeee 221.75px,#f5f5f5 227.25px,#fbfbfb 240px,#fefefe 270px,#fefefe 300px,#fefefe 330px,#fefefe 360px,#fcfcfc 390px,#f9f9f9 420px,#f6f6f6 450px,#f2f2f2 480px,#ededed 510px,#e3e3e3 540px,#d7d7d7 570px,#c7c7c7 600px,#b4b4b4 629px)"></i><i style="left:378px;background:linear-gradient(#00000000 0px,#00000001 294.5px,#00000003 296.25px,#00000005 296.75px,#00000008 297px,#00000011 297.25px,#00000036 297.5px,#0000004e 297.75px,#0000004e 298px,#00000047 298.25px,#00000021 298.5px,#00000007 298.75px,#00000003 299px,#00000002 299.25px,#00000000 300.75px,#00000000 629px)"></i><i class="n" style="left:380px;background:linear-gradient(#ffffff 0px,#ffffff 30px,#fefefe 60px,#fefefe 90px,#fefefe 120px,#fcfcfc 150px,#f9f9f9 167.5px,#f3f3f3 180px,#eeeeee 184.5px,#e3e3e3 190px,#d7d7d7 193px,#c4c4c4 196px,#a8a8a8 198.75px,#747474 201.5px,#6d6d6d 201.75px,#3b3b3b 203px,#0d0d0d 204px,#040404 204.25px,#010101 204.5px,#060606 204.75px,#0f0f0f 205px,#3c3c3c 206px,#6b6b6b 207.25px,#ababab 210px,#b0b0b0 210.25px,#cecece 213px,#e0e0e0 216px,#e9e9e9 218.75px,#f0f0f0 221.75px,#f6f6f6 227.25px,#fbfbfb 240px,#fefefe 270px,#fefefe 300px,#fefefe 330px,#fefefe 360px,#fcfcfc 390px,#f9f9f9 420px,#f6f6f6 450px,#f2f2f2 480px,#ededed 510px,#e3e3e3 540px,#d7d7d7 570px,#c6c6c6 600px,#b4b4b4 629px)"></i><i style="left:380px;background:linear-gradient(#00000000 0px,#00000001 293.75px,#00000003 295.5px,#00000008 296.25px,#0000000f 296.5px,#0000002c 296.75px,#00000050 297px,#00000052 297.25px,#0000004c 297.5px,#0000002f 297.75px,#0000000a 298px,#00000004 298.25px,#00000002 298.5px,#00000000 300px,#00000000 629px)"></i><i class="n" style="left:382px;background:linear-gradient(#ffffff 0px,#ffffff 30px,#fefefe 60px,#fefefe 90px,#fefefe 120px,#fcfcfc 150px,#f9f9f9 170px,#f3f3f3 180px,#eeeeee 184.5px,#e9e9e9 187.25px,#e1e1e1 190px,#d4d4d4 193px,#bfbfbf 196px,#9f9f9f 198.75px,#636363 201.5px,#5c5c5c 201.75px,#383838 202.75px,#0d0d0d 203.75px,#050505 204px,#010101 204.25px,#000000 204.5px,#030303 204.75px,#0d0d0d 205px,#383838 205.75px,#7f7f7f 207.25px,#858585 207.5px,#b5b5b5 210px,#b9b9b9 210.25px,#d3d3d3 213px,#e3e3e3 216px,#ebebeb 218.75px,#f1f1f1 221.75px,#f6f6f6 227.25px,#fbfbfb 240px,#fefefe 270px,#fefefe 300px,#fefefe 330px,#fefefe 360px,#fcfcfc 390px,#f9f9f9 420px,#f6f6f6 450px,#f2f2f2 480px,#ededed 510px,#e3e3e3 540px,#d6d6d6 570px,#c6c6c6 600px,#b4b4b4 629px)"></i><i style="left:382px;background:linear-gradient(#00000000 0px,#00000001 293px,#00000003 294.75px,#00000008 295.5px,#0000000f 295.75px,#00000026 296px,#00000051 296.25px,#00000056 296.5px,#00000052 296.75px,#0000003b 297px,#0000000e 297.25px,#00000005 297.5px,#00000002 298px,#00000000 299.5px,#00000000 629px)"></i><i class="n" style="left:384px;background:linear-gradient(#ffffff 0px,#ffffff 30px,#fefefe 60px,#fefefe 90px,#fefefe 120px,#fcfcfc 150px,#f8f8f8 170px,#f2f2f2 180px,#ededed 184.5px,#e7e7e7 187.25px,#dfdfdf 190px,#d1d1d1 193px,#bcbcbc 195.75px,#959595 198.75px,#4f4f4f 201.5px,#242424 204.25px,#222222 204.5px,#434343 205.25px,#909090 207.25px,#959595 207.5px,#bebebe 210px,#c1c1c1 210.25px,#d8d8d8 213px,#e5e5e5 216px,#ededed 218.75px,#f2f2f2 221.75px,#f7f7f7 227.25px,#fbfbfb 240px,#fefefe 270px,#fefefe 300px,#ffffff 330px,#fefefe 360px,#fcfcfc 390px,#f9f9f9 420px,#f6f6f6 450px,#f2f2f2 480px,#ededed 510px,#e3e3e3 540px,#d6d6d6 570px,#c6c6c6 600px,#b3b3b3 629px)"></i><i style="left:384px;background:linear-gradient(#00000000 0px,#00000001 292px,#00000003 294px,#00000008 294.75px,#0000000e 295px,#00000021 295.25px,#00000050 295.5px,#0000005a 295.75px,#00000057 296px,#00000044 296.25px,#00000014 296.5px,#00000007 296.75px,#00000002 297.25px,#00000000 299px,#00000000 629px)"></i><i class="n" style="left:386px;background:linear-gradient(#ffffff 0px,#ffffff 30px,#fefefe 60px,#fefefe 90px,#fefefe 120px,#fcfcfc 150px,#f8f8f8 170px,#f2f2f2 180px,#ececec 184.5px,#e6e6e6 187.25px,#dddddd 190px,#cecece 193px,#b6b6b6 195.75px,#8a8a8a 198.75px,#343434 201.5px,#323232 201.75px,#494949 204.5px,#9e9e9e 207.25px,#c5c5c5 210px,#dcdcdc 213px,#e8e8e8 216px,#eeeeee 218.75px,#f3f3f3 221.75px,#f7f7f7 227.25px,#fbfbfb 240px,#fefefe 270px,#fefefe 300px,#ffffff 330px,#fefefe 360px,#fcfcfc 390px,#f9f9f9 420px,#f6f6f6 450px,#f2f2f2 480px,#ededed 510px,#e3e3e3 540px,#d6d6d6 570px,#c6c6c6 600px,#b3b3b3 629px)"></i><i style="left:386px;background:linear-gradient(#00000000 0px,#00000001 291.25px,#00000004 293.5px,#00000008 294px,#0000000d 294.25px,#0000001d 294.5px,#0000004d 294.75px,#0000005d 295px,#0000005b 295.25px,#0000004d 295.5px,#0000001c 295.75px,#00000009 296px,#00000004 296.25px,#00000003 296.5px,#00000000 298.25px,#00000000 629px)"></i><i class="n" style="left:388px;background:linear-gradient(#ffffff 0px,#ffffff 30px,#fefefe 60px,#fefefe 90px,#fefefe 120px,#fcfcfc 150px,#f8f8f8 170px,#f1f1f1 180px,#ebebeb 184.5px,#e5e5e5 187.25px,#dbdbdb 190px,#cacaca 193px,#afafaf 195.75px,#7d7d7d 198.75px,#3c3c3c 200.5px,#101010 201.5px,#111111 201.75px,#333333 202.75px,#575757 204px,#aaaaaa 207.25px,#cccccc 210px,#dfdfdf 213px,#eaeaea 216px,#f0f0f0 218.75px,#f8f8f8 227.25px,#fcfcfc 240px,#fefefe 270px,#fefefe 300px,#ffffff 330px,#fefefe 360px,#fcfcfc 390px,#f9f9f9 420px,#f6f6f6 450px,#f2f2f2 480px,#ededed 510px,#e3e3e3 540px,#d6d6d6 570px,#c6c6c6 600px,#b3b3b3 629px)"></i><i style="left:388px;background:linear-gradient(#00000000 0px,#00000001 290.5px,#00000004 292.75px,#00000008 293.25px,#0000000d 293.5px,#0000001a 293.75px,#00000046 294px,#0000005f 294.25px,#00000060 294.5px,#00000054 294.75px,#00000027 295px,#0000000b 295.25px,#00000005 295.5px,#00000003 295.75px,#00000000 297.75px,#00000000 629px)"></i><i class="n" style="left:390px;background:linear-gradient(#ffffff 0px,#ffffff 30px,#fefefe 60px,#fefefe 90px,#fefefe 120px,#fcfcfc 150px,#f8f8f8 170px,#f1f1f1 180px,#eaeaea 184.5px,#e3e3e3 187.25px,#d8d8d8 190px,#c5c5c5 193px,#a8a8a8 195.75px,#6d6d6d 198.75px,#373737 200px,#101010 200.75px,#050505 201px,#010101 201.25px,#000000 201.5px,#020202 202px,#0a0a0a 202.25px,#414141 203.25px,#7b7b7b 204.5px,#b5b5b5 207.25px,#d1d1d1 210px,#e2e2e2 213px,#ececec 216px,#f1f1f1 218.75px,#f8f8f8 227.25px,#fcfcfc 240px,#fefefe 270px,#fefefe 300px,#ffffff 330px,#fefefe 360px,#fcfcfc 390px,#f9f9f9 420px,#f6f6f6 450px,#f2f2f2 480px,#ededed 510px,#e3e3e3 540px,#d6d6d6 570px,#c6c6c6 600px,#b3b3b3 629px)"></i><i style="left:390px;background:linear-gradient(#00000000 0px,#00000001 289.75px,#00000004 292px,#00000008 292.5px,#0000000c 292.75px,#00000018 293px,#00000060 293.5px,#00000063 293.75px,#0000005a 294px,#0000000f 294.5px,#00000007 294.75px,#00000004 295px,#00000002 295.5px,#00000000 297px,#00000000 629px)"></i><i class="n" style="left:392px;background:linear-gradient(#ffffff 0px,#ffffff 30px,#fefefe 60px,#fefefe 90px,#fefefe 120px,#fcfcfc 150px,#f8f8f8 170px,#f0f0f0 180px,#e9e9e9 184.5px,#e1e1e1 187.25px,#d4d4d4 190.25px,#c0c0c0 193px,#9a9a9a 196px,#5a5a5a 198.75px,#474747 199.5px,#2b2b2b 200.5px,#0b0b0b 201.5px,#101010 201.75px,#2b2b2b 202.25px,#434343 202.75px,#8d8d8d 204.5px,#bebebe 207.25px,#d6d6d6 210px,#e5e5e5 213px,#ededed 216px,#f2f2f2 218.75px,#f9f9f9 227.25px,#fcfcfc 240px,#fefefe 270px,#fefefe 300px,#ffffff 330px,#fefefe 360px,#fcfcfc 390px,#f9f9f9 420px,#f6f6f6 450px,#f3f3f3 480px,#ededed 510px,#e3e3e3 540px,#d6d6d6 570px,#c6c6c6 600px,#b3b3b3 629px)"></i><i style="left:392px;background:linear-gradient(#00000000 0px,#00000001 289px,#00000004 291.25px,#00000008 291.75px,#0000000c 292px,#00000016 292.25px,#00000035 292.5px,#00000061 292.75px,#00000067 293px,#00000060 293.25px,#00000042 293.5px,#00000013 293.75px,#00000008 294px,#00000004 294.25px,#00000002 294.75px,#00000000 296.5px,#00000000 629px)"></i><i class="n" style="left:394px;background:linear-gradient(#ffffff 0px,#ffffff 30px,#fefefe 60px,#fefefe 90px,#fefefe 120px,#fcfcfc 150px,#f8f8f8 170px,#f0f0f0 180px,#e8e8e8 184.5px,#dfdfdf 187.25px,#d1d1d1 190.25px,#bbbbbb 193px,#959595 195.75px,#8f8f8f 196px,#424242 198.75px,#383838 201.5px,#3d3d3d 201.75px,#9c9c9c 204.5px,#c5c5c5 207.25px,#dadada 210px,#e7e7e7 213px,#efefef 216px,#f3f3f3 218.75px,#f9f9f9 227.25px,#fcfcfc 240px,#fefefe 270px,#fefefe 300px,#ffffff 330px,#fefefe 360px,#fcfcfc 390px,#f9f9f9 420px,#f6f6f6 450px,#f3f3f3 480px,#ededed 510px,#e3e3e3 540px,#d6d6d6 570px,#c6c6c6 600px,#b3b3b3 629px)"></i><i style="left:394px;background:linear-gradient(#00000000 0px,#00000001 288.25px,#00000004 290.5px,#00000008 291px,#0000000c 291.25px,#00000015 291.5px,#0000002f 291.75px,#0000005f 292px,#0000006a 292.25px,#00000065 292.5px,#0000004c 292.75px,#0000001a 293px,#0000000a 293.25px,#00000005 293.5px,#00000002 294px,#00000000 295.75px,#00000000 629px)"></i><i class="n" style="left:396px;background:linear-gradient(#ffffff 0px,#ffffff 30px,#fefefe 60px,#fefefe 90px,#fefefe 120px,#fcfcfc 150px,#f7f7f7 170px,#f4f4f4 175.75px,#efefef 180px,#e6e6e6 184.5px,#dddddd 187.25px,#cdcdcd 190.25px,#b4b4b4 193px,#898989 195.75px,#838383 196px,#484848 197.75px,#222222 198.75px,#3c3c3c 200px,#575757 201.5px,#a9a9a9 204.5px,#cccccc 207.25px,#dedede 210px,#eaeaea 213px,#f4f4f4 218.75px,#f9f9f9 227.25px,#fcfcfc 240px,#fefefe 270px,#fefefe 300px,#ffffff 330px,#fefefe 360px,#fcfcfc 390px,#f9f9f9 420px,#f6f6f6 450px,#f3f3f3 480px,#ededed 510px,#e3e3e3 540px,#d6d6d6 570px,#c6c6c6 600px,#b2b2b2 629px)"></i><i style="left:396px;background:linear-gradient(#00000000 0px,#00000001 287.5px,#00000004 289.75px,#00000008 290.25px,#0000000c 290.5px,#00000014 290.75px,#0000002a 291px,#0000005c 291.25px,#0000006d 291.5px,#0000006a 291.75px,#00000055 292px,#00000022 292.25px,#0000000d 292.5px,#00000007 292.75px,#00000003 293.25px,#00000000 295.25px,#00000000 629px)"></i><i class="n" style="left:398px;background:linear-gradient(#ffffff 0px,#ffffff 30px,#fefefe 60px,#fefefe 90px,#fefefe 120px,#fcfcfc 150px,#f7f7f7 170px,#f3f3f3 175.75px,#eeeeee 180px,#e5e5e5 184.5px,#dbdbdb 187.25px,#c9c9c9 190.25px,#adadad 193px,#7b7b7b 195.75px,#747474 196px,#363636 197.5px,#070707 198.5px,#020202 198.75px,#070707 199px,#3e3e3e 200.25px,#6e6e6e 201.5px,#767676 201.75px,#b4b4b4 204.5px,#d2d2d2 207.25px,#e1e1e1 210px,#ebebeb 213px,#f4f4f4 218.75px,#fafafa 227.25px,#fcfcfc 240px,#fefefe 270px,#fefefe 300px,#ffffff 330px,#fefefe 360px,#fcfcfc 390px,#f9f9f9 420px,#f6f6f6 450px,#f3f3f3 480px,#ededed 510px,#e3e3e3 540px,#d6d6d6 570px,#c5c5c5 600px,#b2b2b2 629px)"></i><i style="left:398px;background:linear-gradient(#00000000 0px,#00000001 286.75px,#00000004 288.75px,#00000006 289.25px,#0000000c 289.75px,#00000013 290px,#00000026 290.25px,#00000056 290.5px,#0000006f 290.75px,#0000006e 291px,#0000005d 291.25px,#0000002c 291.5px,#00000010 291.75px,#00000008 292px,#00000005 292.25px,#00000002 292.75px,#00000000 294.5px,#00000000 629px)"></i><i class="n" style="left:400px;background:linear-gradient(#ffffff 0px,#ffffff 30px,#fefefe 60px,#fefefe 90px,#fefefe 120px,#fcfcfc 150px,#f7f7f7 170px,#f3f3f3 175.75px,#ededed 180px,#e3e3e3 184.5px,#d8d8d8 187.25px,#c4c4c4 190.25px,#a5a5a5 193px,#6a6a6a 195.75px,#626262 196px,#3c3c3c 197px,#101010 198px,#060606 198.25px,#010101 198.5px,#000000 198.75px,#030303 199px,#0c0c0c 199.25px,#2a2a2a 199.75px,#454545 200.25px,#828282 201.5px,#898989 201.75px,#bdbdbd 204.5px,#d7d7d7 207.25px,#e4e4e4 210px,#ededed 213px,#f5f5f5 218.75px,#fafafa 227.25px,#fcfcfc 240px,#fefefe 270px,#fefefe 300px,#ffffff 330px,#fefefe 360px,#fcfcfc 390px,#f9f9f9 420px,#f6f6f6 450px,#f3f3f3 480px,#ededed 510px,#e3e3e3 540px,#d6d6d6 570px,#c5c5c5 600px,#b2b2b2 629px)"></i><i style="left:400px;background:linear-gradient(#00000000 0px,#00000001 286px,#00000004 288px,#00000006 288.5px,#0000000b 289px,#00000012 289.25px,#00000023 289.5px,#0000004f 289.75px,#00000070 290px,#00000072 290.25px,#00000065 290.5px,#00000039 290.75px,#00000014 291px,#0000000a 291.25px,#00000006 291.5px,#00000003 292px,#00000000 294px,#00000000 629px)"></i><i class="n" style="left:402px;background:linear-gradient(#ffffff 0px,#ffffff 30px,#fefefe 60px,#fefefe 90px,#fefefe 120px,#fcfcfc 150px,#f7f7f7 170px,#f2f2f2 175.75px,#ececec 180px,#e1e1e1 184.5px,#d5d5d5 187.25px,#bfbfbf 190.25px,#9b9b9b 193px,#505050 196px,#232323 198.75px,#3a3a3a 199.25px,#585858 200px,#939393 201.5px,#999999 201.75px,#c5c5c5 204.5px,#dbdbdb 207.25px,#e7e7e7 210px,#efefef 213px,#f6f6f6 218.75px,#fafafa 227.25px,#fdfdfd 240px,#fefefe 270px,#fefefe 300px,#ffffff 330px,#fefefe 360px,#fcfcfc 390px,#f9f9f9 420px,#f6f6f6 450px,#f3f3f3 480px,#ececec 510px,#e3e3e3 540px,#d6d6d6 570px,#c5c5c5 600px,#b2b2b2 629px)"></i><i style="left:402px;background:linear-gradient(#00000000 0px,#00000001 285.25px,#00000005 287.5px,#00000008 288px,#0000000b 288.25px,#00000012 288.5px,#00000020 288.75px,#00000046 289px,#00000070 289.25px,#00000076 289.5px,#0000006b 289.75px,#00000046 290px,#00000019 290.25px,#0000000b 290.5px,#00000007 290.75px,#00000003 291.25px,#00000000 293.25px,#00000000 629px)"></i><i class="n" style="left:404px;background:linear-gradient(#ffffff 0px,#ffffff 30px,#fefefe 60px,#fefefe 90px,#fefefe 120px,#fcfcfc 150px,#f6f6f6 170px,#f2f2f2 175.75px,#ebebeb 180px,#dfdfdf 184.5px,#d2d2d2 187.25px,#b9b9b9 190.25px,#909090 193px,#3b3b3b 195.75px,#373737 196px,#4b4b4b 198.75px,#a2a2a2 201.5px,#a7a7a7 201.75px,#c9c9c9 204.25px,#cccccc 204.5px,#dfdfdf 207.25px,#e9e9e9 210px,#f0f0f0 213px,#f6f6f6 218.75px,#fafafa 227.25px,#fdfdfd 240px,#fefefe 270px,#fefefe 300px,#ffffff 330px,#fefefe 360px,#fcfcfc 390px,#f9f9f9 420px,#f6f6f6 450px,#f3f3f3 480px,#ececec 510px,#e3e3e3 540px,#d6d6d6 570px,#c5c5c5 600px,#b2b2b2 629px)"></i><i style="left:404px;background:linear-gradient(#00000000 0px,#00000001 284.5px,#00000005 286.75px,#00000008 287.25px,#0000000b 287.5px,#00000011 287.75px,#0000001e 288px,#0000003f 288.25px,#0000006f 288.5px,#00000079 288.75px,#00000072 289px,#00000052 289.25px,#0000001f 289.5px,#0000000e 289.75px,#00000008 290px,#00000003 290.5px,#00000000 292.5px,#00000000 629px)"></i><i class="n" style="left:406px;background:linear-gradient(#ffffff 0px,#ffffff 30px,#fefefe 60px,#fefefe 90px,#fefefe 120px,#fcfcfc 150px,#f6f6f6 170px,#f1f1f1 175.75px,#eaeaea 180px,#e6e6e6 181.75px,#dddddd 184.5px,#cecece 187.25px,#b2b2b2 190.25px,#838383 193px,#424242 194.75px,#2e2e2e 195.25px,#161616 195.75px,#141414 196px,#363636 197px,#696969 198.75px,#aeaeae 201.5px,#b2b2b2 201.75px,#d2d2d2 204.5px,#e2e2e2 207.25px,#ebebeb 210px,#f1f1f1 213px,#f7f7f7 218.75px,#fbfbfb 227.25px,#fdfdfd 240px,#fefefe 270px,#fefefe 300px,#ffffff 330px,#fefefe 360px,#fcfcfc 390px,#f9f9f9 420px,#f6f6f6 450px,#f3f3f3 480px,#ececec 510px,#e3e3e3 540px,#d6d6d6 570px,#c5c5c5 600px,#b2b2b2 629px)"></i><i style="left:406px;background:linear-gradient(#00000000 0px,#00000001 283.75px,#00000005 286px,#00000008 286.5px,#0000000b 286.75px,#00000011 287px,#0000001d 287.25px,#00000039 287.5px,#0000006c 287.75px,#0000007c 288px,#00000077 288.25px,#0000005d 288.5px,#00000027 288.75px,#00000011 289px,#00000009 289.25px,#00000004 289.75px,#00000000 292px,#00000000 629px)"></i><i class="n" style="left:408px;background:linear-gradient(#ffffff 0px,#ffffff 30px,#fefefe 60px,#fefefe 90px,#fefefe 120px,#fcfcfc 150px,#f6f6f6 170px,#f1f1f1 175.75px,#e9e9e9 180px,#e5e5e5 181.75px,#dbdbdb 184.5px,#cacaca 187.25px,#aaaaaa 190.25px,#737373 193px,#3c3c3c 194.25px,#090909 195.25px,#020202 195.5px,#000000 196px,#020202 196.25px,#0a0a0a 196.5px,#282828 197px,#434343 197.5px,#7f7f7f 198.75px,#b8b8b8 201.5px,#d7d7d7 204.5px,#e5e5e5 207.25px,#ededed 210px,#f2f2f2 213px,#f7f7f7 218.75px,#fbfbfb 227.25px,#fdfdfd 240px,#fefefe 270px,#fefefe 300px,#ffffff 330px,#fefefe 360px,#fcfcfc 390px,#f9f9f9 420px,#f6f6f6 450px,#f3f3f3 480px,#ececec 510px,#e3e3e3 540px,#d6d6d6 570px,#c5c5c5 600px,#b1b1b1 629px)"></i><i style="left:408px;background:linear-gradient(#00000000 0px,#00000001 282.75px,#00000005 285.25px,#00000008 285.75px,#00000011 286.25px,#0000001b 286.5px,#00000034 286.75px,#00000067 287px,#0000007e 287.25px,#0000007c 287.5px,#00000066 287.75px,#00000031 288px,#00000015 288.25px,#0000000b 288.5px,#00000007 288.75px,#00000003 289.25px,#00000001 291.25px,#00000000 629px)"></i><i class="n" style="left:410px;background:linear-gradient(#ffffff 0px,#ffffff 30px,#fefefe 60px,#fefefe 90px,#fefefe 120px,#fcfcfc 150px,#f9f9f9 161.5px,#f6f6f6 170px,#f0f0f0 175.75px,#e8e8e8 180px,#e3e3e3 181.75px,#d8d8d8 184.5px,#c5c5c5 187.25px,#a4a4a4 190px,#a0a0a0 190.25px,#606060 193px,#363636 194.5px,#0d0d0d 195.75px,#0f0f0f 196px,#2b2b2b 196.5px,#444444 197px,#929292 198.75px,#c1c1c1 201.5px,#dbdbdb 204.5px,#e7e7e7 207.25px,#eeeeee 210px,#f3f3f3 213px,#f8f8f8 218.75px,#fdfdfd 240px,#fefefe 270px,#fefefe 300px,#ffffff 330px,#fefefe 360px,#fcfcfc 390px,#f9f9f9 420px,#f6f6f6 450px,#f3f3f3 480px,#ececec 510px,#e3e3e3 540px,#d6d6d6 570px,#c5c5c5 600px,#b1b1b1 629px)"></i><i style="left:410px;background:linear-gradient(#00000000 0px,#00000001 282px,#00000005 284.5px,#00000008 285px,#00000010 285.5px,#0000001a 285.75px,#00000030 286px,#00000061 286.25px,#0000007f 286.5px,#00000080 286.75px,#0000006e 287px,#0000003d 287.25px,#00000019 287.5px,#0000000d 287.75px,#00000008 288px,#00000004 288.5px,#00000001 290.75px,#00000000 629px)"></i><i class="n" style="left:412px;background:linear-gradient(#ffffff 0px,#ffffff 30px,#fefefe 60px,#fefefe 90px,#fefefe 120px,#fcfcfc 150px,#f9f9f9 161.5px,#f5f5f5 170px,#efefef 175.75px,#e6e6e6 180px,#e1e1e1 181.75px,#d5d5d5 184.5px,#c0c0c0 187.25px,#969696 190.25px,#484848 193px,#3b3b3b 195.75px,#3f3f3f 196px,#a1a1a1 198.75px,#c9c9c9 201.5px,#dfdfdf 204.5px,#eaeaea 207.25px,#f0f0f0 210px,#f4f4f4 213px,#f8f8f8 219px,#fdfdfd 240px,#fefefe 270px,#fefefe 300px,#ffffff 330px,#fefefe 360px,#fcfcfc 390px,#f9f9f9 420px,#f6f6f6 450px,#f3f3f3 480px,#ececec 510px,#e3e3e3 540px,#d6d6d6 570px,#c5c5c5 600px,#b1b1b1 629px)"></i><i style="left:412px;background:linear-gradient(#00000000 0px,#00000001 281.25px,#00000005 283.75px,#00000008 284.25px,#00000010 284.75px,#00000019 285px,#0000002c 285.25px,#00000058 285.5px,#0000007f 285.75px,#00000084 286px,#00000075 286.25px,#0000001e 286.75px,#0000000f 287px,#00000009 287.25px,#00000004 287.75px,#00000001 290px,#00000000 629px)"></i><i class="n" style="left:414px;background:linear-gradient(#ffffff 0px,#ffffff 30px,#fefefe 60px,#fefefe 90px,#fefefe 120px,#fcfcfc 150px,#f9f9f9 161.5px,#f5f5f5 170.25px,#efefef 175.75px,#e5e5e5 180px,#dfdfdf 181.75px,#d1d1d1 184.5px,#b9b9b9 187.25px,#b6b6b6 187.5px,#8f8f8f 190px,#898989 190.25px,#454545 192.25px,#282828 193px,#606060 196px,#aeaeae 198.75px,#cfcfcf 201.5px,#e2e2e2 204.5px,#ececec 207.25px,#f1f1f1 210px,#f7f7f7 215.75px,#fafafa 221.5px,#fdfdfd 240px,#fefefe 270px,#fefefe 300px,#ffffff 330px,#fefefe 360px,#fcfcfc 390px,#f9f9f9 420px,#f6f6f6 450px,#f3f3f3 480px,#ececec 510px,#e3e3e3 540px,#d5d5d5 570px,#c5c5c5 600px,#b1b1b1 629px)"></i><i style="left:414px;background:linear-gradient(#00000000 0px,#00000001 280.5px,#00000005 283px,#00000008 283.5px,#00000010 284px,#00000018 284.25px,#0000002a 284.5px,#00000050 284.75px,#0000007d 285px,#00000087 285.25px,#0000007c 285.5px,#00000056 285.75px,#00000025 286px,#00000012 286.25px,#0000000b 286.5px,#00000005 287px,#00000002 287.75px,#00000001 289.5px,#00000000 629px)"></i><i class="n" style="left:416px;background:linear-gradient(#ffffff 0px,#ffffff 30px,#ffffff 60px,#fefefe 90px,#fefefe 120px,#fcfcfc 150px,#f9f9f9 161.5px,#f4f4f4 170.25px,#eeeeee 175.75px,#e3e3e3 180px,#dddddd 181.75px,#cdcdcd 184.5px,#b2b2b2 187.25px,#aeaeae 187.5px,#818181 190px,#7a7a7a 190.25px,#3c3c3c 191.75px,#0b0b0b 192.75px,#030303 193px,#080808 193.25px,#373737 194.25px,#727272 195.75px,#797979 196px,#b8b8b8 198.75px,#d5d5d5 201.5px,#e4e4e4 204.25px,#ededed 207.25px,#f2f2f2 210px,#f8f8f8 215.75px,#fafafa 221.5px,#fdfdfd 240px,#fefefe 270px,#ffffff 300px,#ffffff 330px,#fefefe 360px,#fcfcfc 390px,#f9f9f9 420px,#f6f6f6 450px,#f3f3f3 480px,#ececec 510px,#e3e3e3 540px,#d5d5d5 570px,#c4c4c4 600px,#b1b1b1 629px)"></i><i style="left:416px;background:linear-gradient(#00000000 0px,#00000002 279.75px,#00000005 282.25px,#00000008 282.75px,#0000000f 283.25px,#00000017 283.5px,#00000027 283.75px,#00000049 284px,#0000007b 284.25px,#00000089 284.5px,#00000082 284.75px,#00000061 285px,#0000002c 285.25px,#00000015 285.5px,#0000000c 285.75px,#00000008 286px,#00000004 286.5px,#00000001 288.75px,#00000000 629px)"></i><i class="n" style="left:418px;background:linear-gradient(#ffffff 0px,#ffffff 30px,#ffffff 60px,#fefefe 90px,#fefefe 120px,#fcfcfc 150px,#f9f9f9 161.5px,#f4f4f4 170.25px,#ededed 175.75px,#e6e6e6 178.75px,#e1e1e1 180px,#dadada 181.75px,#c9c9c9 184.5px,#aaaaaa 187.25px,#707070 190px,#696969 190.25px,#373737 191.5px,#080808 192.5px,#020202 192.75px,#000000 193px,#020202 193.25px,#0a0a0a 193.5px,#2a2a2a 194px,#464646 194.5px,#848484 195.75px,#8d8d8d 196px,#c1c1c1 198.75px,#dadada 201.5px,#e7e7e7 204.25px,#efefef 207.25px,#f3f3f3 210px,#f8f8f8 215.75px,#fafafa 221.5px,#fdfdfd 240px,#fefefe 270px,#ffffff 300px,#ffffff 330px,#fefefe 360px,#fcfcfc 390px,#f9f9f9 420px,#f6f6f6 450px,#f3f3f3 480px,#ececec 510px,#e3e3e3 540px,#d5d5d5 570px,#c4c4c4 600px,#b1b1b1 629px)"></i><i style="left:418px;background:linear-gradient(#00000000 0px,#00000002 279px,#00000005 281.5px,#00000008 282px,#0000000f 282.5px,#00000017 282.75px,#00000025 283px,#00000044 283.25px,#00000077 283.5px,#0000008b 283.75px,#00000087 284px,#0000006b 284.25px,#00000035 284.5px,#00000019 284.75px,#0000000e 285px,#00000006 285.5px,#00000003 286px,#00000001 288.25px,#00000000 629px)"></i><i class="n" style="left:420px;background:linear-gradient(#ffffff 0px,#ffffff 30px,#ffffff 60px,#fefefe 90px,#fefefe 120px,#fcfcfc 150px,#f9f9f9 161.5px,#f3f3f3 170.25px,#ececec 175.75px,#e4e4e4 178.75px,#dfdfdf 180px,#d7d7d7 181.75px,#c4c4c4 184.5px,#a1a1a1 187.25px,#565656 190.25px,#3d3d3d 191.75px,#252525 193px,#646464 194.5px,#969696 195.75px,#9e9e9e 196px,#c9c9c9 198.75px,#dedede 201.5px,#e9e9e9 204.25px,#f0f0f0 207.25px,#f4f4f4 210px,#fbfbfb 221.5px,#fdfdfd 240px,#fefefe 270px,#ffffff 300px,#ffffff 330px,#fefefe 360px,#fcfcfc 390px,#f9f9f9 420px,#f6f6f6 450px,#f3f3f3 480px,#ececec 510px,#e3e3e3 540px,#d5d5d5 570px,#c4c4c4 600px,#b1b1b1 629px)"></i><i style="left:420px;background:linear-gradient(#00000000 0px,#00000002 278.25px,#00000003 280px,#00000007 281px,#0000000b 281.5px,#0000000f 281.75px,#00000016 282px,#00000023 282.25px,#0000003f 282.5px,#00000072 282.75px,#0000008d 283px,#0000008c 283.25px,#00000074 283.5px,#00000040 283.75px,#0000001e 284px,#00000010 284.25px,#0000000a 284.5px,#00000007 284.75px,#00000004 285.25px,#00000001 287.5px,#00000000 629px)"></i><i class="n" style="left:422px;background:linear-gradient(#ffffff 0px,#ffffff 30px,#ffffff 60px,#fefefe 90px,#fefefe 120px,#fbfbfb 150px,#f8f8f8 161.75px,#f3f3f3 170.25px,#eaeaea 176px,#e2e2e2 178.75px,#dddddd 180px,#d4d4d4 181.75px,#bebebe 184.5px,#969696 187.25px,#414141 190px,#3c3c3c 190.25px,#4f4f4f 193px,#a5a5a5 195.75px,#ababab 196px,#d0d0d0 198.75px,#e1e1e1 201.5px,#ebebeb 204.25px,#f5f5f5 210px,#fbfbfb 221.5px,#fdfdfd 240px,#fefefe 270px,#ffffff 300px,#ffffff 330px,#fefefe 360px,#fcfcfc 390px,#f9f9f9 420px,#f6f6f6 450px,#f3f3f3 480px,#ececec 510px,#e3e3e3 540px,#d5d5d5 570px,#c4c4c4 600px,#b0b0b0 629px)"></i><i style="left:422px;background:linear-gradient(#00000000 0px,#00000002 277.5px,#00000003 279.25px,#00000007 280.25px,#0000000b 280.75px,#0000000f 281px,#00000016 281.25px,#00000022 281.5px,#0000003a 281.75px,#0000006b 282px,#0000008d 282.25px,#00000090 282.5px,#0000007d 282.75px,#0000004b 283px,#00000023 283.25px,#00000013 283.5px,#0000000c 283.75px,#00000008 284px,#00000004 284.5px,#00000001 287px,#00000000 629px)"></i><i class="n" style="left:424px;background:linear-gradient(#ffffff 0px,#ffffff 30px,#ffffff 60px,#fefefe 90px,#fefefe 120px,#fbfbfb 150px,#f8f8f8 161.75px,#f2f2f2 170.25px,#e9e9e9 176px,#e0e0e0 178.75px,#dadada 180px,#d0d0d0 181.75px,#b7b7b7 184.5px,#898989 187.25px,#484848 189px,#343434 189.5px,#1d1d1d 190px,#171717 190.25px,#3a3a3a 191.25px,#6c6c6c 193px,#b2b2b2 195.75px,#b7b7b7 196px,#d5d5d5 198.75px,#e5e5e5 201.5px,#eeeeee 204.5px,#f6f6f6 210px,#fbfbfb 221.5px,#fdfdfd 240px,#fefefe 270px,#ffffff 300px,#ffffff 330px,#fefefe 360px,#fcfcfc 390px,#f9f9f9 420px,#f6f6f6 450px,#f3f3f3 480px,#ececec 510px,#e3e3e3 540px,#d5d5d5 570px,#c4c4c4 600px,#b0b0b0 629px)"></i><i style="left:424px;background:linear-gradient(#00000000 0px,#00000002 276.75px,#00000003 278.5px,#00000007 279.5px,#0000000b 280px,#0000000f 280.25px,#00000015 280.5px,#00000020 280.75px,#00000037 281px,#00000063 281.25px,#0000008c 281.5px,#00000093 281.75px,#00000084 282px,#00000058 282.25px,#0000002a 282.5px,#00000016 282.75px,#0000000e 283px,#00000007 283.5px,#00000004 284px,#00000001 286.25px,#00000000 629px)"></i><i class="n" style="left:426px;background:linear-gradient(#ffffff 0px,#ffffff 30px,#ffffff 60px,#fefefe 90px,#fefefe 120px,#fbfbfb 150px,#f8f8f8 161.75px,#f2f2f2 170.25px,#e7e7e7 176px,#dedede 178.75px,#d7d7d7 180px,#cccccc 181.75px,#afafaf 184.5px,#797979 187.25px,#707070 187.5px,#424242 188.5px,#292929 189px,#0d0d0d 189.5px,#030303 189.75px,#000000 190px,#000000 190.25px,#020202 190.5px,#0b0b0b 190.75px,#383838 191.5px,#838383 193px,#bcbcbc 195.75px,#c0c0c0 196px,#dadada 198.75px,#e7e7e7 201.5px,#efefef 204.5px,#f6f6f6 210px,#fbfbfb 221.5px,#fdfdfd 240px,#fefefe 270px,#ffffff 300px,#ffffff 330px,#fefefe 360px,#fcfcfc 390px,#f9f9f9 420px,#f6f6f6 450px,#f3f3f3 480px,#ececec 510px,#e3e3e3 540px,#d5d5d5 570px,#c4c4c4 600px,#b0b0b0 629px)"></i><i style="left:426px;background:linear-gradient(#00000000 0px,#00000002 276px,#00000004 277.75px,#00000007 278.75px,#0000000b 279.25px,#00000015 279.75px,#0000001f 280px,#00000033 280.25px,#0000005b 280.5px,#00000089 280.75px,#00000096 281px,#0000008a 281.25px,#00000064 281.5px,#00000031 281.75px,#0000001a 282px,#0000000f 282.25px,#00000007 282.75px,#00000004 283.25px,#00000001 285.75px,#00000000 629px)"></i><i class="n" style="left:428px;background:linear-gradient(#ffffff 0px,#ffffff 30px,#ffffff 60px,#fefefe 90px,#fefefe 120px,#fbfbfb 150px,#f8f8f8 161.75px,#f1f1f1 170.25px,#ededed 173px,#e6e6e6 176px,#dbdbdb 178.75px,#d3d3d3 180px,#c7c7c7 181.75px,#a6a6a6 184.5px,#666666 187.25px,#3b3b3b 188.75px,#101010 190px,#0e0e0e 190.25px,#2b2b2b 190.75px,#454545 191.25px,#959595 193px,#c8c8c8 196px,#dedede 198.75px,#eaeaea 201.5px,#f1f1f1 204.5px,#f7f7f7 210px,#fbfbfb 221.5px,#fdfdfd 240px,#fefefe 270px,#ffffff 300px,#ffffff 330px,#fefefe 360px,#fcfcfc 390px,#f9f9f9 420px,#f6f6f6 450px,#f3f3f3 480px,#ececec 510px,#e3e3e3 540px,#d5d5d5 570px,#c4c4c4 600px,#b0b0b0 629px)"></i><i style="left:428px;background:linear-gradient(#00000000 0px,#00000000 257.25px,#00000002 275.25px,#00000004 277px,#00000007 278px,#0000000b 278.5px,#00000014 279px,#0000001e 279.25px,#00000031 279.5px,#00000055 279.75px,#00000086 280px,#00000098 280.25px,#00000090 280.5px,#0000006f 280.75px,#00000039 281px,#0000001e 281.25px,#00000012 281.5px,#0000000c 281.75px,#00000008 282px,#00000005 282.5px,#00000001 285px,#00000000 629px)"></i><i class="n" style="left:430px;background:linear-gradient(#ffffff 0px,#ffffff 30px,#ffffff 60px,#fefefe 90px,#fefefe 120px,#fbfbfb 150px,#f8f8f8 161.75px,#f1f1f1 170.25px,#ececec 173px,#e4e4e4 176px,#d9d9d9 178.75px,#cfcfcf 180px,#c2c2c2 181.75px,#9c9c9c 184.5px,#4f4f4f 187.25px,#4c4c4c 187.5px,#3f3f3f 190px,#414141 190.25px,#a5a5a5 193px,#cfcfcf 196px,#e2e2e2 198.75px,#ececec 201.5px,#f2f2f2 204.5px,#f7f7f7 210px,#fcfcfc 221.5px,#fefefe 240px,#fefefe 270px,#ffffff 300px,#ffffff 330px,#fefefe 360px,#fcfcfc 390px,#f9f9f9 420px,#f6f6f6 450px,#f3f3f3 480px,#ececec 510px,#e2e2e2 540px,#d5d5d5 570px,#c4c4c4 600px,#b0b0b0 629px)"></i><i style="left:430px;background:linear-gradient(#00000000 0px,#00000000 256.5px,#00000002 274.5px,#00000004 276.25px,#00000007 277.25px,#0000000b 277.75px,#00000014 278.25px,#0000001d 278.5px,#0000002e 278.75px,#0000004f 279px,#00000082 279.25px,#00000099 279.5px,#00000095 279.75px,#00000078 280px,#00000043 280.25px,#00000023 280.5px,#00000014 280.75px,#0000000d 281px,#00000009 281.25px,#00000005 281.75px,#00000002 282.75px,#00000001 284.5px,#00000000 629px)"></i><i class="n" style="left:432px;background:linear-gradient(#ffffff 0px,#ffffff 30px,#ffffff 60px,#fefefe 90px,#fefefe 120px,#fbfbfb 150px,#f7f7f7 161.75px,#f0f0f0 170.25px,#ebebeb 173px,#e2e2e2 176px,#d5d5d5 178.75px,#cbcbcb 180px,#bbbbbb 181.75px,#909090 184.5px,#4b4b4b 186.5px,#2f2f2f 187.25px,#303030 187.5px,#636363 190.25px,#b1b1b1 193px,#d5d5d5 196px,#e5e5e5 198.75px,#ededed 201.5px,#f3f3f3 204.5px,#f8f8f8 210px,#fcfcfc 221.5px,#fefefe 240px,#fefefe 270px,#ffffff 300px,#ffffff 330px,#fefefe 360px,#fcfcfc 390px,#f9f9f9 420px,#f6f6f6 450px,#f3f3f3 480px,#ececec 510px,#e2e2e2 540px,#d5d5d5 570px,#c4c4c4 600px,#b0b0b0 629px)"></i><i style="left:432px;background:linear-gradient(#00000000 0px,#00000000 255.5px,#00000002 273.75px,#00000006 276.25px,#0000000b 277px,#00000014 277.5px,#0000001c 277.75px,#0000002c 278px,#0000004a 278.25px,#0000007c 278.5px,#00000099 278.75px,#00000099 279px,#00000081 279.25px,#0000004d 279.5px,#00000028 279.75px,#00000017 280px,#0000000f 280.25px,#00000008 280.75px,#00000005 281.25px,#00000001 283.75px,#00000000 629px)"></i><i class="n" style="left:434px;background:linear-gradient(#ffffff 0px,#ffffff 30px,#ffffff 60px,#fefefe 90px,#fefefe 120px,#fbfbfb 150px,#f7f7f7 161.75px,#efefef 170.25px,#eaeaea 173px,#e0e0e0 176px,#d2d2d2 178.75px,#c6c6c6 180px,#b4b4b4 181.75px,#818181 184.5px,#424242 186px,#2b2b2b 186.5px,#101010 187px,#060606 187.25px,#0a0a0a 187.5px,#2e2e2e 188.25px,#444444 188.75px,#757575 190px,#7d7d7d 190.25px,#bcbcbc 193px,#bfbfbf 193.25px,#dadada 196px,#e8e8e8 198.75px,#efefef 201.5px,#f3f3f3 204.25px,#f8f8f8 210px,#fcfcfc 221.5px,#fefefe 240px,#fefefe 270px,#ffffff 300px,#ffffff 330px,#fefefe 360px,#fcfcfc 390px,#f9f9f9 420px,#f6f6f6 450px,#f3f3f3 480px,#ececec 510px,#e2e2e2 540px,#d5d5d5 570px,#c3c3c3 600px,#afafaf 629px)"></i><i style="left:434px;background:linear-gradient(#00000000 0px,#00000000 254.75px,#00000002 273px,#00000006 275.5px,#0000000b 276.25px,#00000013 276.75px,#0000001c 277px,#0000002a 277.25px,#00000045 277.5px,#00000076 277.75px,#00000099 278px,#0000009d 278.25px,#00000089 278.5px,#00000058 278.75px,#0000002e 279px,#0000001a 279.25px,#00000011 279.5px,#00000008 280px,#00000005 280.5px,#00000001 283px,#00000000 629px)"></i><i class="n" style="left:436px;background:linear-gradient(#ffffff 0px,#ffffff 30px,#ffffff 60px,#fefefe 90px,#fefefe 120px,#fbfbfb 150px,#f7f7f7 161.75px,#eeeeee 170.25px,#e8e8e8 173px,#dedede 176px,#cdcdcd 178.75px,#c0c0c0 180px,#b0b0b0 181.5px,#ababab 181.75px,#707070 184.5px,#3b3b3b 185.75px,#090909 186.75px,#020202 187px,#000000 187.25px,#010101 187.5px,#090909 187.75px,#292929 188.25px,#464646 188.75px,#878787 190px,#929292 190.25px,#c5c5c5 193px,#dedede 196px,#eaeaea 198.75px,#f0f0f0 201.5px,#f4f4f4 204.25px,#f9f9f9 210px,#fcfcfc 221.5px,#fefefe 240px,#fefefe 270px,#ffffff 300px,#ffffff 330px,#fefefe 360px,#fcfcfc 390px,#f9f9f9 420px,#f6f6f6 450px,#f3f3f3 480px,#ececec 510px,#e2e2e2 540px,#d5d5d5 570px,#c3c3c3 600px,#afafaf 629px)"></i><i style="left:436px;background:linear-gradient(#00000000 0px,#00000000 253.75px,#00000002 272.25px,#00000006 274.75px,#0000000b 275.5px,#00000013 276px,#0000001b 276.25px,#00000028 276.5px,#00000041 276.75px,#0000006e 277px,#00000097 277.25px,#000000a0 277.5px,#00000090 277.75px,#00000065 278px,#00000035 278.25px,#0000001e 278.5px,#00000013 278.75px,#0000000d 279px,#00000009 279.25px,#00000005 279.75px,#00000002 280.75px,#00000001 282.5px,#00000000 629px)"></i><i class="n" style="left:438px;background:linear-gradient(#ffffff 0px,#ffffff 30px,#ffffff 60px,#fefefe 90px,#fefefe 120px,#fbfbfb 150px,#f7f7f7 161.75px,#f2f2f2 167.25px,#ededed 170.25px,#e7e7e7 173px,#dbdbdb 176px,#c8c8c8 178.75px,#b9b9b9 180px,#a7a7a7 181.5px,#5c5c5c 184.5px,#414141 186px,#292929 187.25px,#313131 187.5px,#5c5c5c 188.5px,#9a9a9a 190px,#a2a2a2 190.25px,#cdcdcd 193px,#e2e2e2 196px,#ececec 198.75px,#f5f5f5 204.5px,#f9f9f9 210px,#fcfcfc 221.5px,#fefefe 240px,#fefefe 270px,#ffffff 300px,#ffffff 330px,#fefefe 360px,#fcfcfc 390px,#f9f9f9 420px,#f6f6f6 450px,#f3f3f3 480px,#ececec 510px,#e2e2e2 540px,#d5d5d5 570px,#c3c3c3 600px,#afafaf 629px)"></i><i style="left:438px;background:linear-gradient(#00000000 0px,#00000000 253px,#00000002 271.5px,#00000004 273.25px,#00000007 274.25px,#0000000e 275px,#00000013 275.25px,#0000001a 275.5px,#00000027 275.75px,#0000003e 276px,#00000067 276.25px,#00000095 276.5px,#000000a2 276.75px,#00000096 277px,#00000070 277.25px,#0000003d 277.5px,#00000022 277.75px,#00000015 278px,#0000000e 278.25px,#0000000a 278.5px,#00000006 279px,#00000003 280px,#00000001 281.75px,#00000000 629px)"></i><i class="n" style="left:440px;background:linear-gradient(#ffffff 0px,#ffffff 30px,#ffffff 60px,#fefefe 90px,#fefefe 120px,#fbfbfb 150px,#f6f6f6 161.75px,#f1f1f1 167.25px,#ececec 170.25px,#e5e5e5 173px,#d8d8d8 176px,#c3c3c3 178.75px,#b1b1b1 180px,#9c9c9c 181.5px,#969696 181.75px,#474747 184.25px,#414141 184.5px,#535353 187.25px,#595959 187.5px,#a9a9a9 190px,#b0b0b0 190.25px,#d3d3d3 193px,#e5e5e5 196px,#eeeeee 198.75px,#f6f6f6 204.5px,#fafafa 210px,#fcfcfc 221.5px,#fefefe 240px,#fefefe 270px,#ffffff 300px,#ffffff 330px,#fefefe 360px,#fcfcfc 390px,#f9f9f9 420px,#f6f6f6 450px,#f3f3f3 480px,#ececec 510px,#e2e2e2 540px,#d5d5d5 570px,#c3c3c3 600px,#afafaf 629px)"></i><i style="left:440px;background:linear-gradient(#00000000 0px,#00000000 252.25px,#00000002 270.75px,#00000004 272.5px,#00000007 273.5px,#0000000e 274.25px,#00000013 274.5px,#0000001a 274.75px,#00000026 275px,#0000003a 275.25px,#00000060 275.5px,#00000091 275.75px,#000000a4 276px,#0000009c 276.25px,#0000007a 276.5px,#00000045 276.75px,#00000027 277px,#00000018 277.25px,#00000010 277.5px,#00000009 278px,#00000005 278.5px,#00000001 281.25px,#00000000 629px)"></i><i class="n" style="left:442px;background:linear-gradient(#ffffff 0px,#ffffff 30px,#ffffff 60px,#fefefe 90px,#fefefe 120px,#fbfbfb 150px,#f6f6f6 161.75px,#f0f0f0 167.25px,#ebebeb 170.25px,#e3e3e3 173px,#d4d4d4 176px,#bcbcbc 178.75px,#a8a8a8 180px,#8f8f8f 181.5px,#878787 181.75px,#4e4e4e 183.25px,#232323 184.25px,#1b1b1b 184.5px,#3d3d3d 185.5px,#707070 187.25px,#b6b6b6 190px,#bbbbbb 190.25px,#d9d9d9 193px,#e8e8e8 196px,#efefef 198.75px,#f7f7f7 204.5px,#fafafa 210px,#fefefe 240px,#fefefe 270px,#ffffff 300px,#ffffff 330px,#fefefe 360px,#fcfcfc 390px,#f9f9f9 420px,#f6f6f6 450px,#f3f3f3 480px,#ececec 510px,#e2e2e2 540px,#d5d5d5 570px,#c3c3c3 600px,#afafaf 629px)"></i><i style="left:442px;background:linear-gradient(#00000000 0px,#00000000 251.25px,#00000002 270px,#00000004 271.75px,#00000007 272.75px,#0000000e 273.5px,#00000012 273.75px,#00000019 274px,#00000024 274.25px,#00000038 274.5px,#0000005a 274.75px,#0000008d 275px,#000000a4 275.25px,#000000a1 275.5px,#00000083 275.75px,#0000004e 276px,#0000002c 276.25px,#0000001b 276.5px,#00000012 276.75px,#00000009 277.25px,#00000006 277.75px,#00000003 278.75px,#00000001 280.5px,#00000000 629px)"></i><i class="n" style="left:444px;background:linear-gradient(#ffffff 0px,#ffffff 30px,#ffffff 60px,#fefefe 90px,#fefefe 120px,#fbfbfb 150px,#f6f6f6 161.75px,#f0f0f0 167.25px,#eaeaea 170.25px,#e1e1e1 173px,#d0d0d0 176px,#b5b5b5 178.75px,#9d9d9d 180px,#808080 181.5px,#777777 181.75px,#484848 182.75px,#2f2f2f 183.25px,#121212 183.75px,#060606 184px,#010101 184.25px,#000000 184.5px,#020202 184.75px,#0c0c0c 185px,#393939 185.75px,#868686 187.25px,#8d8d8d 187.5px,#c4c4c4 190.25px,#dddddd 193px,#eaeaea 196px,#f1f1f1 198.75px,#f5f5f5 201.5px,#fafafa 210px,#fefefe 240px,#fefefe 270px,#ffffff 300px,#ffffff 330px,#fefefe 360px,#fcfcfc 390px,#f9f9f9 420px,#f6f6f6 450px,#f3f3f3 480px,#ececec 510px,#e2e2e2 540px,#d4d4d4 570px,#c3c3c3 600px,#afafaf 629px)"></i><i style="left:444px;background:linear-gradient(#00000000 0px,#00000000 250.5px,#00000002 269.25px,#00000004 271px,#00000007 272px,#0000000e 272.75px,#00000019 273.25px,#00000023 273.5px,#00000035 273.75px,#00000055 274px,#00000087 274.25px,#000000a5 274.5px,#000000a5 274.75px,#0000008c 275px,#00000059 275.25px,#00000032 275.5px,#0000001e 275.75px,#00000014 276px,#0000000a 276.5px,#00000005 277.25px,#00000001 280px,#00000000 629px)"></i><i class="n" style="left:446px;background:linear-gradient(#ffffff 0px,#ffffff 30px,#ffffff 60px,#fefefe 90px,#fefefe 120px,#fbfbfb 150px,#f7f7f7 158.75px,#f3f3f3 164.5px,#e9e9e9 170px,#dfdfdf 173px,#cecece 175.75px,#afafaf 178.5px,#acacac 178.75px,#8f8f8f 180px,#666666 181.75px,#373737 183.25px,#121212 184.25px,#0e0e0e 184.5px,#2b2b2b 185px,#464646 185.5px,#999999 187.25px,#9f9f9f 187.5px,#cccccc 190.25px,#e1e1e1 193px,#ececec 196px,#f5f5f5 201.5px,#fafafa 210px,#fefefe 240px,#fefefe 270px,#ffffff 300px,#ffffff 330px,#fefefe 360px,#fcfcfc 390px,#f9f9f9 420px,#f6f6f6 450px,#f3f3f3 480px,#ececec 510px,#e2e2e2 540px,#d4d4d4 570px,#c3c3c3 600px,#aeaeae 629px)"></i><i style="left:446px;background:linear-gradient(#00000000 0px,#00000000 249.5px,#00000002 268.5px,#00000004 270.25px,#00000008 271.25px,#0000000e 272px,#00000018 272.5px,#00000022 272.75px,#00000033 273px,#00000050 273.25px,#00000081 273.5px,#000000a4 273.75px,#000000a8 274px,#00000094 274.25px,#00000063 274.5px,#00000038 274.75px,#00000022 275px,#00000016 275.25px,#00000010 275.5px,#0000000b 275.75px,#00000006 276.5px,#00000001 279.25px,#00000000 629px)"></i><i class="n" style="left:448px;background:linear-gradient(#ffffff 0px,#ffffff 30px,#ffffff 60px,#fefefe 90px,#fefefe 120px,#fafafa 150px,#f7f7f7 158.75px,#f2f2f2 164.5px,#e8e8e8 170px,#dcdcdc 173px,#c9c9c9 175.75px,#a6a6a6 178.5px,#a2a2a2 178.75px,#7f7f7f 180px,#555555 181.5px,#515151 181.75px,#434343 184.25px,#434343 184.5px,#a8a8a8 187.25px,#adadad 187.5px,#d3d3d3 190.25px,#e4e4e4 193px,#eeeeee 196px,#f6f6f6 201.5px,#fbfbfb 210px,#fefefe 240px,#fefefe 270px,#ffffff 300px,#ffffff 330px,#fefefe 360px,#fcfcfc 390px,#f9f9f9 420px,#f6f6f6 450px,#f3f3f3 480px,#ececec 510px,#e2e2e2 540px,#d4d4d4 570px,#c3c3c3 600px,#aeaeae 629px)"></i><i style="left:448px;background:linear-gradient(#00000000 0px,#00000000 248.75px,#00000002 267.75px,#00000004 269.5px,#00000008 270.5px,#0000000e 271.25px,#00000018 271.75px,#00000021 272px,#00000031 272.25px,#0000004c 272.5px,#00000079 272.75px,#000000a2 273px,#000000ab 273.25px,#0000009a 273.5px,#0000006f 273.75px,#0000003f 274px,#00000026 274.25px,#00000019 274.5px,#00000011 274.75px,#0000000d 275px,#00000006 275.75px,#00000003 276.75px,#00000001 278.75px,#00000000 629px)"></i><i class="n" style="left:450px;background:linear-gradient(#ffffff 0px,#ffffff 30px,#ffffff 60px,#fefefe 90px,#fefefe 120px,#fafafa 150px,#f7f7f7 158.75px,#f1f1f1 164.5px,#ededed 167.25px,#e6e6e6 170px,#d9d9d9 173px,#c3c3c3 175.75px,#9a9a9a 178.5px,#969696 178.75px,#6b6b6b 180px,#353535 181.5px,#353535 181.75px,#676767 184.5px,#b5b5b5 187.25px,#d8d8d8 190.25px,#e7e7e7 193px,#f0f0f0 196px,#f7f7f7 201.5px,#fbfbfb 210px,#fefefe 240px,#fefefe 270px,#ffffff 300px,#ffffff 330px,#fefefe 360px,#fcfcfc 390px,#f9f9f9 420px,#f6f6f6 450px,#f3f3f3 480px,#ececec 510px,#e2e2e2 540px,#d4d4d4 570px,#c3c3c3 600px,#aeaeae 629px)"></i><i style="left:450px;background:linear-gradient(#00000000 0px,#00000000 248px,#00000002 267px,#00000004 268.75px,#00000008 269.75px,#0000000e 270.5px,#00000017 271px,#00000020 271.25px,#0000002f 271.5px,#00000048 271.75px,#00000072 272px,#0000009f 272.25px,#000000ad 272.5px,#000000a0 272.75px,#00000079 273px,#00000047 273.25px,#0000002b 273.5px,#0000001c 273.75px,#00000013 274px,#0000000a 274.5px,#00000005 275.25px,#00000001 278px,#00000000 629px)"></i><i class="n" style="left:452px;background:linear-gradient(#ffffff 0px,#ffffff 30px,#ffffff 60px,#fefefe 90px,#fefefe 120px,#fafafa 150px,#f6f6f6 158.75px,#f1f1f1 164.5px,#ececec 167.25px,#e4e4e4 170px,#d6d6d6 173px,#bdbdbd 175.75px,#8d8d8d 178.5px,#888888 178.75px,#535353 180px,#313131 180.75px,#090909 181.5px,#0c0c0c 181.75px,#3c3c3c 182.75px,#818181 184.5px,#c0c0c0 187.25px,#dbdbdb 190px,#eaeaea 193px,#f1f1f1 196px,#f7f7f7 201.5px,#fbfbfb 210px,#fefefe 240px,#fefefe 270px,#ffffff 300px,#ffffff 330px,#fefefe 360px,#fcfcfc 390px,#f9f9f9 420px,#f6f6f6 450px,#f3f3f3 480px,#ececec 510px,#e2e2e2 540px,#d4d4d4 570px,#c2c2c2 600px,#aeaeae 629px)"></i><i style="left:452px;background:linear-gradient(#00000000 0px,#00000000 247px,#00000002 266.25px,#00000004 268px,#00000008 269px,#0000000e 269.75px,#00000017 270.25px,#00000020 270.5px,#0000002d 270.75px,#00000045 271px,#0000006c 271.25px,#0000009b 271.5px,#000000ae 271.75px,#000000a6 272px,#00000083 272.25px,#00000050 272.5px,#00000030 272.75px,#0000001f 273px,#00000015 273.25px,#0000000b 273.75px,#00000006 274.5px,#00000003 275.75px,#00000001 277.5px,#00000000 629px)"></i><i class="n" style="left:454px;background:linear-gradient(#ffffff 0px,#ffffff 30px,#ffffff 60px,#fefefe 90px,#fefefe 120px,#fafafa 150px,#f6f6f6 158.75px,#f0f0f0 164.5px,#ebebeb 167.25px,#e2e2e2 170px,#d2d2d2 173px,#b5b5b5 175.75px,#b1b1b1 176px,#777777 178.75px,#404040 180px,#0c0c0c 181px,#030303 181.25px,#000000 181.5px,#010101 181.75px,#080808 182px,#383838 182.75px,#464646 183px,#8a8a8a 184.25px,#969696 184.5px,#c9c9c9 187.25px,#e1e1e1 190.25px,#ececec 193px,#f2f2f2 196px,#f8f8f8 201.5px,#fbfbfb 210px,#fefefe 240px,#fefefe 270px,#ffffff 300px,#ffffff 330px,#fefefe 360px,#fcfcfc 390px,#f9f9f9 420px,#f6f6f6 450px,#f3f3f3 480px,#ececec 510px,#e2e2e2 540px,#d4d4d4 570px,#c2c2c2 600px,#aeaeae 629px)"></i><i style="left:454px;background:linear-gradient(#00000000 0px,#00000000 245.5px,#00000002 265.25px,#00000004 267px,#00000008 268.25px,#0000000e 269px,#00000017 269.5px,#0000001f 269.75px,#0000002c 270px,#00000042 270.25px,#00000066 270.5px,#00000097 270.75px,#000000af 271px,#000000ab 271.25px,#0000008d 271.5px,#00000059 271.75px,#00000035 272px,#00000022 272.25px,#00000017 272.5px,#0000000d 273px,#00000006 273.75px,#00000003 275px,#00000001 276.75px,#00000000 629px)"></i><i class="n" style="left:456px;background:linear-gradient(#ffffff 0px,#ffffff 30px,#ffffff 60px,#fefefe 90px,#fefefe 120px,#fafafa 150px,#f3f3f3 161.75px,#e9e9e9 167.25px,#dedede 170.25px,#cdcdcd 173px,#acacac 175.75px,#a7a7a7 176px,#626262 178.75px,#4b4b4b 180px,#2d2d2d 181.5px,#323232 181.75px,#5e5e5e 182.75px,#a7a7a7 184.5px,#d0d0d0 187.25px,#e3e3e3 190px,#eeeeee 193px,#f3f3f3 196px,#f8f8f8 201.5px,#fcfcfc 210px,#fefefe 240px,#fefefe 270px,#ffffff 300px,#ffffff 330px,#fefefe 360px,#fcfcfc 390px,#f9f9f9 420px,#f6f6f6 450px,#f3f3f3 480px,#ececec 510px,#e2e2e2 540px,#d4d4d4 570px,#c2c2c2 600px,#aeaeae 629px)"></i><i style="left:456px;background:linear-gradient(#00000000 0px,#00000000 244.75px,#00000002 264.5px,#00000004 266.25px,#00000008 267.5px,#0000000e 268.25px,#00000016 268.75px,#0000001e 269px,#0000002b 269.25px,#0000003f 269.5px,#00000061 269.75px,#00000092 270px,#000000ae 270.25px,#000000af 270.5px,#00000095 270.75px,#00000062 271px,#0000003b 271.25px,#00000026 271.5px,#0000001a 271.75px,#00000012 272px,#0000000e 272.25px,#00000007 273px,#00000003 274.25px,#00000001 276.25px,#00000000 629px)"></i><i class="n" style="left:458px;background:linear-gradient(#ffffff 0px,#ffffff 30px,#ffffff 60px,#fefefe 90px,#fefefe 120px,#fafafa 150px,#f5f5f5 158.75px,#efefef 164.25px,#e8e8e8 167.25px,#dbdbdb 170.25px,#c8c8c8 173px,#a2a2a2 175.75px,#9c9c9c 176px,#464646 178.75px,#4e4e4e 180px,#575757 181.5px,#5c5c5c 181.75px,#b4b4b4 184.5px,#d8d8d8 187.5px,#e8e8e8 190.25px,#f0f0f0 193px,#f4f4f4 195.75px,#f9f9f9 201.5px,#fcfcfc 210px,#fefefe 240px,#fefefe 270px,#ffffff 300px,#ffffff 330px,#fefefe 360px,#fcfcfc 390px,#f9f9f9 420px,#f6f6f6 450px,#f3f3f3 480px,#ececec 510px,#e2e2e2 540px,#d4d4d4 570px,#c2c2c2 600px,#adadad 629px)"></i><i style="left:458px;background:linear-gradient(#00000000 0px,#00000000 244px,#00000002 263.75px,#00000004 265.5px,#00000008 266.75px,#0000000e 267.5px,#00000016 268px,#0000001e 268.25px,#00000029 268.5px,#0000003c 268.75px,#0000005c 269px,#0000008c 269.25px,#000000ad 269.5px,#000000b2 269.75px,#0000009c 270px,#0000006c 270.25px,#00000042 270.5px,#0000002a 270.75px,#0000001c 271px,#00000014 271.25px,#0000000c 271.75px,#00000006 272.5px,#00000003 273.75px,#00000001 275.5px,#00000000 629px)"></i><i class="n" style="left:460px;background:linear-gradient(#ffffff 0px,#ffffff 30px,#ffffff 60px,#fefefe 90px,#fefefe 120px,#fafafa 150px,#f5f5f5 158.75px,#eeeeee 164.25px,#e6e6e6 167.25px,#d8d8d8 170.25px,#c2c2c2 173px,#959595 175.75px,#8e8e8e 176px,#545454 177.5px,#1f1f1f 178.75px,#484848 180px,#747474 181.5px,#bfbfbf 184.5px,#dddddd 187.5px,#eaeaea 190.25px,#f1f1f1 193px,#f5f5f5 195.75px,#f9f9f9 201.5px,#fcfcfc 210px,#fefefe 240px,#ffffff 270px,#ffffff 300px,#ffffff 330px,#fefefe 360px,#fcfcfc 390px,#f9f9f9 420px,#f6f6f6 450px,#f3f3f3 480px,#ececec 510px,#e2e2e2 540px,#d4d4d4 570px,#c2c2c2 600px,#adadad 629px)"></i><i style="left:460px;background:linear-gradient(#00000000 0px,#00000000 243px,#00000002 263px,#00000005 265px,#00000009 266.25px,#00000011 267px,#0000001d 267.5px,#00000028 267.75px,#0000003a 268px,#00000057 268.25px,#00000085 268.5px,#000000ab 268.75px,#000000b4 269px,#000000a3 269.25px,#00000049 269.75px,#0000002e 270px,#0000001f 270.25px,#00000016 270.5px,#0000000d 271px,#00000007 271.75px,#00000003 273px,#00000001 275px,#00000000 629px)"></i><i class="n" style="left:462px;background:linear-gradient(#ffffff 0px,#ffffff 30px,#ffffff 60px,#fefefe 90px,#fefefe 120px,#fafafa 150px,#f7f7f7 156px,#f1f1f1 161.75px,#ececec 164.5px,#e4e4e4 167.25px,#d6d6d6 170px,#bababa 173px,#868686 175.75px,#7e7e7e 176px,#424242 177.25px,#090909 178.25px,#020202 178.5px,#000000 178.75px,#020202 179px,#0c0c0c 179.25px,#3b3b3b 180px,#898989 181.5px,#919191 181.75px,#c8c8c8 184.5px,#e0e0e0 187.25px,#ececec 190.25px,#f2f2f2 193px,#f6f6f6 195.75px,#fafafa 201.5px,#fcfcfc 210px,#fefefe 240px,#ffffff 270px,#ffffff 300px,#ffffff 330px,#fefefe 360px,#fcfcfc 390px,#f9f9f9 420px,#f6f6f6 450px,#f3f3f3 480px,#ececec 510px,#e2e2e2 540px,#d4d4d4 570px,#c2c2c2 600px,#adadad 629px)"></i><i style="left:462px;background:linear-gradient(#00000000 0px,#00000000 242.25px,#00000002 262.25px,#00000005 264.25px,#00000009 265.5px,#00000011 266.25px,#0000001c 266.75px,#00000027 267px,#00000038 267.25px,#00000053 267.5px,#000000a9 268px,#000000b6 268.25px,#000000a9 268.5px,#00000081 268.75px,#00000050 269px,#00000033 269.25px,#00000022 269.5px,#00000018 269.75px,#0000000e 270.25px,#00000007 271px,#00000003 272.25px,#00000001 274.25px,#00000000 283.75px,#00000000 629px)"></i><i class="n" style="left:464px;background:linear-gradient(#ffffff 0px,#ffffff 30px,#ffffff 60px,#fefefe 90px,#fefefe 120px,#f9f9f9 150px,#f4f4f4 158.75px,#ebebeb 164.25px,#e2e2e2 167.25px,#d0d0d0 170.25px,#b2b2b2 173px,#adadad 173.25px,#6c6c6c 176px,#3c3c3c 177.5px,#0d0d0d 178.75px,#2c2c2c 179.25px,#535353 180px,#9c9c9c 181.5px,#a3a3a3 181.75px,#d0d0d0 184.5px,#e4e4e4 187.25px,#eeeeee 190.25px,#f6f6f6 195.75px,#fafafa 201.5px,#fcfcfc 210px,#fefefe 240px,#ffffff 270px,#ffffff 300px,#ffffff 330px,#fefefe 360px,#fcfcfc 390px,#f9f9f9 420px,#f6f6f6 450px,#f3f3f3 480px,#ececec 510px,#e2e2e2 540px,#d4d4d4 570px,#c2c2c2 600px,#adadad 629px)"></i><i style="left:464px;background:linear-gradient(#00000000 0px,#00000000 241.5px,#00000002 261.5px,#00000005 263.5px,#00000009 264.75px,#00000011 265.5px,#0000001c 266px,#00000026 266.25px,#00000036 266.5px,#0000004f 266.75px,#00000078 267px,#000000a6 267.25px,#000000b8 267.5px,#000000ae 267.75px,#0000008b 268px,#00000058 268.25px,#00000038 268.5px,#00000025 268.75px,#0000001a 269px,#0000000f 269.5px,#00000008 270.25px,#00000004 271.5px,#00000001 273.5px,#00000000 283.5px,#00000000 629px)"></i><i class="n" style="left:466px;background:linear-gradient(#ffffff 0px,#ffffff 30px,#ffffff 60px,#fefefe 90px,#fefefe 120px,#f9f9f9 150px,#f6f6f6 156px,#f0f0f0 161.5px,#e9e9e9 164.5px,#dedede 167.5px,#cbcbcb 170.25px,#a8a8a8 173px,#5b5b5b 175.75px,#575757 176px,#474747 178.5px,#464646 178.75px,#747474 180px,#acacac 181.5px,#b2b2b2 181.75px,#d6d6d6 184.5px,#e7e7e7 187.25px,#f0f0f0 190.25px,#f7f7f7 195.75px,#fcfcfc 210px,#fefefe 240px,#ffffff 270px,#ffffff 300px,#ffffff 330px,#fefefe 360px,#fcfcfc 390px,#f9f9f9 420px,#f6f6f6 450px,#f3f3f3 480px,#ececec 510px,#e2e2e2 540px,#d4d4d4 570px,#c2c2c2 600px,#adadad 629px)"></i><i style="left:466px;background:linear-gradient(#00000000 0px,#00000000 240.5px,#00000002 260.75px,#00000005 262.75px,#00000009 264px,#00000011 264.75px,#0000001b 265.25px,#00000025 265.5px,#00000034 265.75px,#0000004c 266px,#00000072 266.25px,#000000a1 266.5px,#000000b8 266.75px,#000000b3 267px,#00000093 267.25px,#00000061 267.5px,#0000003e 267.75px,#00000029 268px,#0000001d 268.25px,#00000015 268.5px,#0000000d 269px,#00000007 269.75px,#00000003 271px,#00000001 273px,#00000000 283.5px,#00000000 629px)"></i><i class="n" style="left:468px;background:linear-gradient(#ffffff 0px,#ffffff 30px,#ffffff 60px,#fefefe 90px,#fefefe 120px,#f9f9f9 150px,#f6f6f6 156px,#efefef 161.5px,#e8e8e8 164.5px,#dbdbdb 167.5px,#c5c5c5 170.25px,#9d9d9d 173px,#3c3c3c 175.75px,#393939 176px,#6b6b6b 178.75px,#8e8e8e 180px,#b9b9b9 181.5px,#bebebe 181.75px,#dcdcdc 184.5px,#eaeaea 187.25px,#f1f1f1 190.25px,#f8f8f8 195.75px,#fcfcfc 210px,#fefefe 240px,#ffffff 270px,#ffffff 300px,#ffffff 330px,#fefefe 360px,#fcfcfc 390px,#f9f9f9 420px,#f6f6f6 450px,#f3f3f3 480px,#ececec 510px,#e2e2e2 540px,#d4d4d4 570px,#c2c2c2 600px,#adadad 629px)"></i><i style="left:468px;background:linear-gradient(#00000000 0px,#00000000 239.75px,#00000002 260px,#00000005 262px,#00000009 263.25px,#00000011 264px,#0000001b 264.5px,#00000024 264.75px,#00000032 265px,#00000049 265.25px,#0000006c 265.5px,#0000009d 265.75px,#000000b7 266px,#000000b7 266.25px,#0000009b 266.5px,#0000006a 266.75px,#00000044 267px,#0000002d 267.25px,#0000001f 267.5px,#00000017 267.75px,#0000000e 268.25px,#00000006 269.25px,#00000003 270.5px,#00000001 272.5px,#00000000 283.25px,#00000000 629px)"></i><i class="n" style="left:470px;background:linear-gradient(#ffffff 0px,#ffffff 30px,#ffffff 60px,#fefefe 90px,#fefefe 120px,#fcfcfc 138.75px,#f9f9f9 150px,#f2f2f2 158.75px,#eeeeee 161.5px,#e7e7e7 164.25px,#d9d9d9 167.25px,#c2c2c2 170px,#bfbfbf 170.25px,#8f8f8f 173px,#424242 174.75px,#2a2a2a 175.25px,#0e0e0e 175.75px,#0e0e0e 176px,#3e3e3e 177px,#868686 178.75px,#a2a2a2 180px,#c4c4c4 181.5px,#c7c7c7 181.75px,#e0e0e0 184.5px,#ececec 187.25px,#f3f3f3 190.25px,#f8f8f8 195.75px,#fdfdfd 210px,#fefefe 240px,#ffffff 270px,#ffffff 300px,#ffffff 330px,#fefefe 360px,#fcfcfc 390px,#f9f9f9 420px,#f6f6f6 450px,#f3f3f3 480px,#ececec 510px,#e2e2e2 540px,#d4d4d4 570px,#c1c1c1 600px,#acacac 629px)"></i><i style="left:470px;background:linear-gradient(#00000000 0px,#00000000 239px,#00000002 259.25px,#00000004 261px,#00000008 262.25px,#00000010 263.25px,#0000001a 263.75px,#00000023 264px,#00000031 264.25px,#00000046 264.5px,#00000067 264.75px,#00000097 265px,#000000b7 265.25px,#000000ba 265.5px,#000000a3 265.75px,#00000073 266px,#0000004a 266.25px,#00000031 266.5px,#00000022 266.75px,#00000019 267px,#0000000f 267.5px,#00000007 268.5px,#00000003 269.75px,#00000002 271.75px,#00000000 283px,#00000000 629px)"></i><i class="n" style="left:472px;background:linear-gradient(#ffffff 0px,#ffffff 30px,#ffffff 60px,#fefefe 90px,#fdfdfd 120px,#fcfcfc 138.75px,#f9f9f9 150px,#f5f5f5 156px,#ededed 161.5px,#e4e4e4 164.5px,#d3d3d3 167.5px,#b7b7b7 170.25px,#7e7e7e 173px,#383838 174.5px,#0e0e0e 175.25px,#040404 175.5px,#000000 175.75px,#000000 176px,#060606 176.25px,#474747 177.25px,#9b9b9b 178.75px,#b1b1b1 180px,#cccccc 181.5px,#cfcfcf 181.75px,#e4e4e4 184.5px,#eeeeee 187.25px,#f4f4f4 190.25px,#f9f9f9 195.75px,#fdfdfd 210px,#fefefe 240px,#ffffff 270px,#ffffff 300px,#ffffff 330px,#fefefe 360px,#fcfcfc 390px,#f9f9f9 420px,#f6f6f6 450px,#f3f3f3 480px,#ececec 510px,#e2e2e2 540px,#d4d4d4 570px,#c1c1c1 600px,#acacac 629px)"></i><i style="left:472px;background:linear-gradient(#00000000 0px,#00000000 238.25px,#00000002 258.5px,#00000004 260.25px,#00000008 261.5px,#00000010 262.5px,#0000001a 263px,#00000022 263.25px,#0000002f 263.5px,#00000043 263.75px,#00000063 264px,#00000091 264.25px,#000000b5 264.5px,#000000bd 264.75px,#000000a9 265px,#00000051 265.5px,#00000036 265.75px,#00000025 266px,#0000001b 266.25px,#00000010 266.75px,#0000000a 267.25px,#00000007 267.75px,#00000004 269px,#00000002 271px,#00000000 283px,#00000000 629px)"></i><i class="n" style="left:474px;background:linear-gradient(#ffffff 0px,#ffffff 30px,#ffffff 60px,#fefefe 90px,#fdfdfd 120px,#fcfcfc 138.75px,#f9f9f9 150px,#f4f4f4 156px,#ebebeb 161.5px,#e2e2e2 164.5px,#d1d1d1 167.25px,#aeaeae 170.25px,#686868 173px,#313131 175.75px,#343434 176px,#565656 176.75px,#ababab 178.75px,#bdbdbd 180px,#d6d6d6 181.75px,#e7e7e7 184.5px,#f0f0f0 187.25px,#f5f5f5 190.25px,#f9f9f9 195.75px,#fdfdfd 210px,#fefefe 240px,#ffffff 270px,#ffffff 300px,#ffffff 330px,#fefefe 360px,#fcfcfc 390px,#f9f9f9 420px,#f6f6f6 450px,#f3f3f3 480px,#ececec 510px,#e2e2e2 540px,#d3d3d3 570px,#c1c1c1 600px,#acacac 629px)"></i><i style="left:474px;background:linear-gradient(#00000000 0px,#00000000 237.25px,#00000002 257.75px,#00000004 259.5px,#00000008 260.75px,#00000010 261.75px,#0000001a 262.25px,#00000022 262.5px,#0000002e 262.75px,#00000041 263px,#0000005e 263.25px,#0000008a 263.5px,#000000b2 263.75px,#000000be 264px,#000000af 264.25px,#00000086 264.5px,#00000058 264.75px,#0000003b 265px,#00000028 265.25px,#0000001d 265.5px,#00000016 265.75px,#0000000d 266.25px,#00000007 267.25px,#00000003 268.5px,#00000002 270.5px,#00000000 282.75px,#00000000 629px)"></i><i class="n" style="left:476px;background:linear-gradient(#ffffff 0px,#ffffff 30px,#ffffff 60px,#fefefe 90px,#fdfdfd 120px,#fcfcfc 138.75px,#f8f8f8 150px,#f4f4f4 156px,#eaeaea 161.5px,#dfdfdf 164.5px,#cccccc 167.25px,#a7a7a7 170px,#a2a2a2 170.25px,#4c4c4c 173px,#5b5b5b 175.75px,#5f5f5f 176px,#b8b8b8 178.75px,#c7c7c7 180px,#dbdbdb 181.75px,#eaeaea 184.5px,#f1f1f1 187.25px,#f6f6f6 190.25px,#fafafa 195.75px,#fdfdfd 210px,#fefefe 240px,#ffffff 270px,#ffffff 300px,#ffffff 330px,#fefefe 360px,#fcfcfc 390px,#f9f9f9 420px,#f6f6f6 450px,#f3f3f3 480px,#ececec 510px,#e2e2e2 540px,#d3d3d3 570px,#c1c1c1 600px,#acacac 629px)"></i><i style="left:476px;background:linear-gradient(#00000000 0px,#00000000 236.5px,#00000002 257px,#00000004 258.75px,#00000008 260px,#00000010 261px,#00000019 261.5px,#00000021 261.75px,#0000002d 262px,#0000003e 262.25px,#0000005a 262.5px,#000000af 263px,#000000bf 263.25px,#000000b4 263.5px,#0000008f 263.75px,#0000005f 264px,#0000003f 264.25px,#0000002b 264.5px,#0000001f 264.75px,#00000017 265px,#0000000e 265.5px,#00000007 266.5px,#00000004 267.75px,#00000002 269.75px,#00000000 282.5px,#00000000 629px)"></i><i class="n" style="left:478px;background:linear-gradient(#ffffff 0px,#ffffff 30px,#ffffff 60px,#fefefe 90px,#fdfdfd 120px,#fcfcfc 138.75px,#f8f8f8 150px,#f3f3f3 156px,#efefef 158.75px,#e8e8e8 161.5px,#dcdcdc 164.5px,#c6c6c6 167.25px,#9b9b9b 170px,#959595 170.25px,#464646 172.25px,#242424 173px,#4b4b4b 174.25px,#777777 175.75px,#c3c3c3 178.75px,#d0d0d0 180px,#e0e0e0 181.75px,#ececec 184.5px,#f3f3f3 187.5px,#fafafa 195.75px,#fdfdfd 210px,#fefefe 240px,#ffffff 270px,#ffffff 300px,#ffffff 330px,#fefefe 360px,#fcfcfc 390px,#f9f9f9 420px,#f6f6f6 450px,#f3f3f3 480px,#ececec 510px,#e2e2e2 540px,#d3d3d3 570px,#c1c1c1 600px,#acacac 629px)"></i><i style="left:478px;background:linear-gradient(#00000000 0px,#00000000 235.75px,#00000003 256.25px,#00000005 258.25px,#00000009 259.5px,#0000000d 260px,#00000014 260.5px,#00000020 261px,#0000002b 261.25px,#0000003c 261.5px,#00000056 261.75px,#0000007e 262px,#000000ab 262.25px,#000000c0 262.5px,#000000b8 262.75px,#00000097 263px,#00000066 263.25px,#00000044 263.5px,#0000002f 263.75px,#00000021 264px,#00000019 264.25px,#0000000f 264.75px,#00000007 265.75px,#00000004 267px,#00000002 269px,#00000000 282.25px,#00000000 629px)"></i><i class="n" style="left:480px;background:linear-gradient(#ffffff 0px,#ffffff 30px,#ffffff 60px,#fefefe 90px,#fdfdfd 120px,#fcfcfc 138.75px,#f8f8f8 150px,#f2f2f2 156px,#eeeeee 158.75px,#e7e7e7 161.5px,#d8d8d8 164.5px,#bfbfbf 167.25px,#8c8c8c 170px,#848484 170.25px,#3a3a3a 171.75px,#0d0d0d 172.5px,#030303 172.75px,#000000 173px,#020202 173.25px,#0d0d0d 173.5px,#2e2e2e 174px,#4a4a4a 174.5px,#8c8c8c 175.75px,#959595 176px,#cccccc 178.75px,#d6d6d6 180px,#e4e4e4 181.75px,#eeeeee 184.5px,#f4f4f4 187.5px,#fafafa 195.75px,#fdfdfd 210px,#fefefe 240px,#ffffff 270px,#ffffff 300px,#ffffff 330px,#fefefe 360px,#fcfcfc 390px,#f9f9f9 420px,#f6f6f6 450px,#f3f3f3 480px,#ececec 510px,#e2e2e2 540px,#d3d3d3 570px,#c1c1c1 600px,#acacac 629px)"></i><i style="left:480px;background:linear-gradient(#00000000 0px,#00000000 235px,#00000003 255.5px,#00000005 257.5px,#00000009 258.75px,#0000000d 259.25px,#00000013 259.75px,#00000020 260.25px,#0000002a 260.5px,#0000003a 260.75px,#00000053 261px,#00000078 261.25px,#000000a7 261.5px,#000000bf 261.75px,#000000bc 262px,#0000009e 262.25px,#0000006d 262.5px,#00000049 262.75px,#00000032 263px,#00000023 263.25px,#0000001a 263.5px,#00000010 264px,#00000007 265px,#00000004 266.25px,#00000002 268.5px,#00000000 281.75px,#00000000 629px)"></i><i class="n" style="left:482px;background:linear-gradient(#ffffff 0px,#ffffff 30px,#ffffff 60px,#fefefe 90px,#fdfdfd 120px,#fbfbfb 138.75px,#f7f7f7 150px,#f2f2f2 155.75px,#ededed 158.75px,#e4e4e4 161.5px,#d4d4d4 164.5px,#b7b7b7 167.25px,#797979 170px,#727272 170.25px,#404040 171.75px,#2e2e2e 172.25px,#0f0f0f 173px,#3a3a3a 173.75px,#545454 174.25px,#9f9f9f 175.75px,#a7a7a7 176px,#d3d3d3 178.75px,#dcdcdc 180px,#e7e7e7 181.75px,#f0f0f0 184.5px,#f5f5f5 187.5px,#fbfbfb 196px,#fdfdfd 210px,#fefefe 240px,#ffffff 270px,#ffffff 300px,#ffffff 330px,#fefefe 360px,#fcfcfc 390px,#f9f9f9 420px,#f6f6f6 450px,#f3f3f3 480px,#ececec 510px,#e2e2e2 540px,#d3d3d3 570px,#c1c1c1 600px,#ababab 629px)"></i><i style="left:482px;background:linear-gradient(#00000000 0px,#00000000 234px,#00000003 254.75px,#00000005 256.75px,#00000009 258px,#0000000d 258.5px,#00000013 259px,#0000001f 259.5px,#00000029 259.75px,#00000038 260px,#00000050 260.25px,#00000073 260.5px,#000000a2 260.75px,#000000be 261px,#000000bf 261.25px,#000000a5 261.5px,#00000075 261.75px,#0000004e 262px,#00000035 262.25px,#00000026 262.5px,#0000001c 262.75px,#00000011 263.25px,#0000000b 263.75px,#00000008 264.25px,#00000004 265.5px,#00000002 267.75px,#00000000 281.5px,#00000000 629px)"></i><i class="n" style="left:484px;background:linear-gradient(#ffffff 0px,#ffffff 30px,#ffffff 60px,#fefefe 90px,#fdfdfd 120px,#fbfbfb 138.75px,#f7f7f7 150px,#f1f1f1 155.75px,#ebebeb 158.75px,#e2e2e2 161.5px,#cfcfcf 164.5px,#adadad 167.25px,#616161 170px,#5c5c5c 170.25px,#494949 173px,#afafaf 175.75px,#b6b6b6 176px,#dadada 178.75px,#e0e0e0 180px,#eaeaea 181.75px,#f1f1f1 184.5px,#f6f6f6 187.5px,#fbfbfb 196px,#fdfdfd 210px,#fefefe 240px,#ffffff 270px,#ffffff 300px,#ffffff 330px,#fefefe 360px,#fcfcfc 390px,#f9f9f9 420px,#f6f6f6 450px,#f3f3f3 480px,#ececec 510px,#e2e2e2 540px,#d3d3d3 570px,#c1c1c1 600px,#ababab 629px)"></i><i style="left:484px;background:linear-gradient(#00000000 0px,#00000000 233.25px,#00000003 254px,#00000005 256px,#00000009 257.25px,#0000000d 257.75px,#00000013 258.25px,#0000001e 258.75px,#00000028 259px,#00000037 259.25px,#0000004d 259.5px,#0000006e 259.75px,#0000009d 260px,#000000bc 260.25px,#000000c1 260.5px,#000000ab 260.75px,#0000007d 261px,#00000054 261.25px,#00000039 261.5px,#00000028 261.75px,#0000001e 262px,#00000012 262.5px,#0000000c 263px,#00000008 263.5px,#00000004 264.75px,#00000002 267px,#00000000 281.25px,#00000000 629px)"></i><i class="n" style="left:486px;background:linear-gradient(#ffffff 0px,#ffffff 30px,#ffffff 60px,#fefefe 90px,#fdfdfd 120px,#fbfbfb 138.75px,#f7f7f7 150px,#f0f0f0 155.75px,#eaeaea 158.75px,#dfdfdf 161.5px,#cacaca 164.5px,#a2a2a2 167.25px,#424242 170px,#3d3d3d 170.25px,#6e6e6e 173px,#bcbcbc 175.75px,#c1c1c1 176px,#dfdfdf 178.75px,#e4e4e4 180px,#ececec 181.75px,#f3f3f3 184.5px,#f6f6f6 187.5px,#fbfbfb 196px,#fdfdfd 210px,#fefefe 240px,#ffffff 270px,#ffffff 300px,#ffffff 330px,#fefefe 360px,#fcfcfc 390px,#f9f9f9 420px,#f6f6f6 450px,#f3f3f3 480px,#ececec 510px,#e2e2e2 540px,#d3d3d3 570px,#c1c1c1 600px,#ababab 629px)"></i><i style="left:486px;background:linear-gradient(#00000000 0px,#00000000 232.5px,#00000003 253.25px,#00000005 255.25px,#00000009 256.5px,#0000000d 257px,#00000013 257.5px,#0000001e 258px,#00000027 258.25px,#00000035 258.5px,#0000004a 258.75px,#00000069 259px,#00000097 259.25px,#000000ba 259.5px,#000000c3 259.75px,#000000b0 260px,#00000059 260.5px,#0000003d 260.75px,#0000002b 261px,#0000001f 261.25px,#00000018 261.5px,#0000000f 262px,#00000007 263px,#00000004 264.25px,#00000002 266.5px,#00000000 280.75px,#00000000 629px)"></i><i class="n" style="left:488px;background:linear-gradient(#ffffff 0px,#ffffff 30px,#ffffff 60px,#fefefe 90px,#fdfdfd 120px,#fbfbfb 138.75px,#f6f6f6 150px,#efefef 155.75px,#e8e8e8 158.75px,#dcdcdc 161.5px,#c3c3c3 164.5px,#949494 167.25px,#8a8a8a 167.5px,#484848 169px,#2f2f2f 169.5px,#131313 170px,#0f0f0f 170.25px,#292929 170.75px,#404040 171.25px,#898989 173px,#c7c7c7 175.75px,#cbcbcb 176px,#e3e3e3 178.75px,#e8e8e8 180px,#eeeeee 181.75px,#f4f4f4 184.5px,#f7f7f7 187.5px,#fbfbfb 196px,#fdfdfd 210px,#fefefe 240px,#ffffff 270px,#ffffff 300px,#ffffff 330px,#fefefe 360px,#fcfcfc 390px,#f9f9f9 420px,#f6f6f6 450px,#f3f3f3 480px,#ececec 510px,#e2e2e2 540px,#d3d3d3 570px,#c0c0c0 600px,#ababab 629px)"></i><i style="left:488px;background:linear-gradient(#00000000 0px,#00000000 231.75px,#00000003 252.5px,#00000005 254.5px,#00000009 255.75px,#00000013 256.75px,#0000001d 257.25px,#00000026 257.5px,#00000033 257.75px,#00000047 258px,#00000065 258.25px,#00000090 258.5px,#000000b8 258.75px,#000000c4 259px,#000000b5 259.25px,#0000008d 259.5px,#00000060 259.75px,#00000041 260px,#0000002e 260.25px,#00000021 260.5px,#00000019 260.75px,#00000010 261.25px,#00000008 262.25px,#00000004 263.5px,#00000002 265.75px,#00000000 280.5px,#00000000 629px)"></i><i class="n" style="left:490px;background:linear-gradient(#ffffff 0px,#ffffff 30px,#ffffff 60px,#fefefe 90px,#fdfdfd 120px,#fbfbfb 138.75px,#f6f6f6 150px,#eeeeee 155.75px,#e6e6e6 158.75px,#d9d9d9 161.5px,#bcbcbc 164.5px,#838383 167.25px,#797979 167.5px,#494949 168.5px,#2f2f2f 169px,#111111 169.5px,#050505 169.75px,#000000 170px,#000000 170.25px,#050505 170.5px,#141414 170.75px,#262626 171px,#474747 171.5px,#9e9e9e 173px,#cfcfcf 175.75px,#d2d2d2 176px,#e6e6e6 178.75px,#eaeaea 180px,#f0f0f0 181.75px,#f5f5f5 184.5px,#f9f9f9 190px,#fdfdfd 210px,#fefefe 240px,#ffffff 270px,#ffffff 300px,#ffffff 330px,#fefefe 360px,#fcfcfc 390px,#f9f9f9 420px,#f6f6f6 450px,#f3f3f3 480px,#ececec 510px,#e2e2e2 540px,#d3d3d3 570px,#c0c0c0 600px,#ababab 629px)"></i><i style="left:490px;background:linear-gradient(#00000000 0px,#00000000 230.75px,#00000003 251.75px,#00000005 253.75px,#00000009 255px,#00000012 256px,#0000001d 256.5px,#00000025 256.75px,#00000032 257px,#00000045 257.25px,#00000061 257.5px,#000000b4 258px,#000000c5 258.25px,#000000ba 258.5px,#00000095 258.75px,#00000066 259px,#00000045 259.25px,#00000031 259.5px,#00000023 259.75px,#0000001b 260px,#00000010 260.5px,#00000008 261.5px,#00000004 262.75px,#00000002 265px,#00000000 280.25px,#00000000 629px)"></i><i class="n" style="left:492px;background:linear-gradient(#ffffff 0px,#ffffff 30px,#ffffff 60px,#fefefe 90px,#fdfdfd 120px,#fbfbfb 138.75px,#f5f5f5 150px,#ededed 156px,#e4e4e4 158.75px,#d2d2d2 161.75px,#b3b3b3 164.5px,#6d6d6d 167.25px,#343434 170px,#353535 170.25px,#575757 171px,#aeaeae 173px,#d9d9d9 176px,#e9e9e9 178.75px,#ededed 180px,#f1f1f1 181.75px,#f6f6f6 184.5px,#fafafa 190px,#fdfdfd 210px,#fefefe 240px,#ffffff 270px,#ffffff 300px,#ffffff 330px,#fefefe 360px,#fcfcfc 390px,#f9f9f9 420px,#f6f6f6 450px,#f3f3f3 480px,#ececec 510px,#e2e2e2 540px,#d3d3d3 570px,#c0c0c0 600px,#ababab 629px)"></i><i style="left:492px;background:linear-gradient(#00000000 0px,#00000000 230px,#00000003 251px,#00000005 253px,#00000009 254.25px,#00000012 255.25px,#0000001c 255.75px,#00000025 256px,#00000031 256.25px,#00000042 256.5px,#0000005d 256.75px,#00000084 257px,#000000b1 257.25px,#000000c5 257.5px,#000000bd 257.75px,#0000009c 258px,#0000006c 258.25px,#0000004a 258.5px,#00000034 258.75px,#00000025 259px,#0000001c 259.25px,#00000011 259.75px,#00000008 260.75px,#00000004 262.25px,#00000002 264.5px,#00000000 279.75px,#00000000 629px)"></i><i class="n" style="left:494px;background:linear-gradient(#ffffff 0px,#ffffff 30px,#ffffff 60px,#fefefe 90px,#fdfdfd 120px,#fbfbfb 138.75px,#f5f5f5 150px,#f1f1f1 153px,#ebebeb 156px,#e2e2e2 158.75px,#d0d0d0 161.5px,#a8a8a8 164.5px,#515151 167.25px,#515151 167.5px,#5e5e5e 170px,#626262 170.25px,#bcbcbc 173px,#bfbfbf 173.25px,#dedede 176px,#ececec 178.75px,#efefef 180px,#f6f6f6 184.5px,#fafafa 190px,#fefefe 210px,#fefefe 240px,#ffffff 270px,#ffffff 300px,#ffffff 330px,#fefefe 360px,#fcfcfc 390px,#f9f9f9 420px,#f6f6f6 450px,#f3f3f3 480px,#ececec 510px,#e1e1e1 540px,#d3d3d3 570px,#c0c0c0 600px,#aaaaaa 629px)"></i><i style="left:494px;background:linear-gradient(#00000000 0px,#00000000 229.25px,#00000003 250.25px,#00000005 252.25px,#00000009 253.5px,#00000012 254.5px,#0000001c 255px,#00000024 255.25px,#0000002f 255.5px,#00000040 255.75px,#0000005a 256px,#0000007f 256.25px,#000000ac 256.5px,#000000c4 256.75px,#000000c1 257px,#000000a3 257.25px,#00000073 257.5px,#0000004f 257.75px,#00000037 258px,#00000028 258.25px,#0000001e 258.5px,#00000012 259px,#0000000c 259.5px,#00000009 260px,#00000004 261.5px,#00000002 263.75px,#00000000 279.5px,#00000000 629px)"></i><i class="n" style="left:496px;background:linear-gradient(#ffffff 0px,#ffffff 30px,#ffffff 60px,#fefefe 90px,#fdfdfd 120px,#fbfbfb 138.75px,#f4f4f4 150px,#f0f0f0 153px,#eaeaea 156px,#dfdfdf 158.75px,#cacaca 161.5px,#a0a0a0 164.25px,#9b9b9b 164.5px,#4b4b4b 166.5px,#2a2a2a 167.25px,#2e2e2e 167.5px,#4e4e4e 168.5px,#818181 170.25px,#c6c6c6 173px,#e2e2e2 176px,#eeeeee 178.75px,#f0f0f0 180px,#f7f7f7 184.5px,#fafafa 190px,#fefefe 210px,#fefefe 240px,#ffffff 270px,#ffffff 300px,#ffffff 330px,#fefefe 360px,#fcfcfc 390px,#f9f9f9 420px,#f6f6f6 450px,#f3f3f3 480px,#ececec 510px,#e1e1e1 540px,#d3d3d3 570px,#c0c0c0 600px,#aaaaaa 629px)"></i><i style="left:496px;background:linear-gradient(#00000000 0px,#00000000 228.5px,#00000003 249.5px,#00000005 251.5px,#00000009 252.75px,#0000000f 253.5px,#00000016 254px,#0000001b 254.25px,#00000023 254.5px,#0000002e 254.75px,#0000003e 255px,#00000056 255.25px,#0000007a 255.5px,#000000a8 255.75px,#000000c3 256px,#000000c3 256.25px,#000000a9 256.5px,#0000007a 256.75px,#00000054 257px,#0000003a 257.25px,#0000002a 257.5px,#0000001f 257.75px,#00000018 258px,#0000000f 258.5px,#00000008 259.5px,#00000004 260.75px,#00000002 263px,#00000000 279px,#00000000 629px)"></i><i class="n" style="left:498px;background:linear-gradient(#ffffff 0px,#ffffff 30px,#ffffff 60px,#fefefe 90px,#fdfdfd 120px,#fbfbfb 138.75px,#f4f4f4 150px,#efefef 153px,#e8e8e8 156px,#dbdbdb 158.75px,#c3c3c3 161.5px,#919191 164.25px,#8b8b8b 164.5px,#3f3f3f 166px,#121212 166.75px,#050505 167px,#000000 167.25px,#020202 167.5px,#0d0d0d 167.75px,#2f2f2f 168.25px,#4c4c4c 168.75px,#8e8e8e 170px,#999999 170.25px,#cfcfcf 173px,#e6e6e6 176px,#f0f0f0 178.75px,#f2f2f2 180px,#f8f8f8 184.5px,#fbfbfb 190px,#fefefe 210px,#fefefe 240px,#ffffff 270px,#ffffff 300px,#ffffff 330px,#fefefe 360px,#fcfcfc 390px,#f9f9f9 420px,#f6f6f6 450px,#f3f3f3 480px,#ececec 510px,#e1e1e1 540px,#d3d3d3 570px,#c0c0c0 600px,#aaaaaa 629px)"></i><i style="left:498px;background:linear-gradient(#00000000 0px,#00000000 228.25px,#00000001 243.25px,#00000003 249px,#00000006 251px,#0000000b 252.25px,#0000000f 252.75px,#00000016 253.25px,#00000022 253.75px,#0000002d 254px,#0000003c 254.25px,#00000053 254.5px,#00000075 254.75px,#000000a2 255px,#000000c2 255.25px,#000000c6 255.5px,#000000af 255.75px,#00000082 256px,#00000059 256.25px,#0000003e 256.5px,#0000002c 256.75px,#00000021 257px,#00000019 257.25px,#00000010 257.75px,#00000008 258.75px,#00000004 260px,#00000002 262.25px,#00000000 278.75px,#00000000 629px)"></i><i class="n" style="left:500px;background:linear-gradient(#ffffff 0px,#ffffff 30px,#ffffff 60px,#fefefe 90px,#fdfdfd 120px,#fafafa 138.75px,#f8f8f8 144.5px,#f3f3f3 150px,#eeeeee 153px,#e6e6e6 156px,#d8d8d8 158.75px,#bbbbbb 161.5px,#787878 164.5px,#3b3b3b 166.25px,#121212 167.25px,#1c1c1c 167.5px,#3a3a3a 168px,#555555 168.5px,#a1a1a1 170px,#ababab 170.25px,#d6d6d6 173px,#e9e9e9 176px,#f3f3f3 180px,#f8f8f8 184.5px,#fbfbfb 190px,#fefefe 210px,#fefefe 240px,#ffffff 270px,#ffffff 300px,#ffffff 330px,#fefefe 360px,#fcfcfc 390px,#f9f9f9 420px,#f6f6f6 450px,#f3f3f3 480px,#ececec 510px,#e1e1e1 540px,#d3d3d3 570px,#c0c0c0 600px,#aaaaaa 629px)"></i><i style="left:500px;background:linear-gradient(#00000000 0px,#00000000 227.5px,#00000001 242.5px,#00000003 248.25px,#00000006 250.25px,#0000000b 251.5px,#0000000f 252px,#00000015 252.5px,#00000022 253px,#0000002c 253.25px,#0000003a 253.5px,#00000050 253.75px,#00000070 254px,#0000009d 254.25px,#000000c0 254.5px,#000000c8 254.75px,#000000b4 255px,#0000005e 255.5px,#00000041 255.75px,#0000002f 256px,#00000023 256.25px,#0000001a 256.5px,#00000011 257px,#00000008 258px,#00000004 259.5px,#00000002 261.75px,#00000000 278.5px,#00000000 629px)"></i><i class="n" style="left:502px;background:linear-gradient(#ffffff 0px,#ffffff 30px,#ffffff 60px,#fefefe 90px,#fdfdfd 120px,#fafafa 138.75px,#f8f8f8 144.5px,#f2f2f2 150px,#ededed 153px,#e4e4e4 155.75px,#d3d3d3 158.75px,#b2b2b2 161.5px,#616161 164.5px,#4d4d4d 167.25px,#545454 167.5px,#b2b2b2 170px,#b9b9b9 170.25px,#dcdcdc 173px,#ececec 176px,#f4f4f4 180px,#f9f9f9 184.5px,#fbfbfb 190.25px,#fefefe 210px,#fefefe 240px,#ffffff 270px,#ffffff 300px,#ffffff 330px,#fefefe 360px,#fcfcfc 390px,#f9f9f9 420px,#f6f6f6 450px,#f3f3f3 480px,#ececec 510px,#e1e1e1 540px,#d3d3d3 570px,#c0c0c0 600px,#aaaaaa 629px)"></i><i style="left:502px;background:linear-gradient(#00000000 0px,#00000000 226.75px,#00000001 241.75px,#00000003 247.5px,#00000006 249.5px,#0000000b 250.75px,#0000000f 251.25px,#00000015 251.75px,#00000021 252.25px,#0000002b 252.5px,#00000039 252.75px,#0000004d 253px,#0000006c 253.25px,#00000097 253.5px,#000000bd 253.75px,#000000c9 254px,#000000b9 254.25px,#00000091 254.5px,#00000064 254.75px,#00000045 255px,#00000031 255.25px,#00000024 255.5px,#0000001c 255.75px,#00000011 256.25px,#00000008 257.25px,#00000004 258.75px,#00000002 261px,#00000000 278px,#00000000 629px)"></i><i class="n" style="left:504px;background:linear-gradient(#ffffff 0px,#ffffff 30px,#ffffff 60px,#fefefe 90px,#fdfdfd 120px,#fafafa 138.75px,#f7f7f7 144.5px,#f2f2f2 150px,#ececec 153px,#e2e2e2 155.75px,#cecece 158.75px,#a7a7a7 161.5px,#a0a0a0 161.75px,#474747 164.25px,#414141 164.5px,#727272 167.25px,#bfbfbf 170px,#c5c5c5 170.25px,#e1e1e1 173px,#eeeeee 176px,#f5f5f5 180px,#f9f9f9 184.5px,#fbfbfb 190.25px,#fefefe 210px,#fefefe 240px,#ffffff 270px,#ffffff 300px,#ffffff 330px,#fefefe 360px,#fcfcfc 390px,#f9f9f9 420px,#f6f6f6 450px,#f3f3f3 480px,#ececec 510px,#e1e1e1 540px,#d2d2d2 570px,#c0c0c0 600px,#a9a9a9 629px)"></i><i style="left:504px;background:linear-gradient(#00000000 0px,#00000000 226px,#00000001 241px,#00000003 246.75px,#00000006 248.75px,#0000000b 250px,#0000000e 250.5px,#00000015 251px,#00000020 251.5px,#0000002a 251.75px,#00000037 252px,#0000004b 252.25px,#00000068 252.5px,#000000ba 253px,#000000c9 253.25px,#000000bd 253.5px,#00000098 253.75px,#0000006a 254px,#00000049 254.25px,#00000034 254.5px,#00000026 254.75px,#0000001d 255px,#00000012 255.5px,#00000009 256.5px,#00000004 258px,#00000002 260.25px,#00000000 277.75px,#00000000 629px)"></i><i class="n" style="left:506px;background:linear-gradient(#ffffff 0px,#ffffff 30px,#ffffff 60px,#fefefe 90px,#fdfdfd 120px,#fafafa 138.75px,#f7f7f7 144.5px,#f1f1f1 150px,#eaeaea 153px,#dfdfdf 155.75px,#c8c8c8 158.75px,#999999 161.5px,#909090 161.75px,#585858 163px,#353535 163.75px,#191919 164.25px,#111111 164.5px,#2b2b2b 165px,#424242 165.5px,#8c8c8c 167.25px,#cecece 170.25px,#e5e5e5 173px,#f0f0f0 176px,#f6f6f6 180px,#fcfcfc 190.25px,#fefefe 210px,#fefefe 240px,#ffffff 270px,#ffffff 300px,#ffffff 330px,#fefefe 360px,#fcfcfc 390px,#f9f9f9 420px,#f6f6f6 450px,#f3f3f3 480px,#ececec 510px,#e1e1e1 540px,#d2d2d2 570px,#bfbfbf 600px,#a9a9a9 629px)"></i><i style="left:506px;background:linear-gradient(#00000000 0px,#00000000 225.25px,#00000001 240.25px,#00000003 246px,#00000006 248px,#0000000b 249.25px,#00000011 250px,#00000019 250.5px,#00000020 250.75px,#00000029 251px,#00000035 251.25px,#00000048 251.5px,#00000064 251.75px,#0000008b 252px,#000000b6 252.25px,#000000c9 252.5px,#000000c1 252.75px,#0000009f 253px,#00000070 253.25px,#0000004e 253.5px,#00000037 253.75px,#00000028 254px,#0000001e 254.25px,#00000013 254.75px,#0000000d 255.25px,#00000009 255.75px,#00000004 257.25px,#00000002 259.5px,#00000000 277.25px,#00000000 629px)"></i><i class="n" style="left:508px;background:linear-gradient(#ffffff 0px,#ffffff 30px,#ffffff 60px,#fefefe 90px,#fdfdfd 120px,#fafafa 138.75px,#f7f7f7 144.5px,#f0f0f0 150px,#e8e8e8 153px,#dcdcdc 155.75px,#c0c0c0 158.75px,#888888 161.5px,#7e7e7e 161.75px,#404040 163px,#070707 164px,#010101 164.25px,#000000 164.5px,#040404 164.75px,#121212 165px,#373737 165.5px,#474747 165.75px,#a0a0a0 167.25px,#a6a6a6 167.5px,#d2d2d2 170px,#d5d5d5 170.25px,#e8e8e8 173px,#f1f1f1 176px,#f7f7f7 180px,#fcfcfc 190.25px,#fefefe 210px,#fefefe 240px,#ffffff 270px,#ffffff 300px,#ffffff 330px,#fefefe 360px,#fcfcfc 390px,#f9f9f9 420px,#f6f6f6 450px,#f3f3f3 480px,#ececec 510px,#e1e1e1 540px,#d2d2d2 570px,#bfbfbf 600px,#a9a9a9 629px)"></i><i style="left:508px;background:linear-gradient(#00000000 0px,#00000000 224.25px,#00000001 239.25px,#00000003 245.25px,#00000006 247.25px,#0000000b 248.5px,#00000011 249.25px,#00000019 249.75px,#0000001f 250px,#00000028 250.25px,#00000034 250.5px,#00000046 250.75px,#00000060 251px,#00000086 251.25px,#000000b2 251.5px,#000000c9 251.75px,#000000c4 252px,#000000a5 252.25px,#00000076 252.5px,#00000052 252.75px,#0000003a 253px,#0000002a 253.25px,#00000020 253.5px,#00000019 253.75px,#00000010 254.25px,#00000008 255.25px,#00000004 256.75px,#00000002 259px,#00000000 277px,#00000000 629px)"></i><i class="n" style="left:510px;background:linear-gradient(#ffffff 0px,#ffffff 30px,#ffffff 60px,#fefefe 90px,#fdfdfd 120px,#fafafa 138.75px,#f6f6f6 144.5px,#efefef 150px,#e6e6e6 153px,#d8d8d8 155.75px,#b8b8b8 158.75px,#737373 161.5px,#383838 164.25px,#363636 164.5px,#b1b1b1 167.25px,#b6b6b6 167.5px,#d9d9d9 170px,#dcdcdc 170.25px,#ebebeb 173px,#f3f3f3 176px,#f8f8f8 180px,#fcfcfc 190.25px,#fefefe 210px,#ffffff 240px,#ffffff 270px,#ffffff 300px,#ffffff 330px,#fefefe 360px,#fcfcfc 390px,#f9f9f9 420px,#f6f6f6 450px,#f3f3f3 480px,#ececec 510px,#e1e1e1 540px,#d2d2d2 570px,#bfbfbf 600px,#a9a9a9 629px)"></i><i style="left:510px;background:linear-gradient(#00000000 0px,#00000000 223.5px,#00000001 238.5px,#00000003 244.5px,#00000006 246.5px,#0000000a 247.75px,#00000011 248.5px,#00000018 249px,#0000001e 249.25px,#00000027 249.5px,#00000033 249.75px,#00000044 250px,#0000005d 250.25px,#00000081 250.5px,#000000ae 250.75px,#000000c8 251px,#000000c6 251.25px,#000000ab 251.5px,#0000007d 251.75px,#00000057 252px,#0000003d 252.25px,#0000002c 252.5px,#00000021 252.75px,#0000001a 253px,#00000011 253.5px,#00000008 254.5px,#00000004 256px,#00000002 258.25px,#00000000 276.5px,#00000000 629px)"></i><i class="n" style="left:512px;background:linear-gradient(#ffffff 0px,#ffffff 30px,#ffffff 60px,#fefefe 90px,#fdfdfd 120px,#fbfbfb 133px,#f8f8f8 141.5px,#f3f3f3 147.25px,#ededed 150px,#e4e4e4 153px,#d3d3d3 155.75px,#b1b1b1 158.5px,#adadad 158.75px,#575757 161.5px,#555555 161.75px,#626262 164.25px,#656565 164.5px,#bebebe 167.25px,#dedede 170px,#ededed 173px,#f4f4f4 176px,#f8f8f8 180px,#fcfcfc 190.25px,#fefefe 210px,#ffffff 240px,#ffffff 270px,#ffffff 300px,#ffffff 330px,#fefefe 360px,#fcfcfc 390px,#f9f9f9 420px,#f6f6f6 450px,#f3f3f3 480px,#ececec 510px,#e1e1e1 540px,#d2d2d2 570px,#bfbfbf 600px,#a9a9a9 629px)"></i><i style="left:512px;background:linear-gradient(#00000000 0px,#00000000 222.75px,#00000001 237.75px,#00000003 243.75px,#00000006 245.75px,#0000000a 247px,#00000010 247.75px,#00000018 248.25px,#0000001e 248.5px,#00000026 248.75px,#00000031 249px,#00000042 249.25px,#0000005a 249.5px,#0000007c 249.75px,#000000a9 250px,#000000c6 250.25px,#000000c9 250.5px,#000000b1 250.75px,#00000083 251px,#0000005b 251.25px,#00000040 251.5px,#0000002f 251.75px,#00000023 252px,#0000001b 252.25px,#00000011 252.75px,#00000009 253.75px,#00000004 255.25px,#00000002 257.5px,#00000000 276.25px,#00000000 629px)"></i><i class="n" style="left:514px;background:linear-gradient(#ffffff 0px,#ffffff 30px,#ffffff 60px,#fefefe 90px,#fdfdfd 120px,#fbfbfb 133px,#f8f8f8 141.5px,#f2f2f2 147.25px,#ececec 150px,#e1e1e1 153px,#cecece 155.75px,#a5a5a5 158.5px,#a0a0a0 158.75px,#505050 160.75px,#303030 161.5px,#313131 161.75px,#515151 162.75px,#858585 164.5px,#c9c9c9 167.25px,#cccccc 167.5px,#e5e5e5 170.25px,#efefef 173px,#f5f5f5 176px,#f9f9f9 180px,#fcfcfc 190.25px,#fefefe 210px,#ffffff 240px,#ffffff 270px,#ffffff 300px,#ffffff 330px,#fefefe 360px,#fcfcfc 390px,#f9f9f9 420px,#f6f6f6 450px,#f3f3f3 480px,#ececec 510px,#e1e1e1 540px,#d2d2d2 570px,#bfbfbf 600px,#a9a9a9 629px)"></i><i style="left:514px;background:linear-gradient(#00000000 0px,#00000000 222px,#00000001 237px,#00000003 243px,#00000006 245px,#0000000a 246.25px,#00000010 247px,#00000018 247.5px,#0000001d 247.75px,#00000025 248px,#00000030 248.25px,#00000040 248.5px,#00000057 248.75px,#00000077 249px,#000000a3 249.25px,#000000c4 249.5px,#000000ca 249.75px,#000000b5 250px,#00000060 250.5px,#00000044 250.75px,#00000031 251px,#00000024 251.25px,#0000001c 251.5px,#00000012 252px,#00000009 253px,#00000004 254.5px,#00000002 256.75px,#00000000 275.75px,#00000000 629px)"></i><i class="n" style="left:516px;background:linear-gradient(#ffffff 0px,#ffffff 30px,#ffffff 60px,#fefefe 90px,#fdfdfd 120px,#fbfbfb 133px,#f7f7f7 141.5px,#f1f1f1 147.25px,#ebebeb 150px,#dedede 153px,#c7c7c7 155.75px,#969696 158.5px,#919191 158.75px,#444444 160.25px,#080808 161.25px,#010101 161.5px,#020202 161.75px,#0d0d0d 162px,#3f3f3f 162.75px,#919191 164.25px,#9d9d9d 164.5px,#d2d2d2 167.25px,#e8e8e8 170.25px,#f1f1f1 173px,#f6f6f6 176px,#f9f9f9 180px,#fcfcfc 190.25px,#fefefe 210px,#ffffff 240px,#ffffff 270px,#ffffff 300px,#ffffff 330px,#fefefe 360px,#fcfcfc 390px,#f9f9f9 420px,#f6f6f6 450px,#f3f3f3 480px,#ececec 510px,#e1e1e1 540px,#d2d2d2 570px,#bfbfbf 600px,#a8a8a8 629px)"></i><i style="left:516px;background:linear-gradient(#00000000 0px,#00000000 221.25px,#00000001 236.25px,#00000003 242.25px,#00000006 244.25px,#0000000a 245.5px,#00000010 246.25px,#00000017 246.75px,#0000001d 247px,#00000024 247.25px,#0000002f 247.5px,#0000003e 247.75px,#00000054 248px,#00000073 248.25px,#0000009e 248.5px,#000000c2 248.75px,#000000cc 249px,#000000ba 249.25px,#00000091 249.5px,#00000065 249.75px,#00000047 250px,#00000033 250.25px,#00000026 250.5px,#0000001d 250.75px,#00000012 251.25px,#00000009 252.25px,#00000004 253.75px,#00000002 256.25px,#00000000 275.5px,#00000000 629px)"></i><i class="n" style="left:518px;background:linear-gradient(#ffffff 0px,#ffffff 30px,#ffffff 60px,#fefefe 90px,#fdfdfd 120px,#fbfbfb 133px,#f7f7f7 141.5px,#f0f0f0 147.25px,#e9e9e9 150px,#dbdbdb 153px,#c0c0c0 155.75px,#bcbcbc 156px,#7e7e7e 158.75px,#3f3f3f 160.5px,#151515 161.5px,#1c1c1c 161.75px,#2c2c2c 162px,#494949 162.5px,#a4a4a4 164.25px,#afafaf 164.5px,#d9d9d9 167.25px,#ebebeb 170.25px,#f2f2f2 173px,#fafafa 180px,#fdfdfd 190.25px,#fefefe 210px,#ffffff 240px,#ffffff 270px,#ffffff 300px,#ffffff 330px,#fefefe 360px,#fcfcfc 390px,#f9f9f9 420px,#f6f6f6 450px,#f3f3f3 480px,#ececec 510px,#e1e1e1 540px,#d2d2d2 570px,#bfbfbf 600px,#a8a8a8 629px)"></i><i style="left:518px;background:linear-gradient(#00000000 0px,#00000000 220.5px,#00000001 235.5px,#00000003 241.5px,#00000006 243.75px,#0000000c 245px,#00000013 245.75px,#0000001c 246.25px,#00000023 246.5px,#0000002d 246.75px,#0000003c 247px,#00000051 247.25px,#0000006f 247.5px,#000000bf 248px,#000000cc 248.25px,#000000be 248.5px,#00000098 248.75px,#0000006b 249px,#0000004b 249.25px,#00000036 249.5px,#00000028 249.75px,#0000001e 250px,#00000013 250.5px,#0000000d 251px,#00000009 251.5px,#00000004 253px,#00000002 255.5px,#00000000 275px,#00000000 629px)"></i><i class="n" style="left:520px;background:linear-gradient(#ffffff 0px,#ffffff 30px,#ffffff 60px,#fefefe 90px,#fdfdfd 120px,#fbfbfb 133px,#f6f6f6 141.5px,#efefef 147.25px,#e7e7e7 150px,#d6d6d6 153px,#b7b7b7 155.75px,#b2b2b2 156px,#666666 158.75px,#515151 161.5px,#565656 161.75px,#bdbdbd 164.5px,#dedede 167.25px,#ededed 170.25px,#f4f4f4 173px,#fafafa 180px,#fdfdfd 190.25px,#fefefe 210px,#ffffff 240px,#ffffff 270px,#ffffff 300px,#ffffff 330px,#fefefe 360px,#fcfcfc 390px,#f9f9f9 420px,#f6f6f6 450px,#f3f3f3 480px,#ececec 510px,#e1e1e1 540px,#d2d2d2 570px,#bfbfbf 600px,#a8a8a8 629px)"></i><i style="left:520px;background:linear-gradient(#00000000 0px,#00000000 219.75px,#00000001 234.75px,#00000003 240.75px,#00000006 243px,#0000000c 244.25px,#00000013 245px,#0000001c 245.5px,#00000023 245.75px,#0000002c 246px,#0000003a 246.25px,#0000004e 246.5px,#0000006b 246.75px,#000000bb 247.25px,#000000cc 247.5px,#000000c1 247.75px,#0000009e 248px,#00000070 248.25px,#0000004f 248.5px,#00000038 248.75px,#0000002a 249px,#00000020 249.25px,#00000014 249.75px,#0000000d 250.25px,#0000000a 250.75px,#00000005 252.25px,#00000002 254.75px,#00000000 274.75px,#00000000 629px)"></i><i class="n" style="left:522px;background:linear-gradient(#ffffff 0px,#ffffff 30px,#ffffff 60px,#fefefe 90px,#fdfdfd 120px,#fbfbfb 133px,#f6f6f6 141.5px,#ededed 147.25px,#e4e4e4 150px,#d1d1d1 153px,#acacac 155.75px,#a5a5a5 156px,#444444 158.75px,#757575 161.5px,#c8c8c8 164.5px,#e3e3e3 167.25px,#efefef 170.25px,#f5f5f5 173px,#fafafa 180px,#fdfdfd 190.25px,#fefefe 210px,#ffffff 240px,#ffffff 270px,#ffffff 300px,#ffffff 330px,#fefefe 360px,#fcfcfc 390px,#f9f9f9 420px,#f6f6f6 450px,#f3f3f3 480px,#ececec 510px,#e1e1e1 540px,#d2d2d2 570px,#bfbfbf 600px,#a8a8a8 629px)"></i><i style="left:522px;background:linear-gradient(#00000000 0px,#00000000 218.75px,#00000001 234px,#00000003 240px,#00000006 242.25px,#0000000b 243.5px,#00000012 244.25px,#0000001b 244.75px,#00000022 245px,#0000002b 245.25px,#00000038 245.5px,#0000004c 245.75px,#00000067 246px,#0000008d 246.25px,#000000b8 246.5px,#000000cc 246.75px,#000000c5 247px,#000000a4 247.25px,#00000076 247.5px,#00000053 247.75px,#0000003b 248px,#0000002b 248.25px,#00000021 248.5px,#0000001a 248.75px,#00000014 249px,#0000000e 249.5px,#00000009 250.25px,#00000004 251.75px,#00000002 254px,#00000000 274.25px,#00000000 629px)"></i><i class="n" style="left:524px;background:linear-gradient(#ffffff 0px,#ffffff 30px,#ffffff 60px,#fefefe 90px,#fdfdfd 120px,#fafafa 133px,#f5f5f5 141.5px,#ececec 147.25px,#e2e2e2 150px,#cccccc 153px,#9e9e9e 155.75px,#969696 156px,#525252 157.5px,#3a3a3a 158px,#121212 158.75px,#2d2d2d 159.25px,#444444 159.75px,#8f8f8f 161.5px,#969696 161.75px,#d1d1d1 164.5px,#e7e7e7 167.25px,#f1f1f1 170.25px,#f6f6f6 173.25px,#fbfbfb 180px,#fefefe 210px,#ffffff 240px,#ffffff 270px,#ffffff 300px,#ffffff 330px,#fefefe 360px,#fcfcfc 390px,#f9f9f9 420px,#f6f6f6 450px,#f3f3f3 480px,#ececec 510px,#e1e1e1 540px,#d2d2d2 570px,#bebebe 600px,#a8a8a8 629px)"></i><i style="left:524px;background:linear-gradient(#00000000 0px,#00000000 218px,#00000001 233.25px,#00000003 239.25px,#00000006 241.5px,#0000000b 242.75px,#00000012 243.5px,#0000001b 244px,#00000021 244.25px,#0000002a 244.5px,#00000037 244.75px,#00000049 245px,#00000063 245.25px,#00000088 245.5px,#000000b4 245.75px,#000000cb 246px,#000000c7 246.25px,#000000aa 246.5px,#0000007c 246.75px,#00000057 247px,#0000003e 247.25px,#0000002d 247.5px,#00000022 247.75px,#0000001b 248px,#00000015 248.25px,#0000000e 248.75px,#00000008 249.75px,#00000004 251.25px,#00000002 253.5px,#00000000 273.75px,#00000000 629px)"></i><i class="n" style="left:526px;background:linear-gradient(#ffffff 0px,#ffffff 30px,#ffffff 60px,#fefefe 90px,#fdfdfd 120px,#fafafa 133px,#f5f5f5 141.5px,#f1f1f1 144.5px,#eaeaea 147.25px,#dedede 150px,#c5c5c5 153px,#8d8d8d 155.75px,#848484 156px,#444444 157.25px,#090909 158.25px,#010101 158.5px,#000000 158.75px,#030303 159px,#111111 159.25px,#363636 159.75px,#464646 160px,#a2a2a2 161.5px,#aaaaaa 161.75px,#d8d8d8 164.5px,#eaeaea 167.25px,#f2f2f2 170.25px,#f7f7f7 173.25px,#fbfbfb 180px,#fefefe 210px,#ffffff 240px,#ffffff 270px,#ffffff 300px,#ffffff 330px,#fefefe 360px,#fcfcfc 390px,#f9f9f9 420px,#f6f6f6 450px,#f3f3f3 480px,#ececec 510px,#e1e1e1 540px,#d2d2d2 570px,#bebebe 600px,#a8a8a8 629px)"></i><i style="left:526px;background:linear-gradient(#00000000 0px,#00000000 217.25px,#00000001 232.5px,#00000003 238.5px,#00000006 240.75px,#0000000b 242px,#00000012 242.75px,#0000001a 243.25px,#00000020 243.5px,#00000029 243.75px,#00000035 244px,#00000047 244.25px,#00000060 244.5px,#00000083 244.75px,#000000af 245px,#000000ca 245.25px,#000000ca 245.5px,#000000af 245.75px,#00000081 246px,#0000005b 246.25px,#00000041 246.5px,#0000002f 246.75px,#00000024 247px,#0000001c 247.25px,#00000016 247.5px,#0000000f 248px,#00000008 249px,#00000004 250.5px,#00000002 252.75px,#00000000 273.25px,#00000000 629px)"></i><i class="n" style="left:528px;background:linear-gradient(#ffffff 0px,#ffffff 30px,#ffffff 60px,#fefefe 90px,#fdfdfd 120px,#fafafa 133px,#f4f4f4 141.5px,#f0f0f0 144.5px,#e8e8e8 147.25px,#dbdbdb 150px,#bcbcbc 153px,#787878 155.75px,#383838 158.75px,#b4b4b4 161.5px,#bababa 161.75px,#dedede 164.5px,#ececec 167.25px,#f4f4f4 170.25px,#f7f7f7 173.25px,#fbfbfb 180px,#fefefe 210px,#ffffff 240px,#ffffff 270px,#ffffff 300px,#ffffff 330px,#fefefe 360px,#fcfcfc 390px,#f9f9f9 420px,#f6f6f6 450px,#f3f3f3 480px,#ececec 510px,#e1e1e1 540px,#d2d2d2 570px,#bebebe 600px,#a7a7a7 629px)"></i><i style="left:528px;background:linear-gradient(#00000000 0px,#00000000 216.5px,#00000001 231.75px,#00000003 237.75px,#00000006 240px,#0000000b 241.25px,#00000012 242px,#0000001a 242.5px,#00000020 242.75px,#00000028 243px,#00000034 243.25px,#00000045 243.5px,#0000005d 243.75px,#0000007e 244px,#000000aa 244.25px,#000000c8 244.5px,#000000cc 244.75px,#000000b4 245px,#00000088 245.25px,#0000005f 245.5px,#00000044 245.75px,#00000031 246px,#00000025 246.25px,#0000001d 246.5px,#00000017 246.75px,#0000000f 247.25px,#00000008 248.25px,#00000004 249.75px,#00000002 252px,#00000000 273px,#00000000 629px)"></i><i class="n" style="left:530px;background:linear-gradient(#ffffff 0px,#ffffff 30px,#ffffff 60px,#fefefe 90px,#fdfdfd 120px,#fafafa 133px,#f4f4f4 141.5px,#efefef 144.5px,#e6e6e6 147.25px,#d6d6d6 150px,#b2b2b2 153px,#5c5c5c 155.75px,#595959 156px,#686868 158.75px,#c1c1c1 161.5px,#c6c6c6 161.75px,#e3e3e3 164.5px,#efefef 167.25px,#f5f5f5 170.25px,#f8f8f8 173.25px,#fbfbfb 180px,#fefefe 210px,#ffffff 240px,#ffffff 270px,#ffffff 300px,#ffffff 330px,#fefefe 360px,#fcfcfc 390px,#f9f9f9 420px,#f6f6f6 450px,#f3f3f3 480px,#ececec 510px,#e1e1e1 540px,#d2d2d2 570px,#bebebe 600px,#a7a7a7 629px)"></i><i style="left:530px;background:linear-gradient(#00000000 0px,#00000000 216.25px,#00000001 231.25px,#00000003 237.25px,#00000006 239.25px,#0000000b 240.5px,#00000011 241.25px,#00000019 241.75px,#0000001f 242px,#00000027 242.25px,#00000032 242.5px,#00000042 242.75px,#00000059 243px,#0000007a 243.25px,#000000a5 243.5px,#000000c6 243.75px,#000000cd 244px,#000000b8 244.25px,#00000064 244.75px,#00000047 245px,#00000033 245.25px,#00000026 245.5px,#0000001e 245.75px,#00000013 246.25px,#00000009 247.25px,#00000004 248.75px,#00000002 251.25px,#00000000 272.5px,#00000000 629px)"></i><i class="n" style="left:532px;background:linear-gradient(#ffffff 0px,#ffffff 30px,#ffffff 60px,#fefefe 90px,#fdfdfd 120px,#fafafa 133px,#f3f3f3 141.5px,#ededed 144.5px,#e4e4e4 147.25px,#d1d1d1 150px,#a6a6a6 153px,#555555 155px,#353535 155.75px,#343434 156px,#545454 157px,#898989 158.75px,#cccccc 161.5px,#d0d0d0 161.75px,#e5e5e5 164.25px,#f1f1f1 167.25px,#f6f6f6 170.25px,#fcfcfc 180px,#fefefe 210px,#ffffff 240px,#ffffff 270px,#ffffff 300px,#ffffff 330px,#fefefe 360px,#fcfcfc 390px,#f9f9f9 420px,#f6f6f6 450px,#f3f3f3 480px,#ececec 510px,#e1e1e1 540px,#d2d2d2 570px,#bebebe 600px,#a7a7a7 629px)"></i><i style="left:532px;background:linear-gradient(#00000000 0px,#00000000 215.5px,#00000001 230.5px,#00000003 236.5px,#00000006 238.5px,#0000000b 239.75px,#00000011 240.5px,#00000019 241px,#0000001e 241.25px,#00000026 241.5px,#00000031 241.75px,#00000040 242px,#00000056 242.25px,#00000076 242.5px,#000000a0 242.75px,#000000c4 243px,#000000ce 243.25px,#000000bc 243.5px,#00000094 243.75px,#00000069 244px,#0000004a 244.25px,#00000036 244.5px,#00000028 244.75px,#0000001f 245px,#00000013 245.5px,#0000000d 246px,#0000000a 246.5px,#00000005 248px,#00000002 250.5px,#00000000 272px,#00000000 629px)"></i><i class="n" style="left:534px;background:linear-gradient(#ffffff 0px,#ffffff 30px,#ffffff 60px,#fefefe 90px,#fdfdfd 120px,#f9f9f9 133px,#f2f2f2 141.5px,#ececec 144.5px,#e1e1e1 147.25px,#cbcbcb 150px,#c8c8c8 150.25px,#979797 153px,#3b3b3b 154.75px,#0b0b0b 155.5px,#020202 155.75px,#020202 156px,#0d0d0d 156.25px,#303030 156.75px,#4e4e4e 157.25px,#a0a0a0 158.75px,#d4d4d4 161.5px,#d7d7d7 161.75px,#eaeaea 164.5px,#f2f2f2 167.25px,#f9f9f9 173px,#fcfcfc 180px,#fefefe 210px,#ffffff 240px,#ffffff 270px,#ffffff 300px,#ffffff 330px,#fefefe 360px,#fcfcfc 390px,#f9f9f9 420px,#f6f6f6 450px,#f3f3f3 480px,#ececec 510px,#e1e1e1 540px,#d1d1d1 570px,#bebebe 600px,#a7a7a7 629px)"></i><i style="left:534px;background:linear-gradient(#00000000 0px,#00000000 214.75px,#00000001 229.75px,#00000003 235.75px,#00000007 238px,#0000000c 239.25px,#00000014 240px,#0000001e 240.5px,#00000025 240.75px,#00000030 241px,#0000003e 241.25px,#00000054 241.5px,#00000071 241.75px,#000000c1 242.25px,#000000ce 242.5px,#000000c0 242.75px,#0000009a 243px,#0000006d 243.25px,#0000004d 243.5px,#00000038 243.75px,#00000029 244px,#00000020 244.25px,#00000014 244.75px,#0000000e 245.25px,#0000000a 245.75px,#00000005 247.25px,#00000002 249.75px,#00000000 271.5px,#00000000 629px)"></i><i class="n" style="left:536px;background:linear-gradient(#ffffff 0px,#ffffff 30px,#ffffff 60px,#fefefe 90px,#fdfdfd 120px,#f9f9f9 133px,#f5f5f5 138.75px,#f1f1f1 141.5px,#eaeaea 144.5px,#dedede 147.25px,#c4c4c4 150px,#c0c0c0 150.25px,#838383 153px,#444444 154.75px,#2f2f2f 155.25px,#191919 155.75px,#1c1c1c 156px,#2c2c2c 156.25px,#494949 156.75px,#b2b2b2 158.75px,#dbdbdb 161.5px,#ededed 164.5px,#f3f3f3 167.25px,#f9f9f9 173px,#fcfcfc 180px,#fefefe 210px,#ffffff 240px,#ffffff 270px,#ffffff 300px,#ffffff 330px,#fefefe 360px,#fcfcfc 390px,#f9f9f9 420px,#f6f6f6 450px,#f3f3f3 480px,#ececec 510px,#e1e1e1 540px,#d1d1d1 570px,#bebebe 600px,#a7a7a7 629px)"></i><i style="left:536px;background:linear-gradient(#00000000 0px,#00000000 214px,#00000001 229px,#00000003 235px,#00000007 237.25px,#0000000c 238.5px,#00000014 239.25px,#0000001d 239.75px,#00000024 240px,#0000002e 240.25px,#0000003d 240.5px,#00000051 240.75px,#0000006d 241px,#000000bd 241.5px,#000000ce 241.75px,#000000c3 242px,#000000a0 242.25px,#00000072 242.5px,#00000051 242.75px,#0000003a 243px,#0000002b 243.25px,#00000021 243.5px,#0000001a 243.75px,#00000015 244px,#0000000e 244.5px,#00000008 245.5px,#00000004 247px,#00000002 249.25px,#00000000 271px,#00000000 629px)"></i><i class="n" style="left:538px;background:linear-gradient(#ffffff 0px,#ffffff 30px,#ffffff 60px,#fefefe 90px,#fcfcfc 120px,#f9f9f9 133px,#f4f4f4 138.75px,#f0f0f0 141.5px,#e8e8e8 144.5px,#dadada 147.25px,#bbbbbb 150px,#b7b7b7 150.25px,#6b6b6b 153px,#555555 155.75px,#595959 156px,#c0c0c0 158.75px,#e2e2e2 161.75px,#efefef 164.5px,#f5f5f5 167.25px,#fafafa 173px,#fcfcfc 180px,#fefefe 210px,#ffffff 240px,#ffffff 270px,#ffffff 300px,#ffffff 330px,#fefefe 360px,#fcfcfc 390px,#f9f9f9 420px,#f6f6f6 450px,#f3f3f3 480px,#ececec 510px,#e1e1e1 540px,#d1d1d1 570px,#bebebe 600px,#a7a7a7 629px)"></i><i style="left:538px;background:linear-gradient(#00000000 0px,#00000000 213.25px,#00000001 228.25px,#00000003 234.25px,#00000007 236.5px,#0000000c 237.75px,#00000013 238.5px,#0000001c 239px,#00000023 239.25px,#0000002d 239.5px,#0000003b 239.75px,#0000004e 240px,#0000006a 240.25px,#00000090 240.5px,#000000ba 240.75px,#000000ce 241px,#000000c6 241.25px,#000000a6 241.5px,#00000077 241.75px,#00000054 242px,#0000003c 242.25px,#0000002d 242.5px,#00000022 242.75px,#0000001a 243px,#00000015 243.25px,#0000000e 243.75px,#00000008 244.75px,#00000004 246.25px,#00000002 248.5px,#00000000 270.5px,#00000000 629px)"></i><i class="n" style="left:540px;background:linear-gradient(#ffffff 0px,#ffffff 30px,#ffffff 60px,#fefefe 90px,#fcfcfc 120px,#f9f9f9 133px,#f4f4f4 138.75px,#efefef 141.5px,#e6e6e6 144.5px,#d5d5d5 147.25px,#b0b0b0 150px,#ababab 150.25px,#494949 153px,#797979 155.75px,#cbcbcb 158.75px,#e5e5e5 161.5px,#f1f1f1 164.5px,#f6f6f6 167.25px,#fafafa 173px,#fcfcfc 180px,#fefefe 210px,#ffffff 240px,#ffffff 270px,#ffffff 300px,#ffffff 330px,#fefefe 360px,#fcfcfc 390px,#f9f9f9 420px,#f6f6f6 450px,#f3f3f3 480px,#ececec 510px,#e1e1e1 540px,#d1d1d1 570px,#bdbdbd 600px,#a6a6a6 629px)"></i><i style="left:540px;background:linear-gradient(#00000000 0px,#00000000 212.5px,#00000001 227.5px,#00000003 233.5px,#00000007 235.75px,#0000000c 237px,#00000013 237.75px,#0000001c 238.25px,#00000023 238.5px,#0000002c 238.75px,#00000039 239px,#0000004c 239.25px,#00000066 239.5px,#0000008b 239.75px,#000000b6 240px,#000000cd 240.25px,#000000c9 240.5px,#000000ab 240.75px,#0000007d 241px,#00000058 241.25px,#0000003f 241.5px,#0000002e 241.75px,#00000023 242px,#0000001b 242.25px,#00000016 242.5px,#0000000f 243px,#00000008 244px,#00000004 245.5px,#00000002 247.75px,#00000000 270px,#00000000 629px)"></i><i class="n" style="left:542px;background:linear-gradient(#ffffff 0px,#ffffff 30px,#ffffff 60px,#fefefe 90px,#fcfcfc 120px,#f8f8f8 133px,#f3f3f3 138.75px,#eeeeee 141.5px,#e3e3e3 144.5px,#cfcfcf 147.25px,#a3a3a3 150px,#9c9c9c 150.25px,#4b4b4b 152px,#323232 152.5px,#151515 153px,#464646 154px,#929292 155.75px,#9a9a9a 156px,#d4d4d4 158.75px,#e9e9e9 161.5px,#f2f2f2 164.5px,#f9f9f9 170.25px,#fcfcfc 180px,#fefefe 210px,#ffffff 240px,#ffffff 270px,#ffffff 300px,#ffffff 330px,#fefefe 360px,#fcfcfc 390px,#f9f9f9 420px,#f6f6f6 450px,#f3f3f3 480px,#ececec 510px,#e1e1e1 540px,#d1d1d1 570px,#bdbdbd 600px,#a6a6a6 629px)"></i><i style="left:542px;background:linear-gradient(#00000000 0px,#00000000 211.75px,#00000001 226.75px,#00000003 232.75px,#00000007 235px,#0000000c 236.25px,#00000013 237px,#0000001b 237.5px,#00000022 237.75px,#0000002b 238px,#00000037 238.25px,#00000049 238.5px,#00000063 238.75px,#00000086 239px,#000000b1 239.25px,#000000cc 239.5px,#000000cb 239.75px,#000000b0 240px,#00000082 240.25px,#0000005c 240.5px,#00000041 240.75px,#00000030 241px,#00000024 241.25px,#0000001c 241.5px,#00000016 241.75px,#0000000f 242.25px,#00000008 243.25px,#00000004 244.75px,#00000002 247px,#00000000 269.5px,#00000000 629px)"></i><i class="n" style="left:544px;background:linear-gradient(#ffffff 0px,#ffffff 30px,#ffffff 60px,#fefefe 90px,#fcfcfc 120px,#f8f8f8 133px,#f2f2f2 138.75px,#ebebeb 141.75px,#e0e0e0 144.5px,#c9c9c9 147.25px,#939393 150px,#8b8b8b 150.25px,#494949 151.5px,#2c2c2c 152px,#0b0b0b 152.5px,#020202 152.75px,#000000 153px,#020202 153.25px,#0f0f0f 153.5px,#353535 154px,#565656 154.5px,#a4a4a4 155.75px,#aeaeae 156px,#dbdbdb 158.75px,#ececec 161.5px,#f4f4f4 164.5px,#fafafa 170.25px,#fdfdfd 180px,#fefefe 210px,#ffffff 240px,#ffffff 270px,#ffffff 300px,#ffffff 330px,#fefefe 360px,#fcfcfc 390px,#f9f9f9 420px,#f6f6f6 450px,#f3f3f3 480px,#ececec 510px,#e1e1e1 540px,#d1d1d1 570px,#bdbdbd 600px,#a6a6a6 629px)"></i><i style="left:544px;background:linear-gradient(#00000000 0px,#00000000 211px,#00000001 226px,#00000003 232px,#00000006 234.25px,#0000000c 235.5px,#00000012 236.25px,#0000001b 236.75px,#00000021 237px,#0000002a 237.25px,#00000036 237.5px,#00000047 237.75px,#0000005f 238px,#00000081 238.25px,#000000ad 238.5px,#000000ca 238.75px,#000000cc 239px,#000000b4 239.25px,#00000087 239.5px,#00000060 239.75px,#00000044 240px,#00000032 240.25px,#00000025 240.5px,#0000001d 240.75px,#00000017 241px,#0000000f 241.5px,#00000008 242.5px,#00000004 244px,#00000002 246.25px,#00000000 269px,#00000000 629px)"></i><i class="n" style="left:546px;background:linear-gradient(#ffffff 0px,#ffffff 30px,#ffffff 60px,#fefefe 90px,#fcfcfc 120px,#f8f8f8 133px,#f1f1f1 138.75px,#e9e9e9 141.75px,#dcdcdc 144.5px,#c0c0c0 147.25px,#7e7e7e 150px,#3b3b3b 153px,#b6b6b6 155.75px,#bdbdbd 156px,#e1e1e1 158.75px,#eeeeee 161.5px,#f5f5f5 164.5px,#fafafa 170.25px,#fdfdfd 180px,#fefefe 210px,#ffffff 240px,#ffffff 270px,#ffffff 300px,#ffffff 330px,#fefefe 360px,#fcfcfc 390px,#f9f9f9 420px,#f6f6f6 450px,#f3f3f3 480px,#ececec 510px,#e1e1e1 540px,#d1d1d1 570px,#bdbdbd 600px,#a6a6a6 629px)"></i><i style="left:546px;background:linear-gradient(#00000000 0px,#00000000 210.25px,#00000001 225.25px,#00000003 231.25px,#00000006 233.5px,#0000000b 234.75px,#00000012 235.5px,#0000001a 236px,#00000020 236.25px,#00000029 236.5px,#00000034 236.75px,#00000045 237px,#0000005c 237.25px,#0000007d 237.5px,#000000a8 237.75px,#000000c8 238px,#000000cd 238.25px,#000000b8 238.5px,#00000064 239px,#00000047 239.25px,#00000033 239.5px,#00000026 239.75px,#0000001e 240px,#00000017 240.25px,#00000010 240.75px,#00000008 241.75px,#00000004 243.25px,#00000002 245.5px,#00000000 268.5px,#00000000 629px)"></i><i class="n" style="left:548px;background:linear-gradient(#ffffff 0px,#ffffff 30px,#ffffff 60px,#fefefe 90px,#fcfcfc 120px,#f9f9f9 130px,#f5f5f5 135.75px,#f0f0f0 138.75px,#e7e7e7 141.75px,#d8d8d8 144.5px,#b7b7b7 147.25px,#626262 150px,#5d5d5d 150.25px,#6c6c6c 153px,#c4c4c4 155.75px,#c9c9c9 156px,#e5e5e5 158.75px,#f0f0f0 161.5px,#f6f6f6 164.5px,#fafafa 170.25px,#fdfdfd 180px,#fefefe 210px,#ffffff 240px,#ffffff 270px,#ffffff 300px,#ffffff 330px,#fefefe 360px,#fcfcfc 390px,#f9f9f9 420px,#f6f6f6 450px,#f3f3f3 480px,#ececec 510px,#e1e1e1 540px,#d1d1d1 570px,#bdbdbd 600px,#a6a6a6 629px)"></i><i style="left:548px;background:linear-gradient(#00000000 0px,#00000000 210px,#00000001 224.75px,#00000003 230.75px,#00000006 232.75px,#0000000b 234px,#00000012 234.75px,#0000001a 235.25px,#0000001f 235.5px,#00000027 235.75px,#00000033 236px,#00000042 236.25px,#00000059 236.5px,#00000078 236.75px,#000000a3 237px,#000000c5 237.25px,#000000ce 237.5px,#000000bc 237.75px,#00000068 238.25px,#00000049 238.5px,#00000035 238.75px,#00000028 239px,#0000001e 239.25px,#00000013 239.75px,#0000000d 240.25px,#0000000a 240.75px,#00000005 242.25px,#00000002 244.75px,#00000000 268px,#00000000 629px)"></i><i class="n" style="left:550px;background:linear-gradient(#ffffff 0px,#ffffff 30px,#ffffff 60px,#fefefe 90px,#fcfcfc 120px,#f9f9f9 130px,#f4f4f4 136px,#efefef 138.75px,#e6e6e6 141.5px,#d5d5d5 144.25px,#d3d3d3 144.5px,#ababab 147.25px,#646464 149px,#3b3b3b 150px,#373737 150.25px,#8c8c8c 153px,#cfcfcf 155.75px,#d3d3d3 156px,#e9e9e9 158.75px,#f2f2f2 161.5px,#f7f7f7 164.5px,#fbfbfb 170.25px,#fdfdfd 180px,#fefefe 210px,#ffffff 240px,#ffffff 270px,#ffffff 300px,#ffffff 330px,#fefefe 360px,#fcfcfc 390px,#f9f9f9 420px,#f6f6f6 450px,#f3f3f3 480px,#ececec 510px,#e1e1e1 540px,#d1d1d1 570px,#bdbdbd 600px,#a5a5a5 629px)"></i><i style="left:550px;background:linear-gradient(#00000000 0px,#00000000 209.25px,#00000001 224px,#00000003 230px,#00000006 232px,#0000000b 233.25px,#00000011 234px,#00000019 234.5px,#0000001f 234.75px,#00000026 235px,#00000031 235.25px,#00000040 235.5px,#00000056 235.75px,#00000074 236px,#0000009d 236.25px,#000000c3 236.5px,#000000cf 236.75px,#000000bf 237px,#00000099 237.25px,#0000006c 237.5px,#0000004c 237.75px,#00000037 238px,#00000029 238.25px,#0000001f 238.5px,#00000014 239px,#0000000d 239.5px,#0000000a 240px,#00000005 241.5px,#00000002 244px,#00000000 267.25px,#00000000 629px)"></i><i class="n" style="left:552px;background:linear-gradient(#ffffff 0px,#ffffff 30px,#ffffff 60px,#fefefe 90px,#fcfcfc 120px,#f9f9f9 130px,#f3f3f3 136px,#ededed 138.75px,#e3e3e3 141.5px,#cfcfcf 144.25px,#cccccc 144.5px,#9c9c9c 147.25px,#909090 147.5px,#4d4d4d 148.75px,#313131 149.25px,#0f0f0f 149.75px,#030303 150px,#020202 150.25px,#0d0d0d 150.5px,#303030 151px,#404040 151.25px,#a4a4a4 153px,#d7d7d7 155.75px,#dadada 156px,#ececec 158.75px,#f4f4f4 161.75px,#fafafa 167.5px,#fdfdfd 180px,#fefefe 210px,#ffffff 240px,#ffffff 270px,#ffffff 300px,#ffffff 330px,#fefefe 360px,#fcfcfc 390px,#f9f9f9 420px,#f6f6f6 450px,#f3f3f3 480px,#ececec 510px,#e1e1e1 540px,#d1d1d1 570px,#bdbdbd 600px,#a5a5a5 629px)"></i><i style="left:552px;background:linear-gradient(#00000000 0px,#00000000 208.5px,#00000001 223.25px,#00000003 229.25px,#00000007 231.5px,#0000000d 232.75px,#00000014 233.5px,#0000001e 234px,#00000025 234.25px,#00000030 234.5px,#0000003e 234.75px,#00000053 235px,#00000070 235.25px,#000000bf 235.75px,#000000cf 236px,#000000c2 236.25px,#0000009e 236.5px,#00000070 236.75px,#0000004f 237px,#00000039 237.25px,#0000002a 237.5px,#00000020 237.75px,#00000014 238.25px,#0000000e 238.75px,#0000000a 239.25px,#00000005 240.75px,#00000002 243.25px,#00000000 266.75px,#00000000 629px)"></i><i class="n" style="left:554px;background:linear-gradient(#ffffff 0px,#ffffff 30px,#ffffff 60px,#fefefe 90px,#fcfcfc 120px,#f8f8f8 130px,#f2f2f2 135.75px,#ececec 138.75px,#e0e0e0 141.5px,#c5c5c5 144.5px,#898989 147.25px,#484848 149px,#343434 149.5px,#1d1d1d 150px,#1c1c1c 150.25px,#2d2d2d 150.5px,#4a4a4a 151px,#b6b6b6 153px,#e0e0e0 156px,#eeeeee 158.75px,#f5f5f5 161.75px,#fafafa 167.5px,#fdfdfd 180px,#fefefe 210px,#ffffff 240px,#ffffff 270px,#ffffff 300px,#ffffff 330px,#fefefe 360px,#fcfcfc 390px,#f9f9f9 420px,#f6f6f6 450px,#f3f3f3 480px,#ececec 510px,#e0e0e0 540px,#d1d1d1 570px,#bdbdbd 600px,#a5a5a5 629px)"></i><i style="left:554px;background:linear-gradient(#00000000 0px,#00000000 207.75px,#00000001 222.5px,#00000003 228.5px,#00000007 230.75px,#0000000c 232px,#00000014 232.75px,#0000001d 233.25px,#00000024 233.5px,#0000002e 233.75px,#0000003c 234px,#00000050 234.25px,#0000006c 234.5px,#00000092 234.75px,#000000bc 235px,#000000ce 235.25px,#000000c5 235.5px,#000000a3 235.75px,#00000075 236px,#00000052 236.25px,#0000003b 236.5px,#0000002b 236.75px,#00000021 237px,#0000001a 237.25px,#00000015 237.5px,#0000000e 238px,#00000008 239px,#00000004 240.5px,#00000002 242.75px,#00000000 266.25px,#00000000 629px)"></i><i class="n" style="left:556px;background:linear-gradient(#ffffff 0px,#ffffff 30px,#ffffff 60px,#fefefe 90px,#fcfcfc 120px,#f8f8f8 130px,#f1f1f1 135.75px,#eaeaea 138.75px,#dcdcdc 141.5px,#bbbbbb 144.5px,#707070 147.25px,#595959 150px,#5c5c5c 150.25px,#c4c4c4 153px,#e5e5e5 156px,#f0f0f0 158.75px,#f6f6f6 161.5px,#f8f8f8 164.25px,#fcfcfc 170.25px,#fdfdfd 180px,#fefefe 210px,#ffffff 240px,#ffffff 270px,#ffffff 300px,#ffffff 330px,#fefefe 360px,#fcfcfc 390px,#f9f9f9 420px,#f6f6f6 450px,#f3f3f3 480px,#ececec 510px,#e0e0e0 540px,#d1d1d1 570px,#bdbdbd 600px,#a5a5a5 629px)"></i><i style="left:556px;background:linear-gradient(#00000000 0px,#00000000 207px,#00000001 221.75px,#00000003 227.75px,#00000007 230px,#0000000c 231.25px,#00000013 232px,#0000001d 232.5px,#00000023 232.75px,#0000002d 233px,#0000003a 233.25px,#0000004d 233.5px,#00000068 233.75px,#0000008d 234px,#000000b8 234.25px,#000000cd 234.5px,#000000c7 234.75px,#000000a8 235px,#00000079 235.25px,#00000055 235.5px,#0000003d 235.75px,#0000002d 236px,#00000022 236.25px,#0000001a 236.5px,#00000015 236.75px,#0000000e 237.25px,#00000008 238.25px,#00000004 239.75px,#00000002 242px,#00000000 265.5px,#00000000 629px)"></i><i class="n" style="left:558px;background:linear-gradient(#ffffff 0px,#ffffff 30px,#ffffff 60px,#fefefe 90px,#fcfcfc 120px,#f9f9f9 127.25px,#f5f5f5 133px,#f0f0f0 135.75px,#e8e8e8 138.75px,#d8d8d8 141.5px,#b5b5b5 144.25px,#b0b0b0 144.5px,#4e4e4e 147.25px,#505050 147.5px,#7d7d7d 150px,#838383 150.25px,#cfcfcf 153px,#e8e8e8 156px,#f2f2f2 158.75px,#f9f9f9 164.25px,#fdfdfd 180px,#fefefe 210px,#ffffff 240px,#ffffff 270px,#ffffff 300px,#ffffff 330px,#fefefe 360px,#fcfcfc 390px,#f9f9f9 420px,#f6f6f6 450px,#f3f3f3 480px,#ececec 510px,#e0e0e0 540px,#d1d1d1 570px,#bcbcbc 600px,#a5a5a5 629px)"></i><i style="left:558px;background:linear-gradient(#00000000 0px,#00000000 206.25px,#00000001 221px,#00000003 227px,#00000007 229.25px,#0000000c 230.5px,#00000013 231.25px,#0000001c 231.75px,#00000022 232px,#0000002c 232.25px,#00000039 232.5px,#0000004b 232.75px,#00000065 233px,#00000089 233.25px,#000000b4 233.5px,#000000cc 233.75px,#000000c9 234px,#000000ac 234.25px,#0000007e 234.5px,#00000058 234.75px,#0000003f 235px,#0000002e 235.25px,#00000023 235.5px,#0000001b 235.75px,#00000015 236px,#0000000e 236.5px,#00000008 237.5px,#00000004 239px,#00000002 241.25px,#00000000 264.75px,#00000000 629px)"></i><i class="n" style="left:560px;background:linear-gradient(#ffffff 0px,#ffffff 30px,#ffffff 60px,#fefefe 90px,#fcfcfc 120px,#f7f7f7 130px,#efefef 135.75px,#e5e5e5 138.75px,#d3d3d3 141.5px,#a8a8a8 144.25px,#a2a2a2 144.5px,#434343 146.5px,#1a1a1a 147.25px,#232323 147.5px,#484848 148.25px,#959595 150px,#9e9e9e 150.25px,#d7d7d7 153px,#ececec 156px,#f3f3f3 158.75px,#fafafa 164.25px,#fdfdfd 180px,#fefefe 210px,#ffffff 240px,#ffffff 270px,#ffffff 300px,#ffffff 330px,#fefefe 360px,#fcfcfc 390px,#f9f9f9 420px,#f6f6f6 450px,#f3f3f3 480px,#ececec 510px,#e0e0e0 540px,#d1d1d1 570px,#bcbcbc 600px,#a5a5a5 629px)"></i><i style="left:560px;background:linear-gradient(#00000000 0px,#00000000 205.5px,#00000001 220.25px,#00000003 226.25px,#00000007 228.5px,#0000000c 229.75px,#00000013 230.5px,#0000001b 231px,#00000022 231.25px,#0000002a 231.5px,#00000037 231.75px,#00000048 232px,#00000061 232.25px,#00000084 232.5px,#000000b0 232.75px,#000000cb 233px,#000000cb 233.25px,#000000b0 233.5px,#00000083 233.75px,#0000005c 234px,#00000041 234.25px,#0000002f 234.5px,#00000024 234.75px,#0000001c 235px,#00000016 235.25px,#0000000f 235.75px,#00000008 236.75px,#00000004 238.25px,#00000002 240.5px,#00000000 264.25px,#00000000 629px)"></i><i class="n" style="left:562px;background:linear-gradient(#ffffff 0px,#ffffff 30px,#ffffff 60px,#fefefe 90px,#fbfbfb 120px,#f7f7f7 130px,#f3f3f3 133px,#eeeeee 135.75px,#e3e3e3 138.75px,#cccccc 141.5px,#989898 144.25px,#919191 144.5px,#3f3f3f 146px,#0e0e0e 146.75px,#030303 147px,#000000 147.25px,#020202 147.5px,#0e0e0e 147.75px,#353535 148.25px,#464646 148.5px,#a6a6a6 150px,#b2b2b2 150.25px,#dedede 153px,#eeeeee 156px,#f5f5f5 158.75px,#fafafa 164.25px,#fdfdfd 180px,#fefefe 210px,#ffffff 240px,#ffffff 270px,#ffffff 300px,#ffffff 330px,#fefefe 360px,#fcfcfc 390px,#f9f9f9 420px,#f6f6f6 450px,#f3f3f3 480px,#ececec 510px,#e0e0e0 540px,#d0d0d0 570px,#bcbcbc 600px,#a4a4a4 629px)"></i><i style="left:562px;background:linear-gradient(#00000000 0px,#00000000 205.25px,#00000001 220px,#00000003 225.75px,#00000006 227.75px,#0000000c 229px,#00000012 229.75px,#0000001a 230.25px,#00000021 230.5px,#00000029 230.75px,#00000035 231px,#00000046 231.25px,#0000005e 231.5px,#0000007f 231.75px,#000000ab 232px,#000000c9 232.25px,#000000cc 232.5px,#000000b4 232.75px,#00000088 233px,#0000005f 233.25px,#00000043 233.5px,#00000031 233.75px,#00000024 234px,#0000001c 234.25px,#00000016 234.5px,#0000000f 235px,#00000008 236px,#00000004 237.5px,#00000002 239.75px,#00000000 263.5px,#00000000 629px)"></i><i class="n" style="left:564px;background:linear-gradient(#ffffff 0px,#ffffff 30px,#ffffff 60px,#fefefe 90px,#fbfbfb 120px,#f8f8f8 127.25px,#f2f2f2 133px,#ececec 135.75px,#dfdfdf 138.75px,#c5c5c5 141.5px,#7d7d7d 144.5px,#3f3f3f 147.25px,#484848 147.5px,#b9b9b9 150px,#c1c1c1 150.25px,#e3e3e3 153px,#f0f0f0 156px,#f6f6f6 158.75px,#fafafa 164.5px,#fefefe 180px,#fefefe 210px,#ffffff 240px,#ffffff 270px,#ffffff 300px,#ffffff 330px,#fefefe 360px,#fcfcfc 390px,#f9f9f9 420px,#f6f6f6 450px,#f3f3f3 480px,#ececec 510px,#e0e0e0 540px,#d0d0d0 570px,#bcbcbc 600px,#a4a4a4 629px)"></i><i style="left:564px;background:linear-gradient(#00000000 0px,#00000000 204.5px,#00000001 219.25px,#00000003 225px,#00000006 227px,#0000000b 228.25px,#00000012 229px,#0000001a 229.5px,#00000020 229.75px,#00000028 230px,#00000033 230.25px,#00000043 230.5px,#0000005b 230.75px,#0000007b 231px,#000000a6 231.25px,#000000c7 231.5px,#000000cd 231.75px,#000000b8 232px,#00000062 232.5px,#00000045 232.75px,#00000032 233px,#00000025 233.25px,#0000001d 233.5px,#00000012 234px,#00000009 235px,#00000004 236.5px,#00000002 239px,#00000000 262.75px,#00000000 629px)"></i><i class="n" style="left:566px;background:linear-gradient(#ffffff 0px,#ffffff 30px,#ffffff 60px,#fefefe 90px,#fbfbfb 120px,#f8f8f8 127.25px,#f1f1f1 133px,#eaeaea 135.75px,#dbdbdb 138.75px,#bbbbbb 141.5px,#b5b5b5 141.75px,#676767 144.25px,#616161 144.5px,#707070 147.25px,#c7c7c7 150px,#cdcdcd 150.25px,#e7e7e7 153px,#f2f2f2 156px,#f7f7f7 158.75px,#fbfbfb 164.5px,#fefefe 180px,#fefefe 210px,#ffffff 240px,#ffffff 270px,#ffffff 300px,#ffffff 330px,#fefefe 360px,#fcfcfc 390px,#f9f9f9 420px,#f6f6f6 450px,#f3f3f3 480px,#ececec 510px,#e0e0e0 540px,#d0d0d0 570px,#bcbcbc 600px,#a4a4a4 629px)"></i><i style="left:566px;background:linear-gradient(#00000000 0px,#00000000 203.75px,#00000001 218.5px,#00000003 224.25px,#00000006 226.25px,#0000000b 227.5px,#00000011 228.25px,#00000019 228.75px,#0000001f 229px,#00000027 229.25px,#00000032 229.5px,#00000041 229.75px,#00000057 230px,#00000077 230.25px,#000000a1 230.5px,#000000c4 230.75px,#000000cd 231px,#000000bb 231.25px,#00000092 231.5px,#00000066 231.75px,#00000048 232px,#00000033 232.25px,#00000026 232.5px,#0000001d 232.75px,#00000012 233.25px,#00000009 234.25px,#00000004 235.75px,#00000002 238.25px,#00000000 262px,#00000000 629px)"></i><i class="n" style="left:568px;background:linear-gradient(#ffffff 0px,#ffffff 30px,#ffffff 60px,#fefefe 90px,#fbfbfb 120px,#f8f8f8 127.25px,#f0f0f0 133px,#e8e8e8 135.75px,#d6d6d6 138.75px,#afafaf 141.5px,#a7a7a7 141.75px,#404040 144.25px,#393939 144.5px,#909090 147.25px,#d1d1d1 150px,#d6d6d6 150.25px,#ebebeb 153px,#f3f3f3 156px,#f7f7f7 158.75px,#fbfbfb 164.5px,#fefefe 180px,#ffffff 210px,#ffffff 240px,#ffffff 270px,#ffffff 300px,#ffffff 330px,#fefefe 360px,#fcfcfc 390px,#f9f9f9 420px,#f6f6f6 450px,#f2f2f2 480px,#ececec 510px,#e0e0e0 540px,#d0d0d0 570px,#bcbcbc 600px,#a4a4a4 629px)"></i><i style="left:568px;background:linear-gradient(#00000000 0px,#00000000 203px,#00000001 217.75px,#00000003 223.5px,#00000006 225.5px,#0000000b 226.75px,#00000011 227.5px,#00000018 228px,#0000001e 228.25px,#00000026 228.5px,#00000030 228.75px,#0000003f 229px,#00000054 229.25px,#00000072 229.5px,#0000009b 229.75px,#000000c1 230px,#000000cd 230.25px,#000000be 230.5px,#00000097 230.75px,#0000006a 231px,#0000004a 231.25px,#00000035 231.5px,#00000027 231.75px,#0000001e 232px,#00000013 232.5px,#0000000d 233px,#00000009 233.5px,#00000004 235px,#00000002 237.5px,#00000000 261.25px,#00000000 629px)"></i><i class="n" style="left:570px;background:linear-gradient(#ffffff 0px,#ffffff 30px,#ffffff 60px,#fefefe 90px,#fbfbfb 120px,#f7f7f7 127.25px,#efefef 133px,#e6e6e6 135.75px,#d0d0d0 138.75px,#a0a0a0 141.5px,#969696 141.75px,#444444 143.25px,#353535 143.5px,#141414 144px,#050505 144.25px,#020202 144.5px,#0d0d0d 144.75px,#313131 145.25px,#414141 145.5px,#a6a6a6 147.25px,#adadad 147.5px,#d9d9d9 150px,#dddddd 150.25px,#ededed 153px,#f4f4f4 155.75px,#f8f8f8 158.5px,#fcfcfc 167.25px,#fefefe 180px,#ffffff 210px,#ffffff 240px,#ffffff 270px,#ffffff 300px,#ffffff 330px,#fefefe 360px,#fcfcfc 390px,#f9f9f9 420px,#f6f6f6 450px,#f2f2f2 480px,#ececec 510px,#e0e0e0 540px,#d0d0d0 570px,#bcbcbc 600px,#a4a4a4 629px)"></i><i style="left:570px;background:linear-gradient(#00000000 0px,#00000000 202.25px,#00000001 217px,#00000003 222.75px,#00000007 225px,#0000000c 226.25px,#00000014 227px,#0000001d 227.5px,#00000024 227.75px,#0000002f 228px,#0000003d 228.25px,#00000051 228.5px,#0000006e 228.75px,#000000be 229.25px,#000000cd 229.5px,#000000c0 229.75px,#0000009c 230px,#0000006d 230.25px,#0000004c 230.5px,#00000036 230.75px,#00000028 231px,#0000001e 231.25px,#00000013 231.75px,#0000000d 232.25px,#00000009 232.75px,#00000004 234.25px,#00000002 236.75px,#00000000 260.5px,#00000000 629px)"></i><i class="n" style="left:572px;background:linear-gradient(#ffffff 0px,#ffffff 30px,#ffffff 60px,#fefefe 90px,#fbfbfb 120px,#f7f7f7 127.25px,#f3f3f3 130.25px,#eeeeee 133px,#e3e3e3 135.75px,#cccccc 138.5px,#c9c9c9 138.75px,#8e8e8e 141.5px,#4d4d4d 143.25px,#222222 144.25px,#1d1d1d 144.5px,#2e2e2e 144.75px,#4b4b4b 145.25px,#b8b8b8 147.25px,#bebebe 147.5px,#e0e0e0 150px,#e2e2e2 150.25px,#f0f0f0 153px,#f5f5f5 155.75px,#f9f9f9 158.75px,#fcfcfc 167.25px,#fefefe 180px,#ffffff 210px,#ffffff 240px,#ffffff 270px,#ffffff 300px,#ffffff 330px,#fefefe 360px,#fcfcfc 390px,#f9f9f9 420px,#f6f6f6 450px,#f2f2f2 480px,#ececec 510px,#e0e0e0 540px,#d0d0d0 570px,#bcbcbc 600px,#a4a4a4 629px)"></i><i style="left:572px;background:linear-gradient(#00000000 0px,#00000000 202px,#00000001 216.5px,#00000003 222.25px,#00000007 224.25px,#0000000c 225.5px,#00000013 226.25px,#0000001c 226.75px,#00000023 227px,#0000002d 227.25px,#0000003b 227.5px,#0000004e 227.75px,#0000006a 228px,#00000091 228.25px,#000000ba 228.5px,#000000cc 228.75px,#000000c2 229px,#000000a0 229.25px,#00000071 229.5px,#0000004f 229.75px,#00000038 230px,#00000029 230.25px,#0000001f 230.5px,#00000013 231px,#0000000d 231.5px,#00000009 232px,#00000004 233.5px,#00000002 236px,#00000000 259.75px,#00000000 629px)"></i><i class="n" style="left:574px;background:linear-gradient(#ffffff 0px,#ffffff 30px,#ffffff 60px,#fefefe 90px,#fbfbfb 120px,#f6f6f6 127.25px,#f2f2f2 130.25px,#ececec 133px,#dfdfdf 135.75px,#c0c0c0 138.75px,#757575 141.5px,#727272 141.75px,#5e5e5e 144.25px,#5f5f5f 144.5px,#c6c6c6 147.25px,#e5e5e5 150px,#f2f2f2 153px,#f9f9f9 158.75px,#fcfcfc 167.25px,#fefefe 180px,#ffffff 210px,#ffffff 240px,#ffffff 270px,#ffffff 300px,#ffffff 330px,#fefefe 360px,#fcfcfc 390px,#f9f9f9 420px,#f6f6f6 450px,#f2f2f2 480px,#ececec 510px,#e0e0e0 540px,#d0d0d0 570px,#bbbbbb 600px,#a3a3a3 629px)"></i><i style="left:574px;background:linear-gradient(#00000000 0px,#00000000 201.25px,#00000001 215.75px,#00000003 221.5px,#00000006 223.5px,#0000000c 224.75px,#00000013 225.5px,#0000001c 226px,#00000022 226.25px,#0000002c 226.5px,#00000039 226.75px,#0000004c 227px,#00000066 227.25px,#0000008c 227.5px,#000000b7 227.75px,#000000cb 228px,#000000c4 228.25px,#000000a4 228.5px,#00000075 228.75px,#00000051 229px,#00000039 229.25px,#0000002a 229.5px,#0000001f 229.75px,#00000018 230px,#00000010 230.5px,#00000008 231.5px,#00000004 233px,#00000002 235.25px,#00000000 259px,#00000000 629px)"></i><i class="n" style="left:576px;background:linear-gradient(#ffffff 0px,#ffffff 30px,#ffffff 60px,#fefefe 90px,#fafafa 120px,#f6f6f6 127.25px,#f1f1f1 130.25px,#eaeaea 133px,#dbdbdb 135.75px,#b5b5b5 138.75px,#535353 141.5px,#545454 141.75px,#868686 144.5px,#d1d1d1 147.25px,#e9e9e9 150px,#f3f3f3 153px,#fafafa 158.75px,#fdfdfd 167.25px,#fefefe 180px,#ffffff 210px,#ffffff 240px,#ffffff 270px,#ffffff 300px,#ffffff 330px,#fefefe 360px,#fcfcfc 390px,#f9f9f9 420px,#f6f6f6 450px,#f2f2f2 480px,#ececec 510px,#e0e0e0 540px,#d0d0d0 570px,#bbbbbb 600px,#a3a3a3 629px)"></i><i style="left:576px;background:linear-gradient(#00000000 0px,#00000000 200.5px,#00000001 215px,#00000003 220.75px,#00000006 222.75px,#0000000b 224px,#00000012 224.75px,#0000001b 225.25px,#00000021 225.5px,#0000002a 225.75px,#00000037 226px,#00000049 226.25px,#00000063 226.5px,#00000087 226.75px,#000000b3 227px,#000000ca 227.25px,#000000c6 227.5px,#000000a8 227.75px,#00000079 228px,#00000054 228.25px,#0000003b 228.5px,#0000002b 228.75px,#00000020 229px,#00000019 229.25px,#00000010 229.75px,#00000008 230.75px,#00000004 232.25px,#00000002 234.5px,#00000000 258.25px,#00000000 629px)"></i><i class="n" style="left:578px;background:linear-gradient(#ffffff 0px,#ffffff 30px,#ffffff 60px,#fefefe 90px,#fafafa 120px,#f5f5f5 127.25px,#f0f0f0 130.25px,#e8e8e8 133px,#d6d6d6 135.75px,#a8a8a8 138.75px,#484848 140.75px,#1f1f1f 141.5px,#242424 141.75px,#4a4a4a 142.5px,#989898 144.25px,#a2a2a2 144.5px,#d9d9d9 147.25px,#ececec 150px,#f4f4f4 153px,#fafafa 158.75px,#fefefe 180px,#ffffff 210px,#ffffff 240px,#ffffff 270px,#ffffff 300px,#ffffff 330px,#fefefe 360px,#fcfcfc 390px,#f9f9f9 420px,#f6f6f6 450px,#f2f2f2 480px,#ececec 510px,#e0e0e0 540px,#d0d0d0 570px,#bbbbbb 600px,#a3a3a3 629px)"></i><i style="left:578px;background:linear-gradient(#00000000 0px,#00000000 199.75px,#00000001 214.25px,#00000003 220px,#00000006 222px,#0000000b 223.25px,#00000012 224px,#0000001a 224.5px,#00000020 224.75px,#00000029 225px,#00000035 225.25px,#00000046 225.5px,#0000005f 225.75px,#00000082 226px,#000000ae 226.25px,#000000c8 226.5px,#000000c7 226.75px,#000000ac 227px,#0000007d 227.25px,#00000056 227.5px,#0000003c 227.75px,#0000002b 228px,#00000020 228.25px,#00000019 228.5px,#00000010 229px,#00000008 230px,#00000004 231.5px,#00000002 233.75px,#00000000 257.25px,#00000000 629px)"></i><i class="n" style="left:580px;background:linear-gradient(#ffffff 0px,#ffffff 30px,#ffffff 60px,#fefefe 90px,#fdfdfd 110px,#fafafa 120px,#f4f4f4 127.25px,#efefef 130.25px,#e5e5e5 133px,#d0d0d0 135.75px,#cccccc 136px,#979797 138.75px,#434343 140.25px,#343434 140.5px,#121212 141px,#040404 141.25px,#000000 141.5px,#010101 141.75px,#0d0d0d 142px,#353535 142.5px,#464646 142.75px,#a8a8a8 144.25px,#b6b6b6 144.5px,#e0e0e0 147.25px,#efefef 150px,#f6f6f6 153px,#fbfbfb 158.75px,#fefefe 180px,#ffffff 210px,#ffffff 240px,#ffffff 270px,#ffffff 300px,#ffffff 330px,#fefefe 360px,#fcfcfc 390px,#f9f9f9 420px,#f6f6f6 450px,#f2f2f2 480px,#ececec 510px,#e0e0e0 540px,#d0d0d0 570px,#bbbbbb 600px,#a3a3a3 629px)"></i><i style="left:580px;background:linear-gradient(#00000000 0px,#00000000 199px,#00000001 213.5px,#00000003 219.25px,#00000006 221.25px,#0000000b 222.5px,#00000011 223.25px,#00000019 223.75px,#0000001f 224px,#00000027 224.25px,#00000033 224.5px,#00000044 224.75px,#0000005c 225px,#0000007d 225.25px,#000000aa 225.5px,#000000c7 225.75px,#000000c8 226px,#000000af 226.25px,#00000081 226.5px,#00000059 226.75px,#0000003e 227px,#0000002c 227.25px,#00000021 227.5px,#00000019 227.75px,#00000010 228.25px,#00000008 229.25px,#00000004 230.75px,#00000002 233px,#00000000 256.5px,#00000000 629px)"></i><i class="n" style="left:582px;background:linear-gradient(#ffffff 0px,#ffffff 30px,#fefefe 60px,#fefefe 90px,#fcfcfc 110px,#fafafa 120px,#f4f4f4 127.25px,#ededed 130.25px,#e2e2e2 133px,#c8c8c8 135.75px,#c4c4c4 136px,#828282 138.75px,#444444 141.5px,#4a4a4a 141.75px,#bbbbbb 144.25px,#c5c5c5 144.5px,#e5e5e5 147.25px,#f1f1f1 150px,#f7f7f7 153px,#fbfbfb 158.75px,#fefefe 180px,#ffffff 210px,#ffffff 240px,#ffffff 270px,#ffffff 300px,#ffffff 330px,#fefefe 360px,#fcfcfc 390px,#f9f9f9 420px,#f6f6f6 450px,#f2f2f2 480px,#ececec 510px,#e0e0e0 540px,#d0d0d0 570px,#bbbbbb 600px,#a3a3a3 629px)"></i><i style="left:582px;background:linear-gradient(#00000000 0px,#00000000 198.25px,#00000001 212.75px,#00000003 218.5px,#00000006 220.5px,#0000000b 221.75px,#00000011 222.5px,#00000018 223px,#0000001e 223.25px,#00000026 223.5px,#00000031 223.75px,#00000041 224px,#00000058 224.25px,#00000079 224.5px,#000000a5 224.75px,#000000c4 225px,#000000c9 225.25px,#000000b2 225.5px,#0000005b 226px,#0000003f 226.25px,#0000002d 226.5px,#00000021 226.75px,#00000019 227px,#00000010 227.5px,#00000008 228.5px,#00000004 230px,#00000002 232.25px,#00000000 255.5px,#00000000 629px)"></i><i class="n" style="left:584px;background:linear-gradient(#ffffff 0px,#ffffff 30px,#fefefe 60px,#fefefe 90px,#fcfcfc 110px,#f9f9f9 120px,#f3f3f3 127.25px,#ebebeb 130.25px,#dedede 133px,#bfbfbf 135.75px,#bababa 136px,#666666 138.75px,#757575 141.5px,#7a7a7a 141.75px,#d0d0d0 144.5px,#e9e9e9 147.25px,#f3f3f3 150px,#f7f7f7 153px,#fbfbfb 158.75px,#fefefe 180px,#ffffff 210px,#ffffff 240px,#ffffff 270px,#ffffff 300px,#ffffff 330px,#fefefe 360px,#fcfcfc 390px,#f9f9f9 420px,#f6f6f6 450px,#f2f2f2 480px,#ececec 510px,#e0e0e0 540px,#d0d0d0 570px,#bbbbbb 600px,#a2a2a2 629px)"></i><i style="left:584px;background:linear-gradient(#00000000 0px,#00000000 198.25px,#00000001 212.25px,#00000003 218px,#00000006 220px,#0000000c 221.25px,#00000010 221.75px,#00000018 222.25px,#00000025 222.75px,#0000002f 223px,#0000003f 223.25px,#00000055 223.5px,#00000074 223.75px,#0000009f 224px,#000000c2 224.25px,#000000c9 224.5px,#000000b5 224.75px,#0000005e 225.25px,#00000041 225.5px,#0000002e 225.75px,#00000022 226px,#0000001a 226.25px,#00000010 226.75px,#00000008 227.75px,#00000004 229.25px,#00000002 231.5px,#00000000 254.5px,#00000000 629px)"></i><i class="n" style="left:586px;background:linear-gradient(#ffffff 0px,#ffffff 30px,#fefefe 60px,#fefefe 90px,#fcfcfc 110px,#f9f9f9 120px,#f2f2f2 127.25px,#e9e9e9 130.25px,#dadada 133px,#b4b4b4 135.75px,#adadad 136px,#454545 138.5px,#3c3c3c 138.75px,#949494 141.5px,#d9d9d9 144.5px,#ececec 147.25px,#f4f4f4 150px,#f8f8f8 153px,#fbfbfb 158.75px,#fefefe 180px,#ffffff 210px,#ffffff 240px,#ffffff 270px,#ffffff 300px,#ffffff 330px,#fefefe 360px,#fcfcfc 390px,#f9f9f9 420px,#f6f6f6 450px,#f2f2f2 480px,#ececec 510px,#e0e0e0 540px,#d0d0d0 570px,#bbbbbb 600px,#a2a2a2 629px)"></i><i style="left:586px;background:linear-gradient(#00000000 0px,#00000000 197.5px,#00000001 211.5px,#00000003 217.25px,#00000006 219.25px,#0000000c 220.5px,#00000013 221.25px,#0000001c 221.75px,#00000023 222px,#0000002e 222.25px,#0000003c 222.5px,#00000052 222.75px,#00000070 223px,#0000009a 223.25px,#000000bf 223.5px,#000000c9 223.75px,#000000b7 224px,#0000008f 224.25px,#00000061 224.5px,#00000042 224.75px,#0000002f 225px,#00000022 225.25px,#0000001a 225.5px,#00000010 226px,#00000008 227px,#00000004 228.5px,#00000002 230.75px,#00000000 253.75px,#00000000 629px)"></i><i class="n" style="left:588px;background:linear-gradient(#ffffff 0px,#ffffff 30px,#fefefe 60px,#fefefe 90px,#fcfcfc 110px,#f9f9f9 120px,#f5f5f5 124.5px,#f0f0f0 127.25px,#e7e7e7 130.25px,#d4d4d4 133px,#a5a5a5 135.75px,#9c9c9c 136px,#484848 137.5px,#2a2a2a 138px,#080808 138.5px,#020202 138.75px,#0c0c0c 139px,#313131 139.5px,#414141 139.75px,#a9a9a9 141.5px,#b1b1b1 141.75px,#dfdfdf 144.5px,#efefef 147.25px,#f5f5f5 150px,#f9f9f9 153px,#fcfcfc 158.75px,#fefefe 180px,#ffffff 210px,#ffffff 240px,#ffffff 270px,#ffffff 300px,#ffffff 330px,#fefefe 360px,#fcfcfc 390px,#f9f9f9 420px,#f6f6f6 450px,#f2f2f2 480px,#ececec 510px,#e0e0e0 540px,#d0d0d0 570px,#bbbbbb 600px,#a2a2a2 629px)"></i><i style="left:588px;background:linear-gradient(#00000000 0px,#00000000 196.75px,#00000001 210.75px,#00000003 216.5px,#00000006 218.5px,#0000000b 219.75px,#00000012 220.5px,#0000001b 221px,#00000022 221.25px,#0000002c 221.5px,#0000003a 221.75px,#0000004e 222px,#0000006c 222.25px,#000000bc 222.75px,#000000c9 223px,#000000ba 223.25px,#00000093 223.5px,#00000064 223.75px,#00000044 224px,#00000030 224.25px,#00000023 224.5px,#0000001a 224.75px,#00000010 225.25px,#00000008 226.25px,#00000004 227.75px,#00000002 230px,#00000000 252.75px,#00000000 629px)"></i><i class="n" style="left:590px;background:linear-gradient(#ffffff 0px,#ffffff 30px,#fefefe 60px,#fefefe 90px,#fcfcfc 110px,#f9f9f9 120px,#f4f4f4 124.5px,#efefef 127.25px,#e4e4e4 130.25px,#cdcdcd 133px,#939393 135.75px,#8b8b8b 136px,#5b5b5b 137.25px,#3d3d3d 138px,#272727 138.5px,#1e1e1e 138.75px,#2f2f2f 139px,#4d4d4d 139.5px,#bbbbbb 141.5px,#c1c1c1 141.75px,#e5e5e5 144.5px,#f1f1f1 147.25px,#f6f6f6 150px,#fcfcfc 158.75px,#fefefe 180px,#ffffff 210px,#ffffff 240px,#ffffff 270px,#ffffff 300px,#ffffff 330px,#fefefe 360px,#fcfcfc 390px,#f9f9f9 420px,#f6f6f6 450px,#f2f2f2 480px,#ececec 510px,#e0e0e0 540px,#cfcfcf 570px,#bababa 600px,#a2a2a2 629px)"></i><i style="left:590px;background:linear-gradient(#00000000 0px,#00000000 196px,#00000001 210px,#00000003 215.75px,#00000006 217.75px,#0000000b 219px,#00000012 219.75px,#0000001a 220.25px,#00000021 220.5px,#0000002a 220.75px,#00000038 221px,#0000004b 221.25px,#00000068 221.5px,#000000b8 222px,#000000c8 222.25px,#000000bb 222.5px,#00000097 222.75px,#00000067 223px,#00000046 223.25px,#00000030 223.5px,#00000023 223.75px,#0000001a 224px,#00000010 224.5px,#00000008 225.5px,#00000004 227px,#00000002 229.25px,#00000000 251.75px,#00000000 629px)"></i><i class="n" style="left:592px;background:linear-gradient(#ffffff 0px,#ffffff 30px,#fefefe 60px,#fefefe 90px,#fcfcfc 110px,#f8f8f8 120px,#f3f3f3 124.5px,#eeeeee 127.25px,#e0e0e0 130.25px,#c5c5c5 133px,#7a7a7a 135.75px,#767676 136px,#626262 138.75px,#c9c9c9 141.5px,#cecece 141.75px,#e9e9e9 144.5px,#f3f3f3 147.25px,#f7f7f7 150px,#fcfcfc 158.75px,#fefefe 180px,#ffffff 210px,#ffffff 240px,#ffffff 270px,#ffffff 300px,#ffffff 330px,#fefefe 360px,#fcfcfc 390px,#f9f9f9 420px,#f6f6f6 450px,#f2f2f2 480px,#ececec 510px,#e0e0e0 540px,#cfcfcf 570px,#bababa 600px,#a2a2a2 629px)"></i><i style="left:592px;background:linear-gradient(#00000000 0px,#00000000 195.75px,#00000001 209.75px,#00000003 215.25px,#00000006 217px,#0000000b 218.25px,#00000011 219px,#00000019 219.5px,#00000020 219.75px,#00000029 220px,#00000036 220.25px,#00000048 220.5px,#00000063 220.75px,#0000008a 221px,#000000b5 221.25px,#000000c7 221.5px,#000000bd 221.75px,#0000009b 222px,#0000006a 222.25px,#00000047 222.5px,#00000031 222.75px,#00000023 223px,#0000001a 223.25px,#00000010 223.75px,#00000008 224.75px,#00000004 226.25px,#00000002 228.5px,#00000000 250.75px,#00000000 629px)"></i><i class="n" style="left:594px;background:linear-gradient(#ffffff 0px,#ffffff 30px,#fefefe 60px,#fefefe 90px,#fcfcfc 110px,#f8f8f8 120px,#f3f3f3 124.5px,#ececec 127.25px,#dcdcdc 130.25px,#bababa 133px,#585858 135.75px,#575757 136px,#8a8a8a 138.75px,#d4d4d4 141.5px,#d7d7d7 141.75px,#ececec 144.5px,#f4f4f4 147.25px,#f8f8f8 150px,#fcfcfc 158.75px,#fefefe 180px,#ffffff 210px,#ffffff 240px,#ffffff 270px,#ffffff 300px,#ffffff 330px,#fefefe 360px,#fcfcfc 390px,#f9f9f9 420px,#f6f6f6 450px,#f2f2f2 480px,#ececec 510px,#e0e0e0 540px,#cfcfcf 570px,#bababa 600px,#a2a2a2 629px)"></i><i style="left:594px;background:linear-gradient(#00000000 0px,#00000000 195px,#00000001 209px,#00000003 214.5px,#00000006 216.25px,#0000000a 217.5px,#00000011 218.25px,#00000019 218.75px,#0000001f 219px,#00000027 219.25px,#00000033 219.5px,#00000045 219.75px,#00000060 220px,#00000085 220.25px,#000000b1 220.5px,#000000c6 220.75px,#000000be 221px,#0000009e 221.25px,#0000006d 221.5px,#00000049 221.75px,#00000032 222px,#00000024 222.25px,#0000001b 222.5px,#00000010 223px,#00000008 224px,#00000004 225.5px,#00000002 227.75px,#00000000 249.75px,#00000000 629px)"></i><i class="n" style="left:596px;background:linear-gradient(#ffffff 0px,#ffffff 30px,#fefefe 60px,#fefefe 90px,#fcfcfc 110px,#f7f7f7 120px,#f1f1f1 124.5px,#eaeaea 127.25px,#d7d7d7 130.25px,#adadad 133px,#4d4d4d 135px,#242424 135.75px,#252525 136px,#4b4b4b 136.75px,#a6a6a6 138.75px,#dcdcdc 141.5px,#efefef 144.5px,#f5f5f5 147.25px,#f9f9f9 150px,#fdfdfd 158.75px,#fefefe 180px,#ffffff 210px,#ffffff 240px,#ffffff 270px,#ffffff 300px,#ffffff 330px,#fefefe 360px,#fcfcfc 390px,#f9f9f9 420px,#f6f6f6 450px,#f2f2f2 480px,#ececec 510px,#e0e0e0 540px,#cfcfcf 570px,#bababa 600px,#a1a1a1 629px)"></i><i style="left:596px;background:linear-gradient(#00000000 0px,#00000000 194.25px,#00000001 208.25px,#00000003 213.75px,#00000006 215.5px,#0000000a 216.75px,#00000010 217.5px,#00000018 218px,#0000001e 218.25px,#00000026 218.5px,#00000031 218.75px,#00000043 219px,#0000005c 219.25px,#00000080 219.5px,#000000ad 219.75px,#000000c4 220px,#000000bf 220.25px,#000000a1 220.5px,#00000070 220.75px,#0000004b 221px,#00000033 221.25px,#00000024 221.5px,#0000001b 221.75px,#00000010 222.25px,#00000008 223.25px,#00000003 224.75px,#00000002 227px,#00000000 248.5px,#00000000 629px)"></i><i class="n" style="left:598px;background:linear-gradient(#ffffff 0px,#ffffff 30px,#fefefe 60px,#fefefe 90px,#fcfcfc 110px,#f7f7f7 120px,#f0f0f0 124.5px,#e7e7e7 127.25px,#d0d0d0 130.25px,#9d9d9d 133px,#484848 134.5px,#393939 134.75px,#070707 135.5px,#010101 135.75px,#010101 136px,#0c0c0c 136.25px,#343434 136.75px,#464646 137px,#bababa 138.75px,#e2e2e2 141.5px,#e4e4e4 141.75px,#f1f1f1 144.5px,#f6f6f6 147.25px,#f9f9f9 150px,#fdfdfd 158.75px,#fefefe 180px,#ffffff 210px,#ffffff 240px,#ffffff 270px,#ffffff 300px,#ffffff 330px,#fefefe 360px,#fcfcfc 390px,#f9f9f9 420px,#f6f6f6 450px,#f2f2f2 480px,#ececec 510px,#e0e0e0 540px,#cfcfcf 570px,#bababa 600px,#a1a1a1 629px)"></i><i style="left:598px;background:linear-gradient(#00000000 0px,#00000000 193.5px,#00000001 207.5px,#00000003 213px,#00000005 214.75px,#0000000a 216px,#00000010 216.75px,#00000017 217.25px,#0000001c 217.5px,#00000024 217.75px,#0000002f 218px,#00000040 218.25px,#00000058 218.5px,#0000007b 218.75px,#000000a8 219px,#000000c2 219.25px,#000000c0 219.5px,#000000a4 219.75px,#00000074 220px,#0000004c 220.25px,#00000034 220.5px,#00000024 220.75px,#0000001b 221px,#00000010 221.5px,#00000007 222.5px,#00000004 223.75px,#00000002 226px,#00000000 247.5px,#00000000 629px)"></i><i class="n" style="left:600px;background:linear-gradient(#ffffff 0px,#ffffff 30px,#fefefe 60px,#fefefe 90px,#fcfcfc 110.25px,#f6f6f6 120px,#efefef 124.5px,#e4e4e4 127.25px,#cccccc 130px,#c8c8c8 130.25px,#878787 133px,#494949 135.75px,#4d4d4d 136px,#c8c8c8 138.75px,#e8e8e8 141.75px,#f3f3f3 144.5px,#fafafa 150px,#fdfdfd 158.75px,#fefefe 180px,#ffffff 210px,#ffffff 240px,#ffffff 270px,#ffffff 300px,#ffffff 330px,#fefefe 360px,#fcfcfc 390px,#f9f9f9 420px,#f6f6f6 450px,#f2f2f2 480px,#ececec 510px,#e0e0e0 540px,#cfcfcf 570px,#bababa 600px,#a1a1a1 629px)"></i><i style="left:600px;background:linear-gradient(#00000000 0px,#00000000 192.75px,#00000003 212.25px,#00000005 214px,#00000009 215.25px,#0000000f 216px,#00000016 216.5px,#0000001b 216.75px,#00000023 217px,#0000002d 217.25px,#0000003d 217.5px,#00000054 217.75px,#00000076 218px,#000000a3 218.25px,#000000c0 218.5px,#000000c0 218.75px,#000000a7 219px,#00000077 219.25px,#0000004e 219.5px,#00000034 219.75px,#00000025 220px,#0000001b 220.25px,#00000010 220.75px,#00000007 221.75px,#00000004 223px,#00000002 225.25px,#00000000 246.25px,#00000000 629px)"></i><i class="n" style="left:602px;background:linear-gradient(#ffffff 0px,#ffffff 30px,#fefefe 60px,#fefefe 90px,#fbfbfb 110.25px,#f6f6f6 120px,#ededed 124.5px,#e1e1e1 127.25px,#c3c3c3 130px,#bfbfbf 130.25px,#6a6a6a 133px,#797979 135.75px,#7e7e7e 136px,#d3d3d3 138.75px,#ececec 141.75px,#f4f4f4 144.5px,#fafafa 150px,#fdfdfd 158.75px,#fefefe 180px,#ffffff 210px,#ffffff 240px,#ffffff 270px,#ffffff 300px,#ffffff 330px,#fefefe 360px,#fcfcfc 390px,#f9f9f9 420px,#f6f6f6 450px,#f2f2f2 480px,#ebebeb 510px,#e0e0e0 540px,#cfcfcf 570px,#bababa 600px,#a1a1a1 629px)"></i><i style="left:602px;background:linear-gradient(#00000000 0px,#00000000 192.75px,#00000001 206.25px,#00000003 211.75px,#00000006 213.5px,#0000000b 214.75px,#0000000e 215.25px,#00000015 215.75px,#00000021 216.25px,#0000002c 216.5px,#0000003a 216.75px,#00000051 217px,#00000071 217.25px,#0000009e 217.5px,#000000be 217.75px,#000000c1 218px,#000000a9 218.25px,#0000007a 218.5px,#00000050 218.75px,#00000035 219px,#00000025 219.25px,#0000001b 219.5px,#00000010 220px,#00000007 221px,#00000004 222.25px,#00000002 224.5px,#00000000 245.25px,#00000000 629px)"></i><i class="n" style="left:604px;background:linear-gradient(#ffffff 0px,#ffffff 30px,#fefefe 60px,#fefefe 90px,#fbfbfb 110.25px,#f9f9f9 115.75px,#f5f5f5 120px,#f3f3f3 121.5px,#ebebeb 124.5px,#dcdcdc 127.25px,#b8b8b8 130px,#b2b2b2 130.25px,#3f3f3f 133px,#979797 135.75px,#dcdcdc 138.75px,#efefef 141.75px,#f6f6f6 144.5px,#fbfbfb 150px,#fdfdfd 158.75px,#fefefe 180px,#ffffff 210px,#ffffff 240px,#ffffff 270px,#ffffff 300px,#ffffff 330px,#fefefe 360px,#fcfcfc 390px,#f9f9f9 420px,#f6f6f6 450px,#f2f2f2 480px,#ebebeb 510px,#e0e0e0 540px,#cfcfcf 570px,#bababa 600px,#a1a1a1 629px)"></i><i style="left:604px;background:linear-gradient(#00000000 0px,#00000000 191.75px,#00000001 205.5px,#00000003 211px,#00000005 212.75px,#0000000a 214px,#0000000e 214.5px,#00000014 215px,#00000020 215.5px,#0000002a 215.75px,#00000038 216px,#0000004d 216.25px,#0000006c 216.5px,#00000099 216.75px,#000000bb 217px,#000000c0 217.25px,#000000ab 217.5px,#00000051 218px,#00000036 218.25px,#00000025 218.5px,#0000001b 218.75px,#00000010 219.25px,#0000000a 219.75px,#00000007 220.25px,#00000004 221.5px,#00000002 223.75px,#00000000 244px,#00000000 629px)"></i><i class="n" style="left:606px;background:linear-gradient(#ffffff 0px,#ffffff 30px,#fefefe 60px,#fefefe 90px,#fbfbfb 110.25px,#f9f9f9 115.75px,#f4f4f4 120px,#f2f2f2 121.5px,#e9e9e9 124.5px,#d7d7d7 127.25px,#aaaaaa 130px,#a2a2a2 130.25px,#3e3e3e 132px,#0b0b0b 132.75px,#010101 133px,#0b0b0b 133.25px,#303030 133.75px,#414141 134px,#ababab 135.75px,#b5b5b5 136px,#e2e2e2 138.75px,#f1f1f1 141.75px,#f7f7f7 144.5px,#fbfbfb 150px,#fefefe 180px,#ffffff 210px,#ffffff 240px,#ffffff 270px,#ffffff 300px,#ffffff 330px,#fefefe 360px,#fcfcfc 390px,#f9f9f9 420px,#f6f6f6 450px,#f2f2f2 480px,#ebebeb 510px,#e0e0e0 540px,#cfcfcf 570px,#bababa 600px,#a0a0a0 629px)"></i><i style="left:606px;background:linear-gradient(#00000000 0px,#00000000 191px,#00000003 210.25px,#00000005 212px,#0000000a 213.25px,#0000000d 213.75px,#00000013 214.25px,#0000001f 214.75px,#00000028 215px,#00000035 215.25px,#0000004a 215.5px,#00000068 215.75px,#00000093 216px,#000000b8 216.25px,#000000c0 216.5px,#000000ad 216.75px,#00000082 217px,#00000053 217.25px,#00000036 217.5px,#00000025 217.75px,#0000001b 218px,#0000000f 218.5px,#0000000a 219px,#00000007 219.5px,#00000003 220.75px,#00000002 223px,#00000000 242.75px,#00000000 629px)"></i><i class="n" style="left:608px;background:linear-gradient(#ffffff 0px,#ffffff 30px,#fefefe 60px,#fefefe 90px,#fbfbfb 110.25px,#f8f8f8 115.75px,#f3f3f3 120px,#f1f1f1 121.5px,#e6e6e6 124.5px,#d1d1d1 127.25px,#989898 130px,#919191 130.25px,#434343 132.25px,#212121 133px,#4f4f4f 133.75px,#bdbdbd 135.75px,#c5c5c5 136px,#e7e7e7 138.75px,#f2f2f2 141.5px,#f8f8f8 144.5px,#fbfbfb 150px,#fefefe 180px,#ffffff 210px,#ffffff 240px,#ffffff 270px,#ffffff 300px,#ffffff 330px,#fefefe 360px,#fcfcfc 390px,#f9f9f9 420px,#f6f6f6 450px,#f2f2f2 480px,#ebebeb 510px,#e0e0e0 540px,#cfcfcf 570px,#b9b9b9 600px,#a0a0a0 629px)"></i><i style="left:608px;background:linear-gradient(#00000000 0px,#00000000 191px,#00000001 204.5px,#00000003 209.75px,#00000006 211.5px,#0000000b 212.75px,#00000013 213.5px,#0000001d 214px,#00000026 214.25px,#00000033 214.5px,#00000046 214.75px,#00000063 215px,#0000008d 215.25px,#000000b5 215.5px,#000000bf 215.75px,#000000ae 216px,#00000085 216.25px,#00000055 216.5px,#00000037 216.75px,#00000025 217px,#0000001b 217.25px,#0000000f 217.75px,#0000000a 218.25px,#00000007 218.75px,#00000003 220px,#00000001 222.25px,#00000000 241.5px,#00000000 629px)"></i><i class="n" style="left:610px;background:linear-gradient(#ffffff 0px,#ffffff 30px,#fefefe 60px,#fefefe 90px,#fbfbfb 110.25px,#f8f8f8 115.75px,#f2f2f2 120px,#efefef 121.5px,#e3e3e3 124.5px,#c9c9c9 127.25px,#808080 130px,#7b7b7b 130.25px,#666666 133px,#cccccc 135.75px,#d1d1d1 136px,#e9e9e9 138.5px,#ebebeb 138.75px,#f4f4f4 141.75px,#f8f8f8 144.5px,#fcfcfc 150px,#fefefe 180px,#ffffff 210px,#ffffff 240px,#ffffff 270px,#ffffff 300px,#ffffff 330px,#fefefe 360px,#fcfcfc 390px,#f9f9f9 420px,#f6f6f6 450px,#f2f2f2 480px,#ebebeb 510px,#e0e0e0 540px,#cfcfcf 570px,#b9b9b9 600px,#a0a0a0 629px)"></i><i style="left:610px;background:linear-gradient(#00000000 0px,#00000000 190.25px,#00000001 203.75px,#00000003 209px,#00000005 210.75px,#0000000b 212px,#00000012 212.75px,#0000001c 213.25px,#00000024 213.5px,#00000031 213.75px,#00000043 214px,#0000005f 214.25px,#000000b1 214.75px,#000000be 215px,#000000b0 215.25px,#00000088 215.5px,#00000057 215.75px,#00000038 216px,#00000025 216.25px,#0000001a 216.5px,#0000000f 217px,#00000008 217.75px,#00000004 219px,#00000002 221.25px,#00000000 240.25px,#00000000 629px)"></i><i class="n" style="left:612px;background:linear-gradient(#ffffff 0px,#ffffff 30px,#fefefe 60px,#fefefe 90px,#fbfbfb 110.25px,#f7f7f7 115.75px,#f1f1f1 120px,#eeeeee 121.5px,#dfdfdf 124.5px,#bfbfbf 127.25px,#5e5e5e 130px,#5a5a5a 130.25px,#8f8f8f 133px,#d6d6d6 135.75px,#dadada 136px,#eeeeee 138.75px,#f5f5f5 141.5px,#f9f9f9 144.5px,#fcfcfc 150px,#fefefe 180px,#ffffff 210px,#ffffff 240px,#ffffff 270px,#ffffff 300px,#ffffff 330px,#fefefe 360px,#fcfcfc 390px,#f9f9f9 420px,#f6f6f6 450px,#f2f2f2 480px,#ebebeb 510px,#dfdfdf 540px,#cfcfcf 570px,#b9b9b9 600px,#a0a0a0 629px)"></i><i style="left:612px;background:linear-gradient(#00000000 0px,#00000000 189.5px,#00000003 208.25px,#00000005 210px,#0000000a 211.25px,#00000011 212px,#0000001b 212.5px,#00000023 212.75px,#0000002e 213px,#00000040 213.25px,#0000005b 213.5px,#00000082 213.75px,#000000ae 214px,#000000bd 214.25px,#000000b1 214.5px,#0000008c 214.75px,#00000059 215px,#00000038 215.25px,#00000025 215.5px,#0000001a 215.75px,#0000000f 216.25px,#00000008 217px,#00000004 218.25px,#00000001 220.5px,#00000000 239px,#00000000 629px)"></i><i class="n" style="left:614px;background:linear-gradient(#ffffff 0px,#ffffff 30px,#fefefe 60px,#fefefe 90px,#fafafa 110.25px,#f7f7f7 115.75px,#efefef 120px,#ececec 121.5px,#dadada 124.5px,#b2b2b2 127.25px,#515151 129.25px,#292929 130px,#262626 130.25px,#4d4d4d 131px,#aaaaaa 133px,#dedede 135.75px,#e1e1e1 136px,#f0f0f0 138.75px,#f6f6f6 141.5px,#fcfcfc 150px,#fefefe 180px,#ffffff 210px,#ffffff 240px,#ffffff 270px,#ffffff 300px,#ffffff 330px,#fefefe 360px,#fcfcfc 390px,#f9f9f9 420px,#f6f6f6 450px,#f2f2f2 480px,#ebebeb 510px,#dfdfdf 540px,#cfcfcf 570px,#b9b9b9 600px,#a0a0a0 629px)"></i><i style="left:614px;background:linear-gradient(#00000000 0px,#00000000 188.75px,#00000003 207.5px,#00000005 209.25px,#0000000a 210.5px,#0000000e 211px,#00000014 211.5px,#00000021 212px,#0000002c 212.25px,#0000003d 212.5px,#00000057 212.75px,#0000007d 213px,#000000aa 213.25px,#000000bc 213.5px,#000000b2 213.75px,#0000008f 214px,#0000005c 214.25px,#00000039 214.5px,#00000026 214.75px,#0000001a 215px,#00000013 215.25px,#0000000f 215.5px,#00000008 216.25px,#00000004 217.5px,#00000001 219.75px,#00000000 238px,#00000000 629px)"></i></div>
<svg width="1347" height="715" viewBox="0 0 1347 715" font-family="'Liberation Sans',sans-serif" fill="#1f1f1f"><style>text{fill:#111;stroke:#111;stroke-width:.3px}</style><rect x="122.9" y="7.1" width="614.6" height="628.8" fill="none" stroke="#1f1f1f" stroke-width="2.1"/>
<path d="M150.84 7.1v7.3 M150.84 635.9v-7.3 M262.58 7.1v7.3 M262.58 635.9v-7.3 M374.33 7.1v7.3 M374.33 635.9v-7.3 M486.07 7.1v7.3 M486.07 635.9v-7.3 M597.82 7.1v7.3 M597.82 635.9v-7.3 M709.56 7.1v7.3 M709.56 635.9v-7.3 M122.9 607.32h7.3 M737.5 607.32h-7.3 M122.9 464.41h7.3 M737.5 464.41h-7.3 M122.9 321.5h7.3 M737.5 321.5h-7.3 M122.9 178.59h7.3 M737.5 178.59h-7.3 M122.9 35.68h7.3 M737.5 35.68h-7.3 " stroke="#1f1f1f" stroke-width="2" fill="none"/>
<clipPath id="cpb"><rect x="994.1" y="7.1" width="351.30000000000007" height="628.8"/></clipPath>
<path d="M1328.62 7.1 1328.24 88 1327.97 117.05 1327.61 140.8 1327.15 160.55 1326.58 176.95 1325.85 190.75 1324.96 202.4 1324.42 207.75 1323.83 212.65 1323.17 217.2 1322.44 221.4 1321.64 225.3 1320.75 228.95 1319.78 232.3 1318.72 235.45 1317.55 238.4 1316.27 241.15 1314.87 243.75 1313.36 246.15 1311.72 248.4 1309.91 250.55 1307.98 252.55 1305.87 254.45 1304.58 255.5 1303.24 256.5 1301.8 257.5 1300.33 258.45 1298.74 259.4 1297.12 260.3 1295.47 261.15 1293.7 262 1291.92 262.8 1290.01 263.6 1287.96 264.4 1285.9 265.15 1283.7 265.9 1281.5 266.6 1279.16 267.3 1276.66 268 1273.99 268.7 1271.35 269.35 1268.53 270 1265.77 270.6 1262.84 271.2 1259.73 271.8 1256.43 272.4 1253.22 272.95 1249.83 273.5 1246.23 274.05 1242.43 274.6 1238.77 275.1 1234.92 275.6 1230.85 276.1 1226.55 276.6 1222.47 277.05 1218.18 277.5 1213.66 277.95 1208.9 278.4 1204.44 278.8 1199.76 279.2 1194.84 279.6 1189.67 280 1184.21 280.4 1179.19 280.75 1173.91 281.1 1168.37 281.45 1162.54 281.8 1156.4 282.15 1150.87 282.45 1144.09 282.8 1137.98 283.1 1131.57 283.4 1124.85 283.7 1117.81 284 1111.68 284.25 1104.02 284.55 1097.36 284.8 1090.46 285.05 1081.85 285.35 1074.41 285.6 1066.74 285.85 1058.84 286.1 1050.73 286.35 1039.06 286.7 1027.07 287.05 1013.08 287.45 995.34 287.95 994.72 288 1013.35 288.45 1025.59 288.75 1037.6 289.05 1049.29 289.35 1055 289.5 1060.6 289.65 1069.7 289.9 1078.48 290.15 1086.93 290.4 1095.03 290.65 1102.8 290.9 1110.23 291.15 1114.53 291.3 1118.71 291.45 1125.42 291.7 1129.3 291.85 1133.07 292 1136.74 292.15 1140.31 292.3 1147.16 292.6 1153.64 292.9 1156.75 293.05 1160.77 293.25 1166.55 293.55 1172.92 293.9 1178.93 294.25 1184.61 294.6 1189.99 294.95 1195.79 295.35 1201.25 295.75 1206.41 296.15 1211.28 296.55 1216.45 297 1221.31 297.45 1225.9 297.9 1230.22 298.35 1234.29 298.8 1238.56 299.3 1242.57 299.8 1246.34 300.3 1249.88 300.8 1253.54 301.35 1256.97 301.9 1260.18 302.45 1263.46 303.05 1266.51 303.65 1269.36 304.25 1272.03 304.85 1274.72 305.5 1277.22 306.15 1279.73 306.85 1282.05 307.55 1284.21 308.25 1286.35 309 1288.34 309.75 1290.29 310.55 1292.1 311.35 1293.87 312.2 1295.51 313.05 1297.1 313.95 1298.57 314.85 1300 315.8 1301.37 316.8 1302.7 317.85 1303.91 318.9 1305.12 320.05 1306.23 321.2 1308.28 323.65 1309.53 325.4 1310.72 327.3 1311.79 329.25 1312.8 331.35 1313.72 333.55 1314.56 335.9 1315.34 338.4 1316.05 341.05 1316.71 343.95 1317.29 347 1318.2 353.5 1318.76 360.3 1318.89 363.6 1318.92 366.75 1318.73 371.05 1318.29 374.5 1317.97 375.95 1317.58 377.2 1317.12 378.3 1316.56 379.3 1315.93 380.15 1315.2 380.9 1314.32 381.6 1313.34 382.2 1312.19 382.75 1310.86 383.25 1309.33 383.7 1307.62 384.1 1306.05 384.4 1304.15 384.7 1303.05 384.85 1301.84 385 1300.48 385.15 1299.5 385.25 1297.88 385.4 1296.69 385.5 1295.4 385.6 1294.01 385.7 1292.49 385.8 1290.85 385.9 1289.06 386 1287.1 386.1 1284.96 386.2 1282.61 386.3 1280.03 386.4 1278.65 386.45 1275.67 386.55 1274.06 386.6 1270.6 386.7 1268.73 386.75 1266.76 386.8 1264.68 386.85 1262.49 386.9 1260.18 386.95 1257.74 387 1255.17 387.05 1252.44 387.1 1249.57 387.15 1246.53 387.2 1243.31 387.25 1239.9 387.3 1236.3 387.35 1232.48 387.4 1228.44 387.45 1224.16 387.5 1219.62 387.55 1214.82 387.6 1209.73 387.65 1204.35 387.7 1198.65 387.75 1192.62 387.8 1186.24 387.85 1179.51 387.9 1172.4 387.95 1164.91 388 1157.02 388.05 1148.73 388.1 1140.04 388.15 1130.93 388.2 1121.41 388.25 1111.49 388.3 1101.17 388.35 1090.49 388.4 1079.44 388.45 1068.08 388.5 1056.42 388.55 1044.5 388.6 1032.37 388.65 1020.08 388.7 995.21 388.8 998.72 388.85 1328.81 392.1 1329.21 392.15 1324.43 395.8 1324.7 397.95 1324.67 400.95 1324.34 405.35 1323.66 411.8 1319.99 441.65 1315.19 479.15 1314.25 485.9 1313.32 491.8 1312.28 497.75 1311.14 503.7 1309.9 509.65 1308.56 515.6 1307.12 521.55 1305.57 527.5 1303.93 533.45 1302.05 539.85 1300.04 546.25 1297.93 552.65 1295.69 559.05 1293.34 565.45 1290.87 571.85 1288.28 578.25 1285.58 584.65 1282.76 591.05 1279.82 597.45 1276.77 603.85 1273.59 610.25 1270.3 616.65 1266.9 623.05 1263.37 629.45 1259.71 635.9" fill="none" stroke="#EDB120" stroke-width="1.9" stroke-linejoin="round" clip-path="url(#cpb)"/>
<path d="M1328.69 7.1 1328.36 74.9 1328.12 98.95 1327.8 118.45 1327.4 134.55 1326.87 147.9 1326.22 159 1325.41 168.35 1324.36 176.55 1323.75 180.2 1323.07 183.55 1322.32 186.65 1321.5 189.5 1320.6 192.15 1319.59 194.65 1318.48 197 1317.27 199.15 1315.97 201.15 1314.52 203.05 1312.97 204.8 1311.28 206.45 1309.45 208 1307.41 209.5 1306.11 210.35 1304.78 211.15 1303.44 211.9 1301.99 212.65 1300.53 213.35 1298.95 214.05 1297.25 214.75 1295.55 215.4 1293.71 216.05 1291.89 216.65 1289.94 217.25 1287.85 217.85 1285.79 218.4 1283.59 218.95 1281.23 219.5 1278.95 220 1276.51 220.5 1273.91 221 1271.14 221.5 1268.48 221.95 1265.66 222.4 1262.67 222.85 1259.49 223.3 1256.11 223.75 1252.51 224.2 1249.12 224.6 1245.53 225 1241.73 225.4 1237.71 225.8 1233.99 226.15 1229.5 226.55 1225.34 226.9 1220.96 227.25 1216.34 227.6 1211.45 227.95 1207.04 228.25 1202.41 228.55 1197.53 228.85 1192.4 229.15 1186.99 229.45 1181.28 229.75 1176.27 230 1171.01 230.25 1165.5 230.5 1159.7 230.75 1153.59 231 1147.17 231.25 1140.39 231.5 1133.25 231.75 1127.25 231.95 1121 232.15 1114.47 232.35 1107.66 232.55 1100.57 232.75 1093.18 232.95 1085.51 233.15 1079.56 233.3 1071.39 233.5 1062.94 233.7 1054.24 233.9 1043.03 234.15 1036.14 234.3 1029.16 234.45 1014.95 234.75 995.69 235.15 995.12 235.2 1012.95 235.5 1027.6 235.75 1036.22 235.9 1041.89 236 1052.99 236.2 1061.08 236.35 1066.35 236.45 1071.52 236.55 1076.59 236.65 1081.55 236.75 1086.4 236.85 1091.15 236.95 1095.78 237.05 1100.3 237.15 1104.71 237.25 1109 237.35 1113.2 237.45 1117.28 237.55 1121.26 237.65 1125.13 237.75 1130.75 237.9 1137.91 238.1 1141.35 238.2 1146.35 238.35 1152.71 238.55 1155.77 238.65 1160.22 238.8 1163.09 238.9 1167.27 239.05 1173.91 239.3 1180.16 239.55 1183.74 239.7 1187.2 239.85 1190.54 240 1193.78 240.15 1199.95 240.45 1205.75 240.75 1211.2 241.05 1216.33 241.35 1221.96 241.7 1227.22 242.05 1232.15 242.4 1236.78 242.75 1241.73 243.15 1246.33 243.55 1250.63 243.95 1254.63 244.35 1258.38 244.75 1261.87 245.15 1265.54 245.6 1268.94 246.05 1272.11 246.5 1275.05 246.95 1278.08 247.45 1280.88 247.95 1283.48 248.45 1286.11 249 1288.53 249.55 1290.77 250.1 1293.02 250.7 1295.08 251.3 1297.12 251.95 1298.99 252.6 1300.71 253.25 1302.4 253.95 1304.06 254.7 1305.56 255.45 1307.02 256.25 1308.43 257.1 1309.7 257.95 1310.93 258.85 1312.03 259.75 1313.15 260.75 1314.15 261.75 1316 263.9 1317.67 266.3 1319.06 268.8 1320.28 271.5 1321.37 274.5 1322.33 277.85 1323.17 281.55 1323.91 285.65 1324.54 290.2 1325.09 295.3 1325.65 302.25 1326.12 310.25 1326.5 319.6 1326.78 329.9 1326.73 330.05 1325.06 330.1 1326.81 330.15 1321.47 330.4 1326.83 330.65 1327.05 348.85 1327.02 356.65 1326.89 363.7 1326.53 373 1325.92 382.2 1325.02 392.2 1323.68 404.45 1320.6 429.85 1314.29 479.85 1313.08 488 1311.59 496.2 1309.72 504.9 1307.52 513.65 1305.04 522.35 1302.23 531.1 1299.13 539.8 1295.7 548.55 1291.96 557.3 1287.92 566.05 1283.59 574.75 1278.93 583.5 1273.99 592.2 1268.71 600.95 1263.16 609.65 1257.27 618.4 1251.07 627.15 1244.56 635.9" fill="none" stroke="#E8141C" stroke-width="1.9" stroke-linejoin="round" clip-path="url(#cpb)"/>
<path d="M1328.71 7.1 1328.41 59.8 1328.18 78.4 1327.88 93.45 1327.48 105.85 1326.99 116.05 1326.36 124.55 1325.58 131.7 1324.56 138 1323.97 140.75 1323.32 143.3 1322.59 145.65 1321.78 147.85 1320.91 149.85 1319.92 151.75 1318.85 153.5 1317.66 155.15 1316.4 156.65 1314.97 158.1 1313.41 159.45 1311.74 160.7 1309.97 161.85 1308.01 162.95 1305.53 164.15 1304.13 164.75 1302.74 165.3 1301.24 165.85 1299.61 166.4 1298.01 166.9 1296.29 167.4 1294.43 167.9 1292.63 168.35 1290.7 168.8 1288.86 169.2 1286.65 169.65 1284.53 170.05 1282.27 170.45 1279.86 170.85 1277.27 171.25 1274.85 171.6 1272.28 171.95 1269.54 172.3 1266.63 172.65 1263.53 173 1260.22 173.35 1257.21 173.65 1253.48 174 1250.07 174.3 1246.47 174.6 1242.66 174.9 1238.62 175.2 1235.06 175.45 1230.55 175.75 1226.58 176 1222.4 176.25 1218 176.5 1213.36 176.75 1208.45 177 1203.27 177.25 1198.91 177.45 1193.17 177.7 1188.32 177.9 1183.23 178.1 1177.88 178.3 1172.25 178.5 1166.31 178.7 1160.04 178.9 1153.41 179.1 1146.41 179.3 1140.88 179.45 1137.06 179.55 1133.13 179.65 1127.02 179.8 1120.63 179.95 1113.97 180.1 1109.36 180.2 1104.62 180.3 1097.27 180.45 1089.61 180.6 1081.65 180.75 1073.4 180.9 1064.86 181.05 1056.05 181.2 1046.99 181.35 1037.7 181.5 1025.03 181.7 1012.1 181.9 995.75 182.15 996.21 182.2 1008.88 182.35 1021.43 182.5 1029.69 182.6 1037.83 182.7 1045.82 182.8 1053.65 182.9 1061.31 183 1068.76 183.1 1076.01 183.2 1079.56 183.25 1086.48 183.35 1089.86 183.4 1096.45 183.5 1099.67 183.55 1105.92 183.65 1108.97 183.7 1114.9 183.8 1117.78 183.85 1123.39 183.95 1126.12 184 1131.42 184.1 1139.01 184.25 1146.19 184.4 1150.76 184.5 1155.17 184.6 1161.49 184.75 1165.52 184.85 1169.41 184.95 1173.16 185.05 1176.8 185.15 1180.31 185.25 1183.71 185.35 1187.01 185.45 1190.2 185.55 1193.29 185.65 1197.75 185.8 1200.62 185.9 1204.76 186.05 1207.43 186.15 1211.28 186.3 1213.76 186.4 1217.35 186.55 1223.02 186.8 1228.33 187.05 1231.35 187.2 1234.25 187.35 1238.85 187.6 1243.99 187.9 1248.77 188.2 1253.2 188.5 1257.32 188.8 1261.77 189.15 1265.3 189.45 1269.11 189.8 1272.63 190.15 1275.88 190.5 1278.88 190.85 1282.04 191.25 1284.93 191.65 1287.59 192.05 1290.03 192.45 1292.54 192.9 1294.83 193.35 1296.93 193.8 1299.05 194.3 1300.98 194.8 1302.73 195.3 1304.49 195.85 1306.08 196.4 1307.66 197 1309.08 197.6 1310.47 198.25 1311.72 198.9 1312.94 199.6 1314.11 200.35 1315.15 201.1 1316.15 201.9 1317.1 202.75 1318 203.65 1318.84 204.6 1320.32 206.6 1321.63 208.85 1322.39 210.45 1323.07 212.15 1323.7 214 1324.26 216 1325.24 220.5 1326.03 225.75 1326.69 232.35 1327.19 240.2 1327.52 249.35 1327.57 256.9 1327.45 260 1327.2 262.3 1326.81 264 1326.23 265.3 1325.84 265.85 1325.41 266.3 1324.91 266.7 1324.26 267.1 1323.5 267.45 1322.65 267.75 1321.75 268 1320.61 268.25 1319.46 268.45 1318.03 268.65 1317.18 268.75 1316.21 268.85 1314.52 269 1312.44 269.15 1310.78 269.25 1309.86 269.3 1307.78 269.4 1306.61 269.45 1305.34 269.5 1303.96 269.55 1302.45 269.6 1300.81 269.65 1299.01 269.7 1297.03 269.75 1294.85 269.8 1292.46 269.85 1289.81 269.9 1286.87 269.95 1283.61 270 1279.98 270.05 1275.93 270.1 1271.39 270.15 1266.29 270.2 1260.57 270.25 1254.11 270.3 1246.82 270.35 1238.57 270.4 1229.24 270.45 1218.67 270.5 1206.7 270.55 1193.18 270.6 1177.96 270.65 1160.89 270.7 1141.89 270.75 1120.93 270.8 1098.05 270.85 1073.44 270.9 1047.37 270.95 1020.27 271 1002.14 271.05 1026 271.1 1055.53 271.15 1083.66 271.2 1109.88 271.25 1133.89 271.3 1155.55 271.35 1174.86 271.4 1191.93 271.45 1206.91 271.5 1220.02 271.55 1231.47 271.6 1241.46 271.65 1250.18 271.7 1257.8 271.75 1264.48 271.8 1270.35 271.85 1275.51 271.9 1280.07 271.95 1284.11 272 1287.7 272.05 1290.9 272.1 1293.76 272.15 1296.33 272.2 1298.64 272.25 1300.72 272.3 1302.6 272.35 1304.31 272.4 1305.86 272.45 1307.27 272.5 1308.57 272.55 1309.75 272.6 1311.84 272.7 1313.61 272.8 1315.12 272.9 1316.43 273 1317.56 273.1 1318.54 273.2 1319.41 273.3 1320.17 273.4 1321.16 273.55 1322.47 273.8 1323.66 274.1 1324.67 274.45 1325.52 274.85 1326.2 275.3 1326.79 275.85 1327.27 276.5 1327.76 277.5 1328.12 278.75 1328.38 280.35 1328.58 282.4 1328.81 288.65 1328.91 300.25 1328.93 332.15 1328.78 351.95 1328.4 365.9 1328.1 372.1 1327.7 378.15 1326.6 390.35 1324.84 405.85 1321.98 428.65 1315.32 480.4 1314.34 486.7 1313.15 493 1311.75 499.3 1310.12 505.65 1307.73 513.75 1304.96 521.9 1301.84 530.05 1298.37 538.2 1294.56 546.3 1290.37 554.45 1285.83 562.6 1280.93 570.75 1275.7 578.85 1270.09 587 1264.12 595.15 1257.8 603.3 1251.12 611.45 1244.08 619.6 1236.68 627.75 1228.93 635.9" fill="none" stroke="#7E2F8E" stroke-width="1.9" stroke-linejoin="round" clip-path="url(#cpb)"/>
<rect x="994.1" y="7.1" width="351.3" height="628.8" fill="none" stroke="#1f1f1f" stroke-width="2.1"/>
<path d="M1161.55 7.1v7.3 M1161.55 635.9v-7.3 M1329 7.1v7.3 M1329 635.9v-7.3 M994.1 607.32h7.3 M1345.4 607.32h-7.3 M994.1 464.41h7.3 M1345.4 464.41h-7.3 M994.1 321.5h7.3 M1345.4 321.5h-7.3 M994.1 178.59h7.3 M1345.4 178.59h-7.3 M994.1 35.68h7.3 M1345.4 35.68h-7.3 " stroke="#1f1f1f" stroke-width="2" fill="none"/>
<line x1="261.0" y1="5" x2="261.0" y2="636.9" stroke="#EDB120" stroke-width="1.7" stroke-dasharray="6.1 4.885"/>
<line x1="425.6" y1="5" x2="425.6" y2="636.9" stroke="#FF0000" stroke-width="1.7" stroke-dasharray="6.1 4.885"/>
<line x1="597.4" y1="5" x2="597.4" y2="636.9" stroke="#7E2F8E" stroke-width="1.7" stroke-dasharray="6.1 4.885"/>
<text transform="translate(113.1 618.52) rotate(.03) scale(1 1.025)" text-anchor="end" font-size="29.3" >0.82</text>
<text transform="translate(984.4 618.52) rotate(.03) scale(1 1.025)" text-anchor="end" font-size="29.3" >0.82</text>
<text transform="translate(113.1 475.61) rotate(.03) scale(1 1.025)" text-anchor="end" font-size="29.3" >0.87</text>
<text transform="translate(984.4 475.61) rotate(.03) scale(1 1.025)" text-anchor="end" font-size="29.3" >0.87</text>
<text transform="translate(113.1 332.7) rotate(.03) scale(1 1.025)" text-anchor="end" font-size="29.3" >0.92</text>
<text transform="translate(984.4 332.7) rotate(.03) scale(1 1.025)" text-anchor="end" font-size="29.3" >0.92</text>
<text transform="translate(113.1 189.79) rotate(.03) scale(1 1.025)" text-anchor="end" font-size="29.3" >0.97</text>
<text transform="translate(984.4 189.79) rotate(.03) scale(1 1.025)" text-anchor="end" font-size="29.3" >0.97</text>
<text transform="translate(113.1 46.88) rotate(.03) scale(1 1.025)" text-anchor="end" font-size="29.3" >1.02</text>
<text transform="translate(984.4 46.88) rotate(.03) scale(1 1.025)" text-anchor="end" font-size="29.3" >1.02</text>
<text transform="translate(151.04 673.4) rotate(.03) scale(1 1.025)" text-anchor="middle" font-size="29.3" >0.69</text>
<text transform="translate(262.78 673.4) rotate(.03) scale(1 1.025)" text-anchor="middle" font-size="29.3" >0.73</text>
<text transform="translate(374.53 673.4) rotate(.03) scale(1 1.025)" text-anchor="middle" font-size="29.3" >0.77</text>
<text transform="translate(486.27 673.4) rotate(.03) scale(1 1.025)" text-anchor="middle" font-size="29.3" >0.81</text>
<text transform="translate(598.02 673.4) rotate(.03) scale(1 1.025)" text-anchor="middle" font-size="29.3" >0.85</text>
<text transform="translate(709.76 673.4) rotate(.03) scale(1 1.025)" text-anchor="middle" font-size="29.3" >0.89</text>
<text transform="translate(994.1 673.4) rotate(.03) scale(1 1.025)" text-anchor="middle" font-size="29.3" >0</text>
<text transform="translate(1161.55 673.4) rotate(.03) scale(1 1.025)" text-anchor="middle" font-size="29.3" >0.5</text>
<text transform="translate(1329 673.4) rotate(.03) scale(1 1.025)" text-anchor="middle" font-size="29.3" >1</text>
<defs><linearGradient id="cb" x1="0" y1="0" x2="0" y2="1"><stop offset="0" stop-color="#f9f9f9"/><stop offset=".025" stop-color="#f8f8f8"/><stop offset=".05" stop-color="#f7f7f7"/><stop offset=".075" stop-color="#f6f6f6"/><stop offset=".1" stop-color="#f4f4f4"/><stop offset=".125" stop-color="#f2f2f2"/><stop offset=".15" stop-color="#f0f0f0"/><stop offset=".175" stop-color="#ededed"/><stop offset=".2" stop-color="#ebebeb"/><stop offset=".225" stop-color="#e7e7e7"/><stop offset=".25" stop-color="#e4e4e4"/><stop offset=".275" stop-color="#e0e0e0"/><stop offset=".3" stop-color="#dcdcdc"/><stop offset=".325" stop-color="#d7d7d7"/><stop offset=".35" stop-color="#d3d3d3"/><stop offset=".375" stop-color="#cecece"/><stop offset=".4" stop-color="#c9c9c9"/><stop offset=".425" stop-color="#c4c4c4"/><stop offset=".45" stop-color="#bebebe"/><stop offset=".475" stop-color="#b8b8b8"/><stop offset=".5" stop-color="#b2b2b2"/><stop offset=".525" stop-color="#acacac"/><stop offset=".55" stop-color="#a5a5a5"/><stop offset=".575" stop-color="#9e9e9e"/><stop offset=".6" stop-color="#979797"/><stop offset=".625" stop-color="#909090"/><stop offset=".65" stop-color="#898989"/><stop offset=".675" stop-color="#818181"/><stop offset=".7" stop-color="#797979"/><stop offset=".725" stop-color="#717171"/><stop offset=".75" stop-color="#696969"/><stop offset=".775" stop-color="#606060"/><stop offset=".8" stop-color="#575757"/><stop offset=".825" stop-color="#4f4f4f"/><stop offset=".85" stop-color="#454545"/><stop offset=".875" stop-color="#3c3c3c"/><stop offset=".9" stop-color="#323232"/><stop offset=".925" stop-color="#292929"/><stop offset=".95" stop-color="#1f1f1f"/><stop offset=".975" stop-color="#151515"/><stop offset="1" stop-color="#0a0a0a"/></linearGradient></defs>
<rect x="760.4" y="5.9" width="27.5" height="629.4" fill="url(#cb)" stroke="#4a4a4a" stroke-width="1"/>
<line x1="760.4" y1="132.3" x2="787.9" y2="132.3" stroke="#222" stroke-width="1.1"/>
<line x1="760.4" y1="258.4" x2="787.9" y2="258.4" stroke="#222" stroke-width="1.1"/>
<line x1="760.4" y1="384.8" x2="787.9" y2="384.8" stroke="#222" stroke-width="1.1"/>
<line x1="760.4" y1="511.3" x2="787.9" y2="511.3" stroke="#222" stroke-width="1.1"/>
<text transform="translate(796.5 21.1) rotate(.03) scale(1 1.025)" text-anchor="start" font-size="29.3" >1</text>
<text transform="translate(796.5 146.52) rotate(.03) scale(1 1.025)" text-anchor="start" font-size="29.3" >0.8</text>
<text transform="translate(796.5 271.94) rotate(.03) scale(1 1.025)" text-anchor="start" font-size="29.3" >0.6</text>
<text transform="translate(796.5 397.36) rotate(.03) scale(1 1.025)" text-anchor="start" font-size="29.3" >0.4</text>
<text transform="translate(796.5 522.78) rotate(.03) scale(1 1.025)" text-anchor="start" font-size="29.3" >0.2</text>
<text transform="translate(796.5 648.2) rotate(.03) scale(1 1.025)" text-anchor="start" font-size="29.3" >0</text>
<text transform="translate(810.2 324.8) rotate(.03) scale(1 1.025)" text-anchor="start" font-size="29.3" >|<tspan font-style="italic">T</tspan><tspan dx="7.2">|</tspan></text>
<text transform="translate(-1.3 27.8) rotate(.03) scale(1 1)" text-anchor="start" font-size="36.5" >(<tspan font-weight="bold">a</tspan>)</text>
<text transform="translate(869.2 27.8) rotate(.03) scale(1 1)" text-anchor="start" font-size="36.5" >(<tspan font-weight="bold">b</tspan>)</text>
<text transform="translate(40.4 319.3) rotate(-90.03) scale(1 1.025)" text-anchor="middle" font-size="29.3">Normalized frequency <tspan font-style="italic">ω</tspan>/<tspan font-style="italic">ω</tspan><tspan font-size="20.5" dy="6.6">0</tspan></text>
<text transform="translate(913.0 319.3) rotate(-90.03) scale(1 1.025)" text-anchor="middle" font-size="29.3">Normalized frequency <tspan font-style="italic">ω</tspan>/<tspan font-style="italic">ω</tspan><tspan font-size="20.5" dy="6.6">0</tspan></text>
<text transform="translate(401.5 702.5) rotate(.03) scale(1 1.025)" text-anchor="start" font-size="29.3" ><tspan font-style="italic">K</tspan><tspan font-size="18.8" dy="7.2" x="22">3</tspan><tspan dy="-7.2" x="34.5">/</tspan><tspan font-style="italic" x="45.8">K</tspan><tspan font-size="18.8" dy="7.2" x="68">1</tspan></text>
<text transform="translate(1166.5 708.2) rotate(.03) scale(1 1.025)" text-anchor="middle" font-size="29.3" >|<tspan font-style="italic">T</tspan>|</text>
<text transform="translate(458.7 381) rotate(.03) scale(1 1.025)" text-anchor="start" font-size="29.3" >BIC</text>
<line x1="468.1" y1="350.5" x2="440" y2="337.5" stroke="#FF0000" stroke-width="1.9" stroke-linecap="round"/>
<path d="M427.3 331.5L449 331L440.7 348.7Z" fill="#FF0000"/>
<line x1="1040.2" y1="459.7" x2="1107.0" y2="459.7" stroke="#EDB120" stroke-width="2"/>
<text transform="translate(1117.6 470.2) rotate(.03) scale(1 1.025)" text-anchor="start" font-size="29.3" ><tspan font-style="italic">K</tspan><tspan font-size="18.8" dy="7.3" x="17.8">3</tspan><tspan dy="-7.3" x="31.6">/</tspan><tspan font-style="italic" x="41.7">K</tspan><tspan font-size="18.8" dy="7.3" x="59.7">1</tspan><tspan dy="-7.3" x="76.1">=</tspan><tspan x="100.6">0.73</tspan></text>
<line x1="1040.2" y1="499.8" x2="1107.0" y2="499.8" stroke="#FF0000" stroke-width="2"/>
<text transform="translate(1117.6 510.3) rotate(.03) scale(1 1.025)" text-anchor="start" font-size="29.3" ><tspan font-style="italic">K</tspan><tspan font-size="18.8" dy="7.3" x="17.8">3</tspan><tspan dy="-7.3" x="31.6">/</tspan><tspan font-style="italic" x="41.7">K</tspan><tspan font-size="18.8" dy="7.3" x="59.7">1</tspan><tspan dy="-7.3" x="76.1">=</tspan><tspan x="100.6">0.79</tspan></text>
<line x1="1040.2" y1="540.0" x2="1107.0" y2="540.0" stroke="#7E2F8E" stroke-width="2"/>
<text transform="translate(1117.6 550.5) rotate(.03) scale(1 1.025)" text-anchor="start" font-size="29.3" ><tspan font-style="italic">K</tspan><tspan font-size="18.8" dy="7.3" x="17.8">3</tspan><tspan dy="-7.3" x="31.6">/</tspan><tspan font-style="italic" x="41.7">K</tspan><tspan font-size="18.8" dy="7.3" x="59.7">1</tspan><tspan dy="-7.3" x="76.1">=</tspan><tspan x="100.6">0.85</tspan></text></svg>
</body></html>
